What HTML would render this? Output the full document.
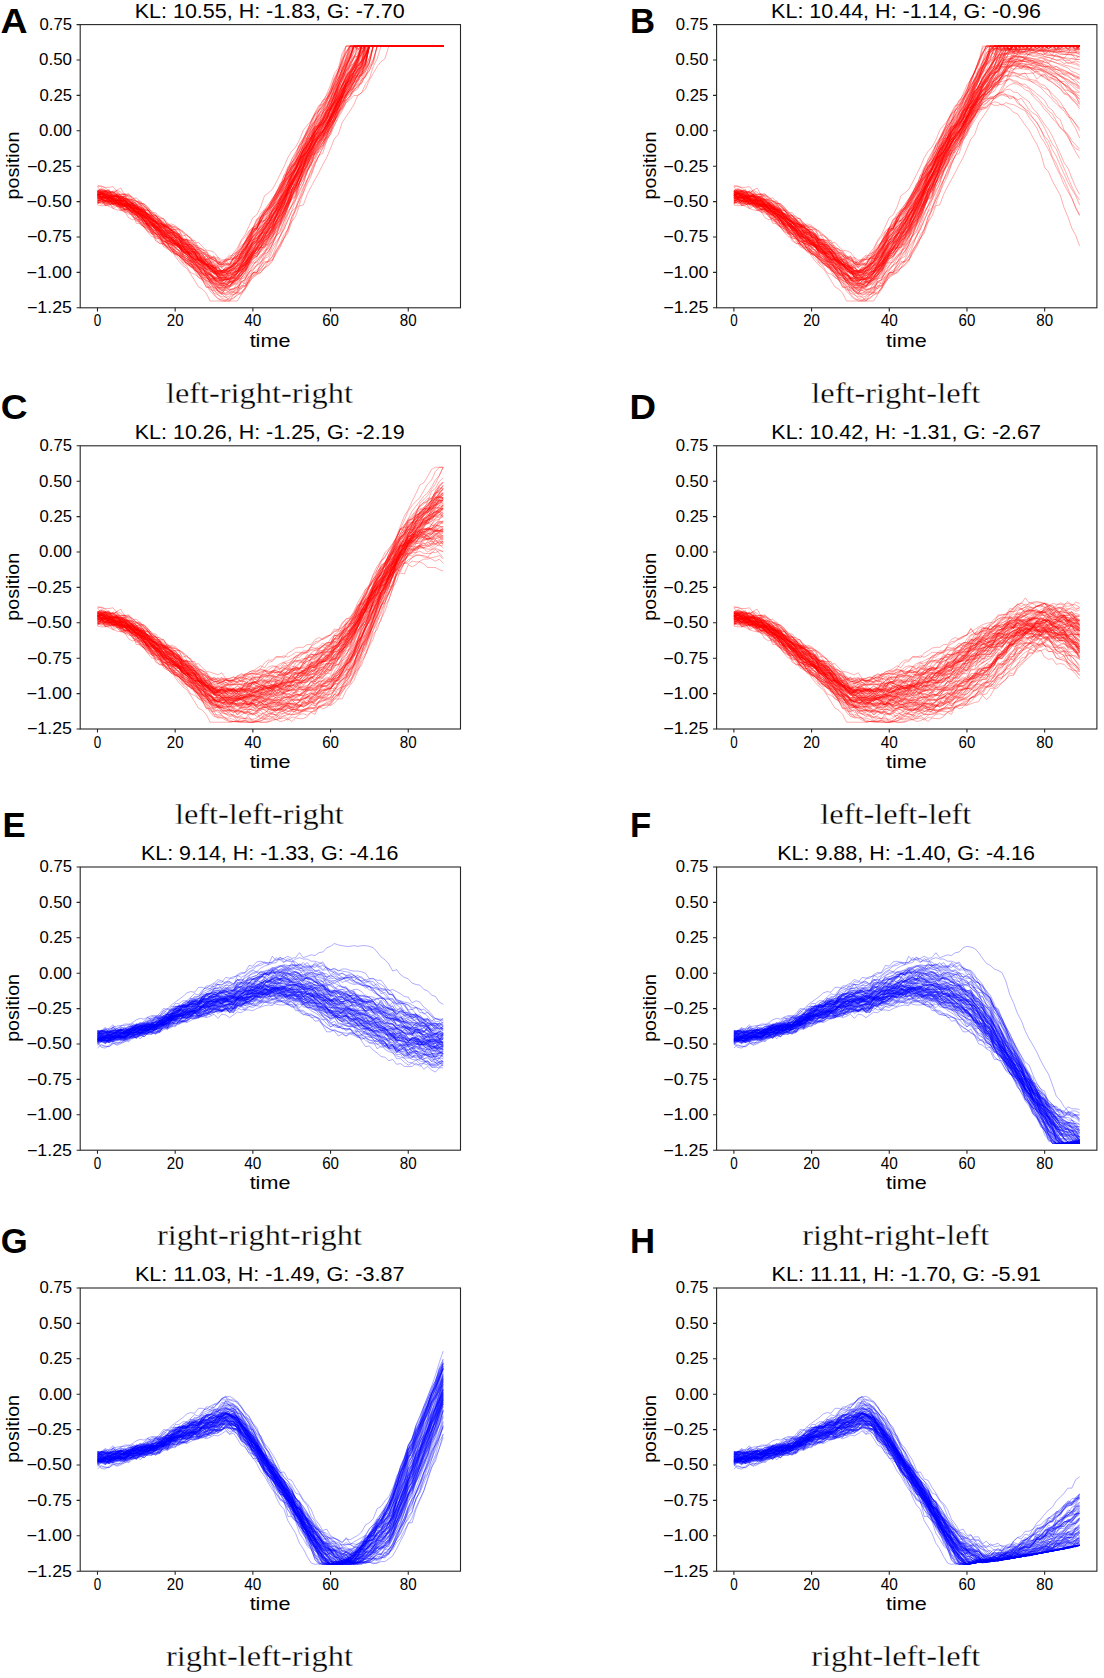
<!DOCTYPE html><html><head><meta charset="utf-8"><style>
html,body{margin:0;padding:0;background:#fff;width:1104px;height:1678px;overflow:hidden}
svg{display:block}
.r{stroke:#f00}.b{stroke:#00f}
use{stroke-width:0.991099132264002;stroke-opacity:0.45}
text{font-family:"Liberation Sans",sans-serif}
.cap{font-family:"Liberation Serif",serif;stroke:#fff;stroke-width:0.3px}
.let{font-weight:bold}
</style></head><body>
<svg width="1104" height="1678" viewBox="0 0 1104 1678">
<defs><g id="rL"><path d="M0 91l5.5-1 5.5 3 5.5 1 5.5-1 5.5 1 5.5 5 5.5 0 5.5-2 5.5 6 5.5-2 5.5-2 5.5 8 5.5 4 5.5 6 5.5 3 5.5 5 5.5-1 5.5 10 5.5 2 5.5 4 5.5 6 5.5 8 5.5 0 5.5 8 5.5 5 5.5 6 5.5 13 5.5 4 5.5 3 5.5 7"/><path d="M0 99l5.5-2 5.5 1 5.5 1 5.5-2 5.5 1 5.5 1 5.5 8 5.5 8 5.5 0 5.5-1 5.5 6 5.5 2 5.5 2 5.5 6 5.5 5 5.5 6 5.5 1 5.5 9 5.5 3 5.5 6 5.5 5 5.5 6 5.5 4 5.5 7 5.5 2 5.5 9 5.5 2 5.5 8 5.5 1 5.5 6"/><path d="M0 85l5.5-2 5.5 1 5.5 2 5.5 1 5.5 3 5.5 1 5.5 5 5.5 8 5.5-1 5.5 2 5.5 8 5.5-3 5.5 13 5.5 7 5.5 6 5.5 9 5.5 3 5.5 2 5.5 4 5.5 5 5.5 5 5.5 7 5.5 2 5.5 5 5.5 5 5.5 6 5.5-1 5.5 9 5.5-2 5.5 5"/><path d="M0 95l5.5 1 5.5-3 5.5 5 5.5 1 5.5 8 5.5-2 5.5 0 5.5 6 5.5 0 5.5 8 5.5-2 5.5 8 5.5 2 5.5 5 5.5 4 5.5 4 5.5 3 5.5 10 5.5 1 5.5 6 5.5 4 5.5-1 5.5 6 5.5 10 5.5 3 5.5 0 5.5 9 5.5-2 5.5 4 5.5 6"/><path d="M0 85l5.5-4 5.5 3 5.5 6 5.5-5 5.5 1 5.5 6 5.5 4 5.5 0 5.5 7 5.5 5 5.5 3 5.5 6 5.5 7 5.5 9 5.5 8 5.5 5 5.5 2 5.5 9 5.5 3 5.5 10 5.5 8 5.5 3 5.5 7 5.5 5 5.5 5 5.5 10 5.5 2 5.5 12 5.5 0 5.5 9"/><path d="M0 104l5.5-4 5.5 5 5.5 0 5.5-3 5.5 3 5.5 3 5.5 3 5.5 5 5.5 2 5.5 13 5.5 0 5.5 5 5.5 3 5.5 2 5.5 9 5.5 0 5.5 10 5.5 5 5.5 0 5.5 10 5.5 2 5.5 5 5.5 8 5.5 1 5.5 5 5.5 6 5.5 6 5.5 4 5.5 5 5.5 6"/><path d="M0 91l5.5-2 5.5 0 5.5 2 5.5 2 5.5 0 5.5 2 5.5 3 5.5 8 5.5 2 5.5 0 5.5 9 5.5 6 5.5 9 5.5 2 5.5 2 5.5 7 5.5 8 5.5 9 5.5-1 5.5 6 5.5 4 5.5 7 5.5 6 5.5 3 5.5 11 5.5 4 5.5 9 5.5 3 5.5 2 5.5 7"/><path d="M0 97l5.5-3 5.5 1 5.5 3 5.5 5 5.5-1 5.5-2 5.5 5 5.5 0 5.5 4 5.5 6 5.5 2 5.5 2 5.5 8 5.5 5 5.5 2 5.5 3 5.5 3 5.5 7 5.5 3 5.5 4 5.5 1 5.5 8 5.5 2 5.5 3 5.5-1 5.5 7 5.5 9 5.5-1 5.5 2 5.5 7"/><path d="M0 87l5.5 2 5.5 3 5.5 5 5.5-1 5.5 1 5.5 8 5.5 0 5.5 7 5.5 3 5.5 4 5.5 10 5.5 3 5.5 6 5.5 4 5.5 3 5.5 6 5.5 6 5.5 1 5.5 11 5.5-2 5.5 3 5.5 10 5.5 8 5.5 2 5.5 5 5.5 3 5.5 8 5.5 5 5.5 4 5.5 0"/><path d="M0 86l5.5 1 5.5 0 5.5 5 5.5 4 5.5-4 5.5 8 5.5-1 5.5 4 5.5 4 5.5 5 5.5 4 5.5 5 5.5 6 5.5 6 5.5 2 5.5 5 5.5 1 5.5 10 5.5 1 5.5 4 5.5 8 5.5 11 5.5-3 5.5 7 5.5 10 5.5 7 5.5-4 5.5 13 5.5-2 5.5 7"/><path d="M0 94l5.5-1 5.5 2 5.5 4 5.5 6 5.5-4 5.5 3 5.5 2 5.5 6 5.5 3 5.5 5 5.5 4 5.5 2 5.5 11 5.5 9 5.5 0 5.5 5 5.5 7 5.5 6 5.5 2 5.5 3 5.5 5 5.5 4 5.5 3 5.5 9 5.5-1 5.5 5 5.5 6 5.5 3 5.5 6 5.5 1"/><path d="M0 91l5.5 2 5.5 1 5.5 0 5.5 4 5.5 2 5.5 1 5.5 2 5.5 2 5.5 0 5.5 5 5.5-1 5.5 9 5.5-1 5.5 4 5.5 4 5.5 2 5.5 5 5.5 3 5.5 4 5.5 8 5.5 6 5.5 7 5.5 3 5.5 1 5.5 11 5.5 8 5.5 6 5.5 5 5.5-1 5.5 5"/><path d="M0 99l5.5-2 5.5 7 5.5-4 5.5 1 5.5 1 5.5 1 5.5 2 5.5 0 5.5 5 5.5 0 5.5 3 5.5 7 5.5 8 5.5 3 5.5 2 5.5 10 5.5 1 5.5 0 5.5 6 5.5 3 5.5 9 5.5 3 5.5 5 5.5 6 5.5 6 5.5 4 5.5 2 5.5 11 5.5 3 5.5 6"/><path d="M0 94l5.5-5 5.5-1 5.5 4 5.5-4 5.5 5 5.5 1 5.5 2 5.5 8 5.5 4 5.5 3 5.5 6 5.5 3 5.5 5 5.5 1 5.5 8 5.5 8 5.5 4 5.5 1 5.5 3 5.5 9 5.5 2 5.5 8 5.5-3 5.5 4 5.5 5 5.5 5 5.5 4 5.5 3 5.5 4 5.5 1"/><path d="M0 94l5.5-1 5.5-3 5.5 9 5.5 6 5.5-3 5.5 9 5.5 2 5.5 2 5.5 6 5.5 7 5.5 1 5.5 7 5.5 6 5.5 3 5.5 11 5.5 3 5.5 1 5.5 7 5.5 3 5.5 3 5.5 4 5.5 1 5.5 3 5.5 3 5.5 2 5.5 1 5.5 8 5.5-1 5.5 6 5.5-3"/><path d="M0 95l5.5-2 5.5 3 5.5-2 5.5 2 5.5 0 5.5 7 5.5 0 5.5 3 5.5 5 5.5 5 5.5 2 5.5 3 5.5 5 5.5 7 5.5 5 5.5 0 5.5 9 5.5 2 5.5 7 5.5 5 5.5 5 5.5 6 5.5 3 5.5 7 5.5 8 5.5 0 5.5 3 5.5 11 5.5 6 5.5 3"/><path d="M0 92l5.5-8 5.5 6 5.5 2 5.5 2 5.5 4 5.5 1 5.5 0 5.5 5 5.5 5 5.5 5 5.5 3 5.5 2 5.5 8 5.5 6 5.5 6 5.5 2 5.5 5 5.5 2 5.5 4 5.5 8 5.5-2 5.5 7 5.5-2 5.5 7 5.5 4 5.5 8 5.5-6 5.5 9 5.5 3 5.5 6"/><path d="M0 87l5.5 3 5.5 1 5.5-4 5.5 4 5.5 3 5.5 2 5.5 1 5.5 0 5.5 1 5.5 2 5.5 5 5.5 7 5.5 1 5.5 4 5.5 3 5.5 7 5.5 3 5.5 6 5.5-2 5.5 2 5.5 4 5.5 4 5.5 9 5.5 3 5.5 6 5.5 5 5.5 6 5.5-1 5.5 8 5.5 7"/><path d="M0 97l5.5-7 5.5 2 5.5 3 5.5 0 5.5 0 5.5 3 5.5-2 5.5 3 5.5 6 5.5 4 5.5 2 5.5-1 5.5 4 5.5 8 5.5-2 5.5 6 5.5 2 5.5 5 5.5-1 5.5 2 5.5 5 5.5 3 5.5 5 5.5 6 5.5 6 5.5 7 5.5 5 5.5 5 5.5 2 5.5 5"/><path d="M0 92l5.5 1 5.5 1 5.5 1 5.5 3 5.5 3 5.5 1 5.5 2 5.5 4 5.5 1 5.5 8 5.5 0 5.5 7 5.5 5 5.5 2 5.5 8 5.5 0 5.5 7 5.5 3 5.5 4 5.5 7 5.5 1 5.5 5 5.5 1 5.5 11 5.5 1 5.5 9 5.5 4 5.5 4 5.5 7 5.5 6"/><path d="M0 95l5.5 0 5.5 4 5.5 2 5.5-1 5.5 2 5.5 1 5.5-5 5.5 9 5.5-1 5.5 4 5.5 3 5.5 3 5.5 5 5.5 6 5.5 2 5.5 3 5.5 10 5.5 4 5.5 7 5.5 3 5.5 5 5.5 6 5.5 2 5.5 9 5.5 2 5.5 8 5.5 2 5.5 6 5.5 6 5.5 4"/><path d="M0 105l5.5 1 5.5 0 5.5-1 5.5-3 5.5 1 5.5 8 5.5 0 5.5 1 5.5 8 5.5 5 5.5 1 5.5 2 5.5 5 5.5 6 5.5 2 5.5 8 5.5 11 5.5 3 5.5 2 5.5 5 5.5 3 5.5 8 5.5 3 5.5 5 5.5 3 5.5 5 5.5 5 5.5 5 5.5 5 5.5 3"/><path d="M0 93l5.5 2 5.5-1 5.5-1 5.5-1 5.5 1 5.5 6 5.5 3 5.5-5 5.5 6 5.5 9 5.5-3 5.5 4 5.5 4 5.5 9 5.5 1 5.5 7 5.5 3 5.5 3 5.5 4 5.5 3 5.5 6 5.5 6 5.5 3 5.5-1 5.5 6 5.5 10 5.5 4 5.5 1 5.5 1 5.5 13"/><path d="M0 95l5.5 2 5.5 2 5.5 0 5.5-3 5.5 10 5.5 1 5.5-3 5.5 7 5.5 3 5.5 0 5.5 7 5.5 3 5.5 0 5.5 7 5.5 1 5.5-1 5.5 2 5.5 2 5.5 5 5.5 5 5.5 4 5.5 4 5.5 5 5.5 7 5.5 3 5.5 0 5.5 4 5.5 5 5.5 7 5.5 1"/><path d="M0 95l5.5-9 5.5 5 5.5 1 5.5 1 5.5 1 5.5 3 5.5 7 5.5 0 5.5 2 5.5 9 5.5-2 5.5 2 5.5 8 5.5 1 5.5 8 5.5 3 5.5 3 5.5 5 5.5 3 5.5 4 5.5 5 5.5 5 5.5 4 5.5 3 5.5 4 5.5 6 5.5 6 5.5 5 5.5 5 5.5-3"/><path d="M0 99l5.5-5 5.5 6 5.5 0 5.5 0 5.5-2 5.5 4 5.5 10 5.5-5 5.5 5 5.5 7 5.5 7 5.5 8 5.5 3 5.5 3 5.5 6 5.5 3 5.5 8 5.5-2 5.5 4 5.5 2 5.5 1 5.5 9 5.5 4 5.5-3 5.5 4 5.5 6 5.5 4 5.5 5 5.5-3 5.5 6"/><path d="M0 90l5.5 5 5.5 1 5.5 2 5.5 0 5.5 2 5.5-2 5.5 3 5.5 0 5.5 10 5.5 2 5.5 7 5.5 7 5.5 7 5.5 2 5.5 0 5.5 5 5.5 9 5.5 6 5.5 0 5.5 5 5.5 3 5.5 7 5.5 1 5.5 7 5.5 6 5.5 9 5.5 4 5.5 2 5.5 10 5.5 5"/><path d="M0 91l5.5-1 5.5 6 5.5 1 5.5 5 5.5-2 5.5 9 5.5-2 5.5 2 5.5 7 5.5 6 5.5 9 5.5 6 5.5 7 5.5 6 5.5 1 5.5 2 5.5 7 5.5 5 5.5 7 5.5-2 5.5 2 5.5 5 5.5 4 5.5 4 5.5 7 5.5 7 5.5 3 5.5 1 5.5 6 5.5 6"/><path d="M0 91l5.5-1 5.5-5 5.5 9 5.5-1 5.5 0 5.5 3 5.5 1 5.5 8 5.5-1 5.5 8 5.5 5 5.5 5 5.5 8 5.5 4 5.5 4 5.5 4 5.5 8 5.5 0 5.5 9 5.5 1 5.5 6 5.5 4 5.5 5 5.5 8 5.5 8 5.5 1 5.5 3 5.5 6 5.5 3 5.5 7"/><path d="M0 90l5.5 0 5.5-3 5.5 5 5.5 1 5.5 3 5.5 4 5.5 2 5.5 2 5.5 4 5.5 2 5.5 10 5.5 3 5.5 2 5.5 8 5.5 4 5.5 7 5.5 5 5.5 3 5.5 2 5.5 2 5.5 3 5.5 6 5.5 1 5.5 2 5.5 6 5.5 0 5.5 6 5.5-2 5.5 1 5.5 5"/><path d="M0 101l5.5 1 5.5-1 5.5-1 5.5 0 5.5 2 5.5 4 5.5 6 5.5-1 5.5 2 5.5 6 5.5 4 5.5 9 5.5 0 5.5 8 5.5 2 5.5 6 5.5 8 5.5 3 5.5 8 5.5 11 5.5 7 5.5 6 5.5 4 5.5 8 5.5 9 5.5 9 5.5 3 5.5 6 5.5 11 5.5 0"/><path d="M0 100l5.5-3 5.5 3 5.5-1 5.5 5 5.5-3 5.5 8 5.5-5 5.5 5 5.5 9 5.5 4 5.5 1 5.5 8 5.5 1 5.5 11 5.5 2 5.5 4 5.5 4 5.5 7 5.5 8 5.5 3 5.5 4 5.5 3 5.5 7 5.5 3 5.5 6 5.5 7 5.5 2 5.5 2 5.5 8 5.5-1"/><path d="M0 89l5.5 3 5.5 3 5.5-3 5.5 4 5.5 2 5.5 3 5.5 5 5.5 6 5.5 4 5.5 0 5.5 13 5.5 7 5.5-3 5.5 13 5.5 0 5.5 6 5.5 7 5.5 3 5.5-1 5.5 13 5.5-1 5.5 10 5.5 0 5.5 9 5.5 1 5.5 11 5.5 4 5.5-1 5.5 6 5.5-5"/><path d="M0 102l5.5-5 5.5 2 5.5 3 5.5-1 5.5 2 5.5 3 5.5 0 5.5 4 5.5 4 5.5-5 5.5 7 5.5 8 5.5-3 5.5 9 5.5 4 5.5 7 5.5 5 5.5 1 5.5 2 5.5 4 5.5 8 5.5 1 5.5 2 5.5 10 5.5 4 5.5 6 5.5 1 5.5 4 5.5-1 5.5 6"/><path d="M0 103l5.5-3 5.5 0 5.5 2 5.5 2 5.5 2 5.5 3 5.5 7 5.5-2 5.5 8 5.5 2 5.5 6 5.5 6 5.5 3 5.5 4 5.5 10 5.5 7 5.5 0 5.5 5 5.5 3 5.5 6 5.5 1 5.5 12 5.5 0 5.5 5 5.5 5 5.5 3 5.5 5 5.5 5 5.5-2 5.5 3"/><path d="M0 89l5.5-1 5.5 4 5.5 1 5.5 8 5.5-7 5.5 5 5.5 1 5.5 4 5.5 4 5.5 2 5.5 2 5.5 5 5.5 10 5.5 2 5.5-1 5.5 13 5.5 5 5.5-1 5.5 10 5.5 0 5.5-1 5.5 10 5.5 1 5.5 9 5.5 2 5.5 7 5.5 3 5.5 5 5.5 5 5.5 4"/><path d="M0 94l5.5 0 5.5 0 5.5 6 5.5-3 5.5 4 5.5 6 5.5-2 5.5 6 5.5 2 5.5 5 5.5 4 5.5 3 5.5 12 5.5-1 5.5 1 5.5 8 5.5 3 5.5 3 5.5 7 5.5 2 5.5 4 5.5 2 5.5 6 5.5 5 5.5 5 5.5 6 5.5 5 5.5 4 5.5 6 5.5 6"/><path d="M0 90l5.5 1 5.5 3 5.5-2 5.5 6 5.5 1 5.5 1 5.5 7 5.5 0 5.5 3 5.5 7 5.5 3 5.5 7 5.5 8 5.5-3 5.5 8 5.5 4 5.5 5 5.5 1 5.5 8 5.5 4 5.5 0 5.5 5 5.5 4 5.5 3 5.5 4 5.5 6 5.5 4 5.5 2 5.5 4 5.5 2"/><path d="M0 89l5.5 7 5.5-1 5.5-2 5.5 6 5.5-1 5.5 8 5.5 1 5.5 3 5.5-1 5.5 6 5.5 3 5.5 9 5.5 2 5.5 5 5.5 2 5.5 3 5.5 8 5.5 4 5.5 2 5.5 2 5.5 6 5.5 7 5.5 10 5.5 7 5.5 4 5.5 4 5.5 12 5.5 0 5.5 11 5.5 1"/><path d="M0 89l5.5 5 5.5-4 5.5 1 5.5 2 5.5 0 5.5 1 5.5 4 5.5 11 5.5 0 5.5 4 5.5 2 5.5-2 5.5 5 5.5 8 5.5 1 5.5 6 5.5 4 5.5 5 5.5-2 5.5 6 5.5 0 5.5 5 5.5 4 5.5 9 5.5-4 5.5 11 5.5 4 5.5 5 5.5 7 5.5 5"/><path d="M0 85l5.5-2 5.5 3 5.5 2 5.5 5 5.5-3 5.5 4 5.5 0 5.5 4 5.5 7 5.5 4 5.5 3 5.5 4 5.5 5 5.5 6 5.5 1 5.5 8 5.5 7 5.5 3 5.5 7 5.5 3 5.5 0 5.5 6 5.5 9 5.5-1 5.5 2 5.5 9 5.5 4 5.5 0 5.5 5 5.5 3"/><path d="M0 102l5.5-7 5.5 11 5.5-4 5.5 1 5.5 0 5.5 4 5.5 0 5.5 1 5.5 1 5.5 9 5.5-4 5.5 8 5.5-4 5.5 8 5.5 1 5.5 5 5.5 1 5.5 3 5.5 3 5.5 1 5.5-1 5.5 4 5.5 6 5.5 2 5.5 8 5.5-1 5.5 6 5.5 5 5.5 1 5.5 2"/><path d="M0 101l5.5-5 5.5 3 5.5-2 5.5 6 5.5 2 5.5-2 5.5 6 5.5-5 5.5 5 5.5 5 5.5-3 5.5 7 5.5 2 5.5 2 5.5 6 5.5 3 5.5 4 5.5 9 5.5 0 5.5 1 5.5 4 5.5 7 5.5 5 5.5 0 5.5 7 5.5 6 5.5 0 5.5 10 5.5 2 5.5 1"/><path d="M0 79l5.5-1 5.5 3 5.5 4 5.5 3 5.5-4 5.5-3 5.5 10 5.5-1 5.5 4 5.5 5 5.5 3 5.5 4 5.5 4 5.5 4 5.5 5 5.5 8 5.5 3 5.5 7 5.5 4 5.5 2 5.5 7 5.5 3 5.5 8 5.5 5 5.5 6 5.5 9 5.5 3 5.5 5 5.5 1 5.5 8"/><path d="M0 97l5.5 3 5.5-2 5.5 2 5.5-1 5.5 7 5.5 1 5.5 6 5.5-3 5.5 9 5.5 0 5.5 5 5.5 3 5.5 9 5.5 1 5.5 6 5.5 2 5.5 8 5.5-2 5.5 6 5.5 5 5.5 2 5.5 4 5.5 5 5.5 0 5.5 4 5.5 5 5.5 4 5.5 1 5.5 8 5.5 8"/><path d="M0 87l5.5-4 5.5 2 5.5 1 5.5 1 5.5 6 5.5-1 5.5 4 5.5 7 5.5-3 5.5 9 5.5 9 5.5 3 5.5 4 5.5 4 5.5 7 5.5 6 5.5 8 5.5 4 5.5 7 5.5 3 5.5 7 5.5 8 5.5 4 5.5 4 5.5 11 5.5 3 5.5 10 5.5 4 5.5 10 5.5 1"/><path d="M0 87l5.5 2 5.5 0 5.5 2 5.5 1 5.5 0 5.5 1 5.5 2 5.5 4 5.5 5 5.5 7 5.5 0 5.5 2 5.5 9 5.5 0 5.5 8 5.5-4 5.5 10 5.5 4 5.5 4 5.5 0 5.5 7 5.5 10 5.5-2 5.5 8 5.5 10 5.5 1 5.5 8 5.5 3 5.5 9 5.5 3"/><path d="M0 86l5.5-1 5.5 2 5.5 4 5.5 0 5.5-1 5.5 8 5.5-1 5.5 3 5.5 3 5.5 4 5.5 5 5.5 7 5.5 6 5.5-1 5.5 6 5.5 1 5.5 1 5.5 9 5.5 5 5.5 4 5.5 8 5.5 6 5.5 1 5.5 7 5.5 1 5.5 9 5.5 5 5.5 6 5.5 2 5.5 4"/><path d="M0 95l5.5 6 5.5-1 5.5 3 5.5 1 5.5-3 5.5 5 5.5 1 5.5-1 5.5 2 5.5 3 5.5 4 5.5 7 5.5 5 5.5 0 5.5 3 5.5 5 5.5 7 5.5 0 5.5 4 5.5 2 5.5 3 5.5 6 5.5 5 5.5 5 5.5 5 5.5 9 5.5 5 5.5 4 5.5 3 5.5 4"/><path d="M0 90l5.5 0 5.5-1 5.5-1 5.5 9 5.5-5 5.5 2 5.5 4 5.5 8 5.5 0 5.5 3 5.5 0 5.5 6 5.5 2 5.5 2 5.5 5 5.5 5 5.5 5 5.5 7 5.5 1 5.5 7 5.5 3 5.5 8 5.5-1 5.5 6 5.5 4 5.5 7 5.5 8 5.5 5 5.5 6 5.5 5"/><path d="M0 89l5.5 1 5.5 2 5.5 2 5.5 1 5.5 2 5.5 2 5.5 3 5.5 5 5.5-1 5.5 2 5.5 6 5.5 1 5.5 3 5.5 4 5.5 9 5.5 3 5.5-2 5.5 9 5.5 3 5.5 6 5.5 3 5.5 7 5.5 3 5.5 4 5.5 5 5.5 7 5.5 1 5.5 5 5.5 3 5.5 7"/><path d="M0 90l5.5 5 5.5-1 5.5 2 5.5 2 5.5 7 5.5-1 5.5 7 5.5 2 5.5 3 5.5 1 5.5 9 5.5 5 5.5 9 5.5 4 5.5 1 5.5 11 5.5 6 5.5 3 5.5 7 5.5 3 5.5 6 5.5 7 5.5 4 5.5 9 5.5 2 5.5 4 5.5 5 5.5 6 5.5 9 5.5 6"/><path d="M0 91l5.5-4 5.5 2 5.5 4 5.5 3 5.5 0 5.5 7 5.5 0 5.5 3 5.5 7 5.5 2 5.5 7 5.5 1 5.5 9 5.5 7 5.5-1 5.5 10 5.5 1 5.5 10 5.5 2 5.5 5 5.5 3 5.5 7 5.5 2 5.5 9 5.5-1 5.5 8 5.5 8 5.5 3 5.5 6 5.5-2"/><path d="M0 90l5.5 2 5.5-1 5.5 3 5.5 3 5.5 2 5.5-4 5.5 1 5.5 4 5.5 2 5.5 5 5.5 0 5.5 9 5.5 4 5.5 6 5.5 5 5.5 5 5.5 5 5.5 0 5.5 4 5.5 4 5.5 10 5.5 4 5.5 2 5.5 7 5.5 0 5.5 10 5.5 2 5.5 1 5.5 6 5.5 3"/><path d="M0 87l5.5 1 5.5 4 5.5 3 5.5 1 5.5 3 5.5-2 5.5 4 5.5 4 5.5 6 5.5 0 5.5 4 5.5 1 5.5 8 5.5 1 5.5 4 5.5 5 5.5 4 5.5 6 5.5 3 5.5 4 5.5 10 5.5 10 5.5 0 5.5 9 5.5 6 5.5 10 5.5 1 5.5 6 5.5 6 5.5 10"/><path d="M0 102l5.5-4 5.5 2 5.5-4 5.5 7 5.5 0 5.5 2 5.5-2 5.5 5 5.5 4 5.5 0 5.5 7 5.5 1 5.5 5 5.5 8 5.5 1 5.5 5 5.5 5 5.5 6 5.5 2 5.5 5 5.5 7 5.5 3 5.5 4 5.5 4 5.5 5 5.5 3 5.5 4 5.5 2 5.5 9 5.5 4"/><path d="M0 93l5.5-1 5.5 6 5.5 3 5.5-5 5.5 5 5.5 5 5.5-1 5.5 3 5.5 2 5.5 6 5.5 7 5.5 8 5.5 3 5.5 5 5.5 5 5.5 2 5.5 9 5.5 5 5.5-2 5.5 9 5.5 2 5.5 8 5.5 8 5.5-1 5.5 4 5.5 7 5.5 6 5.5 7 5.5 4 5.5 4"/><path d="M0 92l5.5 0 5.5 4 5.5 1 5.5 7 5.5-3 5.5 7 5.5-1 5.5 6 5.5 0 5.5 11 5.5-4 5.5 6 5.5 8 5.5 10 5.5-4 5.5 8 5.5 8 5.5 1 5.5 1 5.5 4 5.5 3 5.5 7 5.5 0 5.5 12 5.5-2 5.5 1 5.5 3 5.5 6 5.5 0 5.5 2"/><path d="M0 84l5.5 2 5.5-1 5.5 0 5.5 8 5.5-3 5.5 8 5.5 1 5.5 5 5.5 2 5.5 1 5.5 3 5.5 5 5.5-3 5.5 8 5.5 1 5.5 4 5.5 10 5.5-4 5.5 4 5.5 2 5.5 5 5.5 7 5.5-2 5.5 6 5.5 10 5.5 3 5.5 6 5.5 2 5.5 6 5.5-3"/><path d="M0 90l5.5 5 5.5 4 5.5-2 5.5 3 5.5-1 5.5-1 5.5 6 5.5 2 5.5-1 5.5 2 5.5 5 5.5-1 5.5 11 5.5 3 5.5-2 5.5 6 5.5 5 5.5 3 5.5 2 5.5 5 5.5 4 5.5 9 5.5 0 5.5 2 5.5 9 5.5 6 5.5 4 5.5 4 5.5 5 5.5 4"/><path d="M0 93l5.5 2 5.5-3 5.5 10 5.5-4 5.5 2 5.5 3 5.5 2 5.5 2 5.5 5 5.5 2 5.5 1 5.5 4 5.5 2 5.5 4 5.5 11 5.5 0 5.5 0 5.5 0 5.5 5 5.5-1 5.5 7 5.5 8 5.5 0 5.5 0 5.5 0 5.5 11 5.5 2 5.5 3 5.5 10 5.5-3"/><path d="M0 99l5.5-1 5.5 5 5.5 1 5.5 1 5.5 2 5.5 5 5.5 2 5.5 4 5.5 0 5.5 9 5.5-1 5.5 3 5.5 4 5.5 6 5.5 8 5.5-1 5.5 5 5.5 6 5.5-2 5.5 4 5.5 5 5.5 5 5.5 1 5.5 3 5.5 6 5.5 4 5.5-2 5.5 11 5.5-7 5.5 9"/><path d="M0 92l5.5 3 5.5 2 5.5-1 5.5-2 5.5 9 5.5-1 5.5 5 5.5 0 5.5 3 5.5 5 5.5 0 5.5 4 5.5 5 5.5 6 5.5 3 5.5 6 5.5 9 5.5 4 5.5 7 5.5 0 5.5 6 5.5 7 5.5 4 5.5 4 5.5-2 5.5 7 5.5 7 5.5 10 5.5-1 5.5 8"/><path d="M0 86l5.5-1 5.5 1 5.5 2 5.5-2 5.5 5 5.5-1 5.5 0 5.5-1 5.5 7 5.5-1 5.5 6 5.5 3 5.5 8 5.5 8 5.5-1 5.5 13 5.5 0 5.5 1 5.5 11 5.5 6 5.5 8 5.5-5 5.5 8 5.5 1 5.5 9 5.5 12 5.5 3 5.5 2 5.5 5 5.5 1"/><path d="M0 97l5.5-3 5.5 2 5.5 3 5.5 0 5.5 5 5.5 0 5.5 0 5.5 2 5.5 4 5.5 5 5.5-3 5.5 13 5.5 7 5.5-4 5.5 9 5.5-1 5.5 8 5.5 4 5.5 4 5.5 3 5.5 2 5.5 4 5.5 6 5.5 7 5.5 0 5.5 5 5.5 3 5.5 2 5.5 7 5.5 1"/><path d="M0 102l5.5-2 5.5 2 5.5 0 5.5 8 5.5 2 5.5 1 5.5-2 5.5-1 5.5 7 5.5 3 5.5 1 5.5 8 5.5 4 5.5 2 5.5 5 5.5 8 5.5-3 5.5 11 5.5 8 5.5-4 5.5 5 5.5 10 5.5 4 5.5 3 5.5 9 5.5 4 5.5 8 5.5 6 5.5 3 5.5 13"/><path d="M0 86l5.5 2 5.5 2 5.5-4 5.5 6 5.5 0 5.5 1 5.5 1 5.5-3 5.5 6 5.5 2 5.5 4 5.5 0 5.5 6 5.5 7 5.5 5 5.5 0 5.5 5 5.5 4 5.5 7 5.5-1 5.5 3 5.5 14 5.5 1 5.5 5 5.5 7 5.5 7 5.5 6 5.5 5 5.5 12 5.5 1"/><path d="M0 88l5.5 0 5.5-2 5.5 2 5.5 2 5.5 3 5.5 5 5.5 2 5.5 6 5.5 4 5.5 6 5.5 0 5.5 10 5.5 5 5.5 7 5.5 6 5.5 4 5.5 4 5.5 8 5.5 3 5.5 8 5.5 7 5.5 3 5.5 5 5.5 6 5.5 4 5.5 7 5.5 8 5.5 10 5.5 0 5.5 9"/><path d="M0 79l5.5 8 5.5-2 5.5 2 5.5 0 5.5 1 5.5 3 5.5-1 5.5 9 5.5-2 5.5 7 5.5 4 5.5 6 5.5 4 5.5 8 5.5 2 5.5 9 5.5 1 5.5 7 5.5 2 5.5 11 5.5 2 5.5 9 5.5 2 5.5 7 5.5 8 5.5 5 5.5 5 5.5 2 5.5 7 5.5 4"/><path d="M0 96l5.5 0 5.5-5 5.5 9 5.5 3 5.5 1 5.5-1 5.5 4 5.5 3 5.5 4 5.5-1 5.5 6 5.5 8 5.5 1 5.5 2 5.5 5 5.5 4 5.5 11 5.5 6 5.5 1 5.5 0 5.5 6 5.5 7 5.5 3 5.5 1 5.5 1 5.5 7 5.5 1 5.5 7 5.5 7 5.5 3"/><path d="M0 104l5.5-7 5.5 4 5.5 3 5.5-2 5.5 5 5.5 2 5.5 1 5.5 2 5.5 3 5.5 5 5.5 1 5.5 6 5.5 4 5.5 5 5.5-5 5.5 5 5.5 6 5.5 5 5.5 4 5.5 2 5.5 8 5.5 3 5.5 4 5.5 8 5.5 12 5.5 4 5.5 9 5.5 4 5.5 10 5.5 5"/><path d="M0 101l5.5 1 5.5 3 5.5 2 5.5 3 5.5-3 5.5 6 5.5 1 5.5 9 5.5 3 5.5-2 5.5 9 5.5 3 5.5 7 5.5 3 5.5 3 5.5 3 5.5 7 5.5-1 5.5 4 5.5-4 5.5 3 5.5 3 5.5 5 5.5-3 5.5 5 5.5 0 5.5 6 5.5 6 5.5-2 5.5 2"/><path d="M0 90l5.5 0 5.5-2 5.5 1 5.5 3 5.5 2 5.5 1 5.5 0 5.5 6 5.5 2 5.5 1 5.5 8 5.5 1 5.5 9 5.5 8 5.5 7 5.5 3 5.5 4 5.5 7 5.5 0 5.5 14 5.5-1 5.5 5 5.5 6 5.5 10 5.5 0 5.5 3 5.5 8 5.5 3 5.5 8 5.5 5"/><path d="M0 89l5.5 1 5.5 1 5.5 2 5.5 5 5.5 1 5.5 3 5.5 2 5.5 4 5.5 2 5.5 0 5.5 9 5.5 2 5.5 6 5.5 5 5.5 5 5.5 7 5.5 8 5.5 1 5.5 8 5.5 1 5.5 1 5.5 9 5.5 1 5.5 3 5.5 6 5.5 10 5.5 4 5.5 5 5.5 2 5.5 6"/><path d="M0 91l5.5 2 5.5-1 5.5 4 5.5 2 5.5 0 5.5 4 5.5 0 5.5 5 5.5 4 5.5 4 5.5 4 5.5 8 5.5 6 5.5 1 5.5 7 5.5 1 5.5 9 5.5-3 5.5 4 5.5 4 5.5 7 5.5 3 5.5 2 5.5 10 5.5 3 5.5 3 5.5 3 5.5 8 5.5 0 5.5 6"/><path d="M0 99l5.5-1 5.5 2 5.5 1 5.5-1 5.5-2 5.5 3 5.5 2 5.5 3 5.5-2 5.5 5 5.5 5 5.5 4 5.5 4 5.5 5 5.5 3 5.5 2 5.5 3 5.5 9 5.5 0 5.5 4 5.5 5 5.5 8 5.5 0 5.5 4 5.5 8 5.5 0 5.5 9 5.5 7 5.5 0 5.5 9"/><path d="M0 92l5.5 2 5.5 1 5.5 5 5.5-1 5.5 0 5.5 5 5.5 2 5.5 4 5.5 6 5.5 3 5.5-2 5.5 3 5.5 12 5.5-3 5.5 13 5.5-2 5.5 3 5.5-1 5.5 1 5.5 8 5.5-1 5.5 5 5.5-1 5.5 3 5.5 5 5.5 1 5.5 6 5.5 1 5.5 7 5.5 4"/><path d="M0 100l5.5 4 5.5-3 5.5-2 5.5 3 5.5 0 5.5 3 5.5 7 5.5 0 5.5 4 5.5 3 5.5 6 5.5 2 5.5 3 5.5 4 5.5 5 5.5 2 5.5 9 5.5 6 5.5-1 5.5 5 5.5 2 5.5 7 5.5 1 5.5 4 5.5 8 5.5 0 5.5 6 5.5 2 5.5 9 5.5 3"/><path d="M0 97l5.5-2 5.5 4 5.5-3 5.5 0 5.5 2 5.5 0 5.5 1 5.5 2 5.5 4 5.5 5 5.5 3 5.5 5 5.5 4 5.5 1 5.5 3 5.5 3 5.5 7 5.5-2 5.5 11 5.5-2 5.5 5 5.5 7 5.5 2 5.5 1 5.5 6 5.5 2 5.5 1 5.5 8 5.5 2 5.5 4"/><path d="M0 87l5.5-1 5.5 4 5.5 2 5.5 2 5.5-4 5.5 9 5.5 0 5.5 3 5.5 6 5.5 1 5.5 2 5.5 10 5.5 1 5.5 5 5.5 7 5.5 3 5.5 1 5.5 5 5.5 5 5.5 5 5.5 5 5.5 0 5.5 10 5.5 2 5.5 13 5.5 0 5.5 5 5.5 6 5.5 4 5.5 11"/><path d="M0 98l5.5-2 5.5-1 5.5 0 5.5 1 5.5 0 5.5 6 5.5 2 5.5-1 5.5 3 5.5-1 5.5 10 5.5 1 5.5 2 5.5 3 5.5 8 5.5 1 5.5 4 5.5 4 5.5 3 5.5-2 5.5 10 5.5 6 5.5-1 5.5 8 5.5 3 5.5 3 5.5 5 5.5 4 5.5 5 5.5-3"/><path d="M0 92l5.5-1 5.5 3 5.5 2 5.5 5 5.5-2 5.5 0 5.5 1 5.5 7 5.5-6 5.5 10 5.5 1 5.5 4 5.5 2 5.5 8 5.5 5 5.5 2 5.5 3 5.5 1 5.5 3 5.5 7 5.5 4 5.5 7 5.5 1 5.5 11 5.5 3 5.5-1 5.5 6 5.5 11 5.5 2 5.5 4"/><path d="M0 93l5.5-3 5.5 1 5.5 1 5.5 5 5.5 2 5.5-4 5.5 4 5.5 1 5.5 5 5.5 1 5.5 4 5.5 1 5.5 7 5.5 3 5.5 7 5.5 1 5.5 5 5.5 2 5.5 6 5.5 1 5.5 3 5.5 13 5.5 3 5.5 3 5.5 3 5.5 8 5.5 4 5.5 4 5.5 12 5.5-1"/><path d="M0 85l5.5 2 5.5 0 5.5 1 5.5 8 5.5 3 5.5-3 5.5 2 5.5 6 5.5 4 5.5 8 5.5 2 5.5 3 5.5 9 5.5 5 5.5 4 5.5 3 5.5 5 5.5 4 5.5 4 5.5 1 5.5 7 5.5 11 5.5 1 5.5 1 5.5 6 5.5 7 5.5 1 5.5 10 5.5 4 5.5 3"/><path d="M0 77l5.5 2 5.5 1 5.5 0 5.5-1 5.5 7 5.5 4 5.5-1 5.5 4 5.5 7 5.5 4 5.5-1 5.5 9 5.5 7 5.5 8 5.5 2 5.5 6 5.5 5 5.5 5 5.5 2 5.5 11 5.5 1 5.5 5 5.5 8 5.5 8 5.5 5 5.5 4 5.5 12 5.5 2 5.5 3 5.5 4"/><path d="M0 86l5.5 2 5.5 3 5.5-1 5.5 4 5.5 8 5.5 0 5.5 4 5.5 4 5.5 1 5.5 6 5.5 3 5.5 6 5.5 8 5.5 6 5.5 6 5.5 6 5.5 4 5.5 4 5.5 8 5.5 6 5.5 2 5.5 6 5.5 6 5.5 0 5.5 8 5.5 6 5.5 8 5.5 5 5.5 5 5.5 6"/><path d="M0 99l5.5 0 5.5 4 5.5 0 5.5 5 5.5-5 5.5 1 5.5 6 5.5 1 5.5-1 5.5 6 5.5 3 5.5 0 5.5 5 5.5 9 5.5-3 5.5 5 5.5 1 5.5 7 5.5 5 5.5 3 5.5 3 5.5 10 5.5 9 5.5-2 5.5 0 5.5 12 5.5 7 5.5 6 5.5 2 5.5 3"/><path d="M0 90l5.5-1 5.5 4 5.5 2 5.5-1 5.5-1 5.5 8 5.5-2 5.5 6 5.5-2 5.5 9 5.5-1 5.5 9 5.5 5 5.5 1 5.5 4 5.5 8 5.5 3 5.5 7 5.5 4 5.5 6 5.5 2 5.5 5 5.5 6 5.5 8 5.5 4 5.5 3 5.5 6 5.5 3 5.5 6 5.5 7"/><path d="M0 95l5.5-1 5.5-2 5.5 4 5.5 3 5.5-3 5.5 8 5.5 0 5.5-1 5.5 5 5.5 6 5.5 6 5.5 2 5.5 1 5.5 1 5.5 4 5.5 6 5.5-1 5.5 6 5.5 2 5.5 7 5.5 0 5.5 10 5.5 0 5.5 5 5.5 2 5.5 5 5.5 5 5.5 6 5.5-1 5.5 3"/><path d="M0 87l5.5 1 5.5 6 5.5-2 5.5 3 5.5-4 5.5 5 5.5 5 5.5 2 5.5-1 5.5 5 5.5 6 5.5 2 5.5 4 5.5 1 5.5 5 5.5 6 5.5-1 5.5 8 5.5 2 5.5 5 5.5 5 5.5 6 5.5 3 5.5 2 5.5 8 5.5 0 5.5 5 5.5 2 5.5 9 5.5 4"/><path d="M0 88l5.5 1 5.5 1 5.5 5 5.5-5 5.5 5 5.5 3 5.5-6 5.5 7 5.5 3 5.5 4 5.5-3 5.5 8 5.5 1 5.5 7 5.5 5 5.5 2 5.5 7 5.5 1 5.5 3 5.5 12 5.5-4 5.5 9 5.5 2 5.5 8 5.5 5 5.5 3 5.5 12 5.5 0 5.5 4 5.5 9"/><path d="M0 91l5.5-4 5.5 3 5.5 1 5.5 3 5.5-1 5.5 4 5.5 5 5.5 3 5.5 7 5.5 4 5.5 4 5.5 7 5.5 10 5.5 4 5.5 12 5.5-1 5.5 12 5.5 3 5.5 3 5.5 4 5.5 3 5.5 7 5.5 3 5.5 6 5.5 0 5.5 2 5.5 7 5.5 4 5.5 8 5.5 3"/><path d="M0 95l5.5 2 5.5 0 5.5-2 5.5 3 5.5 3 5.5 1 5.5-2 5.5 1 5.5 7 5.5-3 5.5 7 5.5 2 5.5 3 5.5 7 5.5 6 5.5 3 5.5 3 5.5 1 5.5 14 5.5 0 5.5 0 5.5 12 5.5 1 5.5 7 5.5 0 5.5 9 5.5 3 5.5 6 5.5 2 5.5 3"/><path d="M0 88l5.5-1 5.5-1 5.5-3 5.5 12 5.5-4 5.5 2 5.5 0 5.5 7 5.5 3 5.5 6 5.5-2 5.5 6 5.5 6 5.5 4 5.5 7 5.5 4 5.5 4 5.5 7 5.5 1 5.5 4 5.5 4 5.5 10 5.5 7 5.5 7 5.5 5 5.5 2 5.5 11 5.5 4 5.5 4 5.5 2"/><path d="M0 90l5.5-1 5.5 7 5.5 0 5.5-5 5.5 1 5.5 4 5.5 2 5.5 4 5.5 9 5.5-2 5.5-4 5.5 13 5.5 1 5.5 8 5.5 10 5.5-1 5.5 7 5.5 13 5.5 1 5.5 8 5.5-1 5.5 11 5.5 3 5.5 9 5.5 6 5.5 5 5.5 9 5.5 6 5.5 7 5.5 2"/><path d="M0 86l5.5 1 5.5 1 5.5 2 5.5-1 5.5-5 5.5 3 5.5 5 5.5 0 5.5 2 5.5 6 5.5 2 5.5 2 5.5 4 5.5 8 5.5 0 5.5 7 5.5 1 5.5 9 5.5 2 5.5 8 5.5 6 5.5 8 5.5 4 5.5 7 5.5 5 5.5 6 5.5 3 5.5 6 5.5 6 5.5 3"/><path d="M0 89l5.5-4 5.5 0 5.5 3 5.5-2 5.5 5 5.5 5 5.5-7 5.5 6 5.5 3 5.5 2 5.5 4 5.5 3 5.5 5 5.5 7 5.5 7 5.5 2 5.5 7 5.5 1 5.5 4 5.5 10 5.5 2 5.5 10 5.5-1 5.5 8 5.5 6 5.5 7 5.5 7 5.5 3 5.5 1 5.5 8"/><path d="M0 91l5.5-3 5.5 5 5.5 1 5.5-5 5.5 1 5.5 4 5.5 2 5.5 1 5.5 2 5.5 4 5.5 9 5.5 0 5.5 10 5.5 3 5.5 9 5.5 4 5.5 4 5.5 10 5.5 4 5.5 2 5.5 4 5.5 7 5.5 6 5.5 6 5.5 6 5.5 5 5.5 7 5.5 4 5.5 7 5.5 8"/><path d="M0 95l5.5 2 5.5 2 5.5-3 5.5 0 5.5 5 5.5-1 5.5 7 5.5-3 5.5 10 5.5 0 5.5 6 5.5 14 5.5-4 5.5 3 5.5 7 5.5 3 5.5 9 5.5-8 5.5 8 5.5 8 5.5 1 5.5 7 5.5 0 5.5 6 5.5 5 5.5 3 5.5 3 5.5 3 5.5 8 5.5 4"/><path d="M0 84l5.5 1 5.5 0 5.5 0 5.5 7 5.5-4 5.5 5 5.5 0 5.5 5 5.5 2 5.5 3 5.5 6 5.5-1 5.5 4 5.5 6 5.5 6 5.5 0 5.5 9 5.5 4 5.5 5 5.5 5 5.5 7 5.5 3 5.5 5 5.5 5 5.5 1 5.5 9 5.5 10 5.5 4 5.5 3 5.5 9"/></g><g id="rLR"><path d="M165 200l5.5 7 5.5 10 5.5-3 5.5 0 5.5-6 5.5-1 5.5-7 5.5-2 5.5-8 5.5-9 5.5-3 5.5-6 5.5-6 5.5-9 5.5-9 5.5-11 5.5-6 5.5-17 5.5-11 5.5-15 5.5-9 5.5-12 5.5-13 5.5-15 5.5-6 5.5-16 5.5-11 5.5-5 5.5-13 5.5-8"/><path d="M165 210l5.5 4 5.5 5 5.5-4 5.5-1 5.5 0 5.5-6 5.5-8 5.5-8 5.5-8 5.5-4 5.5-6 5.5-10 5.5-8 5.5-4 5.5-15 5.5-8 5.5-8 5.5-8 5.5-16 5.5-13 5.5-11 5.5-16 5.5-8 5.5-11 5.5-17 5.5-10 5.5-3 5.5-5 5.5-9 5.5-14"/><path d="M165 200l5.5-2 5.5 3 5.5-3 5.5-4 5.5-3 5.5-7 5.5-10 5.5-10 5.5-5 5.5-16 5.5-3 5.5-13 5.5-6 5.5-10 5.5-5 5.5-16 5.5-6 5.5-13 5.5-14 5.5-12 5.5-7 5.5-16 5.5-9 5.5-11 5.5-17 5.5-9 5.5-4 5.5-11 5.5-13 5.5-13"/><path d="M165 199l5.5 0 5.5 4 5.5-6 5.5 2 5.5-5 5.5-10 5.5-1 5.5-13 5.5-12 5.5-4 5.5-7 5.5-6 5.5-11 5.5-3 5.5-14 5.5-5 5.5-12 5.5-8 5.5-15 5.5-10 5.5-8 5.5-16 5.5-12 5.5-5 5.5-9 5.5-11 5.5-12 5.5-8 5.5-11 5.5-1"/><path d="M165 231l5.5 6 5.5 4 5.5 0 5.5 0 5.5-5 5.5-3 5.5-5 5.5-4 5.5-8 5.5-10 5.5-3 5.5-5 5.5-4 5.5-10 5.5-6 5.5-14 5.5-15 5.5-9 5.5-14 5.5-12 5.5-16 5.5-14 5.5-10 5.5-16 5.5-16 5.5-11 5.5-12 5.5-10 5.5-10 5.5-14"/><path d="M165 223l5.5-1 5.5 2 5.5 0 5.5-2 5.5-5 5.5 0 5.5-9 5.5-8 5.5-13 5.5-8 5.5-5 5.5-11 5.5-5 5.5-13 5.5-6 5.5-12 5.5-9 5.5-14 5.5-10 5.5-17 5.5-10 5.5-10 5.5-18 5.5-10 5.5-11 5.5-11 5.5-9 5.5-9 5.5-6 5.5-16"/><path d="M165 221l5.5 4 5.5 6 5.5-1 5.5-2 5.5-1 5.5-2 5.5-11 5.5-3 5.5-11 5.5-3 5.5-6 5.5-4 5.5-12 5.5-4 5.5-11 5.5-12 5.5-4 5.5-15 5.5-15 5.5-7 5.5-12 5.5-16 5.5-10 5.5-13 5.5-9 5.5-9 5.5-14 5.5-3 5.5-14 5.5-15"/><path d="M165 191l5.5-3 5.5 2 5.5-2 5.5 1 5.5-9 5.5-3 5.5-8 5.5-12 5.5-9 5.5-10 5.5-6 5.5-10 5.5-8 5.5-3 5.5-11 5.5-8 5.5-7 5.5-11 5.5-7 5.5-7 5.5-5 5.5-10 5.5-10 5.5-5 5.5-10 5.5-8 5.5-1 5.5-4 5.5-9 5.5-8"/><path d="M165 215l5.5 6 5.5 1 5.5-1 5.5-1 5.5-1 5.5-8 5.5-3 5.5-5 5.5-15 5.5-2 5.5-6 5.5-12 5.5-4 5.5-12 5.5-6 5.5-9 5.5-9 5.5-13 5.5-10 5.5-11 5.5-7 5.5-13 5.5-12 5.5-11 5.5-10 5.5-12 5.5-9 5.5-9 5.5-9 5.5-11"/><path d="M165 210l5.5 5 5.5 5 5.5-2 5.5-2 5.5-2 5.5-7 5.5-9 5.5-5 5.5-12 5.5-5 5.5-10 5.5-10 5.5-5 5.5-11 5.5-5 5.5-12 5.5-14 5.5-14 5.5-7 5.5-10 5.5-11 5.5-9 5.5-13 5.5-9 5.5-19 5.5-4 5.5-7 5.5-8 5.5-14 5.5-9"/><path d="M165 210l5.5 7 5.5 4 5.5-4 5.5 4 5.5-10 5.5-3 5.5-4 5.5-6 5.5-11 5.5-12 5.5-7 5.5-7 5.5-8 5.5-9 5.5-4 5.5-11 5.5-10 5.5-8 5.5-14 5.5-13 5.5-10 5.5-14 5.5-10 5.5-13 5.5-12 5.5-8 5.5-9 5.5-12 5.5-7 5.5-8"/><path d="M165 198l5.5 7 5.5 8 5.5-2 5.5-1 5.5-5 5.5-3 5.5-11 5.5 0 5.5-11 5.5-3 5.5-9 5.5-2 5.5-11 5.5-8 5.5-12 5.5-8 5.5-12 5.5-9 5.5-13 5.5-14 5.5-9 5.5-14 5.5-14 5.5-8 5.5-14 5.5-11 5.5-8 5.5-8 5.5-12 5.5-10"/><path d="M165 208l5.5 1 5.5 1 5.5 0 5.5 0 5.5-2 5.5-5 5.5-10 5.5-7 5.5-7 5.5-8 5.5-6 5.5-7 5.5-6 5.5-6 5.5-5 5.5-9 5.5-7 5.5-13 5.5-13 5.5-12 5.5-8 5.5-12 5.5-11 5.5-9 5.5-12 5.5-7 5.5-7 5.5-8 5.5-3 5.5-16"/><path d="M165 192l5.5-1 5.5 9 5.5-7 5.5 0 5.5-5 5.5 0 5.5-10 5.5-7 5.5-12 5.5-10 5.5-6 5.5-9 5.5-9 5.5-7 5.5-8 5.5-15 5.5-13 5.5-6 5.5-12 5.5-14 5.5-11 5.5-11 5.5-9 5.5-16 5.5-6 5.5-11 5.5-15 5.5-6 5.5-10 5.5-8"/><path d="M165 197l5.5 8 5.5-2 5.5-6 5.5-2 5.5-3 5.5-5 5.5-9 5.5-11 5.5-10 5.5-19 5.5 0 5.5-9 5.5-10 5.5-5 5.5-11 5.5-8 5.5-14 5.5-10 5.5-6 5.5-10 5.5-8 5.5-12 5.5-7 5.5-10 5.5-9 5.5-9 5.5-5 5.5-6 5.5-7 5.5-16"/><path d="M165 213l5.5 5 5.5 1 5.5 2 5.5-3 5.5-3 5.5-5 5.5-11 5.5-6 5.5-7 5.5-15 5.5-11 5.5-4 5.5-7 5.5-12 5.5-7 5.5-11 5.5-16 5.5-10 5.5-14 5.5-15 5.5-17 5.5-9 5.5-11 5.5-18 5.5-13 5.5-9 5.5-12 5.5-6 5.5-13 5.5-12"/><path d="M165 194l5.5 0 5.5 4 5.5 0 5.5-4 5.5-7 5.5-6 5.5-8 5.5-5 5.5-9 5.5-9 5.5-5 5.5-14 5.5-4 5.5-2 5.5-13 5.5-3 5.5-9 5.5-18 5.5-8 5.5-14 5.5-3 5.5-13 5.5-10 5.5-5 5.5-9 5.5-8 5.5-8 5.5-2 5.5-10 5.5-11"/><path d="M165 187l5.5 2 5.5 0 5.5 1 5.5-1 5.5-9 5.5 1 5.5-1 5.5-5 5.5-16 5.5-9 5.5-2 5.5-9 5.5-4 5.5-5 5.5-10 5.5-7 5.5-8 5.5-9 5.5-11 5.5-13 5.5-9 5.5-5 5.5-10 5.5-11 5.5-7 5.5-11 5.5-9 5.5-8 5.5-9 5.5-11"/><path d="M165 183l5.5 5 5.5 2 5.5-7 5.5 7 5.5-8 5.5-3 5.5-6 5.5-12 5.5-10 5.5-7 5.5-9 5.5-11 5.5-7 5.5-7 5.5-5 5.5-11 5.5-10 5.5-11 5.5-12 5.5-10 5.5-3 5.5-10 5.5-10 5.5-9 5.5-8 5.5-9 5.5-9 5.5-9 5.5-7 5.5-5"/><path d="M165 209l5.5 3 5.5 1 5.5 4 5.5-5 5.5-3 5.5 1 5.5-7 5.5-11 5.5-10 5.5-5 5.5-6 5.5-5 5.5-11 5.5-3 5.5-10 5.5-10 5.5-14 5.5-9 5.5-7 5.5-19 5.5-13 5.5-11 5.5-9 5.5-12 5.5-10 5.5-9 5.5-7 5.5-5 5.5-9 5.5-11"/><path d="M165 206l5.5 3 5.5 7 5.5-9 5.5 5 5.5-4 5.5-8 5.5-5 5.5-7 5.5-14 5.5-8 5.5-7 5.5-9 5.5-13 5.5-5 5.5-17 5.5-7 5.5-15 5.5-15 5.5-7 5.5-17 5.5-11 5.5-10 5.5-11 5.5-13 5.5-9 5.5-7 5.5-11 5.5-7 5.5-11 5.5-9"/><path d="M165 215l5.5 2 5.5 2 5.5-1 5.5-3 5.5-5 5.5-5 5.5-5 5.5-9 5.5-13 5.5-8 5.5-10 5.5-4 5.5-8 5.5-7 5.5-8 5.5-13 5.5-8 5.5-12 5.5-16 5.5-8 5.5-11 5.5-15 5.5-10 5.5-20 5.5-6 5.5-12 5.5-8 5.5-11 5.5-13 5.5-8"/><path d="M165 196l5.5 4 5.5 3 5.5 5 5.5-11 5.5-2 5.5 3 5.5-7 5.5-5 5.5-9 5.5-5 5.5-6 5.5-6 5.5-8 5.5-4 5.5-8 5.5-11 5.5-13 5.5-11 5.5-6 5.5-12 5.5-8 5.5-14 5.5-16 5.5-10 5.5-12 5.5-7 5.5-11 5.5-9 5.5-8 5.5-10"/><path d="M165 185l5.5 1 5.5 2 5.5-1 5.5 2 5.5-8 5.5-9 5.5-10 5.5-3 5.5-11 5.5-9 5.5-1 5.5-15 5.5-6 5.5-6 5.5-3 5.5-11 5.5-10 5.5-9 5.5-12 5.5-6 5.5-8 5.5-14 5.5-2 5.5-13 5.5-6 5.5-4 5.5-13 5.5-6 5.5-4 5.5-11"/><path d="M165 190l5.5 10 5.5 3 5.5-2 5.5-3 5.5-1 5.5-7 5.5-3 5.5-12 5.5-4 5.5-11 5.5-4 5.5-9 5.5-4 5.5-12 5.5-5 5.5-6 5.5-11 5.5-12 5.5-15 5.5-7 5.5-10 5.5-11 5.5-12 5.5-7 5.5-10 5.5-6 5.5-11 5.5-7 5.5-7 5.5-10"/><path d="M165 194l5.5-3 5.5 1 5.5-1 5.5-5 5.5-6 5.5-6 5.5-6 5.5-11 5.5-10 5.5-8 5.5-13 5.5-3 5.5-9 5.5-10 5.5-7 5.5-9 5.5-12 5.5-7 5.5-14 5.5-13 5.5-10 5.5-11 5.5-6 5.5-13 5.5-10 5.5-13 5.5-8 5.5-7 5.5-11 5.5-7"/><path d="M165 215l5.5 7 5.5 2 5.5 2 5.5-1 5.5-1 5.5 0 5.5-11 5.5-2 5.5-11 5.5-5 5.5-5 5.5-9 5.5-8 5.5-10 5.5-6 5.5-8 5.5-15 5.5-12 5.5-12 5.5-19 5.5-6 5.5-21 5.5-15 5.5-14 5.5-12 5.5-17 5.5-6 5.5-16 5.5-11 5.5-12"/><path d="M165 215l5.5 7 5.5 0 5.5 1 5.5-3 5.5-7 5.5-4 5.5-6 5.5-9 5.5-10 5.5-10 5.5-6 5.5-11 5.5-6 5.5-11 5.5-7 5.5-13 5.5-10 5.5-13 5.5-14 5.5-11 5.5-9 5.5-13 5.5-12 5.5-9 5.5-13 5.5-13 5.5-11 5.5-4 5.5-15 5.5-9"/><path d="M165 211l5.5 2 5.5 5 5.5 2 5.5-5 5.5-3 5.5-1 5.5-7 5.5-12 5.5-8 5.5-5 5.5-8 5.5-5 5.5-16 5.5-3 5.5-7 5.5-13 5.5-9 5.5-11 5.5-16 5.5-6 5.5-20 5.5-6 5.5-10 5.5-15 5.5-11 5.5-7 5.5-9 5.5-1 5.5-19 5.5-7"/><path d="M165 184l5.5-3 5.5 10 5.5-7 5.5-2 5.5-9 5.5-7 5.5-11 5.5-8 5.5-12 5.5-12 5.5-4 5.5-11 5.5-16 5.5-4 5.5-5 5.5-10 5.5-11 5.5-11 5.5-13 5.5-9 5.5-6 5.5-10 5.5-14 5.5-7 5.5-6 5.5-12 5.5-10 5.5-1 5.5-8 5.5-9"/><path d="M165 241l5.5 0 5.5 0 5.5 0 5.5 0 5.5 0 5.5 0 5.5-9 5.5-7 5.5-15 5.5-7 5.5-2 5.5-14 5.5-7 5.5-6 5.5-13 5.5-14 5.5-15 5.5-13 5.5-13 5.5-14 5.5-12 5.5-14 5.5-13 5.5-13 5.5-14 5.5-9 5.5-11 5.5-13 5.5-8 5.5-15"/><path d="M165 212l5.5 8 5.5 3 5.5-2 5.5-7 5.5 1 5.5-9 5.5-6 5.5-5 5.5-7 5.5-9 5.5-4 5.5-5 5.5-8 5.5-11 5.5-8 5.5-7 5.5-12 5.5-11 5.5-11 5.5-12 5.5-6 5.5-12 5.5-13 5.5-11 5.5-10 5.5-14 5.5-10 5.5-6 5.5-13 5.5-13"/><path d="M165 208l5.5 3 5.5 2 5.5-3 5.5-1 5.5-5 5.5-2 5.5-12 5.5-10 5.5-8 5.5-9 5.5-7 5.5-14 5.5-4 5.5-14 5.5-4 5.5-9 5.5-13 5.5-8 5.5-11 5.5-16 5.5-9 5.5-10 5.5-9 5.5-6 5.5-11 5.5-11 5.5-5 5.5-7 5.5-11 5.5-15"/><path d="M165 194l5.5 4 5.5 1 5.5 2 5.5-3 5.5-9 5.5-9 5.5-2 5.5-12 5.5-10 5.5-11 5.5-6 5.5-10 5.5-2 5.5-6 5.5-8 5.5-14 5.5-12 5.5-5 5.5-15 5.5-8 5.5-15 5.5-8 5.5-9 5.5-14 5.5-8 5.5-11 5.5-1 5.5-3 5.5-12 5.5-10"/><path d="M165 211l5.5 3 5.5 3 5.5-4 5.5-6 5.5 0 5.5-9 5.5-10 5.5-9 5.5-13 5.5-9 5.5-11 5.5-7 5.5-6 5.5-9 5.5-9 5.5-8 5.5-13 5.5-7 5.5-12 5.5-15 5.5-8 5.5-11 5.5-13 5.5-8 5.5-6 5.5-17 5.5-2 5.5-6 5.5-10 5.5-11"/><path d="M165 200l5.5 7 5.5 1 5.5-8 5.5 8 5.5-3 5.5-7 5.5 0 5.5-9 5.5-6 5.5-10 5.5-7 5.5-1 5.5-5 5.5-6 5.5-9 5.5-11 5.5-8 5.5-8 5.5-12 5.5-15 5.5-7 5.5-10 5.5-11 5.5-8 5.5-9 5.5-9 5.5-11 5.5-9 5.5-14 5.5-9"/><path d="M165 209l5.5-3 5.5 7 5.5-4 5.5 2 5.5-11 5.5-5 5.5-6 5.5-7 5.5-13 5.5-8 5.5-5 5.5-10 5.5-3 5.5-7 5.5-15 5.5-13 5.5-6 5.5-12 5.5-10 5.5-14 5.5-9 5.5-10 5.5-12 5.5-11 5.5-14 5.5-8 5.5-9 5.5-11 5.5-8 5.5-9"/><path d="M165 196l5.5 4 5.5 1 5.5-2 5.5-4 5.5-5 5.5-4 5.5-12 5.5-6 5.5-14 5.5-14 5.5-1 5.5-16 5.5-9 5.5-6 5.5-9 5.5-12 5.5-9 5.5-14 5.5-13 5.5-6 5.5-9 5.5-17 5.5-8 5.5-13 5.5-10 5.5-12 5.5-10 5.5-9 5.5-3 5.5-14"/><path d="M165 217l5.5 10 5.5 5 5.5-12 5.5 6 5.5-1 5.5-10 5.5-5 5.5-4 5.5-12 5.5-7 5.5-1 5.5-10 5.5-3 5.5-14 5.5-9 5.5-11 5.5-7 5.5-14 5.5-13 5.5-12 5.5-8 5.5-12 5.5-21 5.5-7 5.5-17 5.5-11 5.5-12 5.5-12 5.5-14 5.5-10"/><path d="M165 192l5.5 6 5.5 0 5.5 4 5.5 1 5.5 0 5.5-6 5.5-4 5.5-7 5.5-4 5.5-10 5.5-7 5.5-6 5.5-7 5.5-6 5.5-3 5.5-13 5.5-9 5.5-8 5.5-12 5.5-15 5.5-8 5.5-12 5.5-10 5.5-8 5.5-15 5.5-9 5.5-8 5.5-12 5.5-2 5.5-7"/><path d="M165 193l5.5 10 5.5-2 5.5-1 5.5-1 5.5-4 5.5-5 5.5-5 5.5-7 5.5-10 5.5-14 5.5-3 5.5-5 5.5-7 5.5-13 5.5-8 5.5-7 5.5-13 5.5-10 5.5-7 5.5-12 5.5-7 5.5-13 5.5-12 5.5-12 5.5-8 5.5-9 5.5-9 5.5-9 5.5-8 5.5-12"/><path d="M165 172l5.5 7 5.5 4 5.5-1 5.5-2 5.5-6 5.5-2 5.5-6 5.5-8 5.5-9 5.5-6 5.5-3 5.5-4 5.5-10 5.5-5 5.5-16 5.5-4 5.5-5 5.5-11 5.5-10 5.5-9 5.5-12 5.5-14 5.5-4 5.5-9 5.5-9 5.5-10 5.5-11 5.5-5 5.5-3 5.5-8"/><path d="M165 187l5.5 13 5.5-2 5.5-1 5.5-3 5.5-6 5.5 1 5.5-10 5.5-5 5.5-11 5.5-8 5.5-8 5.5-6 5.5-3 5.5-7 5.5-12 5.5-14 5.5-7 5.5-6 5.5-10 5.5-10 5.5-10 5.5-11 5.5-10 5.5-7 5.5-9 5.5-8 5.5-7 5.5-7 5.5-7 5.5-11"/><path d="M165 198l5.5 8 5.5 5 5.5 0 5.5 0 5.5-2 5.5-4 5.5-5 5.5-12 5.5-1 5.5-12 5.5-2 5.5-8 5.5-5 5.5-10 5.5-13 5.5-5 5.5-9 5.5-12 5.5-10 5.5-13 5.5-11 5.5-12 5.5-14 5.5-8 5.5-10 5.5-7 5.5-9 5.5-9 5.5-11 5.5-13"/><path d="M165 203l5.5-1 5.5-1 5.5-3 5.5-1 5.5-6 5.5-6 5.5-11 5.5-1 5.5-18 5.5-7 5.5-9 5.5-14 5.5-7 5.5-7 5.5-10 5.5-6 5.5-12 5.5-10 5.5-12 5.5-10 5.5-8 5.5-10 5.5-14 5.5-10 5.5-8 5.5-7 5.5-10 5.5-8 5.5-10 5.5-8"/><path d="M165 226l5.5 6 5.5 5 5.5 2 5.5-1 5.5 0 5.5-7 5.5 0 5.5-9 5.5-8 5.5-6 5.5-4 5.5-3 5.5-7 5.5-3 5.5-6 5.5-13 5.5-9 5.5-11 5.5-14 5.5-10 5.5-17 5.5-14 5.5-9 5.5-13 5.5-11 5.5-16 5.5-13 5.5-3 5.5-18 5.5-13"/><path d="M165 201l5.5 5 5.5 5 5.5-1 5.5 5 5.5 1 5.5-6 5.5-5 5.5-7 5.5-5 5.5-11 5.5-4 5.5-8 5.5-10 5.5 2 5.5-11 5.5-8 5.5-10 5.5-10 5.5-15 5.5-11 5.5-3 5.5-15 5.5-10 5.5-10 5.5-12 5.5-17 5.5-4 5.5-9 5.5-10 5.5-13"/><path d="M165 199l5.5 2 5.5 9 5.5-3 5.5-2 5.5-5 5.5-1 5.5-11 5.5-8 5.5-12 5.5-9 5.5-2 5.5-9 5.5-17 5.5 0 5.5-10 5.5-9 5.5-15 5.5-9 5.5-13 5.5-11 5.5-12 5.5-13 5.5-15 5.5-12 5.5-9 5.5-16 5.5-8 5.5-14 5.5-7 5.5-16"/><path d="M165 197l5.5 10 5.5-3 5.5 4 5.5-3 5.5-1 5.5-6 5.5-4 5.5-10 5.5-9 5.5-8 5.5-2 5.5-12 5.5-5 5.5-5 5.5-17 5.5-4 5.5-13 5.5-12 5.5-11 5.5-15 5.5-14 5.5-16 5.5-7 5.5-19 5.5-6 5.5-19 5.5-8 5.5-10 5.5-13 5.5-10"/><path d="M165 200l5.5 4 5.5 4 5.5-1 5.5-5 5.5-5 5.5-4 5.5-9 5.5-6 5.5-14 5.5-5 5.5-7 5.5-5 5.5-11 5.5-9 5.5-9 5.5-7 5.5-7 5.5-9 5.5-15 5.5-10 5.5-17 5.5-10 5.5-14 5.5-3 5.5-15 5.5-10 5.5-7 5.5-8 5.5-13 5.5-5"/><path d="M165 195l5.5 3 5.5 2 5.5-7 5.5 1 5.5-5 5.5-7 5.5-7 5.5-7 5.5-11 5.5-12 5.5-7 5.5-9 5.5-12 5.5-7 5.5-9 5.5-9 5.5-11 5.5-11 5.5-13 5.5-10 5.5-13 5.5-5 5.5-18 5.5-6 5.5-13 5.5-5 5.5-10 5.5-6 5.5-5 5.5-14"/><path d="M165 233l5.5 5 5.5 1 5.5 2 5.5-5 5.5-4 5.5-3 5.5 1 5.5-8 5.5-9 5.5-8 5.5-3 5.5-1 5.5-7 5.5-5 5.5-6 5.5-9 5.5-9 5.5-12 5.5-12 5.5-19 5.5-12 5.5-12 5.5-16 5.5-13 5.5-14 5.5-13 5.5-14 5.5-7 5.5-14 5.5-11"/><path d="M165 209l5.5 7 5.5 0 5.5 4 5.5-7 5.5 0 5.5-13 5.5-5 5.5-7 5.5-8 5.5-10 5.5-8 5.5-8 5.5-8 5.5-6 5.5-16 5.5-11 5.5-7 5.5-17 5.5-7 5.5-17 5.5-12 5.5-10 5.5-12 5.5-9 5.5-14 5.5-10 5.5-8 5.5-11 5.5-11 5.5-16"/><path d="M165 194l5.5-1 5.5 7 5.5 1 5.5-4 5.5-4 5.5-8 5.5-4 5.5-5 5.5-13 5.5-4 5.5-11 5.5-5 5.5-11 5.5-7 5.5-5 5.5-6 5.5-11 5.5-9 5.5-11 5.5-9 5.5-14 5.5-13 5.5-12 5.5-7 5.5-12 5.5-11 5.5-6 5.5-8 5.5-6 5.5-9"/><path d="M165 219l5.5 9 5.5 0 5.5 4 5.5-2 5.5-1 5.5-2 5.5-14 5.5 4 5.5-12 5.5-7 5.5-8 5.5-4 5.5-7 5.5-9 5.5-8 5.5-12 5.5-9 5.5-13 5.5-11 5.5-12 5.5-14 5.5-16 5.5-12 5.5-10 5.5-10 5.5-13 5.5-6 5.5-7 5.5-11 5.5-8"/><path d="M165 202l5.5-1 5.5 7 5.5-5 5.5-4 5.5-2 5.5-7 5.5-7 5.5-5 5.5-10 5.5-6 5.5-6 5.5-9 5.5-6 5.5-10 5.5-8 5.5-9 5.5-12 5.5-9 5.5-8 5.5-18 5.5-13 5.5-13 5.5-8 5.5-13 5.5-8 5.5-15 5.5-7 5.5-8 5.5-10 5.5-10"/><path d="M165 216l5.5 3 5.5 1 5.5 2 5.5-3 5.5-2 5.5-3 5.5-9 5.5-8 5.5-12 5.5-9 5.5-9 5.5-6 5.5-11 5.5-8 5.5-8 5.5-12 5.5-10 5.5-12 5.5-14 5.5-13 5.5-10 5.5-11 5.5-23 5.5-7 5.5-8 5.5-13 5.5-10 5.5-7 5.5-12 5.5-6"/><path d="M165 194l5.5 8 5.5-3 5.5-4 5.5-1 5.5-5 5.5-12 5.5-4 5.5-8 5.5-13 5.5-13 5.5-1 5.5-14 5.5-10 5.5-6 5.5-9 5.5-10 5.5-8 5.5-18 5.5-2 5.5-12 5.5-6 5.5-10 5.5-12 5.5-4 5.5-9 5.5-11 5.5-5 5.5-7 5.5-6 5.5-8"/><path d="M165 177l5.5 11 5.5-4 5.5 1 5.5-7 5.5 3 5.5-8 5.5-2 5.5-8 5.5-11 5.5-11 5.5-3 5.5-11 5.5 1 5.5-8 5.5-6 5.5-10 5.5-2 5.5-17 5.5-7 5.5-6 5.5-11 5.5-8 5.5-10 5.5-5 5.5-8 5.5-8 5.5-8 5.5-4 5.5-7 5.5-13"/><path d="M165 191l5.5 2 5.5 8 5.5-1 5.5-8 5.5-3 5.5-5 5.5-5 5.5-11 5.5-8 5.5-6 5.5-5 5.5-7 5.5-8 5.5-3 5.5-10 5.5-9 5.5 0 5.5-13 5.5-12 5.5-4 5.5-8 5.5-11 5.5-7 5.5-7 5.5-16 5.5-1 5.5-11 5.5-6 5.5-6 5.5-9"/><path d="M165 178l5.5 7 5.5 2 5.5-6 5.5-5 5.5 1 5.5-8 5.5-12 5.5-7 5.5-8 5.5-5 5.5-12 5.5-4 5.5-10 5.5-6 5.5-9 5.5-7 5.5-14 5.5-6 5.5-15 5.5-14 5.5-10 5.5-10 5.5-10 5.5-10 5.5-12 5.5-12 5.5-7 5.5-12 5.5-7 5.5-8"/><path d="M165 194l5.5-1 5.5 5 5.5-2 5.5-6 5.5-4 5.5-9 5.5-10 5.5-10 5.5-14 5.5-6 5.5-8 5.5-12 5.5-5 5.5-3 5.5-12 5.5-10 5.5-8 5.5-9 5.5-11 5.5-8 5.5-8 5.5-15 5.5-13 5.5-6 5.5-13 5.5-10 5.5-9 5.5-7 5.5-10 5.5-12"/><path d="M165 209l5.5 5 5.5 4 5.5-5 5.5 0 5.5-1 5.5-11 5.5-6 5.5-6 5.5-9 5.5-9 5.5-11 5.5-7 5.5-4 5.5-10 5.5-3 5.5-19 5.5-10 5.5-8 5.5-13 5.5-16 5.5-9 5.5-11 5.5-13 5.5-8 5.5-8 5.5-10 5.5-8 5.5-2 5.5-9 5.5-6"/><path d="M165 194l5.5 9 5.5 0 5.5 2 5.5-4 5.5-3 5.5-7 5.5-1 5.5-8 5.5-9 5.5-11 5.5-6 5.5-8 5.5-8 5.5-7 5.5-5 5.5-10 5.5-10 5.5-6 5.5-16 5.5-9 5.5-12 5.5-11 5.5-7 5.5-13 5.5-8 5.5-11 5.5-5 5.5-5 5.5-9 5.5-7"/><path d="M165 192l5.5 7 5.5-1 5.5-2 5.5-1 5.5-4 5.5-5 5.5-11 5.5-9 5.5-8 5.5-6 5.5-9 5.5-7 5.5-6 5.5-16 5.5-7 5.5-8 5.5-11 5.5-11 5.5-16 5.5-12 5.5-2 5.5-15 5.5-10 5.5-6 5.5-13 5.5-10 5.5-9 5.5-6 5.5-7 5.5-9"/><path d="M165 225l5.5 1 5.5 3 5.5 4 5.5-2 5.5 1 5.5-4 5.5-8 5.5 0 5.5-9 5.5-10 5.5-1 5.5-5 5.5-6 5.5-6 5.5-13 5.5-10 5.5-10 5.5-11 5.5-12 5.5-13 5.5-5 5.5-16 5.5-13 5.5-11 5.5-12 5.5-12 5.5-10 5.5-10 5.5-11 5.5-10"/><path d="M165 197l5.5 11 5.5-1 5.5 4 5.5-2 5.5-6 5.5-6 5.5-7 5.5 0 5.5-4 5.5-14 5.5-3 5.5-4 5.5 0 5.5-10 5.5-5 5.5-13 5.5-10 5.5-5 5.5-13 5.5-14 5.5-16 5.5-7 5.5-12 5.5-10 5.5-13 5.5-11 5.5-8 5.5-9 5.5-13 5.5-11"/><path d="M165 230l5.5 2 5.5 3 5.5 0 5.5 6 5.5-9 5.5-3 5.5-10 5.5 0 5.5-11 5.5-7 5.5-4 5.5-5 5.5-11 5.5-3 5.5-13 5.5-8 5.5-8 5.5-14 5.5-16 5.5-13 5.5-8 5.5-11 5.5-12 5.5-18 5.5-11 5.5-14 5.5-9 5.5-12 5.5-7 5.5-16"/><path d="M165 209l5.5 3 5.5 4 5.5 1 5.5 2 5.5-4 5.5-4 5.5-2 5.5-8 5.5-11 5.5-14 5.5 2 5.5-11 5.5-4 5.5-9 5.5-8 5.5-14 5.5-5 5.5-9 5.5-13 5.5-9 5.5-19 5.5-10 5.5-9 5.5-13 5.5-12 5.5-15 5.5-4 5.5-12 5.5-11 5.5-14"/><path d="M165 200l5.5 2 5.5 3 5.5 0 5.5-8 5.5-3 5.5 1 5.5-9 5.5-10 5.5-11 5.5-7 5.5-5 5.5-7 5.5-2 5.5-10 5.5-5 5.5-14 5.5-7 5.5-12 5.5-6 5.5-12 5.5-10 5.5-13 5.5-9 5.5-12 5.5-10 5.5-6 5.5-14 5.5-3 5.5-14 5.5 0"/><path d="M165 220l5.5 5 5.5 1 5.5 0 5.5 3 5.5-1 5.5-7 5.5 3 5.5-12 5.5-5 5.5-6 5.5-1 5.5-3 5.5-10 5.5-2 5.5-2 5.5-14 5.5-8 5.5-9 5.5-7 5.5-16 5.5-8 5.5-15 5.5-1 5.5-15 5.5-11 5.5-10 5.5-10 5.5-11 5.5-10 5.5-13"/><path d="M165 183l5.5 2 5.5 3 5.5-6 5.5 0 5.5-1 5.5-5 5.5-11 5.5-8 5.5-7 5.5-12 5.5-5 5.5-10 5.5-5 5.5-9 5.5-7 5.5-11 5.5-6 5.5-10 5.5-7 5.5-12 5.5-11 5.5-11 5.5-9 5.5-3 5.5-11 5.5-10 5.5-6 5.5-4 5.5-10 5.5-1"/><path d="M165 212l5.5 1 5.5 2 5.5 2 5.5-4 5.5 0 5.5-6 5.5-3 5.5-6 5.5-10 5.5-7 5.5-4 5.5-7 5.5-5 5.5-5 5.5-11 5.5-6 5.5-13 5.5-11 5.5-13 5.5-11 5.5-6 5.5-15 5.5-15 5.5-11 5.5-10 5.5-15 5.5-8 5.5-3 5.5-15 5.5-6"/><path d="M165 209l5.5 0 5.5-1 5.5 0 5.5 1 5.5-1 5.5-8 5.5-3 5.5-4 5.5-14 5.5-5 5.5-1 5.5-8 5.5-7 5.5-7 5.5-7 5.5-10 5.5-10 5.5-13 5.5-12 5.5-10 5.5-8 5.5-14 5.5-14 5.5-15 5.5-11 5.5-12 5.5-14 5.5-10 5.5-10 5.5-12"/><path d="M165 201l5.5 2 5.5 3 5.5-3 5.5-2 5.5 3 5.5-12 5.5-5 5.5-10 5.5-8 5.5-15 5.5-1 5.5-8 5.5-9 5.5-10 5.5-13 5.5-10 5.5-8 5.5-14 5.5-8 5.5-14 5.5-10 5.5-8 5.5-14 5.5-8 5.5-10 5.5-9 5.5-6 5.5-5 5.5-3 5.5-16"/><path d="M165 198l5.5 3 5.5 3 5.5-5 5.5 1 5.5-6 5.5-3 5.5-3 5.5-6 5.5-13 5.5-4 5.5-7 5.5-8 5.5-6 5.5-8 5.5-7 5.5-9 5.5-16 5.5-6 5.5-13 5.5-11 5.5-6 5.5-16 5.5-6 5.5-14 5.5-4 5.5-15 5.5-6 5.5-7 5.5-8 5.5-10"/><path d="M165 181l5.5-2 5.5 8 5.5-4 5.5-1 5.5-5 5.5-6 5.5-4 5.5-7 5.5-12 5.5-11 5.5-2 5.5-7 5.5-9 5.5-2 5.5-11 5.5-9 5.5-9 5.5-5 5.5-10 5.5-11 5.5-6 5.5-12 5.5-11 5.5-9 5.5-7 5.5-12 5.5-3 5.5-3 5.5-6 5.5-12"/><path d="M165 202l5.5 2 5.5 1 5.5-2 5.5-2 5.5 0 5.5-6 5.5-3 5.5-13 5.5-8 5.5-13 5.5-5 5.5-10 5.5-4 5.5-5 5.5-13 5.5-10 5.5-4 5.5-13 5.5-14 5.5-5 5.5-13 5.5-10 5.5-13 5.5-8 5.5-10 5.5-4 5.5-7 5.5-10 5.5-6 5.5-11"/><path d="M165 181l5.5 5 5.5 4 5.5-4 5.5-4 5.5 0 5.5-5 5.5-5 5.5-14 5.5-3 5.5-13 5.5-5 5.5-8 5.5-6 5.5-9 5.5-12 5.5-7 5.5-9 5.5-13 5.5-8 5.5-12 5.5-8 5.5-7 5.5-10 5.5-8 5.5-6 5.5-11 5.5-10 5.5-6 5.5-13 5.5-7"/><path d="M165 209l5.5 2 5.5 0 5.5 0 5.5 0 5.5-5 5.5-4 5.5-5 5.5-9 5.5-11 5.5-10 5.5-7 5.5-3 5.5-10 5.5-10 5.5-6 5.5-9 5.5-11 5.5-7 5.5-14 5.5-16 5.5-7 5.5-8 5.5-10 5.5-16 5.5-7 5.5-15 5.5-6 5.5-9 5.5-6 5.5-13"/><path d="M165 179l5.5 9 5.5 5 5.5-5 5.5 3 5.5-10 5.5-4 5.5-3 5.5-9 5.5-14 5.5-6 5.5-13 5.5-3 5.5-13 5.5-8 5.5-9 5.5-9 5.5-11 5.5-9 5.5-16 5.5-8 5.5-7 5.5-13 5.5-13 5.5-13 5.5-7 5.5-9 5.5-13 5.5-3 5.5-10 5.5-11"/><path d="M165 195l5.5 2 5.5 2 5.5-1 5.5 5 5.5-10 5.5-3 5.5-5 5.5-9 5.5-8 5.5-7 5.5-3 5.5-3 5.5-10 5.5-6 5.5-8 5.5-7 5.5-10 5.5-12 5.5-6 5.5-13 5.5-7 5.5-11 5.5-12 5.5-10 5.5-11 5.5-6 5.5-6 5.5-7 5.5-10 5.5-9"/><path d="M165 195l5.5 0 5.5 8 5.5 0 5.5-5 5.5-1 5.5-7 5.5-9 5.5-3 5.5-11 5.5-9 5.5-3 5.5-9 5.5-6 5.5-9 5.5-8 5.5-7 5.5-14 5.5-7 5.5-11 5.5-12 5.5-18 5.5-7 5.5-9 5.5-8 5.5-13 5.5-9 5.5-11 5.5-6 5.5-8 5.5-11"/><path d="M165 207l5.5 6 5.5-2 5.5 2 5.5-8 5.5-4 5.5-2 5.5-11 5.5-7 5.5-10 5.5-13 5.5-3 5.5-7 5.5-8 5.5-9 5.5-10 5.5-9 5.5-14 5.5-8 5.5-12 5.5-14 5.5-9 5.5-11 5.5-19 5.5-9 5.5-13 5.5-8 5.5-8 5.5-13 5.5-6 5.5-13"/><path d="M165 210l5.5 9 5.5-3 5.5 0 5.5 4 5.5-7 5.5-6 5.5-11 5.5 1 5.5-16 5.5-8 5.5-4 5.5-5 5.5-8 5.5-7 5.5-6 5.5-15 5.5-9 5.5-11 5.5-8 5.5-14 5.5-9 5.5-16 5.5-8 5.5-9 5.5-9 5.5-13 5.5-5 5.5-9 5.5-9 5.5-12"/><path d="M165 226l5.5 4 5.5 0 5.5-6 5.5 0 5.5 0 5.5-3 5.5-11 5.5-2 5.5-6 5.5-12 5.5-5 5.5-5 5.5-11 5.5-2 5.5-10 5.5-10 5.5-12 5.5-10 5.5-16 5.5-13 5.5-4 5.5-19 5.5-6 5.5-12 5.5-5 5.5-18 5.5-2 5.5-9 5.5-10 5.5-5"/><path d="M165 201l5.5-1 5.5 10 5.5-1 5.5-1 5.5 0 5.5-6 5.5-8 5.5-10 5.5-6 5.5-5 5.5-5 5.5-8 5.5-6 5.5-6 5.5-12 5.5-7 5.5-8 5.5-6 5.5-13 5.5-8 5.5-12 5.5-9 5.5-13 5.5-12 5.5-10 5.5-10 5.5-13 5.5-6 5.5-8 5.5-14"/><path d="M165 208l5.5 1 5.5 4 5.5-3 5.5 0 5.5-4 5.5-6 5.5-6 5.5-9 5.5-4 5.5-7 5.5-10 5.5-4 5.5-10 5.5-9 5.5-11 5.5-8 5.5-8 5.5-12 5.5-12 5.5-13 5.5-15 5.5-8 5.5-14 5.5-11 5.5-10 5.5-14 5.5-9 5.5-10 5.5-10 5.5-18"/><path d="M165 183l5.5 4 5.5 7 5.5-5 5.5 3 5.5-6 5.5-8 5.5-1 5.5-8 5.5-11 5.5-9 5.5-4 5.5-8 5.5-6 5.5-7 5.5-13 5.5-7 5.5-10 5.5-16 5.5-7 5.5-13 5.5-6 5.5-12 5.5-13 5.5-16 5.5-1 5.5-10 5.5-13 5.5-7 5.5-10 5.5-13"/><path d="M165 189l5.5 2 5.5 3 5.5 5 5.5-4 5.5-6 5.5-4 5.5-5 5.5-9 5.5-8 5.5-14 5.5-4 5.5-5 5.5-7 5.5-9 5.5-9 5.5-10 5.5-8 5.5-10 5.5-14 5.5-10 5.5-13 5.5-8 5.5-10 5.5-14 5.5-6 5.5-6 5.5-11 5.5-9 5.5-5 5.5-10"/><path d="M165 197l5.5 5 5.5 2 5.5 4 5.5-5 5.5-3 5.5-6 5.5-1 5.5-2 5.5-16 5.5-5 5.5-3 5.5-11 5.5-11 5.5-1 5.5-7 5.5-17 5.5-10 5.5-4 5.5-17 5.5-5 5.5-12 5.5-10 5.5-9 5.5-16 5.5-8 5.5-12 5.5-6 5.5-9 5.5-11 5.5-15"/><path d="M165 217l5.5 6 5.5 3 5.5-4 5.5 0 5.5-8 5.5-3 5.5-6 5.5-9 5.5-12 5.5-7 5.5-9 5.5-6 5.5-7 5.5-4 5.5-12 5.5-12 5.5-11 5.5-13 5.5-17 5.5-9 5.5-15 5.5-11 5.5-13 5.5-14 5.5-16 5.5-13 5.5-3 5.5-19 5.5-5 5.5-12"/><path d="M165 194l5.5 4 5.5 1 5.5-2 5.5-3 5.5-3 5.5-10 5.5-1 5.5-5 5.5-9 5.5-11 5.5-4 5.5-4 5.5-9 5.5-9 5.5-7 5.5-10 5.5-9 5.5-11 5.5-9 5.5-11 5.5-8 5.5-11 5.5-10 5.5-13 5.5-8 5.5-9 5.5-6 5.5-7 5.5-8 5.5-14"/><path d="M165 206l5.5 3 5.5 4 5.5-4 5.5 3 5.5-6 5.5-5 5.5-3 5.5-11 5.5-9 5.5-10 5.5-5 5.5-12 5.5-6 5.5-7 5.5-10 5.5-8 5.5-12 5.5-10 5.5-12 5.5-10 5.5-11 5.5-13 5.5-6 5.5-18 5.5-8 5.5-11 5.5-6 5.5-10 5.5-10 5.5-8"/><path d="M165 222l5.5 5 5.5 4 5.5 5 5.5-2 5.5-6 5.5 2 5.5-7 5.5-3 5.5-7 5.5-12 5.5 0 5.5-10 5.5-6 5.5 1 5.5-8 5.5-8 5.5-10 5.5-13 5.5-7 5.5-18 5.5-9 5.5-9 5.5-17 5.5-17 5.5-9 5.5-14 5.5-12 5.5-11 5.5-14 5.5-9"/><path d="M165 197l5.5 10 5.5 3 5.5-3 5.5 2 5.5-8 5.5-3 5.5-6 5.5-12 5.5-5 5.5-11 5.5-5 5.5-9 5.5-12 5.5-8 5.5-6 5.5-14 5.5-10 5.5-13 5.5-6 5.5-21 5.5-8 5.5-13 5.5-4 5.5-17 5.5-10 5.5-12 5.5-7 5.5-5 5.5-8 5.5-10"/><path d="M165 201l5.5 3 5.5 5 5.5-5 5.5 1 5.5-3 5.5-4 5.5-3 5.5-9 5.5-7 5.5-11 5.5-9 5.5-6 5.5-8 5.5-3 5.5-8 5.5-12 5.5-7 5.5-9 5.5-17 5.5-3 5.5-13 5.5-11 5.5-13 5.5-8 5.5-12 5.5-8 5.5-7 5.5-8 5.5-13 5.5-13"/><path d="M165 218l5.5 4 5.5 4 5.5 4 5.5-4 5.5-3 5.5-2 5.5-5 5.5-6 5.5-14 5.5-4 5.5-10 5.5-4 5.5-4 5.5-9 5.5-11 5.5-16 5.5-8 5.5-17 5.5-10 5.5-14 5.5-8 5.5-14 5.5-14 5.5-11 5.5-11 5.5-16 5.5-4 5.5-12 5.5-7 5.5-9"/><path d="M165 200l5.5-2 5.5 3 5.5-5 5.5-2 5.5-2 5.5-7 5.5-14 5.5-5 5.5-5 5.5-15 5.5-3 5.5-7 5.5-5 5.5-9 5.5-10 5.5-10 5.5-12 5.5-15 5.5-8 5.5-13 5.5-11 5.5-7 5.5-16 5.5-6 5.5-16 5.5-8 5.5-11 5.5-4 5.5-14 5.5-5"/><path d="M165 203l5.5 4 5.5 2 5.5-3 5.5-4 5.5-4 5.5 2 5.5-10 5.5-8 5.5-8 5.5-3 5.5-5 5.5-9 5.5-14 5.5-7 5.5-11 5.5-7 5.5-9 5.5-13 5.5-7 5.5-11 5.5-14 5.5-12 5.5-10 5.5-11 5.5-13 5.5-15 5.5-7 5.5-12 5.5-7 5.5-13"/></g><g id="rLRR"><path d="M330 -20l5.5-12 5.5-13 5.5-13 5.5-10 5.5-13 5.5-11 5.5-11 5.5-5 5.5-12 5.5 0 5.5 0 5.5 0 5.5 0 5.5 0 5.5 0 5.5 0 5.5 0 5.5 0 5.5 0 5.5 0 5.5 0 5.5 0 5.5 0 5.5 0 5.5 0 5.5 0 5.5 0 5.5 0 5.5 0"/><path d="M330 -20l5.5-12 5.5-14 5.5-3 5.5-15 5.5-9 5.5-4 5.5-8 5.5-7 5.5-13 5.5-15 5.5 0 5.5 0 5.5 0 5.5 0 5.5 0 5.5 0 5.5 0 5.5 0 5.5 0 5.5 0 5.5 0 5.5 0 5.5 0 5.5 0 5.5 0 5.5 0 5.5 0 5.5 0 5.5 0"/><path d="M330 -65l5.5-16 5.5-8 5.5-21 5.5-10 5.5 0 5.5 0 5.5 0 5.5 0 5.5 0 5.5 0 5.5 0 5.5 0 5.5 0 5.5 0 5.5 0 5.5 0 5.5 0 5.5 0 5.5 0 5.5 0 5.5 0 5.5 0 5.5 0 5.5 0 5.5 0 5.5 0 5.5 0 5.5 0 5.5 0"/><path d="M330 -30l5.5-18 5.5-12 5.5-12 5.5-14 5.5-3 5.5-14 5.5-3 5.5-14 5.5 0 5.5 0 5.5 0 5.5 0 5.5 0 5.5 0 5.5 0 5.5 0 5.5 0 5.5 0 5.5 0 5.5 0 5.5 0 5.5 0 5.5 0 5.5 0 5.5 0 5.5 0 5.5 0 5.5 0 5.5 0"/><path d="M330 -15l5.5-16 5.5-13 5.5-11 5.5-15 5.5-11 5.5-13 5.5-8 5.5-18 5.5 0 5.5 0 5.5 0 5.5 0 5.5 0 5.5 0 5.5 0 5.5 0 5.5 0 5.5 0 5.5 0 5.5 0 5.5 0 5.5 0 5.5 0 5.5 0 5.5 0 5.5 0 5.5 0 5.5 0 5.5 0"/><path d="M330 -33l5.5-8 5.5-18 5.5-5 5.5-16 5.5-4 5.5-12 5.5-7 5.5-17 5.5 0 5.5 0 5.5 0 5.5 0 5.5 0 5.5 0 5.5 0 5.5 0 5.5 0 5.5 0 5.5 0 5.5 0 5.5 0 5.5 0 5.5 0 5.5 0 5.5 0 5.5 0 5.5 0 5.5 0 5.5 0"/><path d="M330 -8l5.5-11 5.5-15 5.5-14 5.5-14 5.5-4 5.5-18 5.5-3 5.5-11 5.5-22 5.5 0 5.5 0 5.5 0 5.5 0 5.5 0 5.5 0 5.5 0 5.5 0 5.5 0 5.5 0 5.5 0 5.5 0 5.5 0 5.5 0 5.5 0 5.5 0 5.5 0 5.5 0 5.5 0 5.5 0"/><path d="M330 -10l5.5-7 5.5-15 5.5-9 5.5-10 5.5-6 5.5-8 5.5-9 5.5-8 5.5-9 5.5-13 5.5-16 5.5 0 5.5 0 5.5 0 5.5 0 5.5 0 5.5 0 5.5 0 5.5 0 5.5 0 5.5 0 5.5 0 5.5 0 5.5 0 5.5 0 5.5 0 5.5 0 5.5 0 5.5 0"/><path d="M330 -9l5.5-10 5.5-13 5.5-15 5.5-7 5.5-6 5.5-14 5.5-4 5.5-13 5.5-4 5.5-25 5.5 0 5.5 0 5.5 0 5.5 0 5.5 0 5.5 0 5.5 0 5.5 0 5.5 0 5.5 0 5.5 0 5.5 0 5.5 0 5.5 0 5.5 0 5.5 0 5.5 0 5.5 0 5.5 0"/><path d="M330 -25l5.5-10 5.5-14 5.5-8 5.5-7 5.5-11 5.5-13 5.5-5 5.5-6 5.5-13 5.5-8 5.5 0 5.5 0 5.5 0 5.5 0 5.5 0 5.5 0 5.5 0 5.5 0 5.5 0 5.5 0 5.5 0 5.5 0 5.5 0 5.5 0 5.5 0 5.5 0 5.5 0 5.5 0 5.5 0"/><path d="M330 -19l5.5-13 5.5-10 5.5-3 5.5-19 5.5-6 5.5-5 5.5-11 5.5-12 5.5-9 5.5-13 5.5 0 5.5 0 5.5 0 5.5 0 5.5 0 5.5 0 5.5 0 5.5 0 5.5 0 5.5 0 5.5 0 5.5 0 5.5 0 5.5 0 5.5 0 5.5 0 5.5 0 5.5 0 5.5 0"/><path d="M330 -29l5.5-11 5.5-12 5.5-14 5.5-10 5.5-10 5.5-11 5.5-9 5.5-14 5.5 0 5.5 0 5.5 0 5.5 0 5.5 0 5.5 0 5.5 0 5.5 0 5.5 0 5.5 0 5.5 0 5.5 0 5.5 0 5.5 0 5.5 0 5.5 0 5.5 0 5.5 0 5.5 0 5.5 0 5.5 0"/><path d="M330 -6l5.5-7 5.5-15 5.5-3 5.5-11 5.5-8 5.5-8 5.5-4 5.5-10 5.5-4 5.5-15 5.5-4 5.5-25 5.5 0 5.5 0 5.5 0 5.5 0 5.5 0 5.5 0 5.5 0 5.5 0 5.5 0 5.5 0 5.5 0 5.5 0 5.5 0 5.5 0 5.5 0 5.5 0 5.5 0"/><path d="M330 -53l5.5-15 5.5-16 5.5-14 5.5-12 5.5-10 5.5 0 5.5 0 5.5 0 5.5 0 5.5 0 5.5 0 5.5 0 5.5 0 5.5 0 5.5 0 5.5 0 5.5 0 5.5 0 5.5 0 5.5 0 5.5 0 5.5 0 5.5 0 5.5 0 5.5 0 5.5 0 5.5 0 5.5 0 5.5 0"/><path d="M330 -34l5.5-5 5.5-12 5.5-15 5.5-5 5.5-11 5.5-5 5.5-10 5.5-11 5.5-12 5.5 0 5.5 0 5.5 0 5.5 0 5.5 0 5.5 0 5.5 0 5.5 0 5.5 0 5.5 0 5.5 0 5.5 0 5.5 0 5.5 0 5.5 0 5.5 0 5.5 0 5.5 0 5.5 0 5.5 0"/><path d="M330 -56l5.5-15 5.5-14 5.5-10 5.5-25 5.5 0 5.5 0 5.5 0 5.5 0 5.5 0 5.5 0 5.5 0 5.5 0 5.5 0 5.5 0 5.5 0 5.5 0 5.5 0 5.5 0 5.5 0 5.5 0 5.5 0 5.5 0 5.5 0 5.5 0 5.5 0 5.5 0 5.5 0 5.5 0 5.5 0"/><path d="M330 -19l5.5-10 5.5-13 5.5-11 5.5-15 5.5-2 5.5-12 5.5-10 5.5-4 5.5-15 5.5-9 5.5 0 5.5 0 5.5 0 5.5 0 5.5 0 5.5 0 5.5 0 5.5 0 5.5 0 5.5 0 5.5 0 5.5 0 5.5 0 5.5 0 5.5 0 5.5 0 5.5 0 5.5 0 5.5 0"/><path d="M330 -18l5.5-10 5.5-15 5.5-6 5.5-8 5.5-10 5.5-6 5.5-11 5.5-3 5.5-11 5.5-22 5.5 0 5.5 0 5.5 0 5.5 0 5.5 0 5.5 0 5.5 0 5.5 0 5.5 0 5.5 0 5.5 0 5.5 0 5.5 0 5.5 0 5.5 0 5.5 0 5.5 0 5.5 0 5.5 0"/><path d="M330 -28l5.5-13 5.5-15 5.5-7 5.5-8 5.5-12 5.5-10 5.5-11 5.5-9 5.5-7 5.5 0 5.5 0 5.5 0 5.5 0 5.5 0 5.5 0 5.5 0 5.5 0 5.5 0 5.5 0 5.5 0 5.5 0 5.5 0 5.5 0 5.5 0 5.5 0 5.5 0 5.5 0 5.5 0 5.5 0"/><path d="M330 -13l5.5-13 5.5-11 5.5-13 5.5-17 5.5-4 5.5-6 5.5-11 5.5-3 5.5-16 5.5-13 5.5 0 5.5 0 5.5 0 5.5 0 5.5 0 5.5 0 5.5 0 5.5 0 5.5 0 5.5 0 5.5 0 5.5 0 5.5 0 5.5 0 5.5 0 5.5 0 5.5 0 5.5 0 5.5 0"/><path d="M330 -45l5.5-14 5.5-11 5.5-19 5.5-7 5.5-17 5.5-7 5.5 0 5.5 0 5.5 0 5.5 0 5.5 0 5.5 0 5.5 0 5.5 0 5.5 0 5.5 0 5.5 0 5.5 0 5.5 0 5.5 0 5.5 0 5.5 0 5.5 0 5.5 0 5.5 0 5.5 0 5.5 0 5.5 0 5.5 0"/><path d="M330 -38l5.5-9 5.5-18 5.5-12 5.5-14 5.5-11 5.5-15 5.5-3 5.5 0 5.5 0 5.5 0 5.5 0 5.5 0 5.5 0 5.5 0 5.5 0 5.5 0 5.5 0 5.5 0 5.5 0 5.5 0 5.5 0 5.5 0 5.5 0 5.5 0 5.5 0 5.5 0 5.5 0 5.5 0 5.5 0"/><path d="M330 -18l5.5-11 5.5-11 5.5-16 5.5-7 5.5-15 5.5-5 5.5-11 5.5-6 5.5-20 5.5 0 5.5 0 5.5 0 5.5 0 5.5 0 5.5 0 5.5 0 5.5 0 5.5 0 5.5 0 5.5 0 5.5 0 5.5 0 5.5 0 5.5 0 5.5 0 5.5 0 5.5 0 5.5 0 5.5 0"/><path d="M330 -21l5.5-9 5.5-15 5.5-5 5.5-7 5.5-11 5.5-13 5.5-4 5.5-6 5.5-17 5.5-12 5.5 0 5.5 0 5.5 0 5.5 0 5.5 0 5.5 0 5.5 0 5.5 0 5.5 0 5.5 0 5.5 0 5.5 0 5.5 0 5.5 0 5.5 0 5.5 0 5.5 0 5.5 0 5.5 0"/><path d="M330 -16l5.5-9 5.5-8 5.5-14 5.5-4 5.5-6 5.5-12 5.5-8 5.5-3 5.5-17 5.5-23 5.5 0 5.5 0 5.5 0 5.5 0 5.5 0 5.5 0 5.5 0 5.5 0 5.5 0 5.5 0 5.5 0 5.5 0 5.5 0 5.5 0 5.5 0 5.5 0 5.5 0 5.5 0 5.5 0"/><path d="M330 -54l5.5-13 5.5-12 5.5-14 5.5-12 5.5-15 5.5 0 5.5 0 5.5 0 5.5 0 5.5 0 5.5 0 5.5 0 5.5 0 5.5 0 5.5 0 5.5 0 5.5 0 5.5 0 5.5 0 5.5 0 5.5 0 5.5 0 5.5 0 5.5 0 5.5 0 5.5 0 5.5 0 5.5 0 5.5 0"/><path d="M330 -39l5.5-15 5.5-16 5.5-18 5.5-15 5.5-17 5.5 0 5.5 0 5.5 0 5.5 4 5.5-4 5.5 0 5.5 0 5.5 0 5.5 0 5.5 0 5.5 0 5.5 0 5.5 0 5.5 0 5.5 0 5.5 0 5.5 0 5.5 0 5.5 0 5.5 0 5.5 0 5.5 0 5.5 0 5.5 0"/><path d="M330 -36l5.5-14 5.5-14 5.5-12 5.5-12 5.5-13 5.5-16 5.5-3 5.5 0 5.5 0 5.5 0 5.5 0 5.5 0 5.5 0 5.5 0 5.5 0 5.5 0 5.5 0 5.5 0 5.5 0 5.5 0 5.5 0 5.5 0 5.5 0 5.5 0 5.5 0 5.5 0 5.5 0 5.5 0 5.5 0"/><path d="M330 -20l5.5-11 5.5-14 5.5-8 5.5-9 5.5-13 5.5-8 5.5-11 5.5-5 5.5-5 5.5-16 5.5 0 5.5 0 5.5 0 5.5 0 5.5 0 5.5 0 5.5 0 5.5 0 5.5 0 5.5 0 5.5 0 5.5 0 5.5 0 5.5 0 5.5 0 5.5 0 5.5 0 5.5 0 5.5 0"/><path d="M330 -54l5.5-12 5.5-8 5.5-13 5.5-7 5.5-8 5.5-8 5.5-10 5.5 0 5.5 0 5.5 0 5.5 0 5.5 0 5.5 0 5.5 0 5.5 0 5.5 0 5.5 0 5.5 0 5.5 0 5.5 0 5.5 0 5.5 0 5.5 0 5.5 0 5.5 0 5.5 0 5.5 0 5.5 0 5.5 0"/><path d="M330 -30l5.5-12 5.5-14 5.5-17 5.5-11 5.5-11 5.5-18 5.5-7 5.5 0 5.5 0 5.5 0 5.5 0 5.5 0 5.5 0 5.5 0 5.5 0 5.5 0 5.5 0 5.5 0 5.5 0 5.5 0 5.5 0 5.5 0 5.5 0 5.5 0 5.5 0 5.5 0 5.5 0 5.5 0 5.5 0"/><path d="M330 -18l5.5-15 5.5-3 5.5-14 5.5-12 5.5-8 5.5-10 5.5-3 5.5-13 5.5-12 5.5-12 5.5 0 5.5 0 5.5 0 5.5 0 5.5 0 5.5 0 5.5 0 5.5 0 5.5 0 5.5 0 5.5 0 5.5 0 5.5 0 5.5 0 5.5 0 5.5 0 5.5 0 5.5 0 5.5 0"/><path d="M330 -31l5.5-7 5.5-9 5.5-7 5.5-13 5.5-1 5.5-11 5.5-8 5.5-4 5.5-15 5.5-14 5.5 0 5.5 0 5.5 0 5.5 0 5.5 0 5.5 0 5.5 0 5.5 0 5.5 0 5.5 0 5.5 0 5.5 0 5.5 0 5.5 0 5.5 0 5.5 0 5.5 0 5.5 0 5.5 0"/><path d="M330 -32l5.5-6 5.5-11 5.5-11 5.5-5 5.5-14 5.5-5 5.5-5 5.5-11 5.5-14 5.5-6 5.5 0 5.5 0 5.5 0 5.5 0 5.5 0 5.5 0 5.5 0 5.5 0 5.5 0 5.5 0 5.5 0 5.5 0 5.5 0 5.5 0 5.5 0 5.5 0 5.5 0 5.5 0 5.5 0"/><path d="M330 -32l5.5-13 5.5-6 5.5-12 5.5-14 5.5-6 5.5-6 5.5-14 5.5-9 5.5-8 5.5 0 5.5 0 5.5 0 5.5 0 5.5 0 5.5 0 5.5 0 5.5 0 5.5 0 5.5 0 5.5 0 5.5 0 5.5 0 5.5 0 5.5 0 5.5 0 5.5 0 5.5 0 5.5 0 5.5 0"/><path d="M330 -6l5.5-8 5.5-11 5.5-8 5.5-14 5.5-7 5.5-8 5.5-11 5.5-7 5.5-17 5.5-23 5.5 0 5.5 0 5.5 0 5.5 0 5.5 0 5.5 0 5.5 0 5.5 0 5.5 0 5.5 0 5.5 0 5.5 0 5.5 0 5.5 0 5.5 0 5.5 0 5.5 0 5.5 0 5.5 0"/><path d="M330 -35l5.5-17 5.5-12 5.5-9 5.5-19 5.5-12 5.5-16 5.5 4 5.5-4 5.5 0 5.5 0 5.5 0 5.5 0 5.5 0 5.5 0 5.5 0 5.5 0 5.5 0 5.5 0 5.5 0 5.5 0 5.5 0 5.5 0 5.5 0 5.5 0 5.5 0 5.5 0 5.5 0 5.5 0 5.5 0"/><path d="M330 -60l5.5-16 5.5-10 5.5-18 5.5-16 5.5 0 5.5 0 5.5 0 5.5 0 5.5 0 5.5 0 5.5 0 5.5 0 5.5 0 5.5 0 5.5 0 5.5 0 5.5 0 5.5 0 5.5 0 5.5 0 5.5 0 5.5 0 5.5 0 5.5 0 5.5 0 5.5 0 5.5 0 5.5 0 5.5 0"/><path d="M330 -31l5.5-13 5.5-19 5.5-13 5.5-17 5.5-12 5.5-15 5.5 0 5.5 4 5.5-4 5.5 0 5.5 0 5.5 0 5.5 0 5.5 0 5.5 0 5.5 0 5.5 0 5.5 0 5.5 0 5.5 0 5.5 0 5.5 0 5.5 0 5.5 0 5.5 0 5.5 0 5.5 0 5.5 0 5.5 0"/><path d="M330 -5l5.5-16 5.5-10 5.5-9 5.5-11 5.5-4 5.5-8 5.5-8 5.5-16 5.5-6 5.5-27 5.5 0 5.5 0 5.5 0 5.5 0 5.5 0 5.5 0 5.5 0 5.5 0 5.5 0 5.5 0 5.5 0 5.5 0 5.5 0 5.5 0 5.5 0 5.5 0 5.5 0 5.5 0 5.5 0"/><path d="M330 -30l5.5-5 5.5-4 5.5-16 5.5-14 5.5-3 5.5-12 5.5-9 5.5-5 5.5-10 5.5-12 5.5 0 5.5 0 5.5 0 5.5 0 5.5 0 5.5 0 5.5 0 5.5 0 5.5 0 5.5 0 5.5 0 5.5 0 5.5 0 5.5 0 5.5 0 5.5 0 5.5 0 5.5 0 5.5 0"/><path d="M330 -19l5.5-13 5.5-11 5.5-7 5.5-9 5.5-6 5.5-7 5.5-5 5.5-1 5.5-12 5.5-13 5.5-17 5.5 0 5.5 0 5.5 0 5.5 0 5.5 0 5.5 0 5.5 0 5.5 0 5.5 0 5.5 0 5.5 0 5.5 0 5.5 0 5.5 0 5.5 0 5.5 0 5.5 0 5.5 0"/><path d="M330 -15l5.5-6 5.5-14 5.5-9 5.5-6 5.5-9 5.5-4 5.5-11 5.5-4 5.5-9 5.5-10 5.5-23 5.5 0 5.5 0 5.5 0 5.5 0 5.5 0 5.5 0 5.5 0 5.5 0 5.5 0 5.5 0 5.5 0 5.5 0 5.5 0 5.5 0 5.5 0 5.5 0 5.5 0 5.5 0"/><path d="M330 -16l5.5-8 5.5-16 5.5-7 5.5-11 5.5-13 5.5-8 5.5-12 5.5-8 5.5-18 5.5-3 5.5 0 5.5 0 5.5 0 5.5 0 5.5 0 5.5 0 5.5 0 5.5 0 5.5 0 5.5 0 5.5 0 5.5 0 5.5 0 5.5 0 5.5 0 5.5 0 5.5 0 5.5 0 5.5 0"/><path d="M330 -42l5.5-5 5.5-15 5.5-9 5.5-15 5.5-10 5.5-6 5.5-18 5.5 0 5.5 0 5.5 0 5.5 0 5.5 0 5.5 0 5.5 0 5.5 0 5.5 0 5.5 0 5.5 0 5.5 0 5.5 0 5.5 0 5.5 0 5.5 0 5.5 0 5.5 0 5.5 0 5.5 0 5.5 0 5.5 0"/><path d="M330 1l5.5-15 5.5-11 5.5-12 5.5-10 5.5-12 5.5-11 5.5-11 5.5-13 5.5-13 5.5-13 5.5 0 5.5 0 5.5 0 5.5 0 5.5 0 5.5 0 5.5 0 5.5 0 5.5 0 5.5 0 5.5 0 5.5 0 5.5 0 5.5 0 5.5 0 5.5 0 5.5 0 5.5 0 5.5 0"/><path d="M330 -6l5.5-9 5.5-13 5.5-13 5.5-11 5.5-6 5.5-10 5.5-7 5.5-6 5.5-13 5.5-26 5.5 0 5.5 0 5.5 0 5.5 0 5.5 0 5.5 0 5.5 0 5.5 0 5.5 0 5.5 0 5.5 0 5.5 0 5.5 0 5.5 0 5.5 0 5.5 0 5.5 0 5.5 0 5.5 0"/><path d="M330 -58l5.5-15 5.5-11 5.5-16 5.5-10 5.5-10 5.5 0 5.5 4 5.5 0 5.5-4 5.5 0 5.5 0 5.5 0 5.5 0 5.5 0 5.5 0 5.5 0 5.5 0 5.5 0 5.5 0 5.5 0 5.5 0 5.5 0 5.5 0 5.5 0 5.5 0 5.5 0 5.5 0 5.5 0 5.5 0"/><path d="M330 -51l5.5-16 5.5-17 5.5-17 5.5-12 5.5-7 5.5 0 5.5 0 5.5 0 5.5 0 5.5 0 5.5 0 5.5 0 5.5 0 5.5 0 5.5 0 5.5 0 5.5 0 5.5 0 5.5 0 5.5 0 5.5 0 5.5 0 5.5 0 5.5 0 5.5 0 5.5 0 5.5 0 5.5 0 5.5 0"/><path d="M330 -32l5.5-9 5.5-18 5.5-5 5.5-14 5.5-15 5.5-11 5.5-10 5.5-6 5.5 0 5.5 0 5.5 0 5.5 0 5.5 0 5.5 0 5.5 0 5.5 0 5.5 0 5.5 0 5.5 0 5.5 0 5.5 0 5.5 0 5.5 0 5.5 0 5.5 0 5.5 0 5.5 0 5.5 0 5.5 0"/><path d="M330 -48l5.5-13 5.5-15 5.5-4 5.5-21 5.5-5 5.5-14 5.5 0 5.5 0 5.5 0 5.5 0 5.5 0 5.5 0 5.5 0 5.5 0 5.5 0 5.5 0 5.5 0 5.5 0 5.5 0 5.5 0 5.5 0 5.5 0 5.5 0 5.5 0 5.5 0 5.5 0 5.5 0 5.5 0 5.5 0"/><path d="M330 -4l5.5-15 5.5-16 5.5-11 5.5-19 5.5-11 5.5-7 5.5-16 5.5-11 5.5-10 5.5 0 5.5 0 5.5 0 5.5 0 5.5 0 5.5 0 5.5 0 5.5 0 5.5 0 5.5 0 5.5 0 5.5 0 5.5 0 5.5 0 5.5 0 5.5 0 5.5 0 5.5 0 5.5 0 5.5 0"/><path d="M330 -48l5.5-7 5.5-15 5.5-9 5.5-12 5.5-12 5.5-17 5.5 6 5.5-6 5.5 0 5.5 0 5.5 0 5.5 0 5.5 0 5.5 0 5.5 0 5.5 0 5.5 0 5.5 0 5.5 0 5.5 0 5.5 0 5.5 0 5.5 0 5.5 0 5.5 0 5.5 0 5.5 0 5.5 0 5.5 0"/><path d="M330 -24l5.5-12 5.5-9 5.5-13 5.5-12 5.5-10 5.5-11 5.5-12 5.5-17 5.5 0 5.5 0 5.5 0 5.5 0 5.5 0 5.5 0 5.5 0 5.5 0 5.5 0 5.5 0 5.5 0 5.5 0 5.5 0 5.5 0 5.5 0 5.5 0 5.5 0 5.5 0 5.5 0 5.5 0 5.5 0"/><path d="M330 -2l5.5-12 5.5-13 5.5-11 5.5-12 5.5-9 5.5-11 5.5-9 5.5-14 5.5-6 5.5-21 5.5 0 5.5 0 5.5 0 5.5 0 5.5 0 5.5 0 5.5 0 5.5 0 5.5 0 5.5 0 5.5 0 5.5 0 5.5 0 5.5 0 5.5 0 5.5 0 5.5 0 5.5 0 5.5 0"/><path d="M330 -38l5.5-11 5.5-17 5.5-11 5.5-12 5.5-15 5.5-16 5.5 0 5.5 0 5.5 8 5.5-8 5.5 0 5.5 0 5.5 0 5.5 0 5.5 0 5.5 0 5.5 0 5.5 0 5.5 0 5.5 0 5.5 0 5.5 0 5.5 0 5.5 0 5.5 0 5.5 0 5.5 0 5.5 0 5.5 0"/><path d="M330 -34l5.5-17 5.5-16 5.5-10 5.5-13 5.5-12 5.5-18 5.5 0 5.5 0 5.5 0 5.5 0 5.5 0 5.5 0 5.5 0 5.5 0 5.5 0 5.5 0 5.5 0 5.5 0 5.5 0 5.5 0 5.5 0 5.5 0 5.5 0 5.5 0 5.5 0 5.5 0 5.5 0 5.5 0 5.5 0"/><path d="M330 -29l5.5-11 5.5-8 5.5-11 5.5-9 5.5-6 5.5-10 5.5-10 5.5-10 5.5-16 5.5 0 5.5 0 5.5 0 5.5 0 5.5 0 5.5 0 5.5 0 5.5 0 5.5 0 5.5 0 5.5 0 5.5 0 5.5 0 5.5 0 5.5 0 5.5 0 5.5 0 5.5 0 5.5 0 5.5 0"/><path d="M330 -10l5.5-5 5.5-13 5.5-6 5.5-10 5.5-5 5.5-10 5.5-3 5.5-6 5.5-10 5.5-14 5.5-9 5.5-19 5.5 0 5.5 0 5.5 0 5.5 0 5.5 0 5.5 0 5.5 0 5.5 0 5.5 0 5.5 0 5.5 0 5.5 0 5.5 0 5.5 0 5.5 0 5.5 0 5.5 0"/><path d="M330 1l5.5-9 5.5-13 5.5-10 5.5-9 5.5-7 5.5-9 5.5-3 5.5-12 5.5-13 5.5-12 5.5-24 5.5 0 5.5 0 5.5 0 5.5 0 5.5 0 5.5 0 5.5 0 5.5 0 5.5 0 5.5 0 5.5 0 5.5 0 5.5 0 5.5 0 5.5 0 5.5 0 5.5 0 5.5 0"/><path d="M330 -58l5.5-15 5.5-10 5.5-14 5.5-14 5.5-9 5.5 0 5.5 0 5.5 0 5.5 0 5.5 0 5.5 0 5.5 0 5.5 0 5.5 0 5.5 0 5.5 0 5.5 0 5.5 0 5.5 0 5.5 0 5.5 0 5.5 0 5.5 0 5.5 0 5.5 0 5.5 0 5.5 0 5.5 0 5.5 0"/><path d="M330 -52l5.5-11 5.5-12 5.5-13 5.5-10 5.5-19 5.5-3 5.5 0 5.5 0 5.5 0 5.5 0 5.5 0 5.5 0 5.5 0 5.5 0 5.5 0 5.5 0 5.5 0 5.5 0 5.5 0 5.5 0 5.5 0 5.5 0 5.5 0 5.5 0 5.5 0 5.5 0 5.5 0 5.5 0 5.5 0"/><path d="M330 -14l5.5-13 5.5-11 5.5-11 5.5-9 5.5-5 5.5-11 5.5-4 5.5-5 5.5-17 5.5-20 5.5 0 5.5 0 5.5 0 5.5 0 5.5 0 5.5 0 5.5 0 5.5 0 5.5 0 5.5 0 5.5 0 5.5 0 5.5 0 5.5 0 5.5 0 5.5 0 5.5 0 5.5 0 5.5 0"/><path d="M330 -11l5.5-6 5.5-15 5.5-8 5.5-10 5.5-4 5.5-8 5.5-6 5.5-14 5.5-6 5.5-11 5.5-21 5.5 0 5.5 0 5.5 0 5.5 0 5.5 0 5.5 0 5.5 0 5.5 0 5.5 0 5.5 0 5.5 0 5.5 0 5.5 0 5.5 0 5.5 0 5.5 0 5.5 0 5.5 0"/><path d="M330 -38l5.5-12 5.5-14 5.5-11 5.5-9 5.5-9 5.5-12 5.5-5 5.5-10 5.5 0 5.5 0 5.5 0 5.5 0 5.5 0 5.5 0 5.5 0 5.5 0 5.5 0 5.5 0 5.5 0 5.5 0 5.5 0 5.5 0 5.5 0 5.5 0 5.5 0 5.5 0 5.5 0 5.5 0 5.5 0"/><path d="M330 4l5.5-17 5.5-11 5.5-15 5.5-13 5.5-15 5.5-6 5.5-13 5.5-9 5.5-16 5.5-9 5.5 0 5.5 0 5.5 0 5.5 0 5.5 0 5.5 0 5.5 0 5.5 0 5.5 0 5.5 0 5.5 0 5.5 0 5.5 0 5.5 0 5.5 0 5.5 0 5.5 0 5.5 0 5.5 0"/><path d="M330 -15l5.5-14 5.5-11 5.5-14 5.5-15 5.5-10 5.5-10 5.5-7 5.5-24 5.5 0 5.5 0 5.5 0 5.5 0 5.5 0 5.5 0 5.5 0 5.5 0 5.5 0 5.5 0 5.5 0 5.5 0 5.5 0 5.5 0 5.5 0 5.5 0 5.5 0 5.5 0 5.5 0 5.5 0 5.5 0"/><path d="M330 -12l5.5-13 5.5-15 5.5-14 5.5-9 5.5-16 5.5-10 5.5-12 5.5-19 5.5 0 5.5 0 5.5 0 5.5 0 5.5 0 5.5 0 5.5 0 5.5 0 5.5 0 5.5 0 5.5 0 5.5 0 5.5 0 5.5 0 5.5 0 5.5 0 5.5 0 5.5 0 5.5 0 5.5 0 5.5 0"/><path d="M330 -23l5.5-11 5.5-12 5.5-13 5.5-10 5.5-9 5.5-12 5.5-11 5.5-15 5.5-4 5.5 0 5.5 0 5.5 0 5.5 0 5.5 0 5.5 0 5.5 0 5.5 0 5.5 0 5.5 0 5.5 0 5.5 0 5.5 0 5.5 0 5.5 0 5.5 0 5.5 0 5.5 0 5.5 0 5.5 0"/><path d="M330 -13l5.5-14 5.5-13 5.5-11 5.5-10 5.5-8 5.5-13 5.5-10 5.5-2 5.5-15 5.5-11 5.5 0 5.5 0 5.5 0 5.5 0 5.5 0 5.5 0 5.5 0 5.5 0 5.5 0 5.5 0 5.5 0 5.5 0 5.5 0 5.5 0 5.5 0 5.5 0 5.5 0 5.5 0 5.5 0"/><path d="M330 25l5.5-14 5.5-6 5.5-17 5.5-8 5.5-8 5.5-9 5.5-13 5.5-4 5.5-12 5.5-8 5.5-17 5.5-11 5.5-18 5.5 0 5.5 0 5.5 0 5.5 0 5.5 0 5.5 0 5.5 0 5.5 0 5.5 0 5.5 0 5.5 0 5.5 0 5.5 0 5.5 0 5.5 0 5.5 0"/><path d="M330 -20l5.5-13 5.5-4 5.5-16 5.5-9 5.5-5 5.5-9 5.5-11 5.5-2 5.5-13 5.5-18 5.5 0 5.5 0 5.5 0 5.5 0 5.5 0 5.5 0 5.5 0 5.5 0 5.5 0 5.5 0 5.5 0 5.5 0 5.5 0 5.5 0 5.5 0 5.5 0 5.5 0 5.5 0 5.5 0"/><path d="M330 -9l5.5-16 5.5-10 5.5-8 5.5-12 5.5-7 5.5-7 5.5-12 5.5-11 5.5-15 5.5-13 5.5 0 5.5 0 5.5 0 5.5 0 5.5 0 5.5 0 5.5 0 5.5 0 5.5 0 5.5 0 5.5 0 5.5 0 5.5 0 5.5 0 5.5 0 5.5 0 5.5 0 5.5 0 5.5 0"/><path d="M330 -31l5.5-12 5.5-16 5.5-12 5.5-10 5.5-12 5.5-10 5.5-17 5.5 0 5.5 0 5.5 0 5.5 0 5.5 0 5.5 0 5.5 0 5.5 0 5.5 0 5.5 0 5.5 0 5.5 0 5.5 0 5.5 0 5.5 0 5.5 0 5.5 0 5.5 0 5.5 0 5.5 0 5.5 0 5.5 0"/><path d="M330 -30l5.5-11 5.5-7 5.5-15 5.5-11 5.5-10 5.5-5 5.5-13 5.5-13 5.5-5 5.5 0 5.5 0 5.5 0 5.5 0 5.5 0 5.5 0 5.5 0 5.5 0 5.5 0 5.5 0 5.5 0 5.5 0 5.5 0 5.5 0 5.5 0 5.5 0 5.5 0 5.5 0 5.5 0 5.5 0"/><path d="M330 -18l5.5-13 5.5-12 5.5-10 5.5-11 5.5-2 5.5-12 5.5 0 5.5-10 5.5-5 5.5-27 5.5 0 5.5 0 5.5 0 5.5 0 5.5 0 5.5 0 5.5 0 5.5 0 5.5 0 5.5 0 5.5 0 5.5 0 5.5 0 5.5 0 5.5 0 5.5 0 5.5 0 5.5 0 5.5 0"/><path d="M330 -19l5.5-6 5.5-9 5.5-14 5.5-6 5.5-3 5.5-3 5.5-11 5.5-4 5.5-13 5.5-7 5.5-25 5.5 0 5.5 0 5.5 0 5.5 0 5.5 0 5.5 0 5.5 0 5.5 0 5.5 0 5.5 0 5.5 0 5.5 0 5.5 0 5.5 0 5.5 0 5.5 0 5.5 0 5.5 0"/><path d="M330 -17l5.5-10 5.5-4 5.5-16 5.5-5 5.5-11 5.5-5 5.5-3 5.5-9 5.5-4 5.5-13 5.5-23 5.5 0 5.5 0 5.5 0 5.5 0 5.5 0 5.5 0 5.5 0 5.5 0 5.5 0 5.5 0 5.5 0 5.5 0 5.5 0 5.5 0 5.5 0 5.5 0 5.5 0 5.5 0"/><path d="M330 -33l5.5-10 5.5-11 5.5-10 5.5-11 5.5-8 5.5-5 5.5-11 5.5-12 5.5-9 5.5 0 5.5 0 5.5 0 5.5 0 5.5 0 5.5 0 5.5 0 5.5 0 5.5 0 5.5 0 5.5 0 5.5 0 5.5 0 5.5 0 5.5 0 5.5 0 5.5 0 5.5 0 5.5 0 5.5 0"/><path d="M330 -23l5.5-8 5.5-14 5.5-10 5.5-10 5.5-10 5.5-8 5.5-14 5.5-9 5.5-14 5.5 0 5.5 0 5.5 0 5.5 0 5.5 0 5.5 0 5.5 0 5.5 0 5.5 0 5.5 0 5.5 0 5.5 0 5.5 0 5.5 0 5.5 0 5.5 0 5.5 0 5.5 0 5.5 0 5.5 0"/><path d="M330 -53l5.5-12 5.5-16 5.5-10 5.5-11 5.5-15 5.5-3 5.5 0 5.5 0 5.5 0 5.5 0 5.5 0 5.5 0 5.5 0 5.5 0 5.5 0 5.5 0 5.5 0 5.5 0 5.5 0 5.5 0 5.5 0 5.5 0 5.5 0 5.5 0 5.5 0 5.5 0 5.5 0 5.5 0 5.5 0"/><path d="M330 -6l5.5-8 5.5-9 5.5-11 5.5-13 5.5-5 5.5-4 5.5-9 5.5-2 5.5-13 5.5-5 5.5-16 5.5-19 5.5 0 5.5 0 5.5 0 5.5 0 5.5 0 5.5 0 5.5 0 5.5 0 5.5 0 5.5 0 5.5 0 5.5 0 5.5 0 5.5 0 5.5 0 5.5 0 5.5 0"/><path d="M330 -28l5.5-9 5.5-13 5.5-14 5.5-11 5.5-11 5.5-7 5.5-14 5.5-13 5.5 0 5.5 0 5.5 0 5.5 0 5.5 0 5.5 0 5.5 0 5.5 0 5.5 0 5.5 0 5.5 0 5.5 0 5.5 0 5.5 0 5.5 0 5.5 0 5.5 0 5.5 0 5.5 0 5.5 0 5.5 0"/><path d="M330 -45l5.5-17 5.5-7 5.5-11 5.5-13 5.5-12 5.5-15 5.5 0 5.5 0 5.5 0 5.5 0 5.5 0 5.5 0 5.5 0 5.5 0 5.5 0 5.5 0 5.5 0 5.5 0 5.5 0 5.5 0 5.5 0 5.5 0 5.5 0 5.5 0 5.5 0 5.5 0 5.5 0 5.5 0 5.5 0"/><path d="M330 -13l5.5-9 5.5-10 5.5-10 5.5-1 5.5-6 5.5-13 5.5-4 5.5-7 5.5-4 5.5-8 5.5-13 5.5-22 5.5 0 5.5 0 5.5 0 5.5 0 5.5 0 5.5 0 5.5 0 5.5 0 5.5 0 5.5 0 5.5 0 5.5 0 5.5 0 5.5 0 5.5 0 5.5 0 5.5 0"/><path d="M330 6l5.5-14 5.5-11 5.5-9 5.5-12 5.5-4 5.5-6 5.5 0 5.5-4 5.5-5 5.5-13 5.5-9 5.5-10 5.5-7 5.5-4 5.5-18 5.5 0 5.5 0 5.5 0 5.5 0 5.5 0 5.5 0 5.5 0 5.5 0 5.5 0 5.5 0 5.5 0 5.5 0 5.5 0 5.5 0"/><path d="M330 -13l5.5-11 5.5-11 5.5-12 5.5-1 5.5-15 5.5-7 5.5-10 5.5-4 5.5-12 5.5-24 5.5 0 5.5 0 5.5 0 5.5 0 5.5 0 5.5 0 5.5 0 5.5 0 5.5 0 5.5 0 5.5 0 5.5 0 5.5 0 5.5 0 5.5 0 5.5 0 5.5 0 5.5 0 5.5 0"/><path d="M330 -42l5.5-11 5.5-9 5.5-21 5.5-13 5.5-8 5.5-16 5.5 0 5.5 0 5.5 0 5.5 0 5.5 0 5.5 0 5.5 0 5.5 0 5.5 0 5.5 0 5.5 0 5.5 0 5.5 0 5.5 0 5.5 0 5.5 0 5.5 0 5.5 0 5.5 0 5.5 0 5.5 0 5.5 0 5.5 0"/><path d="M330 -43l5.5-9 5.5-16 5.5-17 5.5-7 5.5-17 5.5-11 5.5 0 5.5 0 5.5 0 5.5 0 5.5 0 5.5 0 5.5 0 5.5 0 5.5 0 5.5 0 5.5 0 5.5 0 5.5 0 5.5 0 5.5 0 5.5 0 5.5 0 5.5 0 5.5 0 5.5 0 5.5 0 5.5 0 5.5 0"/><path d="M330 -29l5.5-12 5.5-6 5.5-11 5.5-8 5.5-10 5.5-7 5.5-7 5.5-10 5.5-16 5.5-4 5.5 0 5.5 0 5.5 0 5.5 0 5.5 0 5.5 0 5.5 0 5.5 0 5.5 0 5.5 0 5.5 0 5.5 0 5.5 0 5.5 0 5.5 0 5.5 0 5.5 0 5.5 0 5.5 0"/><path d="M330 -24l5.5-10 5.5-19 5.5-12 5.5-7 5.5-11 5.5-8 5.5-8 5.5-21 5.5 0 5.5 0 5.5 0 5.5 0 5.5 0 5.5 0 5.5 0 5.5 0 5.5 0 5.5 0 5.5 0 5.5 0 5.5 0 5.5 0 5.5 0 5.5 0 5.5 0 5.5 0 5.5 0 5.5 0 5.5 0"/><path d="M330 -44l5.5-15 5.5-16 5.5-11 5.5-16 5.5-11 5.5-7 5.5 0 5.5 0 5.5 0 5.5 0 5.5 0 5.5 0 5.5 0 5.5 0 5.5 0 5.5 0 5.5 0 5.5 0 5.5 0 5.5 0 5.5 0 5.5 0 5.5 0 5.5 0 5.5 0 5.5 0 5.5 0 5.5 0 5.5 0"/><path d="M330 -22l5.5-4 5.5-15 5.5-8 5.5-7 5.5-4 5.5-8 5.5-11 5.5-7 5.5-6 5.5-28 5.5 0 5.5 0 5.5 0 5.5 0 5.5 0 5.5 0 5.5 0 5.5 0 5.5 0 5.5 0 5.5 0 5.5 0 5.5 0 5.5 0 5.5 0 5.5 0 5.5 0 5.5 0 5.5 0"/><path d="M330 -25l5.5-13 5.5-13 5.5-9 5.5-14 5.5-18 5.5-3 5.5-10 5.5-15 5.5 0 5.5 0 5.5 0 5.5 0 5.5 0 5.5 0 5.5 0 5.5 0 5.5 0 5.5 0 5.5 0 5.5 0 5.5 0 5.5 0 5.5 0 5.5 0 5.5 0 5.5 0 5.5 0 5.5 0 5.5 0"/><path d="M330 1l5.5-22 5.5-9 5.5-18 5.5-11 5.5-14 5.5-11 5.5-11 5.5-15 5.5-10 5.5 0 5.5 0 5.5 0 5.5 0 5.5 0 5.5 0 5.5 0 5.5 0 5.5 0 5.5 0 5.5 0 5.5 0 5.5 0 5.5 0 5.5 0 5.5 0 5.5 0 5.5 0 5.5 0 5.5 0"/><path d="M330 -34l5.5-10 5.5-12 5.5-6 5.5-15 5.5-8 5.5-8 5.5-9 5.5-6 5.5-12 5.5 0 5.5 0 5.5 0 5.5 0 5.5 0 5.5 0 5.5 0 5.5 0 5.5 0 5.5 0 5.5 0 5.5 0 5.5 0 5.5 0 5.5 0 5.5 0 5.5 0 5.5 0 5.5 0 5.5 0"/><path d="M330 -20l5.5-6 5.5-14 5.5-10 5.5-7 5.5-8 5.5-12 5.5-3 5.5-8 5.5-12 5.5-20 5.5 0 5.5 0 5.5 0 5.5 0 5.5 0 5.5 0 5.5 0 5.5 0 5.5 0 5.5 0 5.5 0 5.5 0 5.5 0 5.5 0 5.5 0 5.5 0 5.5 0 5.5 0 5.5 0"/><path d="M330 -17l5.5-14 5.5-12 5.5-11 5.5-15 5.5-8 5.5-12 5.5-9 5.5-22 5.5 0 5.5 0 5.5 0 5.5 0 5.5 0 5.5 0 5.5 0 5.5 0 5.5 0 5.5 0 5.5 0 5.5 0 5.5 0 5.5 0 5.5 0 5.5 0 5.5 0 5.5 0 5.5 0 5.5 0 5.5 0"/><path d="M330 -44l5.5-14 5.5-13 5.5-14 5.5-13 5.5-10 5.5-12 5.5 0 5.5 0 5.5 0 5.5 0 5.5 0 5.5 0 5.5 0 5.5 0 5.5 0 5.5 0 5.5 0 5.5 0 5.5 0 5.5 0 5.5 0 5.5 0 5.5 0 5.5 0 5.5 0 5.5 0 5.5 0 5.5 0 5.5 0"/><path d="M330 -36l5.5-16 5.5-9 5.5-6 5.5-19 5.5-11 5.5-9 5.5 1 5.5-15 5.5 0 5.5 0 5.5 0 5.5 0 5.5 0 5.5 0 5.5 0 5.5 0 5.5 0 5.5 0 5.5 0 5.5 0 5.5 0 5.5 0 5.5 0 5.5 0 5.5 0 5.5 0 5.5 0 5.5 0 5.5 0"/></g><g id="rLRL"><path d="M330 -20l5.5-12 5.5-12 5.5-12 5.5-11 5.5-11 5.5-11 5.5-11 5.5-5 5.5-11 5.5 0 5.5 0 5.5-4 5.5 0 5.5 0 5.5 0 5.5 0 5.5 0 5.5 0 5.5 0 5.5 0 5.5 0 5.5 0 5.5 0 5.5 0 5.5 0 5.5 0 5.5 0 5.5 0 5.5 4"/><path d="M330 -20l5.5-12 5.5-12 5.5-3 5.5-14 5.5-7 5.5-5 5.5-7 5.5-6 5.5-9 5.5-13 5.5 0 5.5 2 5.5-1 5.5 2 5.5 0 5.5 3 5.5 3 5.5 2 5.5-2 5.5 2 5.5 1 5.5 7 5.5-2 5.5 3 5.5 2 5.5 3 5.5 2 5.5 3 5.5 2"/><path d="M330 -65l5.5-7 5.5-12 5.5-14 5.5-22 5.5 0 5.5 0 5.5 0 5.5 0 5.5 0 5.5 0 5.5 9 5.5-9 5.5 4 5.5-4 5.5 0 5.5 0 5.5 0 5.5 0 5.5 0 5.5 0 5.5 0 5.5 0 5.5 0 5.5 0 5.5 0 5.5 0 5.5 0 5.5 0 5.5 0"/><path d="M330 -30l5.5-18 5.5-10 5.5-12 5.5-13 5.5-3 5.5-13 5.5-3 5.5-13 5.5-1 5.5-4 5.5 0 5.5 0 5.5 0 5.5 0 5.5 0 5.5 0 5.5 0 5.5 0 5.5 0 5.5 0 5.5 0 5.5 0 5.5 0 5.5 0 5.5 0 5.5 0 5.5 0 5.5 0 5.5 0"/><path d="M330 -15l5.5-14 5.5-13 5.5-9 5.5-11 5.5-9 5.5-12 5.5-6 5.5-13 5.5-5 5.5 0 5.5-10 5.5-3 5.5 0 5.5 0 5.5 0 5.5 0 5.5 0 5.5 0 5.5 0 5.5 0 5.5 0 5.5 0 5.5 6 5.5-2 5.5-4 5.5 0 5.5 0 5.5 6 5.5-6"/><path d="M330 -33l5.5-9 5.5-11 5.5-3 5.5-13 5.5-4 5.5-6 5.5-3 5.5-10 5.5 1 5.5 0 5.5 0 5.5-2 5.5 2 5.5 3 5.5 1 5.5 0 5.5 6 5.5-4 5.5 5 5.5 0 5.5 8 5.5-2 5.5 6 5.5 4 5.5 6 5.5 6 5.5 8 5.5 5 5.5 8"/><path d="M330 -8l5.5-11 5.5-15 5.5-13 5.5-12 5.5-5 5.5-18 5.5-2 5.5-10 5.5-20 5.5-1 5.5 0 5.5-1 5.5 3 5.5-3 5.5 0 5.5-1 5.5 0 5.5 0 5.5 0 5.5 0 5.5-3 5.5 0 5.5 0 5.5 0 5.5 0 5.5 0 5.5 0 5.5 0 5.5 0"/><path d="M330 -10l5.5-6 5.5-5 5.5-10 5.5 1 5.5-3 5.5-6 5.5 3 5.5 0 5.5-2 5.5 3 5.5 3 5.5 6 5.5 2 5.5 8 5.5 8 5.5 7 5.5 11 5.5 9 5.5 13 5.5 20 5.5 6 5.5 13 5.5 10 5.5 10 5.5 18 5.5 13 5.5 16 5.5 10 5.5 15"/><path d="M330 -9l5.5-8 5.5-12 5.5-9 5.5-7 5.5-8 5.5-5 5.5-6 5.5-7 5.5-2 5.5-11 5.5 1 5.5 0 5.5 2 5.5 1 5.5-2 5.5 9 5.5 1 5.5 1 5.5 5 5.5 2 5.5 6 5.5 6 5.5 5 5.5 6 5.5 9 5.5 8 5.5 7 5.5 7 5.5 10"/><path d="M330 -25l5.5-10 5.5-14 5.5-8 5.5-7 5.5-11 5.5-12 5.5-5 5.5-6 5.5-13 5.5-9 5.5 0 5.5 0 5.5 0 5.5 0 5.5 0 5.5 0 5.5 0 5.5 0 5.5 3 5.5 5 5.5-8 5.5 0 5.5 0 5.5 0 5.5 0 5.5 3 5.5-3 5.5 0 5.5 0"/><path d="M330 -19l5.5-11 5.5-8 5.5-3 5.5-16 5.5-6 5.5-3 5.5-7 5.5-10 5.5-7 5.5-7 5.5 0 5.5 0 5.5 2 5.5 2 5.5 4 5.5-1 5.5 4 5.5 5 5.5 3 5.5 3 5.5 3 5.5 3 5.5 5 5.5 4 5.5 8 5.5 0 5.5 5 5.5 4 5.5 6"/><path d="M330 -29l5.5-11 5.5-12 5.5-12 5.5-9 5.5-9 5.5-10 5.5-8 5.5-13 5.5-1 5.5 0 5.5-1 5.5-1 5.5 0 5.5-4 5.5 0 5.5 0 5.5 0 5.5 0 5.5 0 5.5 0 5.5 0 5.5 0 5.5 0 5.5 0 5.5 0 5.5 0 5.5 0 5.5 0 5.5 0"/><path d="M330 -6l5.5-7 5.5-15 5.5-3 5.5-11 5.5-8 5.5-7 5.5-5 5.5-9 5.5-4 5.5-14 5.5-5 5.5-11 5.5-3 5.5-12 5.5 3 5.5 0 5.5 2 5.5-1 5.5 3 5.5-2 5.5-1 5.5 1 5.5 0 5.5 0 5.5 1 5.5 0 5.5 0 5.5 1 5.5 2"/><path d="M330 -53l5.5-15 5.5-16 5.5-14 5.5-12 5.5-10 5.5 0 5.5 0 5.5 0 5.5 0 5.5 4 5.5-4 5.5 0 5.5 0 5.5 3 5.5-3 5.5 0 5.5 0 5.5 0 5.5 0 5.5 0 5.5 0 5.5 0 5.5 0 5.5 0 5.5 0 5.5 5 5.5-5 5.5 0 5.5 0"/><path d="M330 -34l5.5-4 5.5-10 5.5-12 5.5-5 5.5-8 5.5-6 5.5-7 5.5-7 5.5-9 5.5 1 5.5-1 5.5 0 5.5 2 5.5 1 5.5 1 5.5 0 5.5 2 5.5 3 5.5 1 5.5 4 5.5 2 5.5 4 5.5 1 5.5 4 5.5 4 5.5 5 5.5 4 5.5 5 5.5 4"/><path d="M330 -56l5.5-14 5.5-15 5.5-9 5.5-23 5.5-3 5.5 0 5.5 0 5.5 0 5.5 0 5.5 0 5.5 0 5.5 0 5.5 0 5.5 0 5.5 0 5.5 0 5.5 0 5.5 0 5.5 0 5.5 0 5.5 0 5.5 0 5.5 0 5.5 0 5.5 0 5.5 0 5.5 0 5.5 0 5.5 0"/><path d="M330 -19l5.5-7 5.5-12 5.5-7 5.5-6 5.5 0 5.5-11 5.5-1 5.5-5 5.5-2 5.5-1 5.5-2 5.5 4 5.5 1 5.5 2 5.5 0 5.5 5 5.5 4 5.5 5 5.5 4 5.5 5 5.5 10 5.5 4 5.5 9 5.5 4 5.5 15 5.5 8 5.5 13 5.5 10 5.5 9"/><path d="M330 -18l5.5-10 5.5-14 5.5-6 5.5-8 5.5-9 5.5-6 5.5-11 5.5-3 5.5-10 5.5-19 5.5-2 5.5 1 5.5 0 5.5 0 5.5 0 5.5 0 5.5 0 5.5 0 5.5 0 5.5 1 5.5 0 5.5 0 5.5 1 5.5 0 5.5 1 5.5 1 5.5 1 5.5 0 5.5 2"/><path d="M330 -28l5.5-13 5.5-14 5.5-8 5.5-7 5.5-12 5.5-10 5.5-11 5.5-8 5.5-9 5.5 0 5.5 6 5.5-6 5.5 0 5.5 0 5.5 0 5.5 0 5.5 0 5.5 0 5.5 0 5.5 0 5.5 0 5.5 0 5.5 0 5.5 0 5.5 0 5.5 0 5.5 0 5.5 0 5.5 0"/><path d="M330 -13l5.5-12 5.5-12 5.5-12 5.5-17 5.5-4 5.5-6 5.5-11 5.5-3 5.5-16 5.5-14 5.5 0 5.5 0 5.5 0 5.5 0 5.5 0 5.5 5 5.5-5 5.5 0 5.5 0 5.5 0 5.5 0 5.5 3 5.5 0 5.5 1 5.5 0 5.5 0 5.5 1 5.5 0 5.5 0"/><path d="M330 -45l5.5-14 5.5-7 5.5-9 5.5-9 5.5-10 5.5-3 5.5-10 5.5-13 5.5 0 5.5 0 5.5 0 5.5 0 5.5 0 5.5 0 5.5 0 5.5 0 5.5 0 5.5 3 5.5-3 5.5 0 5.5 0 5.5 0 5.5 0 5.5 0 5.5 0 5.5 0 5.5 0 5.5 0 5.5 0"/><path d="M330 -38l5.5-7 5.5-16 5.5-11 5.5-10 5.5-12 5.5-10 5.5-13 5.5-3 5.5 0 5.5 0 5.5 0 5.5 0 5.5 0 5.5 0 5.5 0 5.5 0 5.5 0 5.5 0 5.5 0 5.5 0 5.5 0 5.5 0 5.5 0 5.5 0 5.5 0 5.5 0 5.5 0 5.5 9 5.5-9"/><path d="M330 -18l5.5-13 5.5-3 5.5-13 5.5-3 5.5-8 5.5-3 5.5-6 5.5-3 5.5-7 5.5-1 5.5 0 5.5-4 5.5 6 5.5-5 5.5 0 5.5 0 5.5-1 5.5 9 5.5-5 5.5-1 5.5 4 5.5 0 5.5 3 5.5 2 5.5 0 5.5 5 5.5 8 5.5 2 5.5 1"/><path d="M330 -21l5.5-2 5.5-14 5.5 1 5.5-8 5.5-2 5.5 0 5.5-2 5.5-4 5.5-3 5.5 3 5.5 7 5.5-2 5.5 4 5.5 8 5.5 4 5.5 4 5.5 9 5.5 6 5.5 10 5.5 13 5.5 10 5.5 16 5.5 9 5.5 14 5.5 9 5.5 13 5.5 13 5.5 15 5.5 10"/><path d="M330 -16l5.5-7 5.5-6 5.5-11 5.5-4 5.5-4 5.5-6 5.5-7 5.5-3 5.5-9 5.5-5 5.5-3 5.5-2 5.5 3 5.5 2 5.5 2 5.5 4 5.5 4 5.5 3 5.5 4 5.5 6 5.5 5 5.5 6 5.5 6 5.5 5 5.5 5 5.5 8 5.5 3 5.5 8 5.5 5"/><path d="M330 -54l5.5-8 5.5-11 5.5-14 5.5-4 5.5-9 5.5-14 5.5-6 5.5 0 5.5 0 5.5 0 5.5 0 5.5 9 5.5-9 5.5 0 5.5 0 5.5 0 5.5 0 5.5 0 5.5 0 5.5 11 5.5-3 5.5 5 5.5-13 5.5 8 5.5-4 5.5 0 5.5 4 5.5-2 5.5-6"/><path d="M330 -39l5.5-15 5.5-16 5.5-14 5.5-13 5.5-14 5.5-3 5.5-6 5.5 4 5.5 1 5.5-5 5.5 5 5.5-5 5.5 0 5.5 0 5.5 0 5.5 6 5.5-6 5.5 0 5.5 0 5.5 5 5.5-5 5.5 0 5.5 0 5.5 0 5.5 0 5.5 0 5.5 0 5.5 0 5.5 0"/><path d="M330 -36l5.5-14 5.5-12 5.5-12 5.5-10 5.5-13 5.5-15 5.5-3 5.5-2 5.5-3 5.5 0 5.5 0 5.5 0 5.5 0 5.5 0 5.5 0 5.5 0 5.5 0 5.5 0 5.5 0 5.5 0 5.5 0 5.5 0 5.5 0 5.5 0 5.5 0 5.5 0 5.5 0 5.5 0 5.5 0"/><path d="M330 -20l5.5-11 5.5-13 5.5-7 5.5-9 5.5-12 5.5-8 5.5-10 5.5-4 5.5-5 5.5-15 5.5 1 5.5 0 5.5 0 5.5 1 5.5-1 5.5-1 5.5 1 5.5 0 5.5-1 5.5 0 5.5 1 5.5 0 5.5 0 5.5 1 5.5 0 5.5 1 5.5 0 5.5 0 5.5 2"/><path d="M330 -54l5.5-11 5.5-8 5.5-11 5.5-7 5.5-7 5.5-7 5.5-8 5.5-2 5.5-2 5.5-3 5.5 0 5.5 0 5.5 0 5.5 0 5.5 0 5.5 0 5.5 0 5.5 4 5.5-4 5.5 0 5.5 4 5.5-4 5.5 0 5.5 3 5.5-3 5.5 0 5.5 0 5.5 0 5.5 0"/><path d="M330 -30l5.5-12 5.5-14 5.5-17 5.5-11 5.5-11 5.5-18 5.5-7 5.5 0 5.5 0 5.5 0 5.5 0 5.5 0 5.5 0 5.5 0 5.5 0 5.5 0 5.5 0 5.5 0 5.5 0 5.5 0 5.5 0 5.5 0 5.5 0 5.5 0 5.5 0 5.5 0 5.5 0 5.5 0 5.5 3"/><path d="M330 -18l5.5-15 5.5-3 5.5-13 5.5-13 5.5-7 5.5-11 5.5-2 5.5-13 5.5-13 5.5-12 5.5 4 5.5-4 5.5 0 5.5 5 5.5-5 5.5 0 5.5 0 5.5 0 5.5 0 5.5 0 5.5 0 5.5 0 5.5 0 5.5 0 5.5 0 5.5 0 5.5 0 5.5 0 5.5 0"/><path d="M330 -31l5.5-3 5.5-8 5.5-9 5.5-6 5.5-4 5.5-7 5.5-5 5.5-4 5.5-5 5.5-8 5.5 0 5.5-2 5.5 1 5.5 0 5.5 2 5.5 1 5.5 1 5.5 0 5.5 1 5.5 3 5.5 3 5.5 3 5.5 1 5.5 7 5.5 3 5.5 8 5.5 4 5.5 6 5.5 8"/><path d="M330 -32l5.5-6 5.5-11 5.5-10 5.5-6 5.5-12 5.5-5 5.5-4 5.5-11 5.5-13 5.5-6 5.5 0 5.5 0 5.5 1 5.5-1 5.5 1 5.5 0 5.5 0 5.5 1 5.5 1 5.5 0 5.5 0 5.5 1 5.5 1 5.5 3 5.5 0 5.5 0 5.5 1 5.5 1 5.5 1"/><path d="M330 -32l5.5-12 5.5-7 5.5-11 5.5-13 5.5-5 5.5-6 5.5-13 5.5-8 5.5-8 5.5-1 5.5-1 5.5-3 5.5 4 5.5-4 5.5 0 5.5 0 5.5 0 5.5 0 5.5 0 5.5 0 5.5 0 5.5 0 5.5 0 5.5 0 5.5 0 5.5 0 5.5 0 5.5 0 5.5 0"/><path d="M330 -6l5.5-8 5.5-9 5.5-7 5.5-11 5.5-6 5.5-6 5.5-9 5.5-6 5.5-12 5.5-6 5.5-6 5.5-3 5.5 0 5.5 2 5.5 1 5.5 2 5.5 1 5.5 5 5.5-1 5.5 3 5.5 5 5.5 3 5.5 3 5.5 4 5.5 9 5.5 1 5.5 3 5.5 3 5.5 7"/><path d="M330 -35l5.5-17 5.5-11 5.5-9 5.5-18 5.5-12 5.5-14 5.5 2 5.5-6 5.5 0 5.5 0 5.5 0 5.5 0 5.5 0 5.5 0 5.5 3 5.5-3 5.5 0 5.5 0 5.5 0 5.5 0 5.5 0 5.5 0 5.5 0 5.5 0 5.5 0 5.5 0 5.5 0 5.5 0 5.5 0"/><path d="M330 -60l5.5-14 5.5-10 5.5-16 5.5-11 5.5-6 5.5-3 5.5 0 5.5 0 5.5 0 5.5 0 5.5 6 5.5-6 5.5 0 5.5 0 5.5 0 5.5 0 5.5 0 5.5 0 5.5 0 5.5 0 5.5 4 5.5-4 5.5 0 5.5 0 5.5 0 5.5 0 5.5 0 5.5 0 5.5 0"/><path d="M330 -31l5.5-13 5.5-18 5.5-11 5.5-18 5.5-10 5.5-15 5.5-1 5.5 1 5.5-4 5.5 7 5.5-7 5.5 0 5.5 0 5.5 0 5.5 0 5.5 0 5.5 0 5.5 0 5.5 0 5.5 0 5.5 0 5.5 0 5.5 0 5.5 0 5.5 0 5.5 0 5.5 0 5.5 0 5.5 0"/><path d="M330 -5l5.5-15 5.5-9 5.5-9 5.5-9 5.5-4 5.5-7 5.5-7 5.5-14 5.5-4 5.5-11 5.5-8 5.5-4 5.5 1 5.5 1 5.5 1 5.5 3 5.5 1 5.5 1 5.5 1 5.5 3 5.5 2 5.5 1 5.5 4 5.5 1 5.5 3 5.5 1 5.5 3 5.5 3 5.5 1"/><path d="M330 -30l5.5-4 5.5-5 5.5-15 5.5-13 5.5-3 5.5-10 5.5-9 5.5-5 5.5-9 5.5-10 5.5 0 5.5 1 5.5-1 5.5 0 5.5 0 5.5 0 5.5-1 5.5 2 5.5-1 5.5 1 5.5 0 5.5 1 5.5 0 5.5 1 5.5 2 5.5 0 5.5 0 5.5 1 5.5 3"/><path d="M330 -19l5.5-11 5.5-9 5.5-6 5.5-8 5.5-7 5.5-4 5.5-4 5.5-1 5.5-8 5.5-8 5.5-6 5.5-3 5.5 1 5.5 3 5.5-1 5.5 1 5.5 5 5.5 2 5.5 4 5.5 3 5.5 5 5.5 3 5.5 4 5.5 4 5.5 6 5.5 4 5.5 5 5.5 5 5.5 6"/><path d="M330 -15l5.5-6 5.5-13 5.5-9 5.5-5 5.5-8 5.5-4 5.5-11 5.5-3 5.5-8 5.5-9 5.5-8 5.5-10 5.5-2 5.5 0 5.5 1 5.5 2 5.5 1 5.5 0 5.5 1 5.5 1 5.5 1 5.5 2 5.5 2 5.5 1 5.5 4 5.5-2 5.5 2 5.5 1 5.5 3"/><path d="M330 -16l5.5-8 5.5-14 5.5-6 5.5-8 5.5-9 5.5-8 5.5-9 5.5-7 5.5-10 5.5-4 5.5 1 5.5-1 5.5 2 5.5 2 5.5 1 5.5 0 5.5 2 5.5 2 5.5 2 5.5 3 5.5 3 5.5 3 5.5 4 5.5 4 5.5 5 5.5 3 5.5 6 5.5 4 5.5 4"/><path d="M330 -42l5.5-6 5.5-12 5.5-10 5.5-14 5.5-9 5.5-7 5.5-16 5.5 0 5.5-4 5.5 0 5.5 0 5.5 0 5.5 0 5.5 0 5.5 0 5.5 4 5.5-4 5.5 0 5.5 0 5.5 0 5.5 0 5.5 0 5.5 0 5.5 0 5.5 0 5.5 0 5.5 0 5.5 0 5.5 0"/><path d="M330 1l5.5-15 5.5-10 5.5-12 5.5-10 5.5-11 5.5-11 5.5-10 5.5-13 5.5-11 5.5-13 5.5 0 5.5 0 5.5 0 5.5 0 5.5 0 5.5 0 5.5 1 5.5 0 5.5 0 5.5 5 5.5-4 5.5 0 5.5 2 5.5 0 5.5 1 5.5 1 5.5 1 5.5 6 5.5-4"/><path d="M330 -6l5.5-8 5.5-7 5.5-11 5.5-8 5.5-3 5.5-4 5.5 2 5.5-3 5.5-4 5.5 1 5.5 1 5.5 2 5.5 9 5.5 3 5.5 6 5.5 7 5.5 5 5.5 7 5.5 9 5.5 10 5.5 6 5.5 13 5.5 9 5.5 13 5.5 12 5.5 12 5.5 10 5.5 9 5.5 13"/><path d="M330 -58l5.5-15 5.5-10 5.5-16 5.5-10 5.5-11 5.5 0 5.5 4 5.5-1 5.5-3 5.5 0 5.5 0 5.5 0 5.5 0 5.5 0 5.5 0 5.5 0 5.5 0 5.5 0 5.5 0 5.5 0 5.5 0 5.5 0 5.5 0 5.5 0 5.5 0 5.5 0 5.5 0 5.5 0 5.5 0"/><path d="M330 -51l5.5-17 5.5-14 5.5-12 5.5-14 5.5-12 5.5 0 5.5 0 5.5 0 5.5 0 5.5 0 5.5 5 5.5 5 5.5-10 5.5 0 5.5 0 5.5 0 5.5 0 5.5 0 5.5 0 5.5 0 5.5 0 5.5 0 5.5 0 5.5 0 5.5 0 5.5 0 5.5 0 5.5 0 5.5 0"/><path d="M330 -32l5.5-7 5.5-17 5.5-4 5.5-13 5.5-9 5.5-9 5.5-8 5.5-5 5.5-4 5.5-2 5.5-2 5.5-3 5.5-5 5.5 0 5.5 5 5.5-5 5.5 0 5.5 0 5.5 0 5.5 0 5.5 0 5.5 0 5.5 0 5.5 0 5.5 0 5.5 0 5.5 0 5.5 0 5.5 0"/><path d="M330 -48l5.5-13 5.5-13 5.5-5 5.5-19 5.5-6 5.5-12 5.5-4 5.5 0 5.5 0 5.5 0 5.5 0 5.5 0 5.5 0 5.5 0 5.5 0 5.5 0 5.5 0 5.5 0 5.5 0 5.5 0 5.5 4 5.5-4 5.5 0 5.5 0 5.5 0 5.5 0 5.5 0 5.5 0 5.5 0"/><path d="M330 -4l5.5-15 5.5-12 5.5-8 5.5-13 5.5-10 5.5-11 5.5-6 5.5-7 5.5-7 5.5-5 5.5-2 5.5-6 5.5-14 5.5 0 5.5 0 5.5 0 5.5 0 5.5 0 5.5 0 5.5 0 5.5 3 5.5-3 5.5 4 5.5-4 5.5 0 5.5 0 5.5 0 5.5 0 5.5 0"/><path d="M330 -48l5.5-7 5.5-15 5.5-9 5.5-12 5.5-11 5.5-18 5.5 6 5.5-6 5.5 0 5.5 4 5.5-4 5.5 0 5.5 0 5.5 0 5.5 0 5.5 0 5.5 0 5.5 0 5.5 0 5.5 0 5.5 0 5.5 0 5.5 5 5.5-5 5.5 0 5.5 0 5.5 0 5.5 0 5.5 0"/><path d="M330 -24l5.5-10 5.5-9 5.5-9 5.5-10 5.5-8 5.5-8 5.5-5 5.5-9 5.5-2 5.5 0 5.5 2 5.5 0 5.5-1 5.5 1 5.5 1 5.5 2 5.5 0 5.5 2 5.5 0 5.5 2 5.5 4 5.5 2 5.5 3 5.5 6 5.5 4 5.5 6 5.5 5 5.5 5 5.5 12"/><path d="M330 -2l5.5-10 5.5-9 5.5-10 5.5-8 5.5-6 5.5-8 5.5-3 5.5-9 5.5-1 5.5-5 5.5-3 5.5 3 5.5 1 5.5 5 5.5 3 5.5 2 5.5 8 5.5 4 5.5 7 5.5 6 5.5 7 5.5 4 5.5 10 5.5 9 5.5 5 5.5 5 5.5 9 5.5 6 5.5 6"/><path d="M330 -38l5.5-11 5.5-16 5.5-12 5.5-11 5.5-15 5.5-17 5.5 0 5.5 0 5.5 7 5.5-7 5.5 0 5.5 0 5.5 5 5.5 2 5.5-7 5.5 0 5.5 0 5.5 0 5.5 0 5.5 0 5.5 0 5.5 0 5.5 0 5.5 0 5.5 0 5.5 0 5.5 0 5.5 0 5.5 0"/><path d="M330 -34l5.5-17 5.5-15 5.5-9 5.5-13 5.5-12 5.5-17 5.5-3 5.5 0 5.5 0 5.5 0 5.5 0 5.5 0 5.5 0 5.5 0 5.5 0 5.5 0 5.5 0 5.5 0 5.5 0 5.5 4 5.5-4 5.5 0 5.5 0 5.5 0 5.5 0 5.5 0 5.5 0 5.5 0 5.5 0"/><path d="M330 -29l5.5-11 5.5-8 5.5-11 5.5-8 5.5-7 5.5-10 5.5-9 5.5-10 5.5-17 5.5 0 5.5 0 5.5 0 5.5 0 5.5 0 5.5 0 5.5 0 5.5 0 5.5 4 5.5-4 5.5 0 5.5 0 5.5 0 5.5 0 5.5 0 5.5 0 5.5 0 5.5 0 5.5 4 5.5 0"/><path d="M330 -10l5.5-4 5.5-10 5.5-4 5.5-5 5.5 1 5.5-6 5.5-3 5.5 1 5.5 4 5.5-4 5.5 2 5.5 1 5.5 3 5.5 3 5.5 3 5.5 9 5.5 7 5.5 8 5.5 13 5.5 8 5.5 10 5.5 12 5.5 13 5.5 11 5.5 13 5.5 10 5.5 10 5.5 12 5.5 11"/><path d="M330 1l5.5-7 5.5-9 5.5-9 5.5-8 5.5-3 5.5-5 5.5-5 5.5-6 5.5-4 5.5-6 5.5-4 5.5-2 5.5 1 5.5 3 5.5 5 5.5 2 5.5 7 5.5 6 5.5 5 5.5 8 5.5 5 5.5 8 5.5 5 5.5 8 5.5 5 5.5 8 5.5 10 5.5 6 5.5 3"/><path d="M330 -58l5.5-15 5.5-10 5.5-12 5.5-13 5.5-12 5.5 0 5.5 0 5.5 0 5.5 0 5.5 0 5.5 0 5.5 9 5.5-9 5.5 0 5.5 0 5.5 0 5.5 0 5.5 0 5.5 0 5.5 0 5.5 0 5.5 0 5.5 0 5.5 0 5.5 0 5.5 5 5.5-5 5.5 4 5.5-4"/><path d="M330 -52l5.5-11 5.5-12 5.5-13 5.5-10 5.5-19 5.5-3 5.5 0 5.5 0 5.5 0 5.5 0 5.5 0 5.5 0 5.5 0 5.5 0 5.5 0 5.5 0 5.5 0 5.5 0 5.5 0 5.5 0 5.5 0 5.5 0 5.5 0 5.5 0 5.5 0 5.5 0 5.5 0 5.5 0 5.5 0"/><path d="M330 -14l5.5-13 5.5-11 5.5-10 5.5-8 5.5-5 5.5-10 5.5-4 5.5-5 5.5-15 5.5-8 5.5-8 5.5-2 5.5 0 5.5 1 5.5 1 5.5 4 5.5-4 5.5 1 5.5 1 5.5 1 5.5 1 5.5 1 5.5 1 5.5 1 5.5 1 5.5 2 5.5 4 5.5-2 5.5 2"/><path d="M330 -11l5.5-9 5.5-7 5.5-8 5.5-2 5.5-2 5.5-5 5.5-4 5.5-5 5.5-1 5.5-4 5.5-1 5.5 4 5.5 1 5.5 5 5.5 4 5.5 4 5.5 10 5.5 5 5.5 9 5.5 8 5.5 7 5.5 10 5.5 12 5.5 12 5.5 13 5.5 8 5.5 14 5.5 13 5.5 10"/><path d="M330 -38l5.5-11 5.5-7 5.5-6 5.5-7 5.5-7 5.5-5 5.5-8 5.5 1 5.5-10 5.5-3 5.5-13 5.5-6 5.5 9 5.5-9 5.5 0 5.5 4 5.5-4 5.5 0 5.5 4 5.5-4 5.5 0 5.5 0 5.5 0 5.5 0 5.5 0 5.5 0 5.5 0 5.5 0 5.5 9"/><path d="M330 4l5.5-15 5.5-10 5.5-14 5.5-11 5.5-9 5.5-7 5.5-11 5.5-7 5.5-13 5.5-4 5.5-2 5.5 1 5.5 0 5.5 0 5.5 0 5.5 2 5.5 1 5.5 1 5.5 2 5.5 2 5.5 2 5.5 3 5.5 3 5.5 4 5.5 3 5.5 5 5.5 3 5.5 5 5.5 3"/><path d="M330 -15l5.5-13 5.5-10 5.5-13 5.5-13 5.5-10 5.5-9 5.5-6 5.5-18 5.5-2 5.5 0 5.5 0 5.5-2 5.5 0 5.5 1 5.5-3 5.5 0 5.5-1 5.5 3 5.5-4 5.5 0 5.5 1 5.5-1 5.5 0 5.5-2 5.5-3 5.5 0 5.5 0 5.5 0 5.5 0"/><path d="M330 -12l5.5-9 5.5-11 5.5-11 5.5-6 5.5-7 5.5-8 5.5-6 5.5-6 5.5-4 5.5-4 5.5-6 5.5-5 5.5 2 5.5-6 5.5-5 5.5-5 5.5-11 5.5 0 5.5 0 5.5 0 5.5 0 5.5 0 5.5 0 5.5 0 5.5 0 5.5 0 5.5 0 5.5 0 5.5 0"/><path d="M330 -23l5.5-11 5.5-12 5.5-13 5.5-9 5.5-9 5.5-12 5.5-12 5.5-14 5.5-5 5.5 0 5.5 0 5.5 0 5.5 0 5.5 0 5.5 0 5.5 0 5.5 0 5.5 0 5.5 0 5.5 3 5.5-3 5.5 0 5.5 0 5.5 0 5.5 0 5.5 0 5.5 0 5.5 3 5.5-3"/><path d="M330 -13l5.5-15 5.5-11 5.5-9 5.5-8 5.5-7 5.5-10 5.5-9 5.5-2 5.5-12 5.5-8 5.5 2 5.5-2 5.5 1 5.5 3 5.5-1 5.5 2 5.5 2 5.5 1 5.5 3 5.5 2 5.5 2 5.5 3 5.5 5 5.5 2 5.5 4 5.5 2 5.5 5 5.5 3 5.5 5"/><path d="M330 25l5.5-13 5.5-7 5.5-16 5.5-8 5.5-8 5.5-9 5.5-12 5.5-4 5.5-10 5.5-8 5.5-15 5.5-11 5.5-6 5.5-10 5.5 0 5.5 2 5.5-1 5.5 3 5.5-2 5.5 5 5.5-2 5.5 0 5.5 1 5.5 1 5.5 2 5.5 0 5.5 1 5.5 1 5.5 0"/><path d="M330 -20l5.5-13 5.5-4 5.5-15 5.5-7 5.5-5 5.5-8 5.5-10 5.5-1 5.5-11 5.5-16 5.5 0 5.5 0 5.5 1 5.5 0 5.5 1 5.5 0 5.5 3 5.5 0 5.5 2 5.5 1 5.5 2 5.5 2 5.5 2 5.5 1 5.5 2 5.5 1 5.5 2 5.5 2 5.5 1"/><path d="M330 -9l5.5-13 5.5-6 5.5-6 5.5-11 5.5-6 5.5-5 5.5-7 5.5-2 5.5-8 5.5-5 5.5 1 5.5-1 5.5 1 5.5 3 5.5 1 5.5 2 5.5 2 5.5 0 5.5 6 5.5 3 5.5 2 5.5 11 5.5 4 5.5 9 5.5 2 5.5 9 5.5 11 5.5 9 5.5 13"/><path d="M330 -31l5.5-11 5.5-17 5.5-11 5.5-10 5.5-12 5.5-10 5.5-18 5.5 0 5.5 0 5.5 0 5.5 0 5.5 0 5.5 0 5.5 0 5.5 0 5.5 0 5.5 0 5.5 0 5.5 0 5.5 0 5.5 0 5.5 0 5.5 0 5.5 0 5.5 0 5.5 0 5.5 0 5.5 0 5.5 0"/><path d="M330 -30l5.5-9 5.5-7 5.5-11 5.5-7 5.5-9 5.5-6 5.5-7 5.5-7 5.5-7 5.5 0 5.5-1 5.5 1 5.5 2 5.5-1 5.5-3 5.5 3 5.5-1 5.5 0 5.5-4 5.5 1 5.5-1 5.5 2 5.5 2 5.5-1 5.5 1 5.5 5 5.5-2 5.5 1 5.5 3"/><path d="M330 -18l5.5-11 5.5-11 5.5-9 5.5-9 5.5-1 5.5-10 5.5-1 5.5-6 5.5-4 5.5-8 5.5-10 5.5 1 5.5 1 5.5 1 5.5 0 5.5 1 5.5 3 5.5 2 5.5 3 5.5 2 5.5 2 5.5 4 5.5 4 5.5 4 5.5 5 5.5 3 5.5 5 5.5 6 5.5 6"/><path d="M330 -19l5.5-5 5.5-9 5.5-12 5.5-5 5.5-3 5.5-3 5.5-9 5.5-1 5.5-12 5.5-4 5.5-10 5.5-4 5.5-5 5.5 2 5.5 1 5.5 2 5.5 3 5.5 1 5.5 4 5.5 1 5.5 3 5.5 3 5.5 2 5.5 2 5.5 3 5.5 2 5.5 3 5.5 3 5.5 3"/><path d="M330 -17l5.5-9 5.5-4 5.5-15 5.5-5 5.5-9 5.5-4 5.5-3 5.5-7 5.5-3 5.5-11 5.5-7 5.5-6 5.5-4 5.5 0 5.5 1 5.5 2 5.5 2 5.5 5 5.5-2 5.5 5 5.5 0 5.5 2 5.5 2 5.5 2 5.5 4 5.5 0 5.5 2 5.5 2 5.5 3"/><path d="M330 -33l5.5-10 5.5-11 5.5-10 5.5-10 5.5-9 5.5-4 5.5-11 5.5-12 5.5-10 5.5 0 5.5 0 5.5 0 5.5 0 5.5 0 5.5 0 5.5 0 5.5 0 5.5 0 5.5 0 5.5 0 5.5 0 5.5 0 5.5 0 5.5 0 5.5 0 5.5 0 5.5 0 5.5 0 5.5 0"/><path d="M330 -23l5.5-10 5.5-7 5.5-6 5.5-11 5.5-5 5.5-3 5.5-6 5.5-3 5.5-7 5.5-5 5.5 2 5.5-3 5.5-1 5.5 0 5.5-6 5.5 3 5.5-5 5.5 0 5.5 2 5.5-6 5.5 4 5.5-6 5.5-7 5.5 6 5.5 0 5.5-6 5.5-11 5.5 0 5.5 6"/><path d="M330 -53l5.5-8 5.5-12 5.5-9 5.5-8 5.5-5 5.5-19 5.5 6 5.5-12 5.5 0 5.5 0 5.5 0 5.5 0 5.5 7 5.5 6 5.5-6 5.5-7 5.5 4 5.5-4 5.5 0 5.5 0 5.5 0 5.5 0 5.5 0 5.5 5 5.5-2 5.5-3 5.5 0 5.5 0 5.5 0"/><path d="M330 -6l5.5-8 5.5-9 5.5-10 5.5-13 5.5-6 5.5-4 5.5-9 5.5-2 5.5-12 5.5-6 5.5-16 5.5-13 5.5-6 5.5 0 5.5 0 5.5 0 5.5 0 5.5 0 5.5 0 5.5 0 5.5 0 5.5 0 5.5 0 5.5 0 5.5 0 5.5 0 5.5 0 5.5 0 5.5 0"/><path d="M330 -28l5.5-9 5.5-12 5.5-15 5.5-11 5.5-10 5.5-7 5.5-13 5.5-15 5.5 0 5.5 0 5.5 0 5.5 0 5.5 0 5.5 0 5.5 0 5.5 0 5.5 0 5.5 0 5.5 3 5.5-3 5.5 3 5.5-3 5.5 0 5.5 0 5.5 0 5.5 0 5.5 0 5.5 5 5.5-5"/><path d="M330 -45l5.5-9 5.5-12 5.5-10 5.5-11 5.5-8 5.5-6 5.5-5 5.5-14 5.5 0 5.5 0 5.5 0 5.5 0 5.5 0 5.5 0 5.5 0 5.5 0 5.5 6 5.5-6 5.5 0 5.5 0 5.5 0 5.5 0 5.5 0 5.5 0 5.5 0 5.5 0 5.5 0 5.5 0 5.5 0"/><path d="M330 -13l5.5-7 5.5-6 5.5-5 5.5-3 5.5-5 5.5-7 5.5 0 5.5-4 5.5-1 5.5 2 5.5 1 5.5 0 5.5 4 5.5-2 5.5 8 5.5 8 5.5 5 5.5 3 5.5 9 5.5 9 5.5 12 5.5 11 5.5 7 5.5 14 5.5 13 5.5 13 5.5 13 5.5 11 5.5 8"/><path d="M330 6l5.5-14 5.5-11 5.5-8 5.5-12 5.5-4 5.5-5 5.5-1 5.5-3 5.5-5 5.5-12 5.5-8 5.5-10 5.5-6 5.5-3 5.5-7 5.5-6 5.5-3 5.5 1 5.5 4 5.5-2 5.5 0 5.5 2 5.5 1 5.5 1 5.5 5 5.5 1 5.5-4 5.5 2 5.5 0"/><path d="M330 -13l5.5-10 5.5-10 5.5-11 5.5-1 5.5-14 5.5-6 5.5-8 5.5-4 5.5-10 5.5-8 5.5-5 5.5-5 5.5 0 5.5 0 5.5 4 5.5-2 5.5 1 5.5 2 5.5 1 5.5 2 5.5 2 5.5 3 5.5 1 5.5 4 5.5 2 5.5 2 5.5 3 5.5 6 5.5 1"/><path d="M330 -42l5.5-11 5.5-10 5.5-15 5.5-10 5.5-11 5.5-12 5.5-5 5.5-4 5.5 0 5.5 0 5.5 7 5.5-7 5.5 0 5.5 0 5.5 0 5.5 0 5.5 0 5.5 0 5.5 0 5.5 0 5.5 0 5.5 0 5.5 0 5.5 0 5.5 0 5.5 0 5.5 0 5.5 0 5.5 0"/><path d="M330 -43l5.5-9 5.5-16 5.5-17 5.5-7 5.5-17 5.5-11 5.5 0 5.5 0 5.5 0 5.5 0 5.5 0 5.5 0 5.5 0 5.5 0 5.5 0 5.5 0 5.5 0 5.5 0 5.5 0 5.5 0 5.5 0 5.5 0 5.5 0 5.5 0 5.5 0 5.5 0 5.5 0 5.5 0 5.5 0"/><path d="M330 -29l5.5-10 5.5-6 5.5-10 5.5-7 5.5-8 5.5-5 5.5-6 5.5-9 5.5-12 5.5-3 5.5 0 5.5-1 5.5 1 5.5 0 5.5 2 5.5-1 5.5 2 5.5 0 5.5 3 5.5-2 5.5 2 5.5 1 5.5 2 5.5 3 5.5 2 5.5 2 5.5 5 5.5 2 5.5 3"/><path d="M330 -24l5.5-9 5.5-19 5.5-12 5.5-7 5.5-12 5.5-8 5.5-8 5.5-21 5.5 0 5.5 0 5.5 0 5.5 3 5.5-3 5.5 0 5.5 0 5.5 0 5.5 0 5.5 0 5.5 0 5.5 0 5.5 0 5.5 0 5.5 0 5.5 0 5.5 0 5.5 0 5.5 0 5.5 0 5.5 0"/><path d="M330 -44l5.5-13 5.5-14 5.5-12 5.5-13 5.5-10 5.5-7 5.5-7 5.5 0 5.5 0 5.5 0 5.5 4 5.5-4 5.5 4 5.5-4 5.5 0 5.5 0 5.5 0 5.5 0 5.5 0 5.5 0 5.5 0 5.5 4 5.5-4 5.5 0 5.5 0 5.5 0 5.5 0 5.5 0 5.5 0"/><path d="M330 -22l5.5-4 5.5-13 5.5-6 5.5-6 5.5-4 5.5-6 5.5-10 5.5-6 5.5-4 5.5-10 5.5-7 5.5-2 5.5-1 5.5 2 5.5 0 5.5 0 5.5 2 5.5 0 5.5 2 5.5 2 5.5 3 5.5 4 5.5-1 5.5 3 5.5 5 5.5 2 5.5 4 5.5 4 5.5 8"/><path d="M330 -25l5.5-12 5.5-6 5.5-11 5.5-8 5.5-6 5.5-5 5.5-7 5.5-5 5.5-5 5.5 0 5.5-4 5.5-3 5.5-1 5.5-5 5.5-5 5.5-7 5.5-5 5.5 0 5.5 0 5.5 0 5.5 0 5.5 0 5.5 0 5.5 0 5.5 0 5.5 0 5.5 4 5.5-1 5.5-3"/><path d="M330 1l5.5-17 5.5-10 5.5-13 5.5-9 5.5-10 5.5-11 5.5-9 5.5-9 5.5-9 5.5-2 5.5-5 5.5 1 5.5-8 5.5-10 5.5 0 5.5 0 5.5 0 5.5 0 5.5 0 5.5 0 5.5 0 5.5 0 5.5 0 5.5 3 5.5-3 5.5 0 5.5 0 5.5 0 5.5 6"/><path d="M330 -34l5.5-10 5.5-12 5.5-5 5.5-15 5.5-7 5.5-8 5.5-9 5.5-5 5.5-11 5.5-1 5.5 1 5.5-4 5.5 0 5.5 0 5.5 0 5.5 0 5.5 0 5.5 0 5.5 0 5.5 0 5.5 0 5.5 0 5.5 0 5.5 0 5.5 0 5.5 4 5.5-4 5.5 0 5.5 0"/><path d="M330 -20l5.5-6 5.5-10 5.5-8 5.5-7 5.5-5 5.5-5 5.5-5 5.5-3 5.5-9 5.5-9 5.5-3 5.5 3 5.5-4 5.5 2 5.5-4 5.5 3 5.5 2 5.5-4 5.5 0 5.5 1 5.5 0 5.5 3 5.5 4 5.5 3 5.5 1 5.5 1 5.5 6 5.5 1 5.5 5"/><path d="M330 -17l5.5-13 5.5-11 5.5-9 5.5-15 5.5-7 5.5-10 5.5-9 5.5-16 5.5-2 5.5 0 5.5-2 5.5 1 5.5 2 5.5-3 5.5-1 5.5-1 5.5 4 5.5-4 5.5 0 5.5 0 5.5 0 5.5 1 5.5-1 5.5 1 5.5-1 5.5 0 5.5 3 5.5-1 5.5 1"/><path d="M330 -44l5.5-13 5.5-10 5.5-11 5.5-14 5.5-4 5.5-14 5.5-10 5.5 0 5.5 0 5.5 0 5.5 0 5.5 0 5.5 0 5.5 0 5.5 5 5.5-5 5.5 0 5.5 0 5.5 0 5.5 0 5.5 0 5.5 0 5.5 0 5.5 0 5.5 0 5.5 0 5.5 0 5.5 0 5.5 3"/><path d="M330 -36l5.5-10 5.5-10 5.5-6 5.5-13 5.5-8 5.5-6 5.5-2 5.5-12 5.5-1 5.5-5 5.5-5 5.5-6 5.5 0 5.5 6 5.5-2 5.5-4 5.5 0 5.5 3 5.5 3 5.5-6 5.5 0 5.5 0 5.5 4 5.5-4 5.5 0 5.5 0 5.5 0 5.5 0 5.5 4"/></g><g id="rLL"><path d="M165 200l5.5 5 5.5 2 5.5 3 5.5 3 5.5 2 5.5 3 5.5 0 5.5-3 5.5 2 5.5 3 5.5-1 5.5-2 5.5 4 5.5-3 5.5 3 5.5 3 5.5 0 5.5-2 5.5 3 5.5-2 5.5 0 5.5 2 5.5-2 5.5-1 5.5-6 5.5-3 5.5-7 5.5 0 5.5 0 5.5-9"/><path d="M165 210l5.5 9 5.5-1 5.5 1 5.5-1 5.5-5 5.5 3 5.5-1 5.5-1 5.5 3 5.5-5 5.5-1 5.5-3 5.5-3 5.5 1 5.5-9 5.5 6 5.5-6 5.5-2 5.5-2 5.5-10 5.5-1 5.5-6 5.5-2 5.5-5 5.5-13 5.5 6 5.5-11 5.5-5 5.5-4 5.5 0"/><path d="M165 200l5.5-2 5.5-3 5.5 2 5.5-1 5.5-3 5.5 5 5.5-5 5.5-4 5.5-1 5.5-6 5.5 4 5.5-5 5.5 4 5.5-1 5.5 0 5.5 0 5.5-4 5.5-5 5.5 3 5.5-1 5.5-4 5.5-1 5.5-2 5.5-4 5.5-3 5.5 1 5.5-3 5.5-9 5.5-6 5.5 3"/><path d="M165 199l5.5-3 5.5-1 5.5 2 5.5-1 5.5 4 5.5-6 5.5-2 5.5-2 5.5-3 5.5-3 5.5-1 5.5 1 5.5 2 5.5-2 5.5-5 5.5 2 5.5 2 5.5-7 5.5-3 5.5-1 5.5-2 5.5 0 5.5 0 5.5-6 5.5-2 5.5 1 5.5-5 5.5-2 5.5-3 5.5-7"/><path d="M165 231l5.5 4 5.5 0 5.5 3 5.5 2 5.5 0 5.5 0 5.5 1 5.5-2 5.5 2 5.5 0 5.5-1 5.5-1 5.5-2 5.5 1 5.5-3 5.5 0 5.5-6 5.5 0 5.5-3 5.5-1 5.5 1 5.5-7 5.5-5 5.5-1 5.5-8 5.5 1 5.5-9 5.5-11 5.5-4 5.5-3"/><path d="M165 223l5.5-4 5.5 1 5.5 1 5.5 4 5.5-4 5.5 7 5.5-2 5.5 1 5.5-2 5.5-5 5.5 5 5.5-4 5.5-2 5.5 2 5.5-1 5.5-3 5.5 0 5.5-3 5.5 1 5.5-6 5.5 6 5.5-3 5.5-5 5.5-1 5.5-6 5.5 0 5.5-4 5.5-5 5.5-6 5.5-2"/><path d="M165 221l5.5-2 5.5 8 5.5-3 5.5 0 5.5 4 5.5-4 5.5 0 5.5-2 5.5 5 5.5-3 5.5 1 5.5-1 5.5-4 5.5 2 5.5 2 5.5 1 5.5-4 5.5-1 5.5-2 5.5 2 5.5 0 5.5-4 5.5 4 5.5-4 5.5-2 5.5-3 5.5-4 5.5-3 5.5-2 5.5-1"/><path d="M165 191l5.5-2 5.5 1 5.5 0 5.5-3 5.5 1 5.5-1 5.5 1 5.5 1 5.5 5 5.5-10 5.5 2 5.5 3 5.5-1 5.5-2 5.5 2 5.5 3 5.5-5 5.5-1 5.5 0 5.5-1 5.5-4 5.5 2 5.5 0 5.5-2 5.5-2 5.5-3 5.5-8 5.5-1 5.5-7 5.5 2"/><path d="M165 215l5.5 2 5.5 0 5.5-1 5.5 0 5.5-4 5.5 6 5.5 4 5.5-4 5.5-3 5.5 2 5.5 0 5.5 0 5.5-2 5.5 1 5.5-3 5.5 1 5.5-2 5.5-5 5.5-2 5.5-2 5.5 3 5.5-4 5.5-3 5.5-5 5.5-5 5.5-3 5.5-2 5.5-7 5.5-5 5.5-6"/><path d="M165 210l5.5 1 5.5 2 5.5 2 5.5 8 5.5-4 5.5 6 5.5 1 5.5-3 5.5 0 5.5-5 5.5 6 5.5-5 5.5 1 5.5-4 5.5 3 5.5-1 5.5 2 5.5-3 5.5 1 5.5-2 5.5 2 5.5-6 5.5 1 5.5-9 5.5 3 5.5-5 5.5 4 5.5-7 5.5 1 5.5-6"/><path d="M165 210l5.5 0 5.5 4 5.5 2 5.5 4 5.5-8 5.5 5 5.5 0 5.5-5 5.5 4 5.5-2 5.5 2 5.5-4 5.5 5 5.5-2 5.5-1 5.5 2 5.5 1 5.5-7 5.5 6 5.5-1 5.5 0 5.5-3 5.5-5 5.5 1 5.5 0 5.5-5 5.5-3 5.5-1 5.5-5 5.5-2"/><path d="M165 198l5.5 11 5.5-6 5.5 3 5.5-1 5.5 1 5.5 5 5.5-4 5.5 1 5.5 2 5.5-5 5.5 1 5.5-3 5.5-2 5.5 2 5.5-3 5.5-4 5.5 0 5.5-3 5.5 5 5.5-12 5.5-6 5.5 4 5.5 0 5.5-7 5.5-6 5.5-5 5.5-1 5.5-11 5.5-4 5.5-5"/><path d="M165 208l5.5-6 5.5 3 5.5 6 5.5-4 5.5 2 5.5-3 5.5 3 5.5-3 5.5-5 5.5-2 5.5-2 5.5 4 5.5-10 5.5 4 5.5-4 5.5 1 5.5-6 5.5 3 5.5-6 5.5 1 5.5-4 5.5 2 5.5-8 5.5 1 5.5-1 5.5-5 5.5 1 5.5-5 5.5-7 5.5 0"/><path d="M165 192l5.5 0 5.5 0 5.5-4 5.5 0 5.5 0 5.5-1 5.5 1 5.5 0 5.5-6 5.5-4 5.5-1 5.5 1 5.5-3 5.5 0 5.5-7 5.5 0 5.5 2 5.5-5 5.5 1 5.5-8 5.5-3 5.5 1 5.5 1 5.5-7 5.5-1 5.5 1 5.5-3 5.5-7 5.5-2 5.5-1"/><path d="M165 197l5.5 3 5.5-3 5.5 1 5.5-2 5.5-1 5.5 0 5.5-5 5.5-2 5.5-6 5.5-2 5.5-2 5.5-1 5.5-9 5.5 1 5.5 0 5.5-6 5.5-2 5.5-5 5.5 5 5.5-7 5.5-7 5.5-2 5.5-5 5.5 0 5.5-6 5.5-4 5.5-3 5.5-5 5.5-3 5.5-1"/><path d="M165 213l5.5 2 5.5 1 5.5-5 5.5 8 5.5 0 5.5 0 5.5 1 5.5-8 5.5 8 5.5-6 5.5 6 5.5 3 5.5-7 5.5 2 5.5 5 5.5-1 5.5 0 5.5 2 5.5 2 5.5-2 5.5-7 5.5 10 5.5-4 5.5-2 5.5 0 5.5-1 5.5 0 5.5-3 5.5-4 5.5-1"/><path d="M165 194l5.5-4 5.5 2 5.5-4 5.5 2 5.5-2 5.5 0 5.5 0 5.5-10 5.5 9 5.5-12 5.5 7 5.5-4 5.5 3 5.5-6 5.5-1 5.5 3 5.5-6 5.5-7 5.5 1 5.5 1 5.5-3 5.5 1 5.5-3 5.5-9 5.5 3 5.5-1 5.5-6 5.5-5 5.5 6 5.5-5"/><path d="M165 187l5.5-1 5.5-2 5.5-3 5.5 3 5.5 0 5.5-1 5.5-1 5.5 2 5.5 2 5.5-1 5.5-2 5.5-3 5.5 2 5.5-2 5.5-4 5.5 6 5.5-6 5.5-4 5.5 0 5.5-6 5.5 0 5.5 0 5.5-4 5.5-1 5.5-2 5.5-2 5.5-3 5.5-3 5.5-4 5.5-4"/><path d="M165 183l5.5 1 5.5 3 5.5 1 5.5 0 5.5 6 5.5 0 5.5 0 5.5 1 5.5-2 5.5 3 5.5 1 5.5-3 5.5-1 5.5 2 5.5-4 5.5-2 5.5 1 5.5 0 5.5-4 5.5-3 5.5 2 5.5 0 5.5-3 5.5-4 5.5-1 5.5-1 5.5-5 5.5-7 5.5 2 5.5-7"/><path d="M165 209l5.5 2 5.5 4 5.5-3 5.5 1 5.5 0 5.5 2 5.5-1 5.5 1 5.5 1 5.5-6 5.5-1 5.5 4 5.5 4 5.5-3 5.5-2 5.5 2 5.5 0 5.5-1 5.5-1 5.5-2 5.5 0 5.5-1 5.5-6 5.5-6 5.5-1 5.5-1 5.5-1 5.5-6 5.5-4 5.5-1"/><path d="M165 206l5.5 3 5.5 3 5.5 2 5.5 1 5.5-2 5.5-4 5.5 4 5.5-4 5.5 0 5.5-6 5.5 4 5.5-2 5.5 3 5.5-1 5.5-6 5.5-6 5.5-2 5.5-1 5.5-2 5.5-5 5.5-2 5.5-3 5.5-3 5.5-4 5.5-3 5.5-2 5.5-11 5.5-1 5.5-4 5.5-3"/><path d="M165 215l5.5 3 5.5-5 5.5 1 5.5 2 5.5 1 5.5 0 5.5-1 5.5-2 5.5 0 5.5-4 5.5 0 5.5-6 5.5-1 5.5 0 5.5-6 5.5-9 5.5 4 5.5-3 5.5-5 5.5-2 5.5-5 5.5 0 5.5-5 5.5-4 5.5-7 5.5-3 5.5-8 5.5-7 5.5-6 5.5-4"/><path d="M165 196l5.5-1 5.5 0 5.5-2 5.5 3 5.5 1 5.5 6 5.5-4 5.5-2 5.5 3 5.5 9 5.5-5 5.5 1 5.5 4 5.5-1 5.5-4 5.5 3 5.5-3 5.5-4 5.5 2 5.5-4 5.5 2 5.5-6 5.5 2 5.5-3 5.5-4 5.5 0 5.5-6 5.5-1 5.5-3 5.5 1"/><path d="M165 185l5.5-4 5.5 4 5.5-3 5.5 0 5.5 0 5.5-6 5.5 3 5.5-3 5.5 1 5.5-3 5.5-2 5.5-2 5.5 0 5.5-3 5.5-4 5.5-1 5.5 3 5.5-2 5.5-2 5.5-4 5.5-3 5.5 0 5.5-1 5.5-4 5.5-4 5.5 0 5.5-1 5.5-3 5.5-2 5.5-3"/><path d="M165 190l5.5 5 5.5-4 5.5 2 5.5 1 5.5 1 5.5 3 5.5-4 5.5 3 5.5-4 5.5-2 5.5 2 5.5 3 5.5-5 5.5-1 5.5-2 5.5 2 5.5 0 5.5-11 5.5-2 5.5 4 5.5-11 5.5 6 5.5-1 5.5-7 5.5-3 5.5-4 5.5-6 5.5 0 5.5-2 5.5-4"/><path d="M165 194l5.5-7 5.5-3 5.5-3 5.5 1 5.5 0 5.5-3 5.5 4 5.5-11 5.5 1 5.5-1 5.5-2 5.5-3 5.5 1 5.5-5 5.5-2 5.5 1 5.5-4 5.5-2 5.5-2 5.5-3 5.5-2 5.5 0 5.5-5 5.5-2 5.5-7 5.5 1 5.5 1 5.5-3 5.5-6 5.5 1"/><path d="M165 215l5.5 5 5.5 0 5.5 4 5.5 0 5.5 3 5.5-3 5.5 1 5.5 4 5.5-2 5.5 4 5.5-3 5.5-4 5.5 7 5.5-2 5.5-1 5.5 4 5.5-5 5.5-4 5.5-2 5.5 2 5.5-1 5.5-2 5.5-6 5.5-4 5.5 3 5.5-1 5.5-8 5.5-3 5.5 1 5.5-6"/><path d="M165 215l5.5 3 5.5-1 5.5 3 5.5-2 5.5 5 5.5 3 5.5-6 5.5-1 5.5 0 5.5-3 5.5 1 5.5-5 5.5-1 5.5 0 5.5 0 5.5 3 5.5-3 5.5-7 5.5 7 5.5-7 5.5-2 5.5 0 5.5 2 5.5-8 5.5-1 5.5 1 5.5-11 5.5 6 5.5-1 5.5-4"/><path d="M165 211l5.5 3 5.5-4 5.5 0 5.5 1 5.5 6 5.5-4 5.5 2 5.5 1 5.5 0 5.5-2 5.5 3 5.5-8 5.5 3 5.5 8 5.5-6 5.5-2 5.5 4 5.5 0 5.5-2 5.5 3 5.5-4 5.5 6 5.5-5 5.5 2 5.5-7 5.5 1 5.5-3 5.5 1 5.5 1 5.5-2"/><path d="M165 184l5.5 0 5.5 1 5.5-5 5.5 4 5.5-3 5.5-2 5.5-3 5.5-2 5.5 0 5.5-2 5.5 1 5.5-3 5.5-2 5.5 4 5.5-2 5.5 0 5.5 5 5.5-5 5.5 1 5.5-2 5.5-2 5.5 1 5.5 0 5.5-2 5.5-7 5.5 3 5.5-6 5.5-4 5.5-2 5.5-9"/><path d="M165 241l5.5 0 5.5 0 5.5 0 5.5 0 5.5-1 5.5 1 5.5-1 5.5-2 5.5 0 5.5 0 5.5 2 5.5-5 5.5 1 5.5-3 5.5 0 5.5-1 5.5 4 5.5-4 5.5-2 5.5 0 5.5 0 5.5-1 5.5-4 5.5-1 5.5-2 5.5-2 5.5-8 5.5-2 5.5 1 5.5 0"/><path d="M165 212l5.5 0 5.5 2 5.5 3 5.5 4 5.5-7 5.5 4 5.5-1 5.5-5 5.5 0 5.5 2 5.5-1 5.5-3 5.5 0 5.5-1 5.5 0 5.5-3 5.5 5 5.5-13 5.5 7 5.5-4 5.5-2 5.5-7 5.5-2 5.5-1 5.5-4 5.5-5 5.5-6 5.5-2 5.5-7 5.5 3"/><path d="M165 208l5.5 4 5.5-6 5.5 0 5.5 7 5.5-1 5.5-3 5.5-3 5.5-3 5.5 3 5.5-3 5.5 3 5.5-4 5.5-3 5.5 1 5.5-1 5.5 4 5.5 0 5.5-4 5.5-2 5.5-1 5.5-4 5.5 0 5.5-1 5.5-1 5.5-7 5.5 4 5.5-6 5.5-9 5.5-6 5.5 2"/><path d="M165 194l5.5 4 5.5-5 5.5-1 5.5 5 5.5-3 5.5-4 5.5 4 5.5-9 5.5 4 5.5-7 5.5 4 5.5-11 5.5-2 5.5-2 5.5 0 5.5-5 5.5 0 5.5-8 5.5-1 5.5-2 5.5-7 5.5-2 5.5-2 5.5-4 5.5-2 5.5-1 5.5-3 5.5-5 5.5 3 5.5-9"/><path d="M165 211l5.5 8 5.5 1 5.5-10 5.5-1 5.5-1 5.5 0 5.5-8 5.5-4 5.5 6 5.5-10 5.5 5 5.5-5 5.5-3 5.5 5 5.5-11 5.5 0 5.5-1 5.5-8 5.5-1 5.5-7 5.5-3 5.5 2 5.5-1 5.5-2 5.5-11 5.5 1 5.5-7 5.5-3 5.5 0 5.5-6"/><path d="M165 200l5.5-1 5.5 6 5.5-3 5.5 3 5.5 2 5.5-4 5.5 3 5.5 0 5.5-11 5.5 5 5.5-2 5.5 0 5.5 0 5.5-2 5.5 0 5.5-3 5.5-2 5.5-3 5.5 4 5.5-6 5.5-4 5.5 3 5.5-1 5.5-3 5.5-3 5.5 0 5.5 0 5.5-9 5.5 4 5.5-5"/><path d="M165 209l5.5-3 5.5 1 5.5 0 5.5-1 5.5-2 5.5-5 5.5 5 5.5-3 5.5-3 5.5-2 5.5-4 5.5-2 5.5-3 5.5-5 5.5 0 5.5-4 5.5-5 5.5-8 5.5-2 5.5-4 5.5-7 5.5-8 5.5-2 5.5 0 5.5-9 5.5-6 5.5-1 5.5-3 5.5-3 5.5-3"/><path d="M165 196l5.5 0 5.5 1 5.5-1 5.5-1 5.5 0 5.5 2 5.5-1 5.5-11 5.5 6 5.5-6 5.5 1 5.5 2 5.5-6 5.5 2 5.5-4 5.5 4 5.5-5 5.5-1 5.5-2 5.5-2 5.5-1 5.5 2 5.5-4 5.5 2 5.5-9 5.5-1 5.5-6 5.5-2 5.5-1 5.5-5"/><path d="M165 217l5.5 4 5.5 1 5.5 3 5.5-2 5.5 3 5.5 0 5.5 0 5.5 0 5.5 2 5.5 1 5.5-4 5.5-4 5.5 3 5.5-1 5.5 1 5.5 0 5.5 0 5.5-4 5.5-5 5.5-1 5.5 2 5.5 2 5.5-6 5.5 2 5.5-8 5.5-3 5.5-5 5.5-1 5.5-3 5.5 0"/><path d="M165 192l5.5 3 5.5-4 5.5 5 5.5-5 5.5 7 5.5-1 5.5-1 5.5 3 5.5 4 5.5-4 5.5-3 5.5-1 5.5 0 5.5 5 5.5-7 5.5 6 5.5-1 5.5 3 5.5-1 5.5 3 5.5-6 5.5-3 5.5 0 5.5 1 5.5-5 5.5-9 5.5-3 5.5 1 5.5-8 5.5 2"/><path d="M165 193l5.5 3 5.5-1 5.5 3 5.5 2 5.5 1 5.5-1 5.5 1 5.5 1 5.5 1 5.5-2 5.5 4 5.5-2 5.5 5 5.5-7 5.5 4 5.5-5 5.5 1 5.5-3 5.5-2 5.5-1 5.5 0 5.5-3 5.5 3 5.5-3 5.5-1 5.5-1 5.5-2 5.5-7 5.5-4 5.5 2"/><path d="M165 172l5.5 2 5.5-3 5.5 8 5.5 0 5.5-2 5.5 2 5.5-1 5.5 1 5.5 1 5.5-2 5.5-1 5.5-2 5.5 1 5.5-2 5.5 1 5.5 3 5.5 0 5.5-5 5.5-5 5.5-2 5.5-2 5.5 1 5.5-1 5.5 1 5.5-8 5.5-2 5.5-4 5.5 3 5.5-8 5.5-6"/><path d="M165 187l5.5 7 5.5 0 5.5-4 5.5 7 5.5-4 5.5 6 5.5-4 5.5-2 5.5 6 5.5-6 5.5 1 5.5-6 5.5 2 5.5-1 5.5 0 5.5-2 5.5-3 5.5 2 5.5 0 5.5-3 5.5-1 5.5 0 5.5-8 5.5 2 5.5-4 5.5 0 5.5-5 5.5-4 5.5 0 5.5-10"/><path d="M165 198l5.5 3 5.5 5 5.5-2 5.5 5 5.5 2 5.5-2 5.5 0 5.5 2 5.5 4 5.5-1 5.5-1 5.5-1 5.5 4 5.5 1 5.5-1 5.5 0 5.5 2 5.5 1 5.5-3 5.5 7 5.5 1 5.5-1 5.5 1 5.5-1 5.5-4 5.5 6 5.5-7 5.5-2 5.5-2 5.5 3"/><path d="M165 203l5.5-6 5.5 2 5.5 1 5.5 4 5.5-7 5.5-1 5.5 4 5.5-5 5.5 1 5.5 1 5.5-9 5.5 4 5.5-5 5.5-3 5.5-1 5.5-3 5.5-6 5.5 2 5.5-4 5.5-5 5.5-3 5.5 2 5.5-7 5.5-4 5.5-3 5.5-5 5.5-4 5.5-1 5.5-9 5.5 1"/><path d="M165 226l5.5 7 5.5-2 5.5 4 5.5 0 5.5 2 5.5 3 5.5-1 5.5-1 5.5 3 5.5 0 5.5 0 5.5-2 5.5-3 5.5 0 5.5-2 5.5 4 5.5-4 5.5-2 5.5 4 5.5-5 5.5-2 5.5-1 5.5-5 5.5-2 5.5-5 5.5 2 5.5-6 5.5-6 5.5-2 5.5-3"/><path d="M165 201l5.5 5 5.5 3 5.5 5 5.5 1 5.5 5 5.5-5 5.5 5 5.5 0 5.5 0 5.5-6 5.5 7 5.5-5 5.5 3 5.5 3 5.5-5 5.5 2 5.5 5 5.5-5 5.5-5 5.5 1 5.5-7 5.5 2 5.5-1 5.5-4 5.5 4 5.5-3 5.5-5 5.5-1 5.5-8 5.5 1"/><path d="M165 199l5.5-1 5.5-4 5.5 5 5.5 0 5.5 1 5.5 4 5.5-7 5.5 0 5.5 5 5.5-7 5.5-1 5.5 1 5.5 0 5.5-4 5.5 3 5.5-1 5.5-6 5.5-1 5.5-5 5.5 4 5.5-8 5.5-5 5.5-3 5.5-2 5.5-9 5.5-2 5.5-4 5.5-7 5.5-1 5.5-5"/><path d="M165 197l5.5 6 5.5-3 5.5-1 5.5 7 5.5-3 5.5 4 5.5 2 5.5-3 5.5 1 5.5-1 5.5-5 5.5-1 5.5-2 5.5 0 5.5-4 5.5-3 5.5 1 5.5-3 5.5-1 5.5-4 5.5-3 5.5 0 5.5-7 5.5-1 5.5-4 5.5-6 5.5-3 5.5-7 5.5 0 5.5-11"/><path d="M165 200l5.5 3 5.5-3 5.5 3 5.5 3 5.5-2 5.5 0 5.5 2 5.5-1 5.5 1 5.5-4 5.5-1 5.5-2 5.5 0 5.5 3 5.5-2 5.5 0 5.5-2 5.5 2 5.5-4 5.5-1 5.5 1 5.5-5 5.5-2 5.5-6 5.5-8 5.5 9 5.5-13 5.5 3 5.5-8 5.5-8"/><path d="M165 195l5.5 3 5.5 0 5.5-3 5.5-2 5.5 3 5.5 2 5.5-1 5.5-1 5.5 0 5.5 3 5.5-3 5.5 1 5.5-7 5.5 5 5.5 1 5.5 4 5.5-8 5.5 4 5.5-2 5.5-2 5.5 4 5.5 2 5.5-4 5.5 0 5.5-2 5.5 1 5.5-5 5.5 0 5.5-6 5.5-1"/><path d="M165 233l5.5 1 5.5 0 5.5 1 5.5 6 5.5-1 5.5-1 5.5 1 5.5 1 5.5 0 5.5 0 5.5-3 5.5-2 5.5-3 5.5-4 5.5-1 5.5-3 5.5-4 5.5-5 5.5-1 5.5-4 5.5-5 5.5-2 5.5-4 5.5-7 5.5-10 5.5 1 5.5-7 5.5 0 5.5-9 5.5-8"/><path d="M165 209l5.5 3 5.5-2 5.5-1 5.5 2 5.5-1 5.5-2 5.5 1 5.5-4 5.5-1 5.5-1 5.5-4 5.5-3 5.5-3 5.5-1 5.5 2 5.5-4 5.5 0 5.5-4 5.5-1 5.5-2 5.5-6 5.5 1 5.5-7 5.5-2 5.5-6 5.5-1 5.5-4 5.5-1 5.5-6 5.5-5"/><path d="M165 194l5.5 1 5.5 1 5.5-3 5.5 2 5.5-2 5.5 5 5.5-1 5.5-4 5.5-4 5.5 3 5.5-2 5.5 1 5.5 5 5.5-4 5.5-1 5.5-1 5.5 1 5.5-7 5.5 0 5.5 3 5.5 1 5.5-4 5.5 4 5.5-7 5.5 0 5.5 3 5.5-6 5.5-4 5.5-5 5.5-2"/><path d="M165 219l5.5 1 5.5 0 5.5 2 5.5 2 5.5 0 5.5 7 5.5-6 5.5 4 5.5-7 5.5 2 5.5 3 5.5-6 5.5-1 5.5-1 5.5 5 5.5-4 5.5-7 5.5 6 5.5-6 5.5 2 5.5 1 5.5-5 5.5-4 5.5-1 5.5-6 5.5 2 5.5-4 5.5-9 5.5-5 5.5-1"/><path d="M165 202l5.5 2 5.5-4 5.5-3 5.5 1 5.5-1 5.5-2 5.5-1 5.5-2 5.5-1 5.5-6 5.5-2 5.5-1 5.5-6 5.5 2 5.5-2 5.5 1 5.5-5 5.5-5 5.5-1 5.5 1 5.5-10 5.5-5 5.5-1 5.5 0 5.5-6 5.5 0 5.5-9 5.5-3 5.5-4 5.5-1"/><path d="M165 216l5.5 3 5.5 0 5.5-1 5.5 5 5.5 2 5.5-1 5.5-5 5.5 1 5.5 3 5.5 0 5.5-2 5.5 1 5.5 1 5.5 5 5.5-5 5.5 1 5.5-2 5.5 3 5.5-5 5.5 4 5.5-2 5.5-4 5.5 0 5.5-5 5.5-6 5.5 2 5.5-8 5.5-5 5.5-1 5.5-6"/><path d="M165 194l5.5 7 5.5-6 5.5 2 5.5-3 5.5 3 5.5-2 5.5-2 5.5 4 5.5-11 5.5-1 5.5-2 5.5-6 5.5 0 5.5-1 5.5-1 5.5-5 5.5 0 5.5 4 5.5-7 5.5 2 5.5-3 5.5 0 5.5-9 5.5 3 5.5-10 5.5-5 5.5 0 5.5-6 5.5-2 5.5-8"/><path d="M165 177l5.5 5 5.5-2 5.5-1 5.5 4 5.5 0 5.5 2 5.5-2 5.5 0 5.5 4 5.5-2 5.5 0 5.5-3 5.5 1 5.5 0 5.5 7 5.5-3 5.5 1 5.5-4 5.5 6 5.5 1 5.5-7 5.5 8 5.5 0 5.5 0 5.5 1 5.5-1 5.5-2 5.5-1 5.5 0 5.5-1"/><path d="M165 191l5.5 6 5.5-1 5.5-2 5.5 1 5.5 5 5.5-5 5.5-1 5.5 0 5.5-2 5.5-5 5.5 3 5.5 0 5.5-7 5.5-2 5.5-2 5.5-6 5.5 1 5.5-2 5.5-4 5.5-6 5.5 0 5.5-5 5.5-5 5.5-4 5.5-5 5.5-4 5.5-2 5.5-5 5.5-3 5.5-1"/><path d="M165 178l5.5 4 5.5-4 5.5 7 5.5-2 5.5-3 5.5-3 5.5-5 5.5 3 5.5-3 5.5 0 5.5 1 5.5 0 5.5 0 5.5 3 5.5-6 5.5 1 5.5-1 5.5 5 5.5-5 5.5 1 5.5-7 5.5 2 5.5 3 5.5-3 5.5-5 5.5 0 5.5-5 5.5-1 5.5-1 5.5-2"/><path d="M165 194l5.5-2 5.5-5 5.5-2 5.5 3 5.5-1 5.5-3 5.5-6 5.5-1 5.5-4 5.5-3 5.5-2 5.5-3 5.5-8 5.5-4 5.5 0 5.5-5 5.5 1 5.5-2 5.5 2 5.5-3 5.5-4 5.5 0 5.5 1 5.5 0 5.5-4 5.5 0 5.5 0 5.5-5 5.5 3 5.5-6"/><path d="M165 209l5.5 4 5.5-7 5.5 5 5.5 4 5.5 0 5.5 0 5.5-2 5.5-2 5.5 3 5.5-1 5.5-8 5.5 1 5.5-2 5.5-5 5.5 4 5.5-2 5.5 1 5.5-5 5.5-4 5.5-5 5.5 3 5.5-3 5.5-9 5.5-4 5.5-7 5.5 0 5.5-7 5.5-2 5.5-9 5.5 4"/><path d="M165 194l5.5 0 5.5 6 5.5 0 5.5 3 5.5 2 5.5 1 5.5-3 5.5-1 5.5 0 5.5 2 5.5 1 5.5-1 5.5 2 5.5 2 5.5-1 5.5 5 5.5 2 5.5 1 5.5-3 5.5-3 5.5-1 5.5 2 5.5-2 5.5-2 5.5-3 5.5-5 5.5-5 5.5-3 5.5 0 5.5-5"/><path d="M165 192l5.5 7 5.5-8 5.5 4 5.5-1 5.5 1 5.5 2 5.5 0 5.5-3 5.5-1 5.5 2 5.5-5 5.5 4 5.5-4 5.5 3 5.5-1 5.5-2 5.5-4 5.5-1 5.5-4 5.5-6 5.5 4 5.5-1 5.5-10 5.5-1 5.5-5 5.5-3 5.5-7 5.5-6 5.5 0 5.5-3"/><path d="M165 225l5.5-2 5.5 9 5.5 4 5.5 2 5.5 2 5.5 0 5.5 1 5.5 0 5.5 0 5.5 0 5.5-2 5.5 2 5.5 0 5.5-1 5.5-1 5.5-2 5.5-1 5.5-1 5.5 3 5.5-4 5.5 0 5.5-4 5.5-1 5.5 2 5.5-4 5.5-4 5.5-2 5.5-3 5.5-2 5.5-2"/><path d="M165 197l5.5 6 5.5 2 5.5 0 5.5 3 5.5 1 5.5-1 5.5 1 5.5 2 5.5 1 5.5 3 5.5 3 5.5-4 5.5 6 5.5-1 5.5-1 5.5 6 5.5-3 5.5 0 5.5-1 5.5 1 5.5-2 5.5-1 5.5-2 5.5-2 5.5-4 5.5 8 5.5-7 5.5-4 5.5 0 5.5-2"/><path d="M165 230l5.5 1 5.5-3 5.5 1 5.5 4 5.5-1 5.5 7 5.5-3 5.5 0 5.5 0 5.5 1 5.5-2 5.5-4 5.5 4 5.5-4 5.5-1 5.5 0 5.5 3 5.5-6 5.5 2 5.5 1 5.5-6 5.5-6 5.5 1 5.5-3 5.5-3 5.5-3 5.5-6 5.5 2 5.5-6 5.5-7"/><path d="M165 209l5.5 4 5.5 1 5.5-3 5.5 5 5.5-6 5.5 2 5.5 2 5.5 0 5.5 2 5.5-6 5.5 0 5.5 3 5.5-3 5.5 4 5.5-3 5.5-1 5.5-2 5.5-2 5.5 0 5.5-2 5.5-2 5.5 0 5.5-3 5.5 3 5.5-3 5.5 3 5.5-6 5.5-2 5.5 2 5.5-3"/><path d="M165 200l5.5-2 5.5 5 5.5-3 5.5 3 5.5-1 5.5-1 5.5 2 5.5 1 5.5-1 5.5-1 5.5 3 5.5-5 5.5 0 5.5 5 5.5 0 5.5-2 5.5 4 5.5-3 5.5-3 5.5 1 5.5-5 5.5 6 5.5-6 5.5 0 5.5-5 5.5 4 5.5-5 5.5-4 5.5-3 5.5-3"/><path d="M165 220l5.5-1 5.5 5 5.5 2 5.5 0 5.5-2 5.5 6 5.5-3 5.5 1 5.5 3 5.5-3 5.5 5 5.5-2 5.5-4 5.5-2 5.5 4 5.5 2 5.5-6 5.5 1 5.5 5 5.5-6 5.5 2 5.5 0 5.5-2 5.5 1 5.5 0 5.5 0 5.5-7 5.5-2 5.5 0 5.5 0"/><path d="M165 183l5.5 0 5.5-1 5.5-1 5.5 0 5.5 0 5.5-6 5.5-1 5.5 0 5.5-4 5.5-2 5.5-3 5.5-4 5.5 3 5.5-8 5.5-1 5.5-6 5.5-1 5.5 2 5.5-7 5.5-3 5.5-4 5.5-1 5.5 0 5.5-4 5.5 0 5.5-7 5.5-3 5.5 3 5.5-3 5.5-4"/><path d="M165 212l5.5 0 5.5-1 5.5-3 5.5 4 5.5-5 5.5 4 5.5-6 5.5 1 5.5-3 5.5-3 5.5-2 5.5 0 5.5-9 5.5 4 5.5-6 5.5 3 5.5-3 5.5-9 5.5-7 5.5-3 5.5 0 5.5-3 5.5-7 5.5-8 5.5-2 5.5-2 5.5-8 5.5-5 5.5-1 5.5-1"/><path d="M165 209l5.5 0 5.5-2 5.5 0 5.5 3 5.5-4 5.5 2 5.5-1 5.5-3 5.5-3 5.5-4 5.5 1 5.5-6 5.5 3 5.5-4 5.5 4 5.5-9 5.5 1 5.5-5 5.5 2 5.5-2 5.5-3 5.5-8 5.5 1 5.5-1 5.5-5 5.5 2 5.5-11 5.5-2 5.5 0 5.5-2"/><path d="M165 201l5.5 1 5.5 4 5.5 0 5.5 0 5.5 2 5.5-1 5.5-2 5.5 3 5.5-4 5.5-1 5.5 0 5.5-2 5.5 1 5.5-5 5.5 0 5.5-6 5.5 2 5.5 0 5.5-4 5.5 3 5.5-2 5.5 0 5.5-8 5.5-3 5.5 0 5.5-6 5.5-5 5.5-1 5.5-10 5.5-3"/><path d="M165 198l5.5 0 5.5 2 5.5-4 5.5 5 5.5-1 5.5-1 5.5-5 5.5 1 5.5 0 5.5 1 5.5-4 5.5-1 5.5 0 5.5-3 5.5 4 5.5-8 5.5 1 5.5-5 5.5 2 5.5-8 5.5-2 5.5 0 5.5-4 5.5-4 5.5-8 5.5 2 5.5-7 5.5-6 5.5-4 5.5-4"/><path d="M165 181l5.5-3 5.5 5 5.5 2 5.5 2 5.5-4 5.5-3 5.5 4 5.5-6 5.5 3 5.5 0 5.5-1 5.5-4 5.5-2 5.5-2 5.5-4 5.5 0 5.5 3 5.5-4 5.5-5 5.5 4 5.5-1 5.5-7 5.5-4 5.5-9 5.5 4 5.5-2 5.5-6 5.5-1 5.5-5 5.5-5"/><path d="M165 202l5.5-3 5.5 1 5.5 6 5.5 2 5.5-1 5.5-3 5.5 5 5.5 1 5.5 1 5.5-2 5.5-1 5.5-2 5.5 2 5.5 1 5.5 2 5.5-2 5.5 1 5.5 1 5.5-3 5.5 1 5.5-5 5.5 6 5.5-6 5.5-2 5.5 4 5.5-7 5.5 1 5.5-5 5.5-4 5.5 0"/><path d="M165 181l5.5-2 5.5-1 5.5 2 5.5-1 5.5-2 5.5 2 5.5-2 5.5-3 5.5-4 5.5-2 5.5 1 5.5-3 5.5 1 5.5 3 5.5-1 5.5 2 5.5-3 5.5 3 5.5 2 5.5-2 5.5 0 5.5-1 5.5 0 5.5 0 5.5-2 5.5 3 5.5-5 5.5-4 5.5-4 5.5 0"/><path d="M165 209l5.5 1 5.5-3 5.5 4 5.5 3 5.5-3 5.5-4 5.5 0 5.5-4 5.5-2 5.5 3 5.5-1 5.5-1 5.5 0 5.5-5 5.5-3 5.5 3 5.5-3 5.5 1 5.5-7 5.5 2 5.5-3 5.5-4 5.5-3 5.5-7 5.5 1 5.5-2 5.5-8 5.5-1 5.5-3 5.5-5"/><path d="M165 179l5.5 8 5.5-4 5.5 6 5.5-5 5.5 3 5.5-2 5.5 2 5.5-1 5.5 4 5.5-4 5.5-1 5.5 4 5.5 0 5.5 3 5.5-2 5.5-2 5.5 10 5.5-11 5.5 9 5.5 1 5.5-3 5.5 0 5.5 1 5.5-4 5.5-8 5.5 5 5.5-5 5.5 1 5.5-1 5.5-8"/><path d="M165 195l5.5-5 5.5 2 5.5 4 5.5-1 5.5 2 5.5 4 5.5-5 5.5 1 5.5-2 5.5-2 5.5 0 5.5-1 5.5-1 5.5-2 5.5 3 5.5-11 5.5 2 5.5 0 5.5-3 5.5-5 5.5 4 5.5-8 5.5-2 5.5-8 5.5-3 5.5-3 5.5-2 5.5-10 5.5-2 5.5 0"/><path d="M165 195l5.5 2 5.5 3 5.5-2 5.5-3 5.5 3 5.5 3 5.5 2 5.5-5 5.5-1 5.5 1 5.5 2 5.5-8 5.5 3 5.5 2 5.5-8 5.5 10 5.5-5 5.5 1 5.5-5 5.5 0 5.5-5 5.5 1 5.5-1 5.5-1 5.5-3 5.5-8 5.5 2 5.5-8 5.5-4 5.5 0"/><path d="M165 207l5.5-2 5.5 1 5.5 3 5.5 1 5.5 0 5.5 1 5.5-3 5.5 2 5.5-6 5.5-6 5.5 4 5.5-2 5.5-1 5.5-6 5.5 0 5.5-6 5.5 7 5.5-5 5.5-6 5.5-4 5.5-7 5.5 0 5.5-6 5.5-1 5.5-4 5.5-2 5.5-6 5.5-4 5.5-2 5.5-1"/><path d="M165 210l5.5 2 5.5-3 5.5 2 5.5 4 5.5-3 5.5-3 5.5-4 5.5 6 5.5 5 5.5-9 5.5 2 5.5-7 5.5-1 5.5 0 5.5 1 5.5 1 5.5-5 5.5-1 5.5-2 5.5-1 5.5-2 5.5-7 5.5 0 5.5-1 5.5-7 5.5 4 5.5-4 5.5-9 5.5 1 5.5-5"/><path d="M165 226l5.5-2 5.5 0 5.5 1 5.5 5 5.5 0 5.5 4 5.5-3 5.5-4 5.5-1 5.5 4 5.5-4 5.5 3 5.5 0 5.5-6 5.5-1 5.5 6 5.5-1 5.5-2 5.5-3 5.5-2 5.5 4 5.5 0 5.5 2 5.5-5 5.5 0 5.5 1 5.5-9 5.5-3 5.5-2 5.5-2"/><path d="M165 201l5.5 2 5.5 0 5.5 0 5.5 3 5.5-3 5.5 1 5.5-1 5.5 3 5.5 2 5.5-9 5.5 0 5.5-4 5.5-3 5.5 2 5.5-4 5.5-4 5.5 2 5.5-10 5.5 4 5.5-9 5.5-2 5.5-6 5.5-9 5.5-1 5.5-3 5.5-1 5.5-11 5.5-1 5.5-6 5.5-2"/><path d="M165 208l5.5 4 5.5-3 5.5-1 5.5 1 5.5 2 5.5 0 5.5-5 5.5 0 5.5-1 5.5-1 5.5-8 5.5 4 5.5-7 5.5-1 5.5 2 5.5-5 5.5 0 5.5-8 5.5-2 5.5 0 5.5 0 5.5-8 5.5 2 5.5-3 5.5-6 5.5-1 5.5-8 5.5-4 5.5-3 5.5-3"/><path d="M165 183l5.5 1 5.5-4 5.5 1 5.5 1 5.5 0 5.5 2 5.5-3 5.5 0 5.5-4 5.5 3 5.5-7 5.5 0 5.5-6 5.5 6 5.5-2 5.5-8 5.5 3 5.5-5 5.5 0 5.5-5 5.5-3 5.5 1 5.5 2 5.5-6 5.5-6 5.5 4 5.5-5 5.5-1 5.5-1 5.5-7"/><path d="M165 189l5.5-3 5.5 2 5.5 3 5.5 3 5.5 0 5.5-5 5.5 4 5.5-3 5.5 1 5.5-6 5.5 5 5.5-4 5.5 6 5.5 1 5.5-4 5.5-5 5.5 4 5.5-1 5.5-4 5.5-5 5.5-2 5.5-2 5.5-2 5.5 1 5.5-5 5.5-2 5.5-3 5.5-8 5.5-6 5.5 2"/><path d="M165 197l5.5 0 5.5-3 5.5 7 5.5-1 5.5 3 5.5 4 5.5-5 5.5 3 5.5 0 5.5-1 5.5 7 5.5-6 5.5-2 5.5 3 5.5-4 5.5 5 5.5-1 5.5-6 5.5 6 5.5-1 5.5-2 5.5 0 5.5 0 5.5-1 5.5-4 5.5 0 5.5-9 5.5 2 5.5-2 5.5-5"/><path d="M165 217l5.5 0 5.5 4 5.5 0 5.5-3 5.5 3 5.5 2 5.5-2 5.5 2 5.5-5 5.5-2 5.5 3 5.5-2 5.5-5 5.5-5 5.5 3 5.5-5 5.5-3 5.5-3 5.5-2 5.5-2 5.5-6 5.5-5 5.5-2 5.5-4 5.5-5 5.5 0 5.5-7 5.5-7 5.5-1 5.5-4"/><path d="M165 194l5.5 3 5.5 0 5.5 1 5.5 0 5.5-3 5.5 2 5.5 3 5.5-1 5.5-4 5.5 0 5.5 3 5.5-4 5.5 3 5.5 1 5.5-1 5.5-2 5.5-1 5.5-2 5.5-3 5.5 0 5.5 0 5.5-3 5.5-4 5.5 1 5.5-5 5.5-4 5.5-3 5.5-2 5.5-7 5.5-10"/><path d="M165 206l5.5 0 5.5 7 5.5 0 5.5-1 5.5 3 5.5 0 5.5 2 5.5 0 5.5-1 5.5-2 5.5 2 5.5-4 5.5 5 5.5-3 5.5 1 5.5-5 5.5-1 5.5-2 5.5-3 5.5 3 5.5-5 5.5 0 5.5-5 5.5-1 5.5-1 5.5-1 5.5-2 5.5-6 5.5 0 5.5-1"/><path d="M165 222l5.5 5 5.5-1 5.5 4 5.5 1 5.5 0 5.5 3 5.5-1 5.5 3 5.5-7 5.5 1 5.5-2 5.5 8 5.5-6 5.5 3 5.5-6 5.5-5 5.5 1 5.5-4 5.5-1 5.5 1 5.5-3 5.5 3 5.5-9 5.5 5 5.5-3 5.5-4 5.5-4 5.5 0 5.5-9 5.5-2"/><path d="M165 197l5.5 2 5.5 2 5.5 4 5.5 2 5.5 0 5.5-3 5.5 4 5.5-4 5.5 2 5.5 3 5.5-1 5.5-1 5.5 4 5.5 3 5.5-1 5.5 1 5.5 3 5.5-1 5.5 2 5.5 2 5.5-4 5.5 0 5.5 2 5.5-1 5.5-6 5.5 4 5.5-2 5.5-1 5.5-4 5.5 1"/><path d="M165 201l5.5 7 5.5 1 5.5-2 5.5 2 5.5 5 5.5-5 5.5 1 5.5 3 5.5 3 5.5-5 5.5 0 5.5 5 5.5-8 5.5 3 5.5 0 5.5-2 5.5 4 5.5-8 5.5 1 5.5 0 5.5-7 5.5 5 5.5-4 5.5-6 5.5 2 5.5-4 5.5-3 5.5-7 5.5-1 5.5 0"/><path d="M165 218l5.5-3 5.5 9 5.5 5 5.5-2 5.5 6 5.5 2 5.5 0 5.5 1 5.5-3 5.5 8 5.5-1 5.5 1 5.5 0 5.5 0 5.5-4 5.5 0 5.5 3 5.5-1 5.5-3 5.5 4 5.5-5 5.5 1 5.5 0 5.5-3 5.5-6 5.5 3 5.5-12 5.5 4 5.5-2 5.5-6"/><path d="M165 200l5.5-3 5.5-4 5.5 4 5.5 1 5.5-2 5.5-3 5.5 1 5.5 1 5.5-1 5.5-6 5.5-2 5.5-1 5.5-4 5.5 6 5.5-9 5.5-1 5.5-3 5.5 0 5.5-1 5.5-3 5.5-4 5.5 6 5.5-5 5.5-4 5.5-2 5.5 5 5.5-11 5.5-2 5.5-3 5.5-3"/><path d="M165 203l5.5-1 5.5 4 5.5 0 5.5 0 5.5 3 5.5-3 5.5 3 5.5-2 5.5 1 5.5 2 5.5-2 5.5 0 5.5 5 5.5-5 5.5 1 5.5 1 5.5 4 5.5-4 5.5-3 5.5 1 5.5 2 5.5 0 5.5-5 5.5 0 5.5-4 5.5 2 5.5-7 5.5 0 5.5-2 5.5-1"/></g><g id="rLLR"><path d="M330 197l5.5-2 5.5-5 5.5-5 5.5-7 5.5-7 5.5-13 5.5-17 5.5-6 5.5-15 5.5-15 5.5-10 5.5-18 5.5-14 5.5-10 5.5-17 5.5-13 5.5-11 5.5-10 5.5-14 5.5-11 5.5-8 5.5-5 5.5-11 5.5-5 5.5-5 5.5-11 5.5-9 5.5-1 5.5-7"/><path d="M330 142l5.5-14 5.5-5 5.5-10 5.5-6 5.5-7 5.5-13 5.5-7 5.5-10 5.5-17 5.5-7 5.5-15 5.5-11 5.5-7 5.5-12 5.5-6 5.5-7 5.5-9 5.5-11 5.5-4 5.5-9 5.5-2 5.5-6 5.5-7 5.5-1 5.5-1 5.5 0 5.5-12 5.5 1 5.5 1"/><path d="M330 149l5.5-11 5.5-4 5.5-9 5.5-2 5.5-12 5.5-7 5.5-12 5.5-10 5.5-9 5.5-14 5.5-7 5.5-13 5.5-9 5.5-6 5.5-5 5.5-7 5.5-9 5.5-5 5.5-10 5.5-5 5.5 1 5.5-3 5.5-6 5.5 0 5.5-1 5.5-2 5.5-2 5.5-1 5.5 0"/><path d="M330 146l5.5-5 5.5 0 5.5-6 5.5-6 5.5-5 5.5-9 5.5-11 5.5-12 5.5-8 5.5-6 5.5-17 5.5-13 5.5-5 5.5-11 5.5-8 5.5-11 5.5-14 5.5-4 5.5-6 5.5-12 5.5-8 5.5-4 5.5 0 5.5-13 5.5-5 5.5 3 5.5-12 5.5 0 5.5 1"/><path d="M330 179l5.5-10 5.5-8 5.5-7 5.5-7 5.5-14 5.5-14 5.5-13 5.5-11 5.5-13 5.5-20 5.5-7 5.5-13 5.5-16 5.5-9 5.5-14 5.5-14 5.5-10 5.5-12 5.5-12 5.5-13 5.5-8 5.5-6 5.5-5 5.5-10 5.5-9 5.5-6 5.5-12 5.5-6 5.5 0"/><path d="M330 183l5.5-3 5.5-3 5.5-11 5.5-8 5.5-2 5.5-10 5.5-9 5.5-15 5.5-12 5.5-13 5.5-14 5.5-11 5.5-14 5.5-12 5.5-14 5.5-10 5.5-13 5.5-19 5.5-9 5.5-8 5.5-9 5.5-6 5.5-8 5.5-5 5.5-4 5.5-7 5.5-6 5.5-11 5.5-5"/><path d="M330 201l5.5-5 5.5-8 5.5-7 5.5-4 5.5-12 5.5-7 5.5-14 5.5-9 5.5-11 5.5-13 5.5-15 5.5-14 5.5-14 5.5-6 5.5-13 5.5-14 5.5-20 5.5-7 5.5-9 5.5-10 5.5-13 5.5-4 5.5-1 5.5-9 5.5-2 5.5-9 5.5-5 5.5-12 5.5-1"/><path d="M330 161l5.5-10 5.5-1 5.5-11 5.5-7 5.5-4 5.5-6 5.5-15 5.5-8 5.5-10 5.5-6 5.5-11 5.5-12 5.5-8 5.5-7 5.5-8 5.5-8 5.5-17 5.5-9 5.5-2 5.5-12 5.5-5 5.5-5 5.5-6 5.5 1 5.5-3 5.5-10 5.5 3 5.5-8 5.5 2"/><path d="M330 166l5.5-11 5.5-10 5.5-4 5.5-11 5.5-8 5.5-14 5.5-6 5.5-16 5.5-13 5.5-10 5.5-10 5.5-15 5.5-6 5.5-18 5.5-5 5.5-11 5.5-14 5.5-11 5.5-9 5.5-7 5.5-7 5.5-7 5.5-8 5.5-5 5.5-6 5.5 0 5.5-10 5.5-9 5.5-4"/><path d="M330 194l5.5-8 5.5 1 5.5-5 5.5-6 5.5-10 5.5-6 5.5-15 5.5-13 5.5-2 5.5-15 5.5-11 5.5-18 5.5-10 5.5-9 5.5-17 5.5-15 5.5-13 5.5-9 5.5-13 5.5-15 5.5-5 5.5-11 5.5-6 5.5-9 5.5-3 5.5-11 5.5-5 5.5-9 5.5 2"/><path d="M330 192l5.5-7 5.5-6 5.5-5 5.5-7 5.5-10 5.5-11 5.5-18 5.5-8 5.5-11 5.5-13 5.5-13 5.5-11 5.5-12 5.5-13 5.5-9 5.5-14 5.5-12 5.5-11 5.5-14 5.5 0 5.5-15 5.5-12 5.5-2 5.5-10 5.5-3 5.5-9 5.5-3 5.5-1 5.5-7"/><path d="M330 145l5.5-7 5.5-8 5.5-12 5.5-8 5.5-9 5.5-10 5.5-9 5.5-13 5.5-11 5.5-11 5.5-14 5.5-8 5.5-13 5.5-4 5.5-11 5.5-8 5.5-9 5.5-13 5.5-2 5.5 0 5.5-3 5.5-5 5.5-7 5.5 5 5.5 0 5.5-7 5.5-1 5.5-4 5.5 9"/><path d="M330 158l5.5-8 5.5-4 5.5-8 5.5-11 5.5-7 5.5-6 5.5-13 5.5-16 5.5-3 5.5-12 5.5-12 5.5-13 5.5-14 5.5-6 5.5-14 5.5-9 5.5-8 5.5-14 5.5-6 5.5-13 5.5-2 5.5-10 5.5-5 5.5-2 5.5-2 5.5-4 5.5-4 5.5-3 5.5-5"/><path d="M330 137l5.5-4 5.5-2 5.5-10 5.5 7 5.5-10 5.5-8 5.5-4 5.5-11 5.5-9 5.5-8 5.5-6 5.5-13 5.5-2 5.5-5 5.5-7 5.5-13 5.5-6 5.5-10 5.5-5 5.5-5 5.5-7 5.5-5 5.5-5 5.5-7 5.5-2 5.5-5 5.5-4 5.5-1 5.5-1"/><path d="M330 118l5.5-5 5.5-3 5.5-3 5.5-6 5.5-5 5.5-6 5.5-7 5.5-11 5.5-5 5.5-2 5.5-14 5.5-4 5.5-9 5.5-2 5.5-2 5.5-12 5.5-4 5.5-4 5.5-4 5.5-7 5.5 3 5.5-5 5.5-2 5.5 3 5.5 0 5.5 0 5.5-6 5.5 6 5.5 6"/><path d="M330 212l5.5-6 5.5-4 5.5-7 5.5-7 5.5-7 5.5-9 5.5-14 5.5-11 5.5-10 5.5-15 5.5-12 5.5-13 5.5-9 5.5-16 5.5-15 5.5-9 5.5-18 5.5-11 5.5-10 5.5-14 5.5-13 5.5-10 5.5-6 5.5-6 5.5-7 5.5-8 5.5-8 5.5-7 5.5-7"/><path d="M330 144l5.5-8 5.5-6 5.5-5 5.5-10 5.5 1 5.5-10 5.5-9 5.5-2 5.5-14 5.5-9 5.5-13 5.5-8 5.5-6 5.5-8 5.5-9 5.5-7 5.5-12 5.5-5 5.5-4 5.5-8 5.5 0 5.5-7 5.5 0 5.5-4 5.5 2 5.5-4 5.5-6 5.5 6 5.5-3"/><path d="M330 143l5.5-6 5.5 1 5.5-9 5.5-4 5.5-9 5.5-6 5.5-10 5.5-9 5.5-8 5.5-10 5.5-9 5.5-11 5.5-10 5.5-7 5.5-6 5.5-13 5.5-9 5.5-9 5.5-6 5.5-9 5.5 2 5.5-7 5.5-5 5.5-3 5.5-6 5.5 4 5.5-5 5.5-5 5.5 1"/><path d="M330 159l5.5-5 5.5-11 5.5-7 5.5-12 5.5-1 5.5-8 5.5-10 5.5-16 5.5-5 5.5-11 5.5-11 5.5-2 5.5-18 5.5-8 5.5-11 5.5-8 5.5-6 5.5-8 5.5-8 5.5-15 5.5-2 5.5-8 5.5-5 5.5-3 5.5-6 5.5-1 5.5-4 5.5-8 5.5-1"/><path d="M330 183l5.5-7 5.5-11 5.5-8 5.5-4 5.5-12 5.5-12 5.5-14 5.5-12 5.5-14 5.5-14 5.5-10 5.5-16 5.5-12 5.5-11 5.5-18 5.5-9 5.5-17 5.5-8 5.5-12 5.5-8 5.5-6 5.5-7 5.5-5 5.5-4 5.5-5 5.5-3 5.5-8 5.5-4 5.5-5"/><path d="M330 149l5.5-8 5.5-1 5.5-9 5.5-7 5.5-8 5.5-6 5.5-14 5.5-7 5.5-11 5.5-11 5.5-7 5.5-11 5.5-6 5.5-10 5.5-10 5.5-7 5.5-12 5.5-4 5.5-7 5.5-6 5.5 0 5.5-6 5.5-3 5.5 1 5.5-2 5.5 5 5.5-1 5.5-1 5.5 0"/><path d="M330 133l5.5-10 5.5-6 5.5-5 5.5-10 5.5-7 5.5-8 5.5-10 5.5-11 5.5-9 5.5-9 5.5-10 5.5-7 5.5-13 5.5-2 5.5-4 5.5-11 5.5-9 5.5-6 5.5-1 5.5-6 5.5-4 5.5 1 5.5 0 5.5-8 5.5 0 5.5-1 5.5-1 5.5-4 5.5 6"/><path d="M330 180l5.5-7 5.5-3 5.5-11 5.5-3 5.5-9 5.5-9 5.5-11 5.5-7 5.5-15 5.5-10 5.5-13 5.5-12 5.5-14 5.5-14 5.5-6 5.5-15 5.5-10 5.5-14 5.5-2 5.5-13 5.5-7 5.5-9 5.5-2 5.5-7 5.5-1 5.5-6 5.5-3 5.5-9 5.5-4"/><path d="M330 136l5.5-2 5.5-5 5.5-8 5.5-8 5.5-2 5.5-7 5.5-7 5.5-11 5.5 0 5.5-16 5.5-7 5.5-8 5.5-9 5.5-8 5.5-7 5.5-7 5.5-6 5.5-8 5.5-7 5.5-8 5.5 3 5.5 0 5.5-6 5.5 2 5.5-5 5.5-1 5.5 0 5.5-3 5.5 0"/><path d="M330 149l5.5-12 5.5-3 5.5-6 5.5-5 5.5-5 5.5-11 5.5-11 5.5-15 5.5 1 5.5-16 5.5-7 5.5-16 5.5-6 5.5-3 5.5-13 5.5-10 5.5-9 5.5-10 5.5-3 5.5-9 5.5-6 5.5-4 5.5-5 5.5-7 5.5 2 5.5-4 5.5-3 5.5-4 5.5-1"/><path d="M330 129l5.5-10 5.5-3 5.5-4 5.5-4 5.5-3 5.5-11 5.5-4 5.5-9 5.5-4 5.5-13 5.5-7 5.5-7 5.5-4 5.5-11 5.5-13 5.5-8 5.5-8 5.5-7 5.5-3 5.5-5 5.5-1 5.5-3 5.5-4 5.5-6 5.5 5 5.5 0 5.5 0 5.5 7 5.5-5"/><path d="M330 196l5.5-14 5.5 1 5.5-8 5.5-2 5.5-12 5.5-12 5.5-12 5.5-8 5.5-15 5.5-9 5.5-14 5.5-13 5.5-17 5.5-10 5.5-18 5.5-9 5.5-13 5.5-16 5.5-7 5.5-14 5.5-12 5.5-5 5.5-14 5.5-4 5.5-5 5.5-8 5.5-12 5.5-7 5.5-6"/><path d="M330 186l5.5-7 5.5-1 5.5-10 5.5-7 5.5-8 5.5-10 5.5-6 5.5-17 5.5-11 5.5-17 5.5-7 5.5-10 5.5-18 5.5-7 5.5-17 5.5-8 5.5-13 5.5-11 5.5-10 5.5-6 5.5-6 5.5-11 5.5-7 5.5-3 5.5-5 5.5-9 5.5-7 5.5-8 5.5 2"/><path d="M330 207l5.5-15 5.5 4 5.5-8 5.5-5 5.5-8 5.5-15 5.5-6 5.5-11 5.5-9 5.5-19 5.5-9 5.5-11 5.5-20 5.5-3 5.5-13 5.5-13 5.5-19 5.5-11 5.5-19 5.5-6 5.5-14 5.5-5 5.5-8 5.5-10 5.5-7 5.5-3 5.5-10 5.5-6 5.5-2"/><path d="M330 141l5.5 1 5.5-3 5.5-2 5.5-10 5.5-8 5.5-7 5.5-7 5.5-17 5.5-4 5.5-11 5.5-8 5.5-14 5.5-4 5.5-14 5.5-6 5.5-10 5.5-7 5.5-7 5.5-10 5.5-5 5.5-2 5.5-6 5.5-3 5.5-5 5.5-3 5.5-2 5.5-2 5.5-7 5.5 0"/><path d="M330 211l5.5-10 5.5 1 5.5-11 5.5-2 5.5-6 5.5-9 5.5-12 5.5-18 5.5-11 5.5-14 5.5-19 5.5-16 5.5-14 5.5-13 5.5-15 5.5-13 5.5-15 5.5-12 5.5-6 5.5-18 5.5-7 5.5-10 5.5-5 5.5-9 5.5-6 5.5-5 5.5-9 5.5-7 5.5-3"/><path d="M330 168l5.5-14 5.5-2 5.5-7 5.5-10 5.5-2 5.5-17 5.5-15 5.5-9 5.5-11 5.5-11 5.5-11 5.5-12 5.5-7 5.5-14 5.5-7 5.5-10 5.5-11 5.5-7 5.5-11 5.5-7 5.5-1 5.5-8 5.5-5 5.5 1 5.5-4 5.5-5 5.5-2 5.5-5 5.5-6"/><path d="M330 168l5.5-4 5.5-13 5.5-8 5.5-6 5.5-7 5.5-9 5.5-16 5.5-10 5.5-14 5.5-12 5.5-8 5.5-13 5.5-14 5.5-5 5.5-11 5.5-10 5.5-6 5.5-13 5.5-1 5.5-10 5.5 0 5.5-4 5.5-5 5.5 1 5.5-4 5.5 1 5.5-6 5.5 3 5.5 0"/><path d="M330 123l5.5-6 5.5-4 5.5-3 5.5-11 5.5-4 5.5-5 5.5-13 5.5-8 5.5-6 5.5-13 5.5-10 5.5-4 5.5-12 5.5-4 5.5-9 5.5-1 5.5-14 5.5-4 5.5-3 5.5-8 5.5-1 5.5-8 5.5-1 5.5 1 5.5-3 5.5 0 5.5 2 5.5 0 5.5 0"/><path d="M330 136l5.5-1 5.5-6 5.5-5 5.5-9 5.5-6 5.5-7 5.5-12 5.5-8 5.5-2 5.5-10 5.5-13 5.5-4 5.5-6 5.5 0 5.5-12 5.5-6 5.5-4 5.5-4 5.5-5 5.5-5 5.5-3 5.5-4 5.5 0 5.5 3 5.5 1 5.5-8 5.5 1 5.5-3 5.5 1"/><path d="M330 168l5.5-7 5.5-2 5.5-10 5.5-9 5.5-3 5.5-11 5.5-15 5.5-5 5.5-14 5.5-9 5.5-10 5.5-16 5.5-12 5.5-16 5.5-1 5.5-12 5.5-11 5.5-13 5.5-2 5.5-14 5.5-7 5.5-3 5.5-6 5.5-3 5.5-8 5.5-2 5.5-4 5.5-4 5.5-1"/><path d="M330 117l5.5-8 5.5 1 5.5-10 5.5-4 5.5-4 5.5-6 5.5-11 5.5-1 5.5-5 5.5-5 5.5-8 5.5-6 5.5-7 5.5-4 5.5-2 5.5-5 5.5-8 5.5 4 5.5-13 5.5 2 5.5-4 5.5 1 5.5 0 5.5 3 5.5 5 5.5 0 5.5 0 5.5 3 5.5 2"/><path d="M330 149l5.5 2 5.5-7 5.5-6 5.5-4 5.5-9 5.5-13 5.5-5 5.5-8 5.5-7 5.5-7 5.5-14 5.5-4 5.5-10 5.5-8 5.5-11 5.5-10 5.5-7 5.5-10 5.5-3 5.5-14 5.5 2 5.5 0 5.5-6 5.5-2 5.5-1 5.5-3 5.5 5 5.5-6 5.5 7"/><path d="M330 194l5.5-11 5.5-2 5.5-11 5.5-11 5.5-8 5.5-9 5.5-15 5.5-9 5.5-13 5.5-15 5.5-7 5.5-14 5.5-13 5.5-12 5.5-9 5.5-15 5.5-14 5.5-11 5.5-12 5.5-6 5.5-8 5.5-9 5.5-6 5.5-5 5.5-4 5.5-6 5.5-5 5.5-3 5.5-5"/><path d="M330 173l5.5-12 5.5-1 5.5-8 5.5-7 5.5-7 5.5-9 5.5-14 5.5-8 5.5-12 5.5-7 5.5-15 5.5-8 5.5-9 5.5-10 5.5-8 5.5-9 5.5-18 5.5-11 5.5-9 5.5-5 5.5-12 5.5-5 5.5-7 5.5-5 5.5-3 5.5-2 5.5-5 5.5-3 5.5-8"/><path d="M330 179l5.5-8 5.5-4 5.5-13 5.5-4 5.5-6 5.5-10 5.5-12 5.5-18 5.5-8 5.5-11 5.5-15 5.5-8 5.5-11 5.5-8 5.5-9 5.5-12 5.5-13 5.5-10 5.5-8 5.5-4 5.5-5 5.5-6 5.5-8 5.5-1 5.5 0 5.5-6 5.5-6 5.5-1 5.5-5"/><path d="M330 140l5.5-3 5.5-7 5.5-9 5.5-2 5.5-11 5.5-11 5.5-7 5.5-12 5.5-10 5.5-5 5.5-9 5.5-11 5.5-7 5.5-7 5.5-10 5.5-1 5.5-10 5.5-8 5.5-6 5.5-8 5.5-6 5.5-4 5.5-4 5.5 0 5.5 1 5.5 2 5.5-4 5.5 2 5.5 1"/><path d="M330 153l5.5-1 5.5-2 5.5-8 5.5-13 5.5-2 5.5-9 5.5-12 5.5-9 5.5-9 5.5-9 5.5-13 5.5-7 5.5-13 5.5-7 5.5-8 5.5-11 5.5-2 5.5-17 5.5 5 5.5-14 5.5 0 5.5-4 5.5-2 5.5-3 5.5-2 5.5-3 5.5-4 5.5-1 5.5 5"/><path d="M330 217l5.5-3 5.5-6 5.5 0 5.5-12 5.5-7 5.5-7 5.5-13 5.5-14 5.5-9 5.5-15 5.5-15 5.5-6 5.5-16 5.5-10 5.5-16 5.5-17 5.5-9 5.5-18 5.5-9 5.5-16 5.5-14 5.5-3 5.5-11 5.5-6 5.5-10 5.5-2 5.5-6 5.5-6 5.5-7"/><path d="M330 134l5.5-11 5.5 0 5.5-11 5.5-4 5.5-4 5.5-10 5.5-5 5.5-12 5.5-10 5.5-4 5.5-17 5.5-6 5.5-11 5.5-3 5.5-8 5.5-6 5.5-17 5.5-4 5.5-2 5.5-5 5.5 0 5.5 0 5.5-5 5.5 1 5.5 3 5.5 3 5.5-2 5.5 4 5.5 0"/><path d="M330 201l5.5-4 5.5-12 5.5-4 5.5-7 5.5-11 5.5-7 5.5-13 5.5-12 5.5-14 5.5-10 5.5-14 5.5-15 5.5-14 5.5-7 5.5-17 5.5-12 5.5-13 5.5-11 5.5-10 5.5-15 5.5-8 5.5-12 5.5-4 5.5-10 5.5-1 5.5-5 5.5-6 5.5-6 5.5-5"/><path d="M330 193l5.5-6 5.5-10 5.5-7 5.5-10 5.5-5 5.5-12 5.5-13 5.5-13 5.5-11 5.5-15 5.5-10 5.5-16 5.5-12 5.5-7 5.5-19 5.5-14 5.5-14 5.5-13 5.5-10 5.5-7 5.5-8 5.5-8 5.5-10 5.5-6 5.5-3 5.5-7 5.5-10 5.5-3 5.5-9"/><path d="M330 139l5.5-4 5.5-11 5.5-9 5.5-3 5.5-10 5.5-2 5.5-16 5.5-6 5.5-13 5.5-8 5.5-9 5.5-11 5.5-9 5.5-8 5.5-8 5.5-6 5.5-13 5.5-2 5.5-2 5.5-7 5.5-1 5.5-4 5.5 2 5.5-4 5.5 2 5.5 5 5.5-7 5.5-1 5.5 4"/><path d="M330 142l5.5-4 5.5-7 5.5-11 5.5-8 5.5-5 5.5-9 5.5-16 5.5-12 5.5-9 5.5-11 5.5-11 5.5-15 5.5-9 5.5-9 5.5-8 5.5-6 5.5-12 5.5-13 5.5 4 5.5-15 5.5-2 5.5-5 5.5-4 5.5-6 5.5 0 5.5-8 5.5-1 5.5-8 5.5-2"/><path d="M330 158l5.5-1 5.5-12 5.5-7 5.5-6 5.5-15 5.5-3 5.5-11 5.5-12 5.5-13 5.5-11 5.5-10 5.5-7 5.5-11 5.5-11 5.5-9 5.5-9 5.5-7 5.5-6 5.5-9 5.5-4 5.5-1 5.5-6 5.5-1 5.5-5 5.5-2 5.5-1 5.5 1 5.5-4 5.5-1"/><path d="M330 181l5.5-1 5.5-10 5.5-6 5.5-7 5.5-6 5.5-5 5.5-15 5.5-9 5.5-15 5.5-13 5.5-12 5.5-11 5.5-13 5.5-10 5.5-8 5.5-12 5.5-9 5.5-13 5.5-12 5.5-2 5.5-10 5.5-8 5.5-5 5.5-8 5.5-2 5.5 2 5.5-9 5.5-5 5.5-4"/><path d="M330 160l5.5-3 5.5-6 5.5-11 5.5-9 5.5-9 5.5-11 5.5-13 5.5-16 5.5-11 5.5-13 5.5-12 5.5-13 5.5-11 5.5-5 5.5-14 5.5-9 5.5-6 5.5-11 5.5-8 5.5-11 5.5 0 5.5-11 5.5-1 5.5-3 5.5-5 5.5 0 5.5-5 5.5-7 5.5 6"/><path d="M330 146l5.5-8 5.5-5 5.5-5 5.5-8 5.5-7 5.5-7 5.5-7 5.5-12 5.5-9 5.5-16 5.5-3 5.5-12 5.5-10 5.5-2 5.5-14 5.5-4 5.5-14 5.5-9 5.5-2 5.5-7 5.5-5 5.5-9 5.5-2 5.5-1 5.5 0 5.5-2 5.5-3 5.5-1 5.5-7"/><path d="M330 167l5.5-9 5.5 2 5.5-10 5.5-5 5.5-9 5.5-13 5.5-10 5.5-12 5.5-9 5.5-13 5.5-12 5.5-8 5.5-10 5.5-11 5.5-9 5.5-6 5.5-8 5.5-8 5.5-10 5.5-8 5.5-4 5.5 1 5.5-8 5.5-5 5.5 4 5.5-4 5.5-3 5.5 2 5.5 0"/><path d="M330 183l5.5-7 5.5-4 5.5-10 5.5-3 5.5-15 5.5-6 5.5-15 5.5-12 5.5-10 5.5-16 5.5-15 5.5-8 5.5-13 5.5-10 5.5-17 5.5-10 5.5-13 5.5-8 5.5-12 5.5-10 5.5-9 5.5-7 5.5-8 5.5-6 5.5-4 5.5-5 5.5-13 5.5-8 5.5 1"/><path d="M330 128l5.5-5 5.5-7 5.5 0 5.5-6 5.5 2 5.5-5 5.5-9 5.5-8 5.5-6 5.5 0 5.5-8 5.5-2 5.5-16 5.5 0 5.5-9 5.5-1 5.5-16 5.5-2 5.5 1 5.5-13 5.5 3 5.5-3 5.5-5 5.5-3 5.5 0 5.5-2 5.5-1 5.5-2 5.5 5"/><path d="M330 189l5.5-6 5.5-6 5.5-7 5.5-7 5.5-9 5.5-12 5.5-8 5.5-14 5.5-14 5.5-7 5.5-18 5.5-12 5.5-20 5.5-8 5.5-7 5.5-20 5.5-9 5.5-15 5.5-7 5.5-9 5.5-12 5.5-5 5.5-7 5.5-5 5.5-4 5.5-7 5.5-12 5.5 1 5.5-4"/><path d="M330 129l5.5-3 5.5-5 5.5-6 5.5-6 5.5-6 5.5-8 5.5-7 5.5-17 5.5 5 5.5-16 5.5-14 5.5-9 5.5-5 5.5-5 5.5-11 5.5-8 5.5-10 5.5-7 5.5 1 5.5-8 5.5-7 5.5 1 5.5-4 5.5 4 5.5 4 5.5-2 5.5 0 5.5-4 5.5 5"/><path d="M330 188l5.5-7 5.5 0 5.5-8 5.5-6 5.5-1 5.5-6 5.5-16 5.5-5 5.5-13 5.5-6 5.5-18 5.5-12 5.5-13 5.5-10 5.5-8 5.5-11 5.5-16 5.5-7 5.5-9 5.5-14 5.5-3 5.5-11 5.5 0 5.5-8 5.5-5 5.5-4 5.5-2 5.5 1 5.5-2"/><path d="M330 128l5.5-10 5.5 1 5.5-12 5.5-5 5.5-6 5.5-3 5.5-10 5.5-7 5.5-11 5.5-5 5.5-7 5.5-9 5.5-8 5.5-6 5.5-5 5.5-8 5.5-8 5.5-6 5.5-9 5.5-4 5.5-2 5.5-3 5.5-4 5.5-6 5.5 3 5.5-3 5.5-9 5.5 4 5.5-5"/><path d="M330 152l5.5-7 5.5-2 5.5-4 5.5-6 5.5-4 5.5-12 5.5-5 5.5-10 5.5-3 5.5-12 5.5-14 5.5-4 5.5-12 5.5-8 5.5-5 5.5-8 5.5-16 5.5-5 5.5-3 5.5-8 5.5-8 5.5-1 5.5-4 5.5 0 5.5-6 5.5 6 5.5-9 5.5-4 5.5 9"/><path d="M330 131l5.5-4 5.5 2 5.5-6 5.5-4 5.5-4 5.5-8 5.5-7 5.5-11 5.5-8 5.5-10 5.5-7 5.5-8 5.5-10 5.5-11 5.5-7 5.5-15 5.5-4 5.5-9 5.5-5 5.5-8 5.5-3 5.5-7 5.5-4 5.5-2 5.5 0 5.5-1 5.5-1 5.5 1 5.5 1"/><path d="M330 154l5.5-9 5.5-6 5.5-8 5.5 0 5.5-9 5.5-6 5.5-10 5.5-10 5.5-13 5.5-6 5.5-12 5.5-6 5.5-12 5.5-10 5.5-13 5.5-3 5.5-7 5.5-9 5.5-3 5.5-14 5.5-1 5.5 0 5.5-9 5.5-3 5.5 4 5.5 6 5.5-8 5.5 2 5.5 3"/><path d="M330 185l5.5-4 5.5-4 5.5-7 5.5-10 5.5-9 5.5-4 5.5-8 5.5-14 5.5-10 5.5-13 5.5-14 5.5-14 5.5-16 5.5-7 5.5-14 5.5-8 5.5-12 5.5-11 5.5-5 5.5-15 5.5-2 5.5-14 5.5-2 5.5-7 5.5-4 5.5-3 5.5-6 5.5 4 5.5-7"/><path d="M330 143l5.5-13 5.5-3 5.5-7 5.5-9 5.5-6 5.5-6 5.5-15 5.5-14 5.5-9 5.5-6 5.5-8 5.5-18 5.5-8 5.5-6 5.5-11 5.5-10 5.5-10 5.5-6 5.5-4 5.5-7 5.5-2 5.5-8 5.5-2 5.5-1 5.5-2 5.5-6 5.5-4 5.5 1 5.5 2"/><path d="M330 214l5.5-9 5.5-3 5.5-10 5.5-9 5.5-8 5.5-9 5.5-13 5.5-11 5.5-18 5.5-10 5.5-18 5.5-14 5.5-11 5.5-15 5.5-11 5.5-13 5.5-22 5.5-12 5.5-10 5.5-14 5.5-8 5.5-10 5.5-8 5.5-9 5.5-2 5.5-10 5.5-8 5.5-12 5.5-5"/><path d="M330 205l5.5-9 5.5 5 5.5-12 5.5-11 5.5-4 5.5-13 5.5-10 5.5-19 5.5-8 5.5-13 5.5-18 5.5-15 5.5-18 5.5-13 5.5-15 5.5-16 5.5-14 5.5-14 5.5-8 5.5-11 5.5-7 5.5-17 5.5-11 5.5-4 5.5-1 5.5-15 5.5-4 5.5-10 5.5-5"/><path d="M330 193l5.5-6 5.5-7 5.5-10 5.5-4 5.5-14 5.5-10 5.5-16 5.5-15 5.5-11 5.5-12 5.5-18 5.5-20 5.5-8 5.5-17 5.5-15 5.5-16 5.5-17 5.5-14 5.5-14 5.5-9 5.5-12 5.5-11 5.5-12 5.5-3 5.5-9 5.5-10 5.5-3 5.5 0 5.5 0"/><path d="M330 193l5.5-5 5.5-2 5.5-8 5.5-4 5.5-8 5.5-12 5.5-8 5.5-14 5.5-7 5.5-12 5.5-10 5.5-14 5.5-13 5.5-12 5.5-5 5.5-17 5.5-10 5.5-13 5.5-8 5.5-5 5.5-6 5.5-7 5.5-2 5.5-7 5.5-2 5.5-2 5.5-4 5.5-5 5.5-4"/><path d="M330 181l5.5-3 5.5-4 5.5-8 5.5-6 5.5-5 5.5-8 5.5-16 5.5-10 5.5-13 5.5-10 5.5-14 5.5-8 5.5-13 5.5-16 5.5-11 5.5-15 5.5-10 5.5-9 5.5-20 5.5-8 5.5-8 5.5-7 5.5-8 5.5-5 5.5-2 5.5-9 5.5-4 5.5-14 5.5 0"/><path d="M330 217l5.5-9 5.5 0 5.5-10 5.5-8 5.5-3 5.5-15 5.5-7 5.5-14 5.5-8 5.5-14 5.5-18 5.5-11 5.5-17 5.5-12 5.5-16 5.5-10 5.5-19 5.5-15 5.5-7 5.5-18 5.5-9 5.5-16 5.5-3 5.5-10 5.5-7 5.5-12 5.5-4 5.5-9 5.5-6"/><path d="M330 117l5.5-5 5.5 0 5.5-10 5.5-8 5.5 0 5.5-10 5.5-12 5.5-10 5.5-9 5.5-4 5.5-11 5.5-5 5.5-8 5.5-8 5.5-11 5.5-3 5.5-8 5.5-7 5.5-4 5.5-5 5.5-4 5.5 0 5.5-3 5.5-4 5.5 0 5.5 0 5.5 1 5.5 1 5.5 2"/><path d="M330 131l5.5-13 5.5 1 5.5-6 5.5-7 5.5-4 5.5-8 5.5-7 5.5-7 5.5-5 5.5-7 5.5-12 5.5-4 5.5-7 5.5-5 5.5-6 5.5-5 5.5-7 5.5-6 5.5-11 5.5-3 5.5 0 5.5-7 5.5-1 5.5 0 5.5 2 5.5 0 5.5-3 5.5-4 5.5 6"/><path d="M330 153l5.5-6 5.5-5 5.5-1 5.5-11 5.5-6 5.5-7 5.5-7 5.5-6 5.5-2 5.5-15 5.5-12 5.5-7 5.5-12 5.5-3 5.5-10 5.5-8 5.5-11 5.5-4 5.5-8 5.5-9 5.5-3 5.5 1 5.5-9 5.5 2 5.5-2 5.5-4 5.5-3 5.5-3 5.5 0"/><path d="M330 154l5.5-5 5.5-7 5.5-9 5.5-8 5.5-14 5.5-7 5.5-10 5.5-11 5.5-16 5.5-9 5.5-10 5.5-11 5.5-12 5.5-4 5.5-8 5.5-13 5.5-9 5.5-12 5.5-3 5.5-8 5.5 0 5.5-5 5.5-5 5.5-5 5.5-4 5.5-3 5.5-2 5.5-2 5.5-5"/><path d="M330 137l5.5-10 5.5-1 5.5-12 5.5-5 5.5-7 5.5-10 5.5-14 5.5-6 5.5-11 5.5-14 5.5-5 5.5-8 5.5-14 5.5-5 5.5-8 5.5-8 5.5-11 5.5-9 5.5-5 5.5-10 5.5-4 5.5-11 5.5 2 5.5-9 5.5 2 5.5-5 5.5-2 5.5 0 5.5-3"/><path d="M330 130l5.5-7 5.5 0 5.5-7 5.5-13 5.5-2 5.5-10 5.5-12 5.5-11 5.5-8 5.5-11 5.5-5 5.5-16 5.5-6 5.5-7 5.5-9 5.5-7 5.5-7 5.5-10 5.5-4 5.5-8 5.5-4 5.5-3 5.5-2 5.5-6 5.5 0 5.5-8 5.5-4 5.5-2 5.5-2"/><path d="M330 191l5.5-8 5.5-1 5.5-6 5.5-8 5.5-10 5.5-10 5.5-9 5.5-16 5.5-4 5.5-10 5.5-13 5.5-15 5.5-13 5.5-15 5.5-11 5.5-9 5.5-19 5.5-7 5.5-9 5.5-9 5.5-6 5.5-10 5.5-3 5.5-6 5.5-5 5.5-2 5.5-13 5.5 0 5.5-4"/><path d="M330 158l5.5-11 5.5-3 5.5-10 5.5-7 5.5-13 5.5-8 5.5-8 5.5-7 5.5-8 5.5-16 5.5-2 5.5-15 5.5-6 5.5-12 5.5-5 5.5-10 5.5-8 5.5-7 5.5-4 5.5-6 5.5-6 5.5-4 5.5-6 5.5 3 5.5-5 5.5 1 5.5-5 5.5-4 5.5 4"/><path d="M330 155l5.5-4 5.5-7 5.5-11 5.5-6 5.5-9 5.5-9 5.5-16 5.5-10 5.5-11 5.5-8 5.5-14 5.5-15 5.5-9 5.5-8 5.5-8 5.5-8 5.5-15 5.5-4 5.5-7 5.5-13 5.5-5 5.5-1 5.5-9 5.5-2 5.5-6 5.5 0 5.5-5 5.5-12 5.5 1"/><path d="M330 175l5.5-2 5.5-6 5.5-2 5.5-11 5.5-4 5.5-12 5.5-13 5.5-15 5.5-9 5.5-10 5.5-13 5.5-15 5.5-13 5.5-6 5.5-10 5.5-9 5.5-10 5.5-10 5.5-7 5.5-9 5.5-7 5.5-6 5.5-4 5.5 2 5.5-7 5.5 0 5.5-8 5.5-2 5.5 0"/><path d="M330 141l5.5-8 5.5-4 5.5-5 5.5-2 5.5-9 5.5-10 5.5-11 5.5-6 5.5-8 5.5-6 5.5-8 5.5-12 5.5-2 5.5-10 5.5-6 5.5-9 5.5-9 5.5-4 5.5-9 5.5-1 5.5-8 5.5 0 5.5-2 5.5-1 5.5-1 5.5 4 5.5-5 5.5 2 5.5 0"/><path d="M330 163l5.5-4 5.5-8 5.5-7 5.5-10 5.5-4 5.5-14 5.5-10 5.5-13 5.5-10 5.5-15 5.5-15 5.5-10 5.5-5 5.5-14 5.5-10 5.5-13 5.5-11 5.5-10 5.5-6 5.5-8 5.5-8 5.5-6 5.5-8 5.5-5 5.5 2 5.5-9 5.5-9 5.5-1 5.5 1"/><path d="M330 146l5.5-10 5.5-2 5.5-9 5.5-7 5.5-6 5.5-7 5.5-8 5.5-10 5.5-8 5.5-15 5.5-5 5.5-6 5.5-12 5.5-6 5.5-7 5.5-5 5.5-7 5.5-10 5.5-3 5.5-6 5.5-5 5.5 0 5.5-1 5.5-4 5.5 6 5.5-3 5.5-1 5.5-3 5.5 1"/><path d="M330 164l5.5-5 5.5-7 5.5-5 5.5-9 5.5-14 5.5-9 5.5-10 5.5-11 5.5-16 5.5-11 5.5-12 5.5-14 5.5-11 5.5-11 5.5-10 5.5-16 5.5-13 5.5-13 5.5-5 5.5-9 5.5-11 5.5-7 5.5-7 5.5-7 5.5-5 5.5-8 5.5-10 5.5-6 5.5-12"/><path d="M330 206l5.5-4 5.5-9 5.5-2 5.5-11 5.5-9 5.5-11 5.5-18 5.5-10 5.5-11 5.5-12 5.5-15 5.5-14 5.5-17 5.5-13 5.5-12 5.5-12 5.5-12 5.5-13 5.5-13 5.5-15 5.5-4 5.5-13 5.5-2 5.5-11 5.5-7 5.5-10 5.5-3 5.5-6 5.5-7"/><path d="M330 131l5.5-8 5.5-3 5.5-2 5.5-16 5.5-3 5.5-6 5.5-8 5.5-8 5.5-7 5.5-8 5.5-11 5.5-5 5.5-5 5.5-5 5.5-8 5.5-8 5.5-8 5.5-3 5.5-3 5.5-7 5.5-3 5.5 1 5.5-3 5.5 1 5.5 5 5.5-3 5.5-2 5.5 2 5.5 3"/><path d="M330 145l5.5-11 5.5-1 5.5-6 5.5-11 5.5-6 5.5-9 5.5-12 5.5-3 5.5-11 5.5-11 5.5-12 5.5-9 5.5-4 5.5-11 5.5-6 5.5-10 5.5-12 5.5-10 5.5-3 5.5-9 5.5-7 5.5-3 5.5-7 5.5-4 5.5 2 5.5-9 5.5 0 5.5-3 5.5-1"/><path d="M330 134l5.5-1 5.5-1 5.5-11 5.5-3 5.5-8 5.5-8 5.5-9 5.5-9 5.5-5 5.5-8 5.5-8 5.5-5 5.5-10 5.5-2 5.5-10 5.5-6 5.5-7 5.5-5 5.5-2 5.5-2 5.5-6 5.5-3 5.5 0 5.5 0 5.5 2 5.5 3 5.5 3 5.5-3 5.5 6"/><path d="M330 151l5.5-12 5.5-5 5.5-2 5.5-13 5.5-6 5.5-12 5.5-9 5.5-9 5.5-7 5.5-14 5.5-12 5.5-13 5.5-4 5.5-15 5.5-9 5.5-13 5.5-12 5.5-5 5.5-6 5.5-11 5.5-5 5.5-5 5.5-3 5.5-4 5.5-3 5.5-11 5.5-6 5.5-4 5.5 4"/><path d="M330 184l5.5-8 5.5-2 5.5-11 5.5-9 5.5-9 5.5-13 5.5-7 5.5-19 5.5-10 5.5-14 5.5-14 5.5-12 5.5-9 5.5-17 5.5-12 5.5-11 5.5-15 5.5-11 5.5-16 5.5-10 5.5-2 5.5-7 5.5-15 5.5-5 5.5-6 5.5-9 5.5-7 5.5-13 5.5-11"/><path d="M330 154l5.5-9 5.5-5 5.5-5 5.5-12 5.5-8 5.5-9 5.5-9 5.5-14 5.5-8 5.5-11 5.5-15 5.5-11 5.5-8 5.5-11 5.5-14 5.5-8 5.5-8 5.5-15 5.5-3 5.5-12 5.5-5 5.5-10 5.5-5 5.5-2 5.5-6 5.5-3 5.5-3 5.5-4 5.5-4"/><path d="M330 152l5.5 0 5.5-4 5.5-11 5.5-3 5.5-10 5.5-13 5.5-11 5.5-11 5.5-13 5.5-8 5.5-17 5.5-10 5.5-11 5.5-11 5.5-5 5.5-13 5.5-15 5.5-6 5.5-4 5.5-12 5.5-6 5.5-4 5.5-8 5.5-6 5.5-12 5.5-4 5.5-8 5.5-1 5.5-4"/><path d="M330 185l5.5-6 5.5-6 5.5-6 5.5-8 5.5-3 5.5-15 5.5-9 5.5-14 5.5-12 5.5-8 5.5-7 5.5-14 5.5-13 5.5-10 5.5-13 5.5-12 5.5-13 5.5-12 5.5-7 5.5-7 5.5-13 5.5 2 5.5-14 5.5-4 5.5-7 5.5-4 5.5-7 5.5-3 5.5-7"/><path d="M330 193l5.5 0 5.5-7 5.5-6 5.5-3 5.5-10 5.5-4 5.5-14 5.5-10 5.5-9 5.5-13 5.5-16 5.5-11 5.5-11 5.5-16 5.5-13 5.5-18 5.5-12 5.5-12 5.5-8 5.5-16 5.5-9 5.5-5 5.5-11 5.5-5 5.5-4 5.5-8 5.5-13 5.5-6 5.5 0"/><path d="M330 209l5.5-7 5.5 2 5.5-6 5.5-8 5.5-5 5.5-9 5.5-9 5.5-7 5.5-15 5.5-12 5.5-10 5.5-19 5.5-7 5.5-21 5.5-9 5.5-15 5.5-20 5.5-11 5.5-13 5.5-9 5.5-10 5.5-7 5.5-10 5.5-8 5.5-9 5.5-6 5.5-9 5.5-6 5.5-8"/><path d="M330 181l5.5-6 5.5-6 5.5-5 5.5-7 5.5-10 5.5-8 5.5-12 5.5-7 5.5-13 5.5-9 5.5-11 5.5-15 5.5-7 5.5-9 5.5-9 5.5-14 5.5-11 5.5-9 5.5-13 5.5-5 5.5-9 5.5-6 5.5-3 5.5-11 5.5 1 5.5-4 5.5-2 5.5-8 5.5-5"/><path d="M330 214l5.5-6 5.5-4 5.5-11 5.5-6 5.5-11 5.5-6 5.5-14 5.5-13 5.5-15 5.5-13 5.5-11 5.5-12 5.5-17 5.5-18 5.5-11 5.5-14 5.5-16 5.5-10 5.5-11 5.5-8 5.5-6 5.5-12 5.5-6 5.5-11 5.5-2 5.5-10 5.5-9 5.5-5 5.5-8"/><path d="M330 147l5.5-5 5.5-8 5.5-11 5.5-4 5.5-5 5.5-10 5.5-7 5.5-11 5.5-14 5.5-4 5.5-13 5.5-6 5.5-10 5.5-8 5.5-12 5.5-5 5.5-8 5.5-14 5.5-1 5.5-9 5.5-3 5.5 1 5.5 1 5.5-2 5.5 2 5.5 0 5.5-5 5.5 0 5.5 3"/><path d="M330 193l5.5-7 5.5-8 5.5-6 5.5-13 5.5-6 5.5-12 5.5-14 5.5-14 5.5-11 5.5-14 5.5-20 5.5-8 5.5-19 5.5-8 5.5-16 5.5-13 5.5-8 5.5-11 5.5-13 5.5-7 5.5-5 5.5-12 5.5-2 5.5-2 5.5-11 5.5-6 5.5-7 5.5-8 5.5-6"/></g><g id="rLLL"><path d="M330 197l5.5-3 5.5 3 5.5-5 5.5-6 5.5-1 5.5-9 5.5-1 5.5-7 5.5-6 5.5-4 5.5-4 5.5-8 5.5-7 5.5-6 5.5-7 5.5-5 5.5-1 5.5-6 5.5-5 5.5 0 5.5-7 5.5 2 5.5-7 5.5 2 5.5-1 5.5-1 5.5-2 5.5-2 5.5 5"/><path d="M330 142l5.5-11 5.5-8 5.5-5 5.5-6 5.5 0 5.5-9 5.5-3 5.5-11 5.5 0 5.5-1 5.5 0 5.5-9 5.5-5 5.5 3 5.5-3 5.5 1 5.5-3 5.5 0 5.5 0 5.5 1 5.5 7 5.5 6 5.5-1 5.5 5 5.5 5 5.5 7 5.5 3 5.5 3 5.5 13"/><path d="M330 149l5.5-13 5.5-1 5.5-6 5.5-6 5.5 1 5.5-5 5.5-4 5.5-4 5.5-2 5.5-3 5.5-5 5.5 2 5.5-7 5.5 3 5.5-3 5.5 8 5.5-1 5.5 1 5.5 1 5.5 2 5.5 1 5.5 3 5.5 4 5.5 3 5.5 5 5.5 7 5.5 3 5.5 8 5.5 1"/><path d="M330 146l5.5 1 5.5-4 5.5-5 5.5-2 5.5-1 5.5-4 5.5 1 5.5-2 5.5-6 5.5-3 5.5 1 5.5-1 5.5-4 5.5 1 5.5-3 5.5 2 5.5 3 5.5 1 5.5 3 5.5-2 5.5 3 5.5 3 5.5 4 5.5 4 5.5 0 5.5 3 5.5 7 5.5 3 5.5 3"/><path d="M330 179l5.5-13 5.5 0 5.5-16 5.5-2 5.5-6 5.5-3 5.5-12 5.5-9 5.5-4 5.5-8 5.5-6 5.5-3 5.5-7 5.5-4 5.5-5 5.5-5 5.5 4 5.5-4 5.5-1 5.5-2 5.5 4 5.5-1 5.5 7 5.5 3 5.5-4 5.5 1 5.5 6 5.5 4 5.5 11"/><path d="M330 183l5.5-2 5.5-3 5.5-4 5.5-2 5.5-2 5.5-5 5.5-5 5.5-10 5.5-3 5.5-3 5.5-6 5.5-7 5.5-5 5.5-6 5.5-6 5.5-2 5.5-4 5.5-4 5.5-3 5.5-2 5.5-2 5.5-1 5.5-1 5.5-5 5.5 0 5.5-1 5.5 0 5.5 3 5.5-1"/><path d="M330 201l5.5-6 5.5-3 5.5-2 5.5-4 5.5-3 5.5-4 5.5-2 5.5-13 5.5-4 5.5-7 5.5-9 5.5 1 5.5-13 5.5-5 5.5-5 5.5-1 5.5-2 5.5-6 5.5 5 5.5-7 5.5-2 5.5 0 5.5-2 5.5 6 5.5-4 5.5 1 5.5 3 5.5 3 5.5 1"/><path d="M330 161l5.5-5 5.5-7 5.5-4 5.5-2 5.5-6 5.5-7 5.5-2 5.5-4 5.5-3 5.5-2 5.5-7 5.5-4 5.5-4 5.5-2 5.5-6 5.5 1 5.5-1 5.5-5 5.5-1 5.5 0 5.5-2 5.5 9 5.5-2 5.5 2 5.5 6 5.5-1 5.5 1 5.5 14 5.5 0"/><path d="M330 166l5.5-9 5.5-6 5.5-15 5.5 2 5.5-7 5.5-7 5.5-6 5.5-5 5.5-5 5.5-5 5.5-10 5.5-1 5.5-8 5.5-4 5.5 7 5.5-8 5.5 1 5.5-3 5.5 1 5.5-5 5.5 5 5.5 3 5.5-1 5.5-2 5.5 2 5.5 7 5.5 1 5.5 7 5.5 9"/><path d="M330 194l5.5-2 5.5-4 5.5-1 5.5-7 5.5-5 5.5 1 5.5-4 5.5-9 5.5-8 5.5-1 5.5-8 5.5-6 5.5-5 5.5-6 5.5-5 5.5-4 5.5-1 5.5 2 5.5-3 5.5-5 5.5 1 5.5-4 5.5 1 5.5 6 5.5-1 5.5 1 5.5-1 5.5 8 5.5 6"/><path d="M330 192l5.5-8 5.5 0 5.5-4 5.5-6 5.5 0 5.5-8 5.5-6 5.5-8 5.5-1 5.5-6 5.5-7 5.5-8 5.5-9 5.5-4 5.5-7 5.5-1 5.5-3 5.5-9 5.5-6 5.5-7 5.5 0 5.5 6 5.5-8 5.5-2 5.5-4 5.5 6 5.5-4 5.5 4 5.5-3"/><path d="M330 145l5.5-6 5.5-4 5.5-11 5.5-3 5.5-2 5.5-7 5.5-2 5.5-10 5.5-4 5.5-3 5.5-3 5.5-5 5.5-6 5.5 2 5.5-3 5.5-6 5.5 1 5.5 4 5.5-2 5.5-3 5.5 2 5.5 5 5.5 6 5.5 1 5.5 7 5.5 3 5.5 2 5.5 5 5.5 6"/><path d="M330 158l5.5-4 5.5-6 5.5-2 5.5-1 5.5-1 5.5-10 5.5 2 5.5-8 5.5-2 5.5-6 5.5 1 5.5-7 5.5-2 5.5-4 5.5 7 5.5-2 5.5-4 5.5 2 5.5-1 5.5 1 5.5 2 5.5-3 5.5 8 5.5 1 5.5-3 5.5 8 5.5 5 5.5-1 5.5 7"/><path d="M330 137l5.5-3 5.5-2 5.5-2 5.5 1 5.5 1 5.5-1 5.5 0 5.5-2 5.5 6 5.5-7 5.5 2 5.5 4 5.5-2 5.5-2 5.5 4 5.5 3 5.5 2 5.5 3 5.5-3 5.5 10 5.5 3 5.5-1 5.5 8 5.5-1 5.5 1 5.5 6 5.5 2 5.5 1 5.5 7"/><path d="M330 118l5.5-9 5.5 7 5.5-2 5.5-2 5.5-4 5.5 2 5.5 0 5.5-6 5.5 5 5.5 0 5.5-5 5.5 4 5.5-3 5.5 10 5.5-1 5.5 3 5.5-2 5.5 8 5.5 2 5.5 8 5.5 2 5.5 4 5.5 11 5.5 2 5.5-1 5.5 9 5.5 4 5.5 5 5.5 5"/><path d="M330 212l5.5-6 5.5-1 5.5-4 5.5-3 5.5-7 5.5-2 5.5 3 5.5-7 5.5-6 5.5-6 5.5-4 5.5-3 5.5-8 5.5-3 5.5-5 5.5-11 5.5-4 5.5-4 5.5-1 5.5-5 5.5-6 5.5 1 5.5-1 5.5-3 5.5 1 5.5 1 5.5-2 5.5 1 5.5 0"/><path d="M330 144l5.5-11 5.5-1 5.5-5 5.5-2 5.5-1 5.5-2 5.5-1 5.5-6 5.5 1 5.5-4 5.5-3 5.5-2 5.5-3 5.5 0 5.5-2 5.5 3 5.5 1 5.5 0 5.5 0 5.5 1 5.5 2 5.5 6 5.5 3 5.5 7 5.5 1 5.5 7 5.5 2 5.5 8 5.5 8"/><path d="M330 143l5.5-5 5.5 1 5.5-6 5.5-3 5.5 0 5.5-4 5.5-7 5.5-4 5.5-3 5.5-3 5.5-3 5.5 0 5.5 1 5.5 3 5.5-3 5.5 1 5.5-1 5.5 3 5.5 0 5.5-2 5.5-1 5.5 7 5.5 1 5.5 3 5.5 0 5.5 6 5.5 2 5.5 4 5.5 7"/><path d="M330 159l5.5-8 5.5 0 5.5-5 5.5-7 5.5-2 5.5-5 5.5 3 5.5-7 5.5 0 5.5-4 5.5-9 5.5 1 5.5-2 5.5-4 5.5 3 5.5-4 5.5 1 5.5 3 5.5-1 5.5-1 5.5 1 5.5 4 5.5-2 5.5 6 5.5-1 5.5 3 5.5 1 5.5 11 5.5 0"/><path d="M330 183l5.5-4 5.5-3 5.5-10 5.5-4 5.5-4 5.5-4 5.5-8 5.5-6 5.5-4 5.5-9 5.5-4 5.5-5 5.5-10 5.5-5 5.5 2 5.5-9 5.5-2 5.5-5 5.5-3 5.5 3 5.5 0 5.5-7 5.5 10 5.5-1 5.5-2 5.5 4 5.5 1 5.5 4 5.5 4"/><path d="M330 149l5.5-7 5.5-2 5.5-2 5.5-11 5.5 6 5.5-7 5.5-1 5.5-7 5.5 5 5.5-11 5.5-5 5.5 5 5.5-5 5.5 1 5.5-3 5.5-1 5.5 3 5.5-1 5.5 1 5.5 0 5.5 8 5.5-1 5.5 7 5.5 2 5.5-3 5.5 8 5.5 9 5.5-2 5.5 7"/><path d="M330 133l5.5-7 5.5-6 5.5-5 5.5-4 5.5-6 5.5-3 5.5-7 5.5-4 5.5-2 5.5 0 5.5-5 5.5 0 5.5-7 5.5 3 5.5 5 5.5-1 5.5-1 5.5-2 5.5 7 5.5 2 5.5 2 5.5 8 5.5 2 5.5 2 5.5 7 5.5 7 5.5 2 5.5 11 5.5 7"/><path d="M330 180l5.5-6 5.5 2 5.5-10 5.5-1 5.5-1 5.5 0 5.5-12 5.5-5 5.5-3 5.5-4 5.5-6 5.5-9 5.5 0 5.5-10 5.5-7 5.5-1 5.5-4 5.5-2 5.5 1 5.5-4 5.5-1 5.5 5 5.5-7 5.5 1 5.5 0 5.5 3 5.5 0 5.5 3 5.5 9"/><path d="M330 136l5.5-7 5.5 1 5.5 2 5.5-10 5.5 0 5.5 0 5.5-3 5.5-3 5.5 4 5.5-4 5.5-1 5.5-4 5.5-1 5.5 1 5.5 3 5.5-6 5.5 10 5.5-1 5.5 2 5.5 4 5.5-1 5.5 8 5.5 5 5.5 0 5.5 5 5.5 4 5.5 4 5.5 6 5.5 10"/><path d="M330 149l5.5-6 5.5-6 5.5 2 5.5-8 5.5 0 5.5 4 5.5-7 5.5-5 5.5-3 5.5-2 5.5-4 5.5-2 5.5-2 5.5 2 5.5-2 5.5-1 5.5-3 5.5 5 5.5 1 5.5-2 5.5 6 5.5 4 5.5 4 5.5 5 5.5 1 5.5 5 5.5 2 5.5 2 5.5 10"/><path d="M330 129l5.5-2 5.5-5 5.5 0 5.5-2 5.5-4 5.5-1 5.5-6 5.5-6 5.5 3 5.5-5 5.5-3 5.5 6 5.5-4 5.5-3 5.5 5 5.5-7 5.5 7 5.5-1 5.5 1 5.5 3 5.5 5 5.5 1 5.5 4 5.5 3 5.5 5 5.5 5 5.5 3 5.5 0 5.5 11"/><path d="M330 196l5.5-8 5.5 1 5.5-6 5.5-7 5.5-2 5.5-10 5.5-3 5.5-12 5.5 2 5.5-7 5.5-12 5.5-1 5.5-6 5.5-5 5.5-7 5.5-6 5.5-3 5.5-6 5.5-3 5.5 2 5.5-7 5.5 7 5.5-2 5.5-2 5.5-1 5.5 1 5.5 7 5.5 4 5.5 4"/><path d="M330 186l5.5-9 5.5 2 5.5-3 5.5-4 5.5-2 5.5-8 5.5-10 5.5-1 5.5-4 5.5-9 5.5-3 5.5-5 5.5-5 5.5-4 5.5-5 5.5-3 5.5 0 5.5-6 5.5-4 5.5 2 5.5-4 5.5-3 5.5 3 5.5-8 5.5 2 5.5 6 5.5-2 5.5 1 5.5 4"/><path d="M330 207l5.5-5 5.5-8 5.5-2 5.5-4 5.5 4 5.5-5 5.5-7 5.5-4 5.5-4 5.5-6 5.5-6 5.5-6 5.5-6 5.5-8 5.5-2 5.5-8 5.5-1 5.5-5 5.5-8 5.5-6 5.5-7 5.5 0 5.5-3 5.5-6 5.5-4 5.5 0 5.5-1 5.5-2 5.5 2"/><path d="M330 141l5.5-1 5.5-2 5.5-2 5.5 0 5.5-2 5.5-3 5.5-4 5.5-7 5.5 0 5.5 2 5.5-6 5.5-5 5.5-5 5.5 1 5.5 2 5.5 1 5.5-2 5.5-5 5.5 5 5.5 4 5.5 0 5.5 4 5.5 3 5.5-5 5.5 8 5.5 1 5.5 2 5.5 6 5.5 8"/><path d="M330 211l5.5-4 5.5-3 5.5-7 5.5 0 5.5-7 5.5 0 5.5-5 5.5-10 5.5-2 5.5-8 5.5-5 5.5-4 5.5-8 5.5-7 5.5-6 5.5-5 5.5-3 5.5-6 5.5-9 5.5-6 5.5-2 5.5 1 5.5-5 5.5-1 5.5-5 5.5-2 5.5 4 5.5-6 5.5 0"/><path d="M330 168l5.5-10 5.5-5 5.5-6 5.5 4 5.5 0 5.5-7 5.5-6 5.5-8 5.5-2 5.5-5 5.5-8 5.5-3 5.5-2 5.5-9 5.5 1 5.5-6 5.5-1 5.5-8 5.5-2 5.5 1 5.5 0 5.5 2 5.5-2 5.5 2 5.5-2 5.5 0 5.5 7 5.5 2 5.5 6"/><path d="M330 168l5.5-9 5.5-3 5.5-4 5.5-7 5.5-8 5.5-3 5.5-7 5.5-11 5.5 2 5.5-5 5.5-6 5.5 0 5.5-11 5.5 3 5.5-6 5.5-1 5.5-3 5.5-4 5.5 0 5.5 0 5.5 5 5.5-2 5.5 6 5.5-3 5.5 2 5.5 11 5.5-2 5.5 7 5.5 3"/><path d="M330 123l5.5-6 5.5-2 5.5-3 5.5-4 5.5-1 5.5 2 5.5-4 5.5 0 5.5-2 5.5-2 5.5-4 5.5 0 5.5-3 5.5 4 5.5 1 5.5 4 5.5 0 5.5 9 5.5 0 5.5-2 5.5 6 5.5 8 5.5 8 5.5 0 5.5 6 5.5 8 5.5 2 5.5 7 5.5 5"/><path d="M330 136l5.5 0 5.5-6 5.5-1 5.5-6 5.5 5 5.5 0 5.5-6 5.5-4 5.5 2 5.5-5 5.5 4 5.5-5 5.5-1 5.5 4 5.5 0 5.5 2 5.5 5 5.5-1 5.5-1 5.5 11 5.5 1 5.5 4 5.5 5 5.5 7 5.5-3 5.5 11 5.5 1 5.5 4 5.5 7"/><path d="M330 168l5.5-6 5.5-7 5.5-1 5.5 3 5.5-11 5.5-5 5.5-3 5.5-8 5.5 3 5.5-5 5.5-6 5.5-4 5.5-4 5.5-4 5.5 1 5.5 1 5.5-1 5.5 1 5.5-5 5.5 2 5.5 2 5.5 4 5.5 0 5.5 3 5.5-2 5.5 5 5.5 4 5.5 5 5.5 4"/><path d="M330 117l5.5-3 5.5-4 5.5-4 5.5-3 5.5-2 5.5-1 5.5-1 5.5-4 5.5-3 5.5 1 5.5 1 5.5 3 5.5-2 5.5 2 5.5 5 5.5-1 5.5 3 5.5 7 5.5 2 5.5 8 5.5 2 5.5 8 5.5 9 5.5 3 5.5 4 5.5 9 5.5 11 5.5 6 5.5 7"/><path d="M330 149l5.5-1 5.5-2 5.5-4 5.5-3 5.5-6 5.5 0 5.5-2 5.5-6 5.5-4 5.5 2 5.5-3 5.5-2 5.5-3 5.5-3 5.5-4 5.5 1 5.5 4 5.5-4 5.5 2 5.5 2 5.5-1 5.5 6 5.5-1 5.5 5 5.5-2 5.5 7 5.5 3 5.5 1 5.5 9"/><path d="M330 194l5.5-7 5.5-10 5.5-6 5.5 2 5.5-5 5.5-5 5.5-6 5.5-11 5.5 0 5.5-5 5.5-11 5.5-5 5.5-4 5.5-11 5.5 0 5.5-6 5.5 2 5.5-5 5.5-7 5.5 3 5.5 2 5.5 1 5.5 2 5.5 1 5.5 4 5.5-3 5.5 1 5.5 1 5.5 5"/><path d="M330 173l5.5-11 5.5-1 5.5-4 5.5-7 5.5-5 5.5 0 5.5-11 5.5 0 5.5 0 5.5-12 5.5-3 5.5-1 5.5-5 5.5-6 5.5 1 5.5-6 5.5-2 5.5 2 5.5-1 5.5-4 5.5 1 5.5 1 5.5-1 5.5 0 5.5 5 5.5 2 5.5 4 5.5-3 5.5 8"/><path d="M330 179l5.5-12 5.5 0 5.5-7 5.5-3 5.5-3 5.5-5 5.5-5 5.5-10 5.5-4 5.5-5 5.5-2 5.5-3 5.5-10 5.5-4 5.5-5 5.5-5 5.5-2 5.5 0 5.5-5 5.5-5 5.5 9 5.5-2 5.5-3 5.5 2 5.5-1 5.5 9 5.5-6 5.5 0 5.5 7"/><path d="M330 140l5.5 0 5.5-4 5.5-5 5.5-6 5.5 2 5.5-3 5.5-7 5.5-2 5.5-2 5.5-8 5.5-3 5.5 5 5.5-8 5.5 0 5.5 1 5.5-6 5.5-2 5.5 6 5.5-5 5.5 2 5.5 6 5.5 1 5.5 4 5.5 6 5.5-2 5.5 10 5.5 6 5.5 2 5.5 9"/><path d="M330 153l5.5-1 5.5-1 5.5-5 5.5-6 5.5-1 5.5 1 5.5-11 5.5-6 5.5-3 5.5-4 5.5-5 5.5-5 5.5-4 5.5-7 5.5 3 5.5-4 5.5 0 5.5 1 5.5-2 5.5 3 5.5 0 5.5 8 5.5 5 5.5-2 5.5 3 5.5 4 5.5 0 5.5 9 5.5 4"/><path d="M330 217l5.5-2 5.5-2 5.5-1 5.5-9 5.5 6 5.5-5 5.5-10 5.5-2 5.5-7 5.5-5 5.5-5 5.5 0 5.5-10 5.5-5 5.5-6 5.5-5 5.5-5 5.5-8 5.5-4 5.5-4 5.5-9 5.5 3 5.5-4 5.5-5 5.5-4 5.5 3 5.5-11 5.5 0 5.5 1"/><path d="M330 134l5.5-6 5.5-4 5.5-4 5.5-4 5.5-1 5.5-6 5.5-3 5.5-8 5.5-4 5.5-2 5.5-8 5.5-5 5.5-4 5.5-3 5.5 4 5.5 2 5.5 1 5.5-2 5.5-1 5.5 3 5.5 0 5.5 6 5.5 5 5.5-1 5.5 2 5.5 8 5.5 7 5.5 1 5.5 10"/><path d="M330 201l5.5-5 5.5-6 5.5-7 5.5-2 5.5-2 5.5-10 5.5-8 5.5-11 5.5-8 5.5-8 5.5-9 5.5-1 5.5-11 5.5-6 5.5-3 5.5-5 5.5-8 5.5-5 5.5-5 5.5-1 5.5-4 5.5-3 5.5 1 5.5 0 5.5 1 5.5-5 5.5 6 5.5-5 5.5 2"/><path d="M330 193l5.5-8 5.5-11 5.5 2 5.5-5 5.5-3 5.5-3 5.5-11 5.5-5 5.5-3 5.5-9 5.5-8 5.5-4 5.5-9 5.5-3 5.5-7 5.5-6 5.5 2 5.5-4 5.5 3 5.5-1 5.5-7 5.5 2 5.5 1 5.5 2 5.5-2 5.5 2 5.5 1 5.5 2 5.5 7"/><path d="M330 139l5.5-7 5.5-5 5.5-4 5.5 2 5.5-5 5.5-3 5.5-1 5.5-5 5.5-2 5.5-4 5.5-8 5.5 1 5.5-1 5.5 0 5.5-1 5.5-1 5.5 0 5.5 2 5.5 3 5.5 1 5.5 4 5.5 4 5.5 6 5.5 7 5.5-1 5.5 6 5.5 7 5.5 7 5.5 9"/><path d="M330 142l5.5-2 5.5-4 5.5-8 5.5-7 5.5-8 5.5 0 5.5-8 5.5-3 5.5-7 5.5-4 5.5-11 5.5 1 5.5-7 5.5-1 5.5-8 5.5 7 5.5-1 5.5-1 5.5 1 5.5 2 5.5 3 5.5-1 5.5 7 5.5 6 5.5 1 5.5 8 5.5 2 5.5 7 5.5 6"/><path d="M330 158l5.5-3 5.5-5 5.5 0 5.5-4 5.5-3 5.5-8 5.5 1 5.5-7 5.5 0 5.5-6 5.5-2 5.5-5 5.5-1 5.5-4 5.5 4 5.5 0 5.5 1 5.5-5 5.5 3 5.5-1 5.5 3 5.5 4 5.5 1 5.5 1 5.5 0 5.5 8 5.5 3 5.5 1 5.5 4"/><path d="M330 181l5.5-1 5.5-9 5.5 3 5.5-10 5.5 0 5.5-2 5.5-5 5.5-9 5.5-7 5.5-3 5.5-6 5.5-3 5.5-5 5.5-5 5.5-4 5.5-4 5.5-4 5.5-6 5.5 3 5.5-2 5.5 1 5.5-2 5.5-3 5.5-2 5.5-4 5.5 5 5.5-3 5.5 2 5.5 2"/><path d="M330 160l5.5-7 5.5-1 5.5-2 5.5-9 5.5-3 5.5-7 5.5-7 5.5-9 5.5-5 5.5-3 5.5-8 5.5-7 5.5 0 5.5-3 5.5-5 5.5 1 5.5 1 5.5 4 5.5-5 5.5-2 5.5 7 5.5 3 5.5 4 5.5-1 5.5 5 5.5 4 5.5 10 5.5 3 5.5 3"/><path d="M330 146l5.5-8 5.5-2 5.5-5 5.5-4 5.5-3 5.5-5 5.5-1 5.5-8 5.5 2 5.5-8 5.5-1 5.5-3 5.5-7 5.5-2 5.5-1 5.5-3 5.5 0 5.5-2 5.5 0 5.5-3 5.5-1 5.5 6 5.5 5 5.5-1 5.5-1 5.5 4 5.5 8 5.5 2 5.5 8"/><path d="M330 167l5.5-2 5.5-7 5.5-2 5.5-4 5.5-4 5.5 0 5.5-1 5.5-9 5.5-5 5.5-4 5.5-1 5.5-8 5.5-4 5.5-4 5.5-2 5.5-5 5.5-2 5.5 4 5.5-2 5.5-3 5.5 6 5.5-1 5.5 4 5.5 4 5.5-3 5.5 6 5.5 6 5.5-4 5.5 6"/><path d="M330 183l5.5-11 5.5 0 5.5-11 5.5-4 5.5-4 5.5-2 5.5-11 5.5-10 5.5 0 5.5-11 5.5-12 5.5 0 5.5-12 5.5-2 5.5-2 5.5-6 5.5-1 5.5 5 5.5-4 5.5-4 5.5-1 5.5 2 5.5 3 5.5-1 5.5-5 5.5 7 5.5-1 5.5 6 5.5 0"/><path d="M330 128l5.5-5 5.5 4 5.5-7 5.5-1 5.5-1 5.5-2 5.5-1 5.5 0 5.5 1 5.5 2 5.5-2 5.5 4 5.5-3 5.5 5 5.5-2 5.5 5 5.5 3 5.5 1 5.5 6 5.5-3 5.5 9 5.5 0 5.5 9 5.5 2 5.5 2 5.5 2 5.5 6 5.5 6 5.5 1"/><path d="M330 189l5.5-5 5.5-2 5.5-7 5.5-7 5.5 0 5.5-8 5.5-3 5.5-7 5.5-8 5.5-6 5.5-5 5.5-7 5.5-4 5.5-12 5.5-5 5.5-1 5.5-8 5.5-4 5.5-2 5.5-10 5.5 4 5.5-3 5.5-3 5.5-4 5.5 2 5.5-1 5.5 1 5.5 1 5.5 3"/><path d="M330 129l5.5 1 5.5-7 5.5-2 5.5-8 5.5 3 5.5-2 5.5-4 5.5-5 5.5 3 5.5-9 5.5 2 5.5 3 5.5-3 5.5-1 5.5 4 5.5 0 5.5 6 5.5 2 5.5 5 5.5 1 5.5 5 5.5 9 5.5 8 5.5 2 5.5-1 5.5 10 5.5 6 5.5 3 5.5 7"/><path d="M330 188l5.5-9 5.5 0 5.5-3 5.5-2 5.5-1 5.5 0 5.5-6 5.5-7 5.5 0 5.5-6 5.5-2 5.5-6 5.5-3 5.5-4 5.5-2 5.5-2 5.5-3 5.5 3 5.5-6 5.5 3 5.5 0 5.5 3 5.5 0 5.5-4 5.5-1 5.5 4 5.5-6 5.5 0 5.5 2"/><path d="M330 128l5.5-10 5.5-1 5.5-1 5.5-7 5.5-1 5.5 2 5.5-6 5.5-1 5.5-6 5.5-3 5.5-2 5.5-4 5.5 0 5.5 0 5.5-1 5.5 2 5.5 0 5.5 4 5.5 2 5.5 1 5.5 0 5.5 9 5.5 2 5.5 4 5.5 0 5.5 14 5.5 3 5.5 4 5.5 4"/><path d="M330 152l5.5-7 5.5-1 5.5 2 5.5-3 5.5-4 5.5 4 5.5-5 5.5-5 5.5-4 5.5-2 5.5-4 5.5-2 5.5-5 5.5-2 5.5-4 5.5 0 5.5 5 5.5-6 5.5 5 5.5-2 5.5 2 5.5 5 5.5 1 5.5 6 5.5-2 5.5 13 5.5 1 5.5 3 5.5 9"/><path d="M330 131l5.5-2 5.5 0 5.5-4 5.5 4 5.5-5 5.5 4 5.5-1 5.5-4 5.5 7 5.5-4 5.5 2 5.5-2 5.5-2 5.5 1 5.5 4 5.5-1 5.5 4 5.5 7 5.5 1 5.5-3 5.5 4 5.5 0 5.5 2 5.5 1 5.5 2 5.5 1 5.5-1 5.5 1 5.5 5"/><path d="M330 154l5.5-4 5.5-4 5.5-2 5.5-8 5.5-2 5.5 2 5.5-2 5.5-5 5.5-5 5.5 3 5.5-6 5.5-6 5.5-2 5.5 4 5.5-4 5.5 2 5.5 2 5.5 1 5.5-5 5.5 0 5.5 4 5.5 2 5.5 7 5.5-1 5.5-3 5.5 5 5.5 6 5.5 6 5.5 8"/><path d="M330 185l5.5-4 5.5-3 5.5-8 5.5-2 5.5-4 5.5-1 5.5-8 5.5-8 5.5-3 5.5-9 5.5-4 5.5-9 5.5-9 5.5 4 5.5-8 5.5-7 5.5-1 5.5-2 5.5-5 5.5-1 5.5 3 5.5-2 5.5-3 5.5 4 5.5-6 5.5 8 5.5-1 5.5 1 5.5 7"/><path d="M330 143l5.5-7 5.5-7 5.5 0 5.5-7 5.5-2 5.5-5 5.5-3 5.5-7 5.5-2 5.5-1 5.5-4 5.5 2 5.5-7 5.5-4 5.5 3 5.5 3 5.5 2 5.5 2 5.5-1 5.5-1 5.5 3 5.5 5 5.5 1 5.5 8 5.5 0 5.5 5 5.5 8 5.5 0 5.5 5"/><path d="M330 214l5.5-8 5.5-2 5.5-6 5.5-5 5.5-3 5.5-3 5.5-6 5.5-7 5.5-2 5.5-7 5.5-12 5.5-2 5.5-16 5.5 2 5.5-9 5.5 2 5.5-11 5.5-5 5.5-2 5.5-7 5.5 2 5.5-5 5.5 0 5.5-3 5.5-4 5.5 3 5.5-8 5.5 5 5.5 1"/><path d="M330 205l5.5-6 5.5-3 5.5-3 5.5-1 5.5-6 5.5-3 5.5 0 5.5-10 5.5-3 5.5-8 5.5-3 5.5-6 5.5-9 5.5-1 5.5-10 5.5-2 5.5-6 5.5-6 5.5-3 5.5-3 5.5-3 5.5 2 5.5-5 5.5 2 5.5-2 5.5-2 5.5 1 5.5-2 5.5 4"/><path d="M330 193l5.5-5 5.5-4 5.5-3 5.5-6 5.5-6 5.5-5 5.5-7 5.5-8 5.5 0 5.5-8 5.5-10 5.5-10 5.5-8 5.5-9 5.5-5 5.5-2 5.5-3 5.5 0 5.5-8 5.5 0 5.5-3 5.5-2 5.5 1 5.5 5 5.5-2 5.5 5 5.5-5 5.5 12 5.5-1"/><path d="M330 193l5.5 0 5.5-3 5.5-3 5.5 2 5.5-5 5.5 3 5.5 2 5.5-9 5.5-1 5.5-13 5.5-1 5.5-9 5.5-4 5.5-5 5.5-5 5.5-3 5.5-8 5.5 1 5.5-9 5.5-2 5.5-2 5.5-8 5.5 1 5.5-7 5.5 4 5.5-9 5.5 1 5.5-1 5.5-3"/><path d="M330 181l5.5-1 5.5-8 5.5 1 5.5 2 5.5-11 5.5-1 5.5-6 5.5-7 5.5 1 5.5-10 5.5-6 5.5-6 5.5-6 5.5-4 5.5-1 5.5-9 5.5-3 5.5 0 5.5-4 5.5-2 5.5 0 5.5 3 5.5 4 5.5-5 5.5-2 5.5 8 5.5 3 5.5 0 5.5 1"/><path d="M330 217l5.5-5 5.5-6 5.5-4 5.5 0 5.5-1 5.5-8 5.5 0 5.5-5 5.5-3 5.5-4 5.5-10 5.5 2 5.5-11 5.5-4 5.5-6 5.5-10 5.5 2 5.5-7 5.5-3 5.5-5 5.5-6 5.5 5 5.5-7 5.5 0 5.5-5 5.5 3 5.5-4 5.5 2 5.5-1"/><path d="M330 117l5.5-9 5.5 8 5.5-8 5.5-2 5.5 4 5.5 0 5.5-2 5.5-1 5.5-2 5.5-2 5.5 0 5.5 6 5.5-8 5.5 1 5.5 4 5.5 4 5.5-1 5.5 0 5.5 10 5.5 2 5.5 0 5.5 7 5.5 5 5.5 7 5.5 0 5.5 1 5.5 13 5.5 7 5.5 5"/><path d="M330 131l5.5-7 5.5 0 5.5-8 5.5-5 5.5 0 5.5-7 5.5 3 5.5-6 5.5-1 5.5-2 5.5-4 5.5 1 5.5-3 5.5 0 5.5-3 5.5 4 5.5-1 5.5 2 5.5 4 5.5-2 5.5 3 5.5 6 5.5 0 5.5 4 5.5 2 5.5 9 5.5-1 5.5 8 5.5 7"/><path d="M330 153l5.5-5 5.5-1 5.5-1 5.5-1 5.5 0 5.5-1 5.5-5 5.5-2 5.5 4 5.5-6 5.5-3 5.5-1 5.5-2 5.5 0 5.5 1 5.5-1 5.5 0 5.5 1 5.5 2 5.5-4 5.5 5 5.5 6 5.5-1 5.5-2 5.5-2 5.5 8 5.5-1 5.5 1 5.5 1"/><path d="M330 154l5.5-2 5.5-8 5.5-2 5.5-8 5.5 3 5.5-4 5.5-7 5.5 0 5.5-6 5.5-7 5.5-3 5.5-5 5.5-5 5.5 3 5.5 0 5.5-1 5.5 3 5.5 3 5.5 0 5.5 1 5.5 5 5.5 8 5.5-1 5.5 5 5.5-1 5.5 6 5.5 5 5.5 3 5.5 9"/><path d="M330 137l5.5-6 5.5-5 5.5-4 5.5-10 5.5 0 5.5-1 5.5-6 5.5 0 5.5-4 5.5-4 5.5-5 5.5 2 5.5-7 5.5 3 5.5-5 5.5-3 5.5 1 5.5 1 5.5 0 5.5 2 5.5 1 5.5 2 5.5 8 5.5 2 5.5 1 5.5 2 5.5 4 5.5 7 5.5 7"/><path d="M330 130l5.5-5 5.5 0 5.5-2 5.5-2 5.5-7 5.5-1 5.5-1 5.5-3 5.5 1 5.5-4 5.5-1 5.5 3 5.5-8 5.5 7 5.5 1 5.5 1 5.5 7 5.5 1 5.5 2 5.5 4 5.5 3 5.5 4 5.5 9 5.5 3 5.5-2 5.5 11 5.5 5 5.5 5 5.5 7"/><path d="M330 191l5.5-6 5.5-2 5.5-5 5.5-1 5.5 2 5.5-10 5.5-3 5.5-7 5.5-1 5.5 1 5.5-10 5.5 5 5.5-9 5.5-7 5.5-4 5.5-5 5.5-3 5.5-1 5.5-8 5.5-1 5.5-5 5.5-4 5.5-2 5.5-1 5.5-1 5.5-3 5.5-3 5.5-1 5.5 1"/><path d="M330 158l5.5-11 5.5 0 5.5-6 5.5-1 5.5-7 5.5 1 5.5-5 5.5-2 5.5-2 5.5-3 5.5-7 5.5-3 5.5-3 5.5-3 5.5-1 5.5-8 5.5 7 5.5-4 5.5-1 5.5-3 5.5 1 5.5 6 5.5 3 5.5-1 5.5 8 5.5 2 5.5 2 5.5 5 5.5 4"/><path d="M330 155l5.5-7 5.5 1 5.5-10 5.5-3 5.5-7 5.5 0 5.5-8 5.5-6 5.5 1 5.5-3 5.5-4 5.5-2 5.5-9 5.5-3 5.5 3 5.5 1 5.5-7 5.5 2 5.5 2 5.5 1 5.5 0 5.5 2 5.5 8 5.5-7 5.5 7 5.5 6 5.5 4 5.5 3 5.5 7"/><path d="M330 175l5.5 5 5.5-5 5.5-3 5.5-8 5.5 1 5.5-4 5.5-1 5.5-16 5.5 0 5.5-3 5.5-9 5.5-5 5.5-1 5.5-4 5.5-9 5.5-3 5.5-4 5.5-8 5.5 7 5.5-4 5.5-7 5.5 7 5.5-2 5.5-1 5.5 2 5.5-2 5.5-1 5.5 2 5.5 4"/><path d="M330 141l5.5-7 5.5-1 5.5-8 5.5-1 5.5-7 5.5 4 5.5-3 5.5-7 5.5-2 5.5 0 5.5-3 5.5 0 5.5-7 5.5 5 5.5-5 5.5-2 5.5 1 5.5 6 5.5-5 5.5-3 5.5 12 5.5 1 5.5 2 5.5 2 5.5 5 5.5 3 5.5 5 5.5-3 5.5 11"/><path d="M330 163l5.5-5 5.5-6 5.5-8 5.5-3 5.5-1 5.5-4 5.5-9 5.5-12 5.5-1 5.5-5 5.5-12 5.5 1 5.5-3 5.5-8 5.5-3 5.5-2 5.5-1 5.5-4 5.5-3 5.5-1 5.5 2 5.5 3 5.5 2 5.5-1 5.5 3 5.5 6 5.5-4 5.5 7 5.5 5"/><path d="M330 146l5.5-10 5.5 2 5.5-11 5.5 0 5.5-4 5.5-10 5.5 3 5.5-8 5.5-2 5.5-4 5.5-11 5.5 5 5.5-10 5.5 0 5.5-4 5.5 1 5.5 1 5.5-2 5.5 3 5.5-3 5.5 1 5.5 7 5.5 2 5.5 3 5.5-4 5.5 8 5.5 5 5.5 9 5.5 4"/><path d="M330 164l5.5-3 5.5-5 5.5-5 5.5 1 5.5-6 5.5-1 5.5-2 5.5-10 5.5 2 5.5-7 5.5-8 5.5-1 5.5-1 5.5-1 5.5-4 5.5-3 5.5-2 5.5 4 5.5-4 5.5-4 5.5 1 5.5 10 5.5-1 5.5 0 5.5 3 5.5 4 5.5-5 5.5 5 5.5 3"/><path d="M330 206l5.5-4 5.5-6 5.5-1 5.5-7 5.5-4 5.5-2 5.5-5 5.5-7 5.5-5 5.5-9 5.5-8 5.5 0 5.5-11 5.5-3 5.5-4 5.5-9 5.5 4 5.5-6 5.5 0 5.5-3 5.5-4 5.5 2 5.5 2 5.5 1 5.5-3 5.5-3 5.5 3 5.5-4 5.5 0"/><path d="M330 131l5.5-6 5.5-8 5.5-1 5.5-8 5.5 0 5.5-3 5.5-5 5.5-5 5.5-2 5.5-6 5.5-3 5.5 1 5.5-3 5.5-1 5.5-3 5.5 4 5.5 1 5.5 1 5.5 3 5.5 4 5.5 6 5.5 1 5.5 6 5.5 5 5.5 3 5.5 11 5.5 5 5.5 4 5.5 9"/><path d="M330 145l5.5-12 5.5 0 5.5-7 5.5-5 5.5 2 5.5-3 5.5-2 5.5-3 5.5-4 5.5-8 5.5-2 5.5-1 5.5-7 5.5 4 5.5-2 5.5-1 5.5 2 5.5-3 5.5 5 5.5 2 5.5 5 5.5-3 5.5 6 5.5 3 5.5 4 5.5 5 5.5 4 5.5 3 5.5 5"/><path d="M330 134l5.5-5 5.5 3 5.5-6 5.5 3 5.5-2 5.5 0 5.5-2 5.5-3 5.5 0 5.5-2 5.5-3 5.5 3 5.5-8 5.5 3 5.5 1 5.5-3 5.5 8 5.5-4 5.5 0 5.5-4 5.5 4 5.5 5 5.5 6 5.5-3 5.5 0 5.5 8 5.5 2 5.5 3 5.5 2"/><path d="M330 151l5.5-8 5.5-5 5.5-4 5.5-4 5.5-1 5.5-3 5.5-1 5.5-6 5.5-2 5.5-7 5.5-6 5.5 0 5.5 0 5.5-5 5.5 3 5.5-2 5.5 5 5.5-4 5.5 3 5.5 4 5.5 6 5.5-5 5.5 10 5.5-2 5.5-3 5.5 12 5.5 1 5.5 6 5.5 4"/><path d="M330 184l5.5-7 5.5-1 5.5-9 5.5 0 5.5-5 5.5-2 5.5-6 5.5-9 5.5 0 5.5-8 5.5-6 5.5-2 5.5-11 5.5 1 5.5-6 5.5 0 5.5-8 5.5 3 5.5-6 5.5-2 5.5-4 5.5 10 5.5-1 5.5 0 5.5-3 5.5 3 5.5-1 5.5 6 5.5-2"/><path d="M330 154l5.5-7 5.5-4 5.5-7 5.5-5 5.5-2 5.5-3 5.5-6 5.5-4 5.5-4 5.5-8 5.5-5 5.5 4 5.5-11 5.5 1 5.5-4 5.5-6 5.5-2 5.5-4 5.5-2 5.5 3 5.5-1 5.5 6 5.5-5 5.5 1 5.5 6 5.5 2 5.5 6 5.5 5 5.5 8"/><path d="M330 152l5.5 5 5.5-10 5.5-7 5.5-1 5.5-7 5.5-5 5.5-5 5.5-5 5.5-2 5.5-6 5.5-9 5.5 1 5.5-4 5.5-4 5.5-4 5.5-2 5.5-5 5.5 4 5.5-1 5.5 1 5.5-6 5.5 7 5.5 6 5.5 0 5.5-2 5.5 6 5.5 7 5.5-4 5.5 7"/><path d="M330 185l5.5-8 5.5-4 5.5-2 5.5-5 5.5-3 5.5-5 5.5 0 5.5-12 5.5-2 5.5-6 5.5-6 5.5-2 5.5-8 5.5 1 5.5-6 5.5-6 5.5 1 5.5-6 5.5-1 5.5 5 5.5-2 5.5-1 5.5 2 5.5-2 5.5-2 5.5 7 5.5 0 5.5 4 5.5 3"/><path d="M330 193l5.5 1 5.5-4 5.5-8 5.5-2 5.5 1 5.5-8 5.5-6 5.5-10 5.5 3 5.5-11 5.5-6 5.5-4 5.5-11 5.5-3 5.5-9 5.5 0 5.5-1 5.5-4 5.5 3 5.5-4 5.5-1 5.5-3 5.5 1 5.5 0 5.5 0 5.5 1 5.5 2 5.5-2 5.5 3"/><path d="M330 209l5.5-2 5.5-5 5.5-4 5.5 3 5.5-9 5.5-1 5.5-6 5.5-7 5.5-1 5.5-3 5.5-7 5.5-3 5.5-4 5.5-10 5.5-1 5.5-5 5.5-2 5.5-9 5.5-2 5.5-5 5.5-4 5.5-1 5.5-5 5.5-1 5.5-2 5.5-4 5.5-5 5.5 1 5.5 2"/><path d="M330 181l5.5-3 5.5-5 5.5-9 5.5 3 5.5-9 5.5 2 5.5-8 5.5-9 5.5-2 5.5 2 5.5-15 5.5 4 5.5-5 5.5-2 5.5-5 5.5 3 5.5-2 5.5-6 5.5 3 5.5 2 5.5 1 5.5 2 5.5-1 5.5 0 5.5-1 5.5 6 5.5 1 5.5 5 5.5 10"/><path d="M330 214l5.5-7 5.5-2 5.5-9 5.5-5 5.5-6 5.5-1 5.5-10 5.5-9 5.5-2 5.5-8 5.5-8 5.5-8 5.5-9 5.5-7 5.5-6 5.5-4 5.5-6 5.5-6 5.5 0 5.5-10 5.5 2 5.5-5 5.5-6 5.5 3 5.5-9 5.5 1 5.5-2 5.5 5 5.5-1"/><path d="M330 147l5.5-11 5.5-1 5.5-1 5.5-2 5.5-8 5.5-1 5.5-2 5.5-1 5.5-4 5.5 2 5.5-5 5.5 1 5.5-6 5.5 1 5.5-5 5.5 1 5.5 2 5.5 1 5.5 5 5.5 3 5.5 1 5.5 0 5.5 9 5.5-2 5.5 5 5.5 6 5.5 1 5.5 7 5.5 0"/><path d="M330 193l5.5-8 5.5-4 5.5-8 5.5-6 5.5 2 5.5-9 5.5-5 5.5-3 5.5-6 5.5-3 5.5-9 5.5-4 5.5-5 5.5-3 5.5-8 5.5-4 5.5-4 5.5-7 5.5 0 5.5-3 5.5-5 5.5 1 5.5 2 5.5-10 5.5 1 5.5-5 5.5 1 5.5 3 5.5-2"/></g><g id="bR"><path d="M0 85l5.5 0 5.5 1 5.5-5 5.5 4 5.5-3 5.5 1 5.5 2 5.5-3 5.5-3 5.5-1 5.5 3 5.5-4 5.5-1 5.5-1 5.5 0 5.5 4 5.5-6 5.5-2 5.5-7 5.5-2 5.5 0 5.5-3 5.5-3 5.5 1 5.5-4 5.5 0 5.5-9 5.5 1 5.5-1 5.5-3"/><path d="M0 92l5.5-1 5.5 4 5.5 0 5.5-6 5.5-1 5.5-2 5.5-3 5.5-5 5.5-1 5.5-4 5.5-3 5.5 4 5.5-4 5.5-2 5.5-2 5.5-4 5.5-2 5.5-2 5.5 4 5.5-13 5.5 4 5.5 1 5.5-4 5.5 0 5.5-8 5.5-1 5.5 1 5.5 1 5.5-3 5.5 0"/><path d="M0 93l5.5 1 5.5-6 5.5 1 5.5 0 5.5 0 5.5-3 5.5-1 5.5-2 5.5 1 5.5 0 5.5-4 5.5 2 5.5-2 5.5 5 5.5-7 5.5 3 5.5-4 5.5 3 5.5-6 5.5-4 5.5 0 5.5-9 5.5 3 5.5-4 5.5-5 5.5 1 5.5-5 5.5 3 5.5-7 5.5-4"/><path d="M0 96l5.5-3 5.5 5 5.5-5 5.5 3 5.5-6 5.5 1 5.5 1 5.5-6 5.5-5 5.5 0 5.5-2 5.5 5 5.5-7 5.5 0 5.5 3 5.5-4 5.5-2 5.5-2 5.5-2 5.5 0 5.5-7 5.5-5 5.5 0 5.5 2 5.5-6 5.5 4 5.5-11 5.5 1 5.5-4 5.5-5"/><path d="M0 90l5.5 1 5.5-4 5.5 0 5.5 4 5.5-1 5.5-5 5.5-3 5.5 1 5.5-2 5.5 0 5.5-7 5.5-3 5.5 0 5.5-4 5.5-3 5.5-4 5.5 3 5.5-6 5.5-10 5.5 0 5.5 0 5.5-4 5.5-4 5.5 3 5.5-2 5.5-4 5.5 0 5.5-6 5.5 3 5.5-3"/><path d="M0 89l5.5 4 5.5 6 5.5-3 5.5 1 5.5-6 5.5-3 5.5 4 5.5-4 5.5-2 5.5 7 5.5-9 5.5 2 5.5-2 5.5-1 5.5-4 5.5-5 5.5-6 5.5-1 5.5-1 5.5-8 5.5 0 5.5-3 5.5-3 5.5-3 5.5-4 5.5-3 5.5-8 5.5 4 5.5-4 5.5-1"/><path d="M0 94l5.5 1 5.5-6 5.5 5 5.5-7 5.5 3 5.5 3 5.5-7 5.5-3 5.5-1 5.5-3 5.5-4 5.5-3 5.5 0 5.5-2 5.5-9 5.5 2 5.5-2 5.5-3 5.5-5 5.5-1 5.5-6 5.5 3 5.5-4 5.5 0 5.5-5 5.5 1 5.5-5 5.5 4 5.5 0 5.5-5"/><path d="M0 83l5.5-1 5.5-3 5.5 5 5.5-3 5.5-2 5.5-3 5.5 3 5.5 2 5.5-3 5.5-5 5.5 2 5.5 1 5.5-5 5.5 3 5.5 0 5.5-2 5.5-5 5.5-5 5.5 1 5.5-5 5.5 1 5.5-3 5.5 0 5.5-1 5.5-2 5.5 1 5.5-6 5.5 4 5.5-5 5.5-2"/><path d="M0 94l5.5 2 5.5-4 5.5-2 5.5 4 5.5-4 5.5-2 5.5 3 5.5 1 5.5 0 5.5-2 5.5-2 5.5 2 5.5-5 5.5 0 5.5 1 5.5-5 5.5-9 5.5 5 5.5-6 5.5-7 5.5-4 5.5-1 5.5-8 5.5-3 5.5-2 5.5-3 5.5-5 5.5 0 5.5-6 5.5-2"/><path d="M0 83l5.5 3 5.5 0 5.5-2 5.5 2 5.5-6 5.5 0 5.5 3 5.5-5 5.5 2 5.5-4 5.5 1 5.5-2 5.5 1 5.5 1 5.5-3 5.5-8 5.5-1 5.5-1 5.5-3 5.5-9 5.5-3 5.5 5 5.5-8 5.5-2 5.5 3 5.5-3 5.5-3 5.5 0 5.5-2 5.5 2"/><path d="M0 95l5.5 0 5.5-7 5.5-1 5.5 0 5.5 0 5.5 0 5.5-4 5.5-3 5.5 6 5.5-4 5.5-4 5.5-1 5.5 3 5.5-5 5.5-3 5.5-5 5.5-3 5.5 2 5.5-3 5.5-7 5.5-1 5.5-7 5.5 0 5.5-5 5.5-1 5.5 5 5.5-9 5.5-7 5.5 4 5.5-2"/><path d="M0 94l5.5-7 5.5 1 5.5 2 5.5 0 5.5 1 5.5-4 5.5 7 5.5-3 5.5-2 5.5-2 5.5-2 5.5-3 5.5 2 5.5-3 5.5 0 5.5-5 5.5-4 5.5-2 5.5-2 5.5-4 5.5 4 5.5-8 5.5 2 5.5-3 5.5-3 5.5 1 5.5-6 5.5 6 5.5-5 5.5-1"/><path d="M0 92l5.5 2 5.5 1 5.5 1 5.5-4 5.5-1 5.5 1 5.5-1 5.5-4 5.5-1 5.5 1 5.5-1 5.5-6 5.5-3 5.5-1 5.5-2 5.5 1 5.5-8 5.5-4 5.5 1 5.5-10 5.5-2 5.5-4 5.5 1 5.5-7 5.5 1 5.5-2 5.5-6 5.5 1 5.5 2 5.5-1"/><path d="M0 90l5.5-4 5.5 5 5.5-2 5.5 3 5.5-2 5.5-1 5.5 2 5.5-5 5.5 1 5.5-2 5.5 0 5.5-6 5.5 1 5.5 0 5.5-2 5.5 1 5.5-6 5.5-1 5.5-7 5.5-1 5.5 0 5.5 1 5.5-6 5.5-1 5.5-2 5.5 2 5.5-6 5.5 2 5.5-4 5.5 1"/><path d="M0 86l5.5 1 5.5 3 5.5-3 5.5 1 5.5 0 5.5-3 5.5-2 5.5 3 5.5-6 5.5-2 5.5 2 5.5-1 5.5-7 5.5 6 5.5-1 5.5-5 5.5 1 5.5-8 5.5 3 5.5-6 5.5-1 5.5-4 5.5-1 5.5 3 5.5-3 5.5 4 5.5-5 5.5 3 5.5-3 5.5-6"/><path d="M0 92l5.5-3 5.5 3 5.5-2 5.5 0 5.5 1 5.5-8 5.5 5 5.5-1 5.5-4 5.5 0 5.5-4 5.5-4 5.5-5 5.5 10 5.5-6 5.5-3 5.5-1 5.5-6 5.5-6 5.5-1 5.5 3 5.5-4 5.5-2 5.5 0 5.5-6 5.5-1 5.5 0 5.5-2 5.5 0 5.5-5"/><path d="M0 96l5.5-1 5.5-2 5.5-3 5.5 1 5.5 2 5.5-7 5.5 0 5.5 0 5.5-5 5.5-2 5.5-1 5.5-1 5.5-1 5.5-4 5.5 1 5.5-5 5.5-1 5.5-4 5.5 0 5.5-3 5.5-7 5.5 1 5.5-2 5.5-8 5.5 7 5.5-8 5.5-3 5.5 1 5.5-10 5.5-1"/><path d="M0 94l5.5-3 5.5-2 5.5-4 5.5 3 5.5-2 5.5 1 5.5 2 5.5 0 5.5 1 5.5-4 5.5-1 5.5-3 5.5-3 5.5-1 5.5 2 5.5-7 5.5-1 5.5-1 5.5-8 5.5 3 5.5-3 5.5 0 5.5-3 5.5-2 5.5-8 5.5 1 5.5-4 5.5 0 5.5-4 5.5-3"/><path d="M0 93l5.5-4 5.5 5 5.5-6 5.5-6 5.5 6 5.5 0 5.5-5 5.5 1 5.5-3 5.5-2 5.5 2 5.5-1 5.5-2 5.5 0 5.5-2 5.5-4 5.5 0 5.5-5 5.5-5 5.5-1 5.5-4 5.5-1 5.5-4 5.5 0 5.5-1 5.5-2 5.5-1 5.5-9 5.5 6 5.5-5"/><path d="M0 82l5.5-1 5.5-4 5.5 3 5.5-4 5.5-1 5.5-1 5.5 0 5.5-1 5.5-3 5.5-4 5.5-2 5.5 1 5.5-3 5.5-2 5.5 0 5.5 0 5.5-7 5.5 3 5.5-6 5.5-1 5.5-4 5.5 0 5.5 0 5.5 0 5.5-7 5.5 3 5.5-1 5.5-1 5.5-3 5.5-3"/><path d="M0 96l5.5 0 5.5 3 5.5-1 5.5-1 5.5-3 5.5 0 5.5 1 5.5-1 5.5-3 5.5-1 5.5-1 5.5-3 5.5-3 5.5 1 5.5 2 5.5-2 5.5-9 5.5-3 5.5-4 5.5-4 5.5-4 5.5 2 5.5-3 5.5-3 5.5-5 5.5 0 5.5-1 5.5-4 5.5-10 5.5 10"/><path d="M0 92l5.5 2 5.5 2 5.5-3 5.5 2 5.5-5 5.5-1 5.5-5 5.5 6 5.5-5 5.5-1 5.5-4 5.5 0 5.5-5 5.5 2 5.5-4 5.5-7 5.5-5 5.5-3 5.5-5 5.5-6 5.5 0 5.5-2 5.5-2 5.5-4 5.5-2 5.5 1 5.5-5 5.5-2 5.5-7 5.5-2"/><path d="M0 87l5.5-1 5.5-3 5.5 7 5.5-5 5.5-1 5.5-3 5.5 7 5.5-8 5.5-3 5.5 7 5.5-6 5.5 1 5.5-1 5.5-4 5.5 1 5.5-6 5.5 1 5.5-5 5.5 0 5.5-3 5.5-3 5.5 1 5.5-4 5.5-2 5.5 2 5.5 0 5.5-8 5.5 4 5.5-1 5.5-5"/><path d="M0 95l5.5-4 5.5 1 5.5-7 5.5 6 5.5-4 5.5 2 5.5-3 5.5 2 5.5-4 5.5-1 5.5-2 5.5-7 5.5 6 5.5-3 5.5-3 5.5-6 5.5-1 5.5-1 5.5-4 5.5-1 5.5 0 5.5-1 5.5-4 5.5 2 5.5-3 5.5-9 5.5 3 5.5-2 5.5 0 5.5-5"/><path d="M0 97l5.5-4 5.5 1 5.5-4 5.5-3 5.5 3 5.5-9 5.5 2 5.5-3 5.5-2 5.5-5 5.5-1 5.5-2 5.5-6 5.5 0 5.5-2 5.5-1 5.5-8 5.5-3 5.5 2 5.5-9 5.5 0 5.5-4 5.5 0 5.5-5 5.5-5 5.5 2 5.5-7 5.5-4 5.5 2 5.5-7"/><path d="M0 88l5.5-4 5.5 2 5.5 1 5.5 3 5.5-3 5.5 2 5.5 1 5.5-5 5.5-1 5.5-7 5.5 2 5.5 6 5.5-8 5.5 8 5.5-10 5.5 4 5.5-5 5.5-2 5.5-1 5.5-5 5.5-5 5.5 2 5.5-1 5.5-7 5.5-1 5.5-1 5.5-5 5.5-5 5.5-1 5.5-5"/><path d="M0 84l5.5 7 5.5-4 5.5 2 5.5-5 5.5 0 5.5 1 5.5-3 5.5-1 5.5-2 5.5-1 5.5-4 5.5 2 5.5-1 5.5 1 5.5-1 5.5-5 5.5-1 5.5-2 5.5-3 5.5 2 5.5-6 5.5 2 5.5-4 5.5 1 5.5-2 5.5 3 5.5-2 5.5-5 5.5 2 5.5-7"/><path d="M0 102l5.5-5 5.5-4 5.5 6 5.5-6 5.5-3 5.5 5 5.5-2 5.5-5 5.5 2 5.5 1 5.5-5 5.5-2 5.5-7 5.5 3 5.5-3 5.5-4 5.5 1 5.5-4 5.5-6 5.5 3 5.5-7 5.5 1 5.5-2 5.5-5 5.5 3 5.5-6 5.5 1 5.5-3 5.5-4 5.5-5"/><path d="M0 91l5.5 1 5.5 0 5.5 1 5.5-3 5.5 0 5.5 2 5.5-2 5.5-2 5.5-2 5.5-3 5.5 0 5.5-2 5.5-4 5.5-5 5.5 3 5.5-8 5.5 2 5.5-8 5.5-1 5.5-6 5.5-1 5.5-4 5.5 0 5.5-5 5.5 0 5.5-2 5.5-9 5.5-3 5.5-1 5.5-5"/><path d="M0 82l5.5 5 5.5-1 5.5 3 5.5-3 5.5-2 5.5-2 5.5 5 5.5-5 5.5-2 5.5 3 5.5-2 5.5 2 5.5-2 5.5-4 5.5 0 5.5-5 5.5-3 5.5-1 5.5-4 5.5 1 5.5-5 5.5-5 5.5 2 5.5-3 5.5-4 5.5-3 5.5 0 5.5-5 5.5 0 5.5-5"/><path d="M0 87l5.5 4 5.5-2 5.5-1 5.5-3 5.5 2 5.5-2 5.5 2 5.5-3 5.5-3 5.5-1 5.5-5 5.5 2 5.5 4 5.5-3 5.5-4 5.5 0 5.5-4 5.5-5 5.5 1 5.5-6 5.5 2 5.5-2 5.5-3 5.5-3 5.5-1 5.5 1 5.5-8 5.5-1 5.5 3 5.5-10"/><path d="M0 94l5.5-5 5.5 2 5.5 0 5.5 1 5.5-2 5.5-1 5.5 3 5.5-4 5.5-6 5.5-1 5.5 5 5.5-8 5.5 3 5.5-4 5.5 1 5.5-6 5.5-3 5.5-1 5.5-3 5.5-3 5.5-3 5.5-5 5.5 0 5.5 0 5.5-5 5.5 3 5.5-12 5.5-1 5.5 4 5.5-1"/><path d="M0 83l5.5 3 5.5-1 5.5 0 5.5-2 5.5 2 5.5-1 5.5 3 5.5-5 5.5 2 5.5-2 5.5 0 5.5-2 5.5 0 5.5-1 5.5 4 5.5-2 5.5-6 5.5 2 5.5-4 5.5-2 5.5 1 5.5-4 5.5-1 5.5-7 5.5-1 5.5 1 5.5 1 5.5-1 5.5-6 5.5-3"/><path d="M0 92l5.5-4 5.5 3 5.5 1 5.5 2 5.5-3 5.5-1 5.5-4 5.5-2 5.5 0 5.5 0 5.5-1 5.5-8 5.5 1 5.5-5 5.5-2 5.5-5 5.5 4 5.5-10 5.5 0 5.5-3 5.5-3 5.5 1 5.5-4 5.5-3 5.5-8 5.5 1 5.5-1 5.5-7 5.5-2 5.5-4"/><path d="M0 83l5.5-1 5.5 2 5.5 1 5.5-4 5.5 2 5.5-4 5.5 2 5.5-1 5.5-6 5.5 1 5.5 5 5.5 0 5.5-7 5.5-1 5.5 1 5.5-1 5.5 0 5.5-6 5.5-6 5.5 0 5.5 2 5.5-5 5.5 3 5.5-5 5.5-1 5.5-1 5.5-5 5.5 1 5.5-2 5.5-1"/><path d="M0 92l5.5 5 5.5-5 5.5 0 5.5-1 5.5 0 5.5-1 5.5 1 5.5-1 5.5 1 5.5-2 5.5-2 5.5-1 5.5 0 5.5 1 5.5-7 5.5 3 5.5-9 5.5 5 5.5-12 5.5 7 5.5-7 5.5 2 5.5-1 5.5-6 5.5 0 5.5-1 5.5 0 5.5-5 5.5 0 5.5-6"/><path d="M0 89l5.5 4 5.5-1 5.5 3 5.5-1 5.5-3 5.5 1 5.5-2 5.5-3 5.5-4 5.5 1 5.5 1 5.5-4 5.5 1 5.5-8 5.5 3 5.5-6 5.5-7 5.5-5 5.5-2 5.5-3 5.5-3 5.5-6 5.5 1 5.5-6 5.5-2 5.5 4 5.5-9 5.5-4 5.5 1 5.5-4"/><path d="M0 95l5.5-8 5.5 4 5.5 1 5.5 0 5.5-1 5.5-1 5.5-1 5.5-4 5.5 1 5.5 3 5.5-8 5.5 5 5.5-1 5.5-3 5.5-2 5.5-3 5.5-7 5.5 1 5.5-4 5.5-5 5.5 1 5.5-5 5.5-1 5.5-5 5.5-5 5.5 2 5.5-1 5.5-8 5.5-2 5.5 2"/><path d="M0 90l5.5 2 5.5-2 5.5-2 5.5 1 5.5-3 5.5 0 5.5-3 5.5-2 5.5 3 5.5-1 5.5-6 5.5 1 5.5 4 5.5-7 5.5 2 5.5-5 5.5 1 5.5-4 5.5-7 5.5-2 5.5 3 5.5-5 5.5 4 5.5-5 5.5-4 5.5-2 5.5-5 5.5 0 5.5 4 5.5-6"/><path d="M0 94l5.5 2 5.5 0 5.5 2 5.5-2 5.5 3 5.5 0 5.5-5 5.5-2 5.5-2 5.5-3 5.5 0 5.5 3 5.5-6 5.5-2 5.5-3 5.5-5 5.5-4 5.5-5 5.5 0 5.5-7 5.5-6 5.5 1 5.5-4 5.5 4 5.5-5 5.5-1 5.5-5 5.5-1 5.5 0 5.5-4"/><path d="M0 89l5.5 0 5.5-1 5.5-1 5.5-2 5.5 1 5.5-1 5.5 1 5.5-3 5.5-8 5.5 5 5.5-2 5.5-2 5.5 1 5.5-4 5.5-5 5.5-1 5.5-2 5.5-7 5.5-6 5.5 0 5.5-2 5.5-5 5.5 2 5.5-7 5.5 0 5.5-4 5.5-6 5.5 1 5.5-1 5.5-8"/><path d="M0 92l5.5 1 5.5-1 5.5 0 5.5-7 5.5 0 5.5 4 5.5 1 5.5-6 5.5 0 5.5 0 5.5-2 5.5-2 5.5-3 5.5-1 5.5-2 5.5-4 5.5-1 5.5 1 5.5-2 5.5-11 5.5-2 5.5-1 5.5 2 5.5-4 5.5-2 5.5-2 5.5-1 5.5-4 5.5-3 5.5-2"/><path d="M0 95l5.5-2 5.5 1 5.5 0 5.5 1 5.5 1 5.5-3 5.5-1 5.5-2 5.5-1 5.5-2 5.5-3 5.5 6 5.5-6 5.5-1 5.5 3 5.5-8 5.5-6 5.5 0 5.5-6 5.5-3 5.5-5 5.5 0 5.5-6 5.5-5 5.5 0 5.5 0 5.5-10 5.5-1 5.5-2 5.5-3"/><path d="M0 81l5.5 1 5.5 2 5.5-2 5.5 0 5.5-4 5.5 4 5.5 2 5.5-2 5.5-4 5.5-1 5.5-4 5.5 6 5.5-1 5.5 2 5.5 0 5.5-3 5.5-4 5.5 1 5.5-5 5.5 3 5.5-2 5.5-2 5.5 1 5.5-6 5.5 1 5.5-1 5.5-2 5.5 2 5.5-2 5.5-3"/><path d="M0 89l5.5-4 5.5 5 5.5-3 5.5-2 5.5-1 5.5 1 5.5-2 5.5 1 5.5-5 5.5 1 5.5 3 5.5-8 5.5-2 5.5 0 5.5 0 5.5 3 5.5-7 5.5-2 5.5-4 5.5 0 5.5-5 5.5 0 5.5 1 5.5-3 5.5-4 5.5 3 5.5-3 5.5-3 5.5-4 5.5 1"/><path d="M0 90l5.5 4 5.5 1 5.5-1 5.5 1 5.5-2 5.5-3 5.5-2 5.5 0 5.5-4 5.5 0 5.5-4 5.5 0 5.5 2 5.5-7 5.5-1 5.5-1 5.5-4 5.5-5 5.5-1 5.5-2 5.5-4 5.5-2 5.5 0 5.5-4 5.5-3 5.5 2 5.5-3 5.5-1 5.5-2 5.5-2"/><path d="M0 106l5.5-5 5.5 3 5.5 0 5.5-5 5.5 3 5.5-2 5.5-3 5.5-4 5.5-4 5.5 2 5.5-2 5.5-2 5.5-6 5.5-3 5.5-2 5.5-4 5.5 1 5.5-3 5.5-10 5.5-2 5.5-6 5.5 0 5.5 0 5.5-3 5.5-7 5.5 4 5.5-6 5.5-2 5.5-6 5.5 1"/><path d="M0 99l5.5-7 5.5 3 5.5 0 5.5-5 5.5 4 5.5-3 5.5 2 5.5-2 5.5-4 5.5-2 5.5 3 5.5-3 5.5-4 5.5 0 5.5-7 5.5-1 5.5-10 5.5 1 5.5-5 5.5-9 5.5 0 5.5-5 5.5-3 5.5-3 5.5-2 5.5-1 5.5-3 5.5 1 5.5-7 5.5-4"/><path d="M0 87l5.5 1 5.5 1 5.5-7 5.5 4 5.5-2 5.5 0 5.5 0 5.5 0 5.5-4 5.5 1 5.5-4 5.5-2 5.5 0 5.5 0 5.5-2 5.5 0 5.5-1 5.5 1 5.5-6 5.5-6 5.5-2 5.5 2 5.5-2 5.5 1 5.5-4 5.5 4 5.5-9 5.5-2 5.5-3 5.5 2"/><path d="M0 98l5.5-1 5.5 3 5.5-7 5.5-4 5.5-1 5.5-5 5.5 2 5.5-4 5.5-6 5.5-1 5.5 5 5.5 0 5.5-3 5.5-6 5.5-2 5.5-4 5.5 0 5.5-7 5.5-3 5.5-3 5.5-3 5.5-1 5.5-4 5.5-4 5.5 2 5.5 0 5.5-7 5.5 4 5.5-4 5.5 1"/><path d="M0 99l5.5-4 5.5-1 5.5 4 5.5-8 5.5 5 5.5-5 5.5 2 5.5-3 5.5 0 5.5 0 5.5-1 5.5-7 5.5 0 5.5-2 5.5-3 5.5-1 5.5-5 5.5 1 5.5-4 5.5-6 5.5-3 5.5 3 5.5-3 5.5-3 5.5 0 5.5 0 5.5-8 5.5 1 5.5-4 5.5 2"/><path d="M0 88l5.5 2 5.5 1 5.5-8 5.5-2 5.5 0 5.5-1 5.5 0 5.5 0 5.5-2 5.5-4 5.5-2 5.5 3 5.5-7 5.5-2 5.5 0 5.5-5 5.5-4 5.5-6 5.5 3 5.5-7 5.5 0 5.5 0 5.5-5 5.5 0 5.5-2 5.5-1 5.5 1 5.5-3 5.5-4 5.5-3"/><path d="M0 94l5.5 1 5.5 0 5.5 2 5.5-8 5.5 0 5.5 2 5.5-1 5.5-5 5.5 3 5.5-10 5.5-3 5.5 6 5.5-3 5.5-4 5.5-6 5.5-3 5.5-1 5.5-2 5.5-2 5.5-2 5.5 1 5.5-3 5.5-2 5.5-2 5.5 2 5.5-3 5.5-4 5.5 3 5.5 1 5.5-2"/><path d="M0 85l5.5 0 5.5-1 5.5 0 5.5-2 5.5-1 5.5 1 5.5-4 5.5 3 5.5-4 5.5-3 5.5 2 5.5-1 5.5 0 5.5-1 5.5-2 5.5-3 5.5-3 5.5 4 5.5-11 5.5 9 5.5-8 5.5 1 5.5-7 5.5 4 5.5-2 5.5-2 5.5-8 5.5 7 5.5-7 5.5-1"/><path d="M0 92l5.5 1 5.5-1 5.5 3 5.5-6 5.5 1 5.5 0 5.5 0 5.5-2 5.5-6 5.5 2 5.5-6 5.5-3 5.5-2 5.5 3 5.5-4 5.5-4 5.5 0 5.5-5 5.5-7 5.5 2 5.5-6 5.5 0 5.5-6 5.5 5 5.5-5 5.5-2 5.5-4 5.5 1 5.5-5 5.5-7"/><path d="M0 86l5.5-4 5.5-1 5.5 4 5.5-9 5.5 6 5.5 0 5.5-3 5.5-4 5.5 0 5.5 0 5.5-4 5.5-1 5.5-2 5.5-2 5.5-4 5.5 2 5.5-2 5.5-2 5.5-3 5.5-8 5.5-2 5.5-1 5.5 2 5.5-7 5.5-1 5.5-2 5.5-6 5.5-3 5.5 0 5.5 0"/><path d="M0 81l5.5 3 5.5-2 5.5 6 5.5-1 5.5-5 5.5 3 5.5-2 5.5 0 5.5-5 5.5 1 5.5-1 5.5-3 5.5 5 5.5 4 5.5-8 5.5-1 5.5-1 5.5 1 5.5-4 5.5 0 5.5-1 5.5-2 5.5 2 5.5-3 5.5-3 5.5-1 5.5-4 5.5-2 5.5 2 5.5-4"/><path d="M0 85l5.5-1 5.5-1 5.5 5 5.5-2 5.5-4 5.5 0 5.5-3 5.5-3 5.5 0 5.5 1 5.5-4 5.5-2 5.5-1 5.5 1 5.5 2 5.5-7 5.5-1 5.5-7 5.5 2 5.5-4 5.5-5 5.5 0 5.5 0 5.5-1 5.5-5 5.5-2 5.5-3 5.5 5 5.5-5 5.5 1"/><path d="M0 84l5.5-3 5.5 0 5.5 2 5.5-1 5.5 2 5.5-2 5.5-5 5.5 4 5.5-2 5.5 1 5.5 0 5.5-2 5.5-4 5.5-1 5.5 0 5.5-7 5.5 9 5.5-6 5.5-3 5.5-1 5.5 3 5.5 0 5.5-4 5.5-2 5.5-2 5.5 3 5.5-4 5.5 2 5.5-5 5.5-4"/><path d="M0 85l5.5 4 5.5-5 5.5 0 5.5 0 5.5 0 5.5-5 5.5-3 5.5 5 5.5-4 5.5-1 5.5-1 5.5-2 5.5-1 5.5-2 5.5-1 5.5-2 5.5 0 5.5-2 5.5-3 5.5-7 5.5 0 5.5-1 5.5-7 5.5 0 5.5 5 5.5-9 5.5 0 5.5 4 5.5-6 5.5-1"/><path d="M0 87l5.5 4 5.5-1 5.5-1 5.5 0 5.5-2 5.5 3 5.5-2 5.5-1 5.5-2 5.5 2 5.5 6 5.5-6 5.5-4 5.5 0 5.5 1 5.5 0 5.5-4 5.5-2 5.5-3 5.5-1 5.5-2 5.5-5 5.5 0 5.5-3 5.5 1 5.5-2 5.5-4 5.5-5 5.5-3 5.5-1"/><path d="M0 91l5.5 5 5.5 2 5.5-3 5.5-4 5.5 1 5.5 0 5.5 3 5.5-8 5.5-3 5.5 1 5.5-2 5.5-2 5.5-6 5.5-1 5.5-3 5.5-1 5.5-8 5.5-1 5.5-6 5.5-4 5.5-3 5.5-1 5.5-3 5.5-8 5.5 0 5.5 4 5.5-1 5.5-10 5.5 0 5.5-1"/><path d="M0 94l5.5-1 5.5-3 5.5 3 5.5-1 5.5-8 5.5 8 5.5-3 5.5-2 5.5-1 5.5-4 5.5 2 5.5 0 5.5 1 5.5-9 5.5 1 5.5-4 5.5 1 5.5-11 5.5-2 5.5-1 5.5-5 5.5-8 5.5-1 5.5-4 5.5 1 5.5 2 5.5-6 5.5-3 5.5 0 5.5-4"/><path d="M0 94l5.5-2 5.5 0 5.5-1 5.5-2 5.5-4 5.5-1 5.5 2 5.5-3 5.5 5 5.5-1 5.5-9 5.5-3 5.5 2 5.5-4 5.5-3 5.5-2 5.5-3 5.5-4 5.5-5 5.5-2 5.5-2 5.5-5 5.5 0 5.5-6 5.5-2 5.5 1 5.5-7 5.5 0 5.5-4 5.5-3"/><path d="M0 88l5.5-1 5.5-2 5.5-5 5.5 5 5.5 0 5.5-6 5.5 4 5.5-4 5.5-6 5.5 1 5.5 1 5.5-1 5.5 1 5.5-5 5.5-1 5.5-1 5.5 1 5.5-5 5.5-5 5.5 1 5.5-1 5.5-1 5.5-5 5.5 0 5.5 0 5.5-6 5.5-3 5.5-1 5.5 0 5.5 0"/><path d="M0 82l5.5 0 5.5 2 5.5-5 5.5-1 5.5 0 5.5-3 5.5-3 5.5 0 5.5 2 5.5-1 5.5-1 5.5-4 5.5-6 5.5 6 5.5-5 5.5 1 5.5-4 5.5-3 5.5-6 5.5 0 5.5-2 5.5-3 5.5 1 5.5-12 5.5 7 5.5-1 5.5-3 5.5-7 5.5 3 5.5-5"/><path d="M0 85l5.5-2 5.5 0 5.5 0 5.5 5 5.5-7 5.5-1 5.5 2 5.5-4 5.5 7 5.5-9 5.5-1 5.5-1 5.5 2 5.5 0 5.5-2 5.5 4 5.5-9 5.5-2 5.5 2 5.5-5 5.5 1 5.5-1 5.5-4 5.5-6 5.5-1 5.5 3 5.5-2 5.5-2 5.5-2 5.5-3"/><path d="M0 90l5.5-2 5.5 4 5.5-5 5.5-1 5.5-3 5.5 3 5.5-4 5.5-1 5.5-3 5.5 0 5.5-6 5.5 3 5.5-1 5.5-2 5.5 0 5.5-3 5.5-2 5.5-4 5.5-2 5.5 0 5.5-7 5.5-3 5.5 1 5.5 0 5.5 0 5.5 0 5.5-5 5.5-3 5.5 4 5.5-4"/><path d="M0 81l5.5 2 5.5-3 5.5 2 5.5-2 5.5 2 5.5-1 5.5 0 5.5-4 5.5-6 5.5 3 5.5-4 5.5 2 5.5-4 5.5-4 5.5-1 5.5 2 5.5-4 5.5 1 5.5-4 5.5-7 5.5 3 5.5-7 5.5-1 5.5 2 5.5-8 5.5 3 5.5-6 5.5-1 5.5-3 5.5 1"/><path d="M0 100l5.5-5 5.5 2 5.5-1 5.5-4 5.5 1 5.5 1 5.5 1 5.5-2 5.5-5 5.5-1 5.5-1 5.5-3 5.5-3 5.5 1 5.5-4 5.5-2 5.5-5 5.5-2 5.5-5 5.5-1 5.5-6 5.5 4 5.5-5 5.5-4 5.5-2 5.5 1 5.5-5 5.5-2 5.5-4 5.5 0"/><path d="M0 98l5.5 5 5.5 0 5.5 1 5.5-4 5.5-2 5.5 0 5.5-1 5.5-1 5.5-8 5.5-3 5.5-1 5.5 2 5.5-6 5.5-2 5.5-6 5.5 0 5.5-2 5.5-3 5.5-9 5.5-1 5.5-6 5.5 0 5.5-6 5.5-3 5.5-4 5.5-6 5.5-3 5.5-2 5.5-3 5.5-3"/><path d="M0 92l5.5 2 5.5 3 5.5-3 5.5 0 5.5 0 5.5-5 5.5 0 5.5-2 5.5 2 5.5-6 5.5-2 5.5-1 5.5-3 5.5-1 5.5-2 5.5-3 5.5-5 5.5-6 5.5 3 5.5-9 5.5-3 5.5-2 5.5-2 5.5-5 5.5 2 5.5-1 5.5-5 5.5-2 5.5 1 5.5-4"/><path d="M0 97l5.5-7 5.5 4 5.5 3 5.5-6 5.5-1 5.5-3 5.5-4 5.5 2 5.5-3 5.5-4 5.5-4 5.5-4 5.5-3 5.5-6 5.5 1 5.5-5 5.5-7 5.5 1 5.5-6 5.5-4 5.5-4 5.5-4 5.5-5 5.5-2 5.5 1 5.5-7 5.5 0 5.5 2 5.5-5 5.5-3"/><path d="M0 93l5.5 2 5.5 1 5.5 0 5.5-1 5.5-6 5.5 2 5.5 2 5.5-7 5.5-5 5.5-7 5.5 6 5.5-6 5.5-2 5.5 0 5.5-3 5.5-6 5.5-1 5.5-4 5.5 1 5.5-3 5.5-7 5.5-3 5.5-1 5.5 3 5.5-4 5.5 1 5.5-3 5.5 0 5.5-2 5.5-3"/><path d="M0 85l5.5 0 5.5-2 5.5 5 5.5-3 5.5-4 5.5 4 5.5 1 5.5 0 5.5-6 5.5 2 5.5 2 5.5 0 5.5-1 5.5-5 5.5 2 5.5-3 5.5 1 5.5-5 5.5 1 5.5-8 5.5 5 5.5-1 5.5-3 5.5-3 5.5 0 5.5-3 5.5-4 5.5 4 5.5-10 5.5 3"/><path d="M0 89l5.5 0 5.5-7 5.5 2 5.5-2 5.5 4 5.5-3 5.5 2 5.5-5 5.5-2 5.5-5 5.5 5 5.5 4 5.5-2 5.5-2 5.5-1 5.5-2 5.5-1 5.5 1 5.5-9 5.5 2 5.5 0 5.5-5 5.5 1 5.5-7 5.5 5 5.5 0 5.5 0 5.5-4 5.5-2 5.5 0"/><path d="M0 100l5.5-3 5.5 2 5.5-4 5.5 2 5.5-2 5.5-1 5.5-3 5.5 6 5.5-5 5.5-1 5.5-4 5.5 0 5.5-1 5.5 0 5.5-3 5.5 0 5.5-6 5.5-1 5.5-1 5.5 1 5.5-9 5.5 0 5.5-2 5.5-4 5.5-4 5.5-1 5.5-1 5.5-2 5.5-7 5.5 0"/><path d="M0 100l5.5 5 5.5 1 5.5-4 5.5-4 5.5 3 5.5-5 5.5-1 5.5-4 5.5-3 5.5 4 5.5-6 5.5-1 5.5-1 5.5-1 5.5-4 5.5 4 5.5-8 5.5 2 5.5-11 5.5-4 5.5-5 5.5 4 5.5-5 5.5-1 5.5-5 5.5-3 5.5 1 5.5-1 5.5-9 5.5-1"/><path d="M0 85l5.5-4 5.5 2 5.5 0 5.5 2 5.5-1 5.5-5 5.5 5 5.5-1 5.5 1 5.5-5 5.5-4 5.5 0 5.5-1 5.5 0 5.5 0 5.5-2 5.5-4 5.5 2 5.5-6 5.5-1 5.5-3 5.5 3 5.5 1 5.5-4 5.5-1 5.5 2 5.5-6 5.5-2 5.5 1 5.5 0"/><path d="M0 90l5.5-5 5.5 4 5.5 1 5.5-2 5.5-3 5.5-6 5.5 6 5.5-4 5.5-3 5.5-7 5.5 3 5.5-1 5.5-3 5.5-2 5.5-3 5.5-2 5.5-7 5.5 2 5.5-6 5.5-2 5.5-3 5.5-1 5.5-6 5.5 5 5.5-6 5.5 3 5.5-8 5.5-4 5.5-2 5.5 0"/><path d="M0 95l5.5-2 5.5 0 5.5 2 5.5 2 5.5-7 5.5 2 5.5-3 5.5-4 5.5-8 5.5 0 5.5 2 5.5-3 5.5-4 5.5-3 5.5 6 5.5-6 5.5 2 5.5-4 5.5-8 5.5-5 5.5 4 5.5-3 5.5-2 5.5 2 5.5-8 5.5 1 5.5-3 5.5-3 5.5 1 5.5 2"/><path d="M0 98l5.5-6 5.5 4 5.5-2 5.5-3 5.5 0 5.5 1 5.5-3 5.5 3 5.5-4 5.5-2 5.5-3 5.5-2 5.5 2 5.5-3 5.5-1 5.5-2 5.5-4 5.5-8 5.5-2 5.5-2 5.5-4 5.5-5 5.5 0 5.5-6 5.5 1 5.5-6 5.5-5 5.5-2 5.5-1 5.5-6"/><path d="M0 89l5.5-8 5.5 1 5.5 1 5.5-3 5.5 2 5.5-6 5.5 4 5.5-5 5.5 1 5.5 1 5.5-2 5.5 4 5.5-3 5.5-5 5.5-1 5.5-1 5.5-5 5.5-1 5.5-5 5.5-5 5.5-8 5.5 4 5.5-1 5.5-4 5.5-1 5.5 1 5.5-6 5.5 4 5.5-8 5.5 3"/><path d="M0 83l5.5 0 5.5-5 5.5 5 5.5-7 5.5 6 5.5-1 5.5 1 5.5-4 5.5 4 5.5-9 5.5 1 5.5 4 5.5-5 5.5 4 5.5-6 5.5-5 5.5-4 5.5 1 5.5-2 5.5-3 5.5-5 5.5 6 5.5-2 5.5-5 5.5 2 5.5 1 5.5-4 5.5-6 5.5 5 5.5-2"/><path d="M0 90l5.5 2 5.5 0 5.5 1 5.5-3 5.5-2 5.5 4 5.5-2 5.5-2 5.5-5 5.5 0 5.5-2 5.5-4 5.5 1 5.5-2 5.5 4 5.5-9 5.5-1 5.5 4 5.5-2 5.5-7 5.5-1 5.5 3 5.5-6 5.5 3 5.5-8 5.5 5 5.5-7 5.5 2 5.5-2 5.5 1"/><path d="M0 89l5.5-8 5.5 2 5.5 3 5.5-2 5.5-3 5.5-1 5.5-1 5.5 2 5.5-4 5.5-1 5.5 3 5.5-7 5.5 0 5.5 1 5.5 4 5.5-2 5.5-11 5.5 13 5.5-14 5.5 1 5.5-3 5.5-1 5.5-3 5.5-3 5.5 1 5.5 3 5.5-2 5.5-3 5.5-1 5.5-1"/><path d="M0 97l5.5-6 5.5 0 5.5 1 5.5 1 5.5-2 5.5-4 5.5-2 5.5 2 5.5 0 5.5-3 5.5 2 5.5-6 5.5 2 5.5-3 5.5-3 5.5-2 5.5-3 5.5 0 5.5-4 5.5-1 5.5 0 5.5-3 5.5 0 5.5-2 5.5-5 5.5 4 5.5 0 5.5-12 5.5 2 5.5 0"/><path d="M0 96l5.5-1 5.5-4 5.5 0 5.5-4 5.5 1 5.5 1 5.5-4 5.5-2 5.5-5 5.5 3 5.5-1 5.5-3 5.5 2 5.5-2 5.5-5 5.5-4 5.5 4 5.5-7 5.5-2 5.5-2 5.5-1 5.5-6 5.5 2 5.5 0 5.5-1 5.5-4 5.5-6 5.5-1 5.5-4 5.5 1"/><path d="M0 96l5.5-1 5.5-5 5.5 1 5.5 2 5.5-4 5.5 2 5.5-2 5.5-3 5.5-1 5.5-1 5.5 1 5.5-3 5.5 0 5.5-11 5.5 2 5.5-4 5.5-6 5.5-1 5.5-5 5.5-4 5.5 0 5.5-11 5.5-2 5.5-2 5.5-5 5.5 0 5.5-6 5.5-3 5.5-2 5.5-3"/><path d="M0 96l5.5 0 5.5 0 5.5 2 5.5-5 5.5 0 5.5 0 5.5 0 5.5-3 5.5 3 5.5-4 5.5-3 5.5-2 5.5 3 5.5-6 5.5 4 5.5-6 5.5 0 5.5-6 5.5-4 5.5-5 5.5-4 5.5 0 5.5 2 5.5-5 5.5-4 5.5 0 5.5-5 5.5 1 5.5 0 5.5-6"/><path d="M0 87l5.5 3 5.5 0 5.5-2 5.5 2 5.5 1 5.5-2 5.5-8 5.5 4 5.5-5 5.5 1 5.5-1 5.5-5 5.5 1 5.5 0 5.5 0 5.5-5 5.5 0 5.5 0 5.5 1 5.5-4 5.5-9 5.5-2 5.5 2 5.5 3 5.5-7 5.5-2 5.5-4 5.5-2 5.5 1 5.5 0"/><path d="M0 92l5.5-1 5.5 0 5.5 1 5.5-9 5.5 6 5.5 3 5.5-8 5.5 2 5.5 0 5.5-3 5.5 2 5.5-1 5.5-3 5.5-2 5.5 1 5.5-3 5.5-6 5.5-3 5.5-6 5.5-2 5.5-6 5.5-4 5.5-4 5.5-4 5.5-8 5.5 2 5.5-10 5.5-8 5.5 0 5.5 1"/><path d="M0 99l5.5-5 5.5-5 5.5 0 5.5 0 5.5 1 5.5-5 5.5 1 5.5-1 5.5-5 5.5 0 5.5-3 5.5-5 5.5 1 5.5-3 5.5-3 5.5-2 5.5-5 5.5-2 5.5 0 5.5-1 5.5-8 5.5 0 5.5 1 5.5-8 5.5 3 5.5 0 5.5-7 5.5 2 5.5 0 5.5-7"/><path d="M0 85l5.5 1 5.5 0 5.5 0 5.5-5 5.5 3 5.5-6 5.5 8 5.5-8 5.5-3 5.5 3 5.5-3 5.5-2 5.5-1 5.5 2 5.5-5 5.5 0 5.5-7 5.5-1 5.5-4 5.5-1 5.5-3 5.5-9 5.5 3 5.5-3 5.5 1 5.5 1 5.5-5 5.5 1 5.5-4 5.5-4"/><path d="M0 86l5.5-1 5.5 2 5.5-3 5.5-4 5.5 1 5.5 4 5.5-3 5.5-1 5.5-4 5.5-1 5.5 0 5.5-1 5.5-2 5.5 0 5.5 3 5.5-2 5.5-8 5.5 1 5.5-2 5.5 2 5.5-2 5.5-2 5.5 0 5.5-2 5.5-1 5.5 0 5.5-2 5.5 0 5.5-2 5.5 0"/><path d="M0 92l5.5-3 5.5 1 5.5 2 5.5 0 5.5-2 5.5-2 5.5 0 5.5-4 5.5-4 5.5-5 5.5 2 5.5-4 5.5 4 5.5-5 5.5 6 5.5-4 5.5-8 5.5-3 5.5-2 5.5-2 5.5-4 5.5 2 5.5-4 5.5 2 5.5-3 5.5-1 5.5-4 5.5-3 5.5 4 5.5-5"/><path d="M0 96l5.5 1 5.5-2 5.5 1 5.5-2 5.5 0 5.5 1 5.5-2 5.5 0 5.5-5 5.5-1 5.5-3 5.5-3 5.5-5 5.5 1 5.5 1 5.5-6 5.5-3 5.5-5 5.5-4 5.5 1 5.5-8 5.5 0 5.5 1 5.5-4 5.5-4 5.5-4 5.5-5 5.5 1 5.5 2 5.5-3"/><path d="M0 95l5.5 2 5.5-3 5.5-2 5.5-1 5.5-5 5.5 5 5.5-1 5.5-3 5.5 4 5.5-5 5.5-2 5.5 0 5.5-3 5.5-2 5.5 4 5.5 0 5.5-6 5.5 1 5.5-1 5.5-9 5.5 0 5.5 1 5.5-5 5.5-3 5.5 2 5.5-6 5.5 1 5.5-2 5.5 3 5.5-7"/><path d="M0 83l5.5 1 5.5-4 5.5-2 5.5-5 5.5 7 5.5 1 5.5 0 5.5-1 5.5 3 5.5-5 5.5 2 5.5 1 5.5 1 5.5-9 5.5 3 5.5-4 5.5 3 5.5-8 5.5-1 5.5 2 5.5-4 5.5-2 5.5 2 5.5-4 5.5 2 5.5 0 5.5-4 5.5-2 5.5 0 5.5-5"/><path d="M0 96l5.5-3 5.5-1 5.5 1 5.5-3 5.5 2 5.5-3 5.5-5 5.5 0 5.5 0 5.5-6 5.5-2 5.5-5 5.5 5 5.5-6 5.5 0 5.5 0 5.5-6 5.5-2 5.5-7 5.5-5 5.5-4 5.5 2 5.5-2 5.5-2 5.5 0 5.5 0 5.5-8 5.5 1 5.5 0 5.5-4"/></g><g id="bRR"><path d="M165 41l5.5-2 5.5 4 5.5-9 5.5 8 5.5-4 5.5-2 5.5-2 5.5 2 5.5-9 5.5-3 5.5 2 5.5-3 5.5 2 5.5-4 5.5 2 5.5-3 5.5 4 5.5 6 5.5 1 5.5 6 5.5 4 5.5-1 5.5 8 5.5 0 5.5 5 5.5 3 5.5 4 5.5 5 5.5 7 5.5 4"/><path d="M165 40l5.5-3 5.5 1 5.5 4 5.5-6 5.5 8 5.5-6 5.5 0 5.5-1 5.5-5 5.5 1 5.5-1 5.5-3 5.5 1 5.5 3 5.5-6 5.5 1 5.5-1 5.5 6 5.5 0 5.5-3 5.5 2 5.5 1 5.5 0 5.5 7 5.5 3 5.5-1 5.5 5 5.5 0 5.5 3 5.5 8"/><path d="M165 43l5.5 1 5.5-2 5.5-3 5.5 2 5.5 0 5.5-6 5.5-4 5.5-5 5.5-2 5.5 0 5.5-3 5.5-3 5.5-3 5.5-4 5.5-3 5.5-3 5.5 4 5.5-4 5.5 3 5.5-3 5.5 0 5.5-2 5.5-1 5.5 1 5.5 1 5.5 2 5.5 12 5.5 0 5.5-1 5.5 11"/><path d="M165 39l5.5 1 5.5 3 5.5-3 5.5-5 5.5 2 5.5-3 5.5-4 5.5-4 5.5-2 5.5 2 5.5-7 5.5-4 5.5-1 5.5-3 5.5-7 5.5 3 5.5-5 5.5 2 5.5-2 5.5-3 5.5 0 5.5 2 5.5 4 5.5-3 5.5-3 5.5 1 5.5 2 5.5 5 5.5 9 5.5 0"/><path d="M165 30l5.5-1 5.5 0 5.5-2 5.5 2 5.5-4 5.5-3 5.5-3 5.5-1 5.5-3 5.5-3 5.5 0 5.5-8 5.5 2 5.5 4 5.5-6 5.5-1 5.5 1 5.5 1 5.5-5 5.5 1 5.5 1 5.5 1 5.5 2 5.5 1 5.5-1 5.5 0 5.5 1 5.5 6 5.5 5 5.5 1"/><path d="M165 33l5.5-2 5.5 1 5.5-2 5.5 3 5.5 1 5.5-2 5.5 1 5.5-1 5.5-3 5.5 0 5.5 2 5.5-2 5.5 2 5.5-1 5.5 1 5.5-3 5.5 4 5.5 1 5.5 0 5.5 1 5.5 3 5.5-1 5.5 1 5.5-1 5.5 1 5.5 6 5.5 0 5.5 5 5.5 3 5.5 1"/><path d="M165 35l5.5 1 5.5 2 5.5-3 5.5 2 5.5 0 5.5-1 5.5 0 5.5-1 5.5 3 5.5-4 5.5 0 5.5-1 5.5-2 5.5-1 5.5-3 5.5 4 5.5 2 5.5-1 5.5 5 5.5-2 5.5 4 5.5 1 5.5 2 5.5 3 5.5 1 5.5-1 5.5 3 5.5 7 5.5 0 5.5 5"/><path d="M165 45l5.5 2 5.5 0 5.5 0 5.5-4 5.5 2 5.5 0 5.5 0 5.5-2 5.5-2 5.5 5 5.5-3 5.5-4 5.5 2 5.5 0 5.5-3 5.5 4 5.5-3 5.5 3 5.5 3 5.5 2 5.5 2 5.5 6 5.5 4 5.5-2 5.5 6 5.5-1 5.5 3 5.5 8 5.5 4 5.5 3"/><path d="M165 30l5.5-1 5.5-4 5.5 1 5.5 1 5.5-2 5.5-9 5.5-2 5.5-1 5.5-4 5.5-1 5.5 0 5.5-3 5.5-5 5.5 3 5.5-1 5.5 4 5.5 2 5.5 0 5.5 0 5.5 11 5.5-3 5.5 2 5.5 2 5.5 10 5.5-3 5.5 11 5.5 3 5.5 3 5.5 7 5.5 5"/><path d="M165 41l5.5-5 5.5 1 5.5 1 5.5-4 5.5 2 5.5-1 5.5 2 5.5 1 5.5-4 5.5-3 5.5 1 5.5-5 5.5 2 5.5 0 5.5 0 5.5-1 5.5 1 5.5 3 5.5-5 5.5 4 5.5 1 5.5 3 5.5 5 5.5 2 5.5-6 5.5 1 5.5 3 5.5 8 5.5 1 5.5 5"/><path d="M165 33l5.5-2 5.5-4 5.5 1 5.5-2 5.5-2 5.5-7 5.5 5 5.5-3 5.5-6 5.5 2 5.5-4 5.5-5 5.5-5 5.5 1 5.5-6 5.5 6 5.5-4 5.5 1 5.5-1 5.5 0 5.5 0 5.5 3 5.5 9 5.5-9 5.5-2 5.5 2 5.5 4 5.5 3 5.5 0 5.5 7"/><path d="M165 51l5.5-1 5.5 2 5.5-3 5.5 7 5.5-3 5.5-5 5.5-2 5.5-4 5.5-2 5.5-4 5.5 1 5.5-7 5.5 3 5.5 2 5.5-10 5.5 10 5.5-4 5.5-2 5.5 3 5.5-1 5.5 2 5.5 4 5.5-4 5.5 2 5.5 3 5.5 0 5.5 5 5.5-3 5.5 2 5.5 4"/><path d="M165 37l5.5-6 5.5 3 5.5 3 5.5 0 5.5-2 5.5-3 5.5-3 5.5 1 5.5 0 5.5-4 5.5-5 5.5 0 5.5 0 5.5 2 5.5-1 5.5-2 5.5 0 5.5 6 5.5-1 5.5 4 5.5-2 5.5-2 5.5 9 5.5 4 5.5-3 5.5 7 5.5 1 5.5 6 5.5 6 5.5-3"/><path d="M165 51l5.5 4 5.5-3 5.5-1 5.5-4 5.5 4 5.5-8 5.5-1 5.5-2 5.5 0 5.5-4 5.5-5 5.5 4 5.5-1 5.5-1 5.5 0 5.5-2 5.5 1 5.5 0 5.5 3 5.5 4 5.5-1 5.5-1 5.5 6 5.5 3 5.5-2 5.5 7 5.5 7 5.5 3 5.5 6 5.5 5"/><path d="M165 49l5.5 3 5.5 1 5.5 2 5.5-3 5.5 2 5.5-2 5.5-5 5.5 6 5.5-6 5.5-1 5.5 0 5.5 1 5.5-6 5.5-1 5.5-4 5.5-1 5.5-2 5.5 2 5.5-2 5.5-2 5.5 3 5.5-2 5.5 5 5.5-3 5.5 0 5.5-8 5.5 10 5.5 2 5.5-1 5.5 3"/><path d="M165 40l5.5 2 5.5 1 5.5-8 5.5 6 5.5-2 5.5-6 5.5 1 5.5 2 5.5-6 5.5-3 5.5-2 5.5 0 5.5-7 5.5 1 5.5-2 5.5 2 5.5-2 5.5 3 5.5-5 5.5-3 5.5 2 5.5 1 5.5 4 5.5 2 5.5 2 5.5-2 5.5 5 5.5 1 5.5 2 5.5 9"/><path d="M165 30l5.5 3 5.5 3 5.5-5 5.5-3 5.5-1 5.5-7 5.5-1 5.5-2 5.5-3 5.5-5 5.5-1 5.5-5 5.5-4 5.5 4 5.5-4 5.5-2 5.5 2 5.5 2 5.5-2 5.5 6 5.5 4 5.5 1 5.5 2 5.5 0 5.5 2 5.5 3 5.5 8 5.5-4 5.5 2 5.5 4"/><path d="M165 40l5.5 5 5.5-1 5.5-4 5.5 4 5.5-1 5.5-7 5.5 1 5.5-8 5.5 1 5.5-7 5.5 0 5.5-1 5.5-7 5.5-5 5.5 3 5.5-3 5.5-2 5.5-2 5.5 3 5.5 1 5.5 1 5.5 1 5.5 7 5.5 4 5.5-4 5.5 6 5.5 4 5.5 2 5.5 9 5.5-1"/><path d="M165 40l5.5-3 5.5 2 5.5-3 5.5 7 5.5-3 5.5-5 5.5-2 5.5 5 5.5-8 5.5 1 5.5-4 5.5 3 5.5-5 5.5 3 5.5-2 5.5-6 5.5 6 5.5 0 5.5 1 5.5 0 5.5-1 5.5-4 5.5 7 5.5-1 5.5 2 5.5 0 5.5-1 5.5 5 5.5 10 5.5 0"/><path d="M165 33l5.5 1 5.5 1 5.5 2 5.5 0 5.5-3 5.5 3 5.5-4 5.5 4 5.5-11 5.5 4 5.5-1 5.5-3 5.5-3 5.5 0 5.5 5 5.5-7 5.5 4 5.5 1 5.5-5 5.5 2 5.5 0 5.5 8 5.5-4 5.5 1 5.5 1 5.5 1 5.5 6 5.5 6 5.5 4 5.5 4"/><path d="M165 46l5.5-9 5.5 0 5.5-5 5.5 1 5.5-3 5.5-9 5.5-2 5.5-4 5.5-1 5.5-5 5.5 3 5.5-6 5.5-4 5.5-5 5.5-4 5.5 1 5.5-4 5.5-1 5.5 4 5.5-7 5.5 5 5.5 2 5.5 0 5.5-1 5.5-1 5.5 6 5.5-2 5.5 5 5.5 6 5.5 2"/><path d="M165 22l5.5 0 5.5 3 5.5-1 5.5-7 5.5 3 5.5-11 5.5 4 5.5-2 5.5-1 5.5-1 5.5-3 5.5-1 5.5-5 5.5 2 5.5-4 5.5 3 5.5-2 5.5 0 5.5 2 5.5 2 5.5 4 5.5 4 5.5-1 5.5 1 5.5 7 5.5 2 5.5 1 5.5 6 5.5 9 5.5 0"/><path d="M165 46l5.5 0 5.5 1 5.5-1 5.5 3 5.5-4 5.5-9 5.5 8 5.5-2 5.5 1 5.5 0 5.5-8 5.5-2 5.5-7 5.5 1 5.5-5 5.5 1 5.5-1 5.5 0 5.5-6 5.5 1 5.5 0 5.5-5 5.5 6 5.5-6 5.5 1 5.5 5 5.5-1 5.5 1 5.5 3 5.5 6"/><path d="M165 42l5.5-2 5.5 3 5.5-4 5.5-1 5.5 0 5.5-5 5.5 1 5.5 0 5.5-6 5.5 1 5.5-1 5.5 0 5.5-1 5.5 6 5.5-9 5.5 0 5.5 4 5.5-2 5.5 9 5.5-4 5.5 7 5.5-9 5.5 12 5.5 1 5.5-4 5.5 7 5.5 5 5.5 9 5.5 2 5.5 3"/><path d="M165 15l5.5 1 5.5 1 5.5-5 5.5 0 5.5 3 5.5-6 5.5 2 5.5-4 5.5-4 5.5-2 5.5-2 5.5 3 5.5 0 5.5-4 5.5 2 5.5-1 5.5-5 5.5 1 5.5-4 5.5 4 5.5-4 5.5 3 5.5-3 5.5 3 5.5-1 5.5 3 5.5 3 5.5 1 5.5 1 5.5 5"/><path d="M165 37l5.5-4 5.5 3 5.5-3 5.5-1 5.5 2 5.5-4 5.5-4 5.5 4 5.5-6 5.5 3 5.5-2 5.5 1 5.5-5 5.5 4 5.5-2 5.5-1 5.5-3 5.5 1 5.5 1 5.5 2 5.5 3 5.5 2 5.5 5 5.5 5 5.5-4 5.5 1 5.5 5 5.5 6 5.5 4 5.5 3"/><path d="M165 48l5.5 1 5.5-3 5.5 1 5.5 3 5.5-5 5.5-1 5.5-5 5.5 2 5.5-8 5.5 3 5.5-3 5.5-3 5.5 0 5.5 0 5.5-4 5.5 3 5.5 0 5.5-3 5.5 6 5.5-4 5.5 3 5.5-1 5.5-2 5.5 1 5.5 0 5.5 0 5.5 1 5.5 2 5.5 4 5.5 2"/><path d="M165 40l5.5-1 5.5 4 5.5-3 5.5 0 5.5-2 5.5-7 5.5 0 5.5-7 5.5 1 5.5-10 5.5 4 5.5-1 5.5-2 5.5 3 5.5 1 5.5-8 5.5 2 5.5-2 5.5 5 5.5 0 5.5-1 5.5 3 5.5 4 5.5 6 5.5 2 5.5 0 5.5 0 5.5 5 5.5 6 5.5 1"/><path d="M165 24l5.5 1 5.5 0 5.5-3 5.5-1 5.5 5 5.5-7 5.5-5 5.5 2 5.5-6 5.5-5 5.5-2 5.5-5 5.5-1 5.5-2 5.5-3 5.5 1 5.5-3 5.5-2 5.5 1 5.5 1 5.5-2 5.5 3 5.5 4 5.5 0 5.5 1 5.5 5 5.5 0 5.5 3 5.5 10 5.5-1"/><path d="M165 37l5.5 2 5.5-1 5.5-3 5.5 3 5.5-3 5.5 0 5.5-7 5.5 5 5.5-8 5.5-2 5.5-1 5.5-1 5.5 3 5.5-6 5.5-1 5.5 2 5.5 5 5.5-1 5.5 1 5.5-3 5.5 7 5.5-1 5.5 0 5.5 6 5.5 4 5.5-1 5.5 4 5.5 6 5.5 3 5.5 7"/><path d="M165 38l5.5 2 5.5 1 5.5 1 5.5 3 5.5-4 5.5-6 5.5 1 5.5-1 5.5-1 5.5 3 5.5-9 5.5 0 5.5 0 5.5-2 5.5-3 5.5-6 5.5 7 5.5-3 5.5 3 5.5 2 5.5 0 5.5 1 5.5 2 5.5-4 5.5 8 5.5-2 5.5 1 5.5 3 5.5 4 5.5 0"/><path d="M165 42l5.5-5 5.5-5 5.5 4 5.5 4 5.5-7 5.5-2 5.5-4 5.5 0 5.5 0 5.5-6 5.5 0 5.5 2 5.5-8 5.5-5 5.5 3 5.5 2 5.5-6 5.5 2 5.5 1 5.5 0 5.5 2 5.5 0 5.5 8 5.5-1 5.5-1 5.5 0 5.5 8 5.5 3 5.5 4 5.5 5"/><path d="M165 51l5.5 0 5.5 3 5.5-2 5.5-1 5.5-1 5.5-11 5.5-1 5.5 1 5.5-3 5.5-8 5.5-2 5.5-4 5.5-3 5.5-5 5.5-6 5.5 0 5.5 0 5.5-8 5.5 5 5.5-3 5.5-3 5.5 2 5.5 3 5.5-5 5.5 2 5.5 2 5.5-1 5.5-3 5.5 7 5.5-3"/><path d="M165 25l5.5-1 5.5 4 5.5-3 5.5 2 5.5 2 5.5-4 5.5 1 5.5-6 5.5-1 5.5 1 5.5 0 5.5 0 5.5-2 5.5 9 5.5-7 5.5 4 5.5-3 5.5 1 5.5 4 5.5-6 5.5 6 5.5 7 5.5-3 5.5 3 5.5 4 5.5 3 5.5 8 5.5 2 5.5 2 5.5 1"/><path d="M165 46l5.5 2 5.5-2 5.5-1 5.5 0 5.5 4 5.5-7 5.5-5 5.5 3 5.5 0 5.5-3 5.5 2 5.5 0 5.5-6 5.5 3 5.5 1 5.5 1 5.5 2 5.5 1 5.5 3 5.5 4 5.5-1 5.5 6 5.5 2 5.5 4 5.5 2 5.5 7 5.5-1 5.5 7 5.5 9 5.5 0"/><path d="M165 50l5.5 1 5.5 2 5.5-3 5.5 1 5.5-1 5.5-3 5.5-7 5.5 6 5.5-4 5.5-6 5.5-3 5.5 1 5.5-1 5.5-4 5.5-3 5.5-3 5.5-3 5.5 0 5.5 3 5.5-3 5.5-2 5.5-1 5.5 2 5.5-4 5.5 0 5.5 1 5.5 2 5.5 2 5.5 3 5.5 7"/><path d="M165 26l5.5 3 5.5-5 5.5 1 5.5-5 5.5 3 5.5-10 5.5 1 5.5-10 5.5-4 5.5-4 5.5 2 5.5-5 5.5-3 5.5-2 5.5-2 5.5-1 5.5-7 5.5 2 5.5 3 5.5 1 5.5 0 5.5 5 5.5-4 5.5 6 5.5-1 5.5-3 5.5 4 5.5-2 5.5 4 5.5 9"/><path d="M165 40l5.5 0 5.5-6 5.5 5 5.5-8 5.5 3 5.5-6 5.5-2 5.5-4 5.5-4 5.5 2 5.5-4 5.5-3 5.5 1 5.5-3 5.5-4 5.5 0 5.5 3 5.5-5 5.5 3 5.5 6 5.5 3 5.5 2 5.5 4 5.5 1 5.5-4 5.5 9 5.5 5 5.5 1 5.5 4 5.5 6"/><path d="M165 44l5.5 3 5.5-3 5.5 2 5.5-3 5.5 2 5.5-6 5.5 1 5.5-2 5.5-2 5.5-3 5.5-1 5.5-7 5.5 4 5.5 0 5.5-8 5.5 2 5.5-1 5.5-1 5.5 1 5.5 1 5.5 6 5.5-5 5.5 5 5.5-4 5.5 5 5.5 2 5.5 3 5.5 4 5.5 8 5.5-1"/><path d="M165 37l5.5-2 5.5 1 5.5-1 5.5-1 5.5-1 5.5 0 5.5-3 5.5-4 5.5 2 5.5-4 5.5 3 5.5-1 5.5-4 5.5 1 5.5-5 5.5 3 5.5 3 5.5 0 5.5 1 5.5-1 5.5-1 5.5 0 5.5-1 5.5 9 5.5 2 5.5 0 5.5 1 5.5 5 5.5 0 5.5 4"/><path d="M165 22l5.5-1 5.5 0 5.5 0 5.5 3 5.5 0 5.5 2 5.5-4 5.5 4 5.5-3 5.5 0 5.5-3 5.5 3 5.5-1 5.5 3 5.5-6 5.5 7 5.5 2 5.5-1 5.5 8 5.5-2 5.5 7 5.5-2 5.5 6 5.5-1 5.5 3 5.5 2 5.5 5 5.5 8 5.5 5 5.5 10"/><path d="M165 38l5.5-2 5.5 2 5.5-3 5.5-3 5.5 0 5.5-7 5.5 0 5.5-1 5.5-2 5.5-9 5.5 6 5.5-3 5.5-6 5.5 4 5.5-2 5.5-3 5.5 0 5.5-10 5.5 8 5.5 0 5.5-5 5.5 7 5.5 1 5.5-3 5.5 3 5.5 2 5.5 3 5.5 2 5.5 5 5.5 3"/><path d="M165 31l5.5-2 5.5-2 5.5 0 5.5-4 5.5 4 5.5-8 5.5 0 5.5-6 5.5 0 5.5-5 5.5-2 5.5-5 5.5 0 5.5-4 5.5-3 5.5 10 5.5-5 5.5-3 5.5 4 5.5 1 5.5-2 5.5 3 5.5 6 5.5-1 5.5 9 5.5-4 5.5 3 5.5 3 5.5 6 5.5 7"/><path d="M165 58l5.5 6 5.5-6 5.5 1 5.5 4 5.5-4 5.5-4 5.5 1 5.5-4 5.5 0 5.5 1 5.5-3 5.5-2 5.5-2 5.5-1 5.5 1 5.5-6 5.5 1 5.5-3 5.5 1 5.5 2 5.5 4 5.5-4 5.5 4 5.5 4 5.5 0 5.5 3 5.5 3 5.5 2 5.5 3 5.5 5"/><path d="M165 46l5.5-10 5.5 4 5.5-7 5.5-5 5.5 4 5.5-10 5.5-3 5.5 4 5.5-4 5.5 0 5.5-11 5.5 0 5.5-8 5.5-1 5.5-6 5.5-2 5.5-2 5.5 3 5.5 2 5.5-6 5.5 1 5.5 0 5.5 2 5.5 0 5.5 1 5.5-3 5.5 3 5.5 4 5.5-1 5.5 2"/><path d="M165 42l5.5 0 5.5 1 5.5-3 5.5 4 5.5 1 5.5-7 5.5-2 5.5-1 5.5-1 5.5-10 5.5 1 5.5-7 5.5 3 5.5-5 5.5-2 5.5 0 5.5 1 5.5-1 5.5 0 5.5-2 5.5 4 5.5 3 5.5 4 5.5 0 5.5-3 5.5 2 5.5 3 5.5-1 5.5 9 5.5 1"/><path d="M165 33l5.5-1 5.5 2 5.5-3 5.5 2 5.5-2 5.5-1 5.5 2 5.5-2 5.5 0 5.5-2 5.5 1 5.5-5 5.5 3 5.5 1 5.5-5 5.5 4 5.5 5 5.5-3 5.5 3 5.5-3 5.5 0 5.5 6 5.5-2 5.5 6 5.5 0 5.5 0 5.5 7 5.5 5 5.5-1 5.5 2"/><path d="M165 23l5.5-8 5.5 8 5.5-6 5.5 1 5.5-3 5.5-6 5.5 0 5.5 4 5.5-9 5.5-5 5.5-1 5.5 1 5.5-1 5.5-2 5.5 0 5.5-2 5.5 3 5.5-1 5.5-2 5.5 5 5.5-2 5.5 3 5.5 7 5.5 1 5.5 1 5.5 1 5.5 7 5.5 5 5.5 3 5.5 8"/><path d="M165 48l5.5-7 5.5 0 5.5-3 5.5 3 5.5 0 5.5-4 5.5 3 5.5-2 5.5-1 5.5 0 5.5-2 5.5 0 5.5-3 5.5-2 5.5-2 5.5 8 5.5-2 5.5 1 5.5-2 5.5 2 5.5 1 5.5-1 5.5 7 5.5-1 5.5 0 5.5 0 5.5 2 5.5 0 5.5 7 5.5-2"/><path d="M165 35l5.5-5 5.5-2 5.5 2 5.5-1 5.5 1 5.5-2 5.5 0 5.5 2 5.5-6 5.5 4 5.5-5 5.5-4 5.5 5 5.5-1 5.5-2 5.5 0 5.5-1 5.5 1 5.5 0 5.5 3 5.5-3 5.5 4 5.5 1 5.5-3 5.5 2 5.5 2 5.5 5 5.5 0 5.5 3 5.5 4"/><path d="M165 46l5.5-1 5.5-5 5.5-1 5.5 0 5.5 6 5.5-10 5.5-3 5.5-2 5.5-4 5.5-7 5.5-1 5.5-6 5.5-5 5.5-3 5.5-8 5.5-4 5.5-1 5.5-1 5.5 0 5.5-2 5.5 1 5.5-2 5.5 4 5.5-2 5.5 1 5.5 2 5.5-5 5.5-3 5.5 9 5.5 2"/><path d="M165 30l5.5 2 5.5 5 5.5-3 5.5 1 5.5-1 5.5-6 5.5-8 5.5 5 5.5-12 5.5 2 5.5-8 5.5-1 5.5-5 5.5 1 5.5-7 5.5 2 5.5-2 5.5-4 5.5 2 5.5 1 5.5 0 5.5 1 5.5 8 5.5-4 5.5-1 5.5 7 5.5-3 5.5 0 5.5 9 5.5 0"/><path d="M165 49l5.5-2 5.5 1 5.5 1 5.5-1 5.5 2 5.5-9 5.5-3 5.5 1 5.5-3 5.5-4 5.5-4 5.5 2 5.5-7 5.5 4 5.5-4 5.5 4 5.5 3 5.5-4 5.5-1 5.5 0 5.5 7 5.5 0 5.5 1 5.5-3 5.5 2 5.5 3 5.5-4 5.5 7 5.5 1 5.5 4"/><path d="M165 45l5.5-6 5.5 5 5.5 2 5.5-2 5.5-1 5.5-7 5.5 2 5.5-4 5.5 1 5.5-3 5.5 1 5.5 1 5.5-6 5.5 2 5.5-5 5.5 8 5.5-1 5.5-2 5.5 8 5.5-6 5.5 0 5.5 7 5.5 1 5.5 5 5.5-3 5.5 0 5.5 8 5.5 2 5.5 4 5.5 5"/><path d="M165 29l5.5 4 5.5-3 5.5 0 5.5 4 5.5 0 5.5-10 5.5 4 5.5-2 5.5-1 5.5-2 5.5-3 5.5-1 5.5 3 5.5-2 5.5 0 5.5 0 5.5 1 5.5 0 5.5-1 5.5 4 5.5 4 5.5-1 5.5 6 5.5 0 5.5 3 5.5 6 5.5 6 5.5-2 5.5 2 5.5 11"/><path d="M165 29l5.5 2 5.5-4 5.5-3 5.5 5 5.5 1 5.5-3 5.5-1 5.5-1 5.5-2 5.5-3 5.5-4 5.5 1 5.5-1 5.5 2 5.5-6 5.5 3 5.5 1 5.5 2 5.5 2 5.5 0 5.5 1 5.5 6 5.5-1 5.5 0 5.5 5 5.5 4 5.5-1 5.5 1 5.5-1 5.5 4"/><path d="M165 55l5.5-2 5.5 2 5.5-6 5.5 1 5.5 0 5.5-3 5.5-4 5.5-1 5.5-7 5.5-4 5.5 3 5.5-2 5.5-7 5.5-5 5.5 0 5.5 6 5.5-7 5.5 1 5.5-3 5.5-1 5.5 0 5.5 0 5.5 0 5.5 3 5.5-1 5.5-2 5.5 5 5.5-6 5.5 9 5.5 1"/><path d="M165 41l5.5 1 5.5-3 5.5 0 5.5 1 5.5-2 5.5-1 5.5 2 5.5-7 5.5 2 5.5-1 5.5-6 5.5 7 5.5-6 5.5-1 5.5-1 5.5-2 5.5 2 5.5-3 5.5 1 5.5-1 5.5 1 5.5 1 5.5 5 5.5-5 5.5 2 5.5 6 5.5 4 5.5 2 5.5 3 5.5-1"/><path d="M165 52l5.5 5 5.5-3 5.5-4 5.5 5 5.5 1 5.5-10 5.5 0 5.5 4 5.5-6 5.5-1 5.5-1 5.5-2 5.5-2 5.5 1 5.5-2 5.5 0 5.5 2 5.5 0 5.5 3 5.5-2 5.5 6 5.5-2 5.5 0 5.5 5 5.5 0 5.5 4 5.5-1 5.5 1 5.5 4 5.5 6"/><path d="M165 40l5.5 0 5.5 0 5.5-2 5.5 0 5.5-4 5.5-6 5.5 1 5.5-4 5.5-5 5.5 5 5.5-3 5.5-3 5.5 1 5.5-2 5.5 2 5.5 0 5.5 2 5.5 2 5.5 6 5.5 0 5.5 0 5.5 6 5.5 4 5.5 3 5.5-1 5.5 7 5.5 5 5.5 7 5.5 3 5.5 7"/><path d="M165 50l5.5 4 5.5-7 5.5 1 5.5-2 5.5 4 5.5-5 5.5-4 5.5 2 5.5-1 5.5-5 5.5-7 5.5-4 5.5 5 5.5-6 5.5-1 5.5-1 5.5 5 5.5-4 5.5 1 5.5 3 5.5-3 5.5-4 5.5 10 5.5-2 5.5 3 5.5 0 5.5 9 5.5 4 5.5-3 5.5 7"/><path d="M165 28l5.5-2 5.5 1 5.5-7 5.5 1 5.5-1 5.5-5 5.5 2 5.5-5 5.5-6 5.5 3 5.5-3 5.5-1 5.5 1 5.5-7 5.5-1 5.5 1 5.5-2 5.5-4 5.5 4 5.5-6 5.5 3 5.5 2 5.5 0 5.5 1 5.5-2 5.5 3 5.5-2 5.5 8 5.5 1 5.5-1"/><path d="M165 32l5.5-4 5.5 0 5.5-1 5.5-3 5.5 1 5.5-7 5.5-3 5.5 7 5.5-6 5.5 0 5.5-7 5.5 4 5.5-1 5.5-1 5.5-2 5.5 7 5.5-2 5.5 2 5.5 0 5.5 5 5.5 2 5.5-1 5.5 1 5.5 7 5.5-3 5.5 9 5.5 4 5.5 5 5.5 2 5.5 9"/><path d="M165 26l5.5 3 5.5-7 5.5 4 5.5-1 5.5-1 5.5-10 5.5-1 5.5 1 5.5 0 5.5-6 5.5-3 5.5-1 5.5 1 5.5-4 5.5-1 5.5 1 5.5 1 5.5-4 5.5 3 5.5 0 5.5 3 5.5 2 5.5 4 5.5-5 5.5 2 5.5 6 5.5 2 5.5 3 5.5 3 5.5 3"/><path d="M165 43l5.5-4 5.5-1 5.5-1 5.5-1 5.5-5 5.5-4 5.5-3 5.5 4 5.5-6 5.5-3 5.5 3 5.5-3 5.5-3 5.5 3 5.5-11 5.5 6 5.5 0 5.5-6 5.5 4 5.5-2 5.5-1 5.5 6 5.5 1 5.5 0 5.5 4 5.5 6 5.5 1 5.5 5 5.5 0 5.5 7"/><path d="M165 29l5.5 1 5.5-1 5.5-5 5.5 6 5.5-2 5.5-8 5.5 0 5.5 1 5.5-3 5.5-1 5.5 0 5.5-2 5.5-9 5.5 5 5.5 0 5.5-5 5.5 2 5.5 0 5.5 1 5.5 4 5.5-1 5.5 0 5.5 6 5.5 0 5.5 0 5.5-2 5.5 4 5.5 3 5.5 3 5.5 6"/><path d="M165 47l5.5 2 5.5-1 5.5-4 5.5 1 5.5-2 5.5-6 5.5 0 5.5 2 5.5-5 5.5-4 5.5-1 5.5-3 5.5 0 5.5-3 5.5-1 5.5-1 5.5 5 5.5-5 5.5 4 5.5-3 5.5 1 5.5-4 5.5 1 5.5 1 5.5 3 5.5-4 5.5 0 5.5 3 5.5 0 5.5 4"/><path d="M165 44l5.5 4 5.5-5 5.5 4 5.5-1 5.5 2 5.5-6 5.5 3 5.5 1 5.5-2 5.5 0 5.5 2 5.5-4 5.5-3 5.5 4 5.5-2 5.5 3 5.5 1 5.5 0 5.5-1 5.5 1 5.5 0 5.5 7 5.5 1 5.5 4 5.5 1 5.5 4 5.5 2 5.5 2 5.5-1 5.5 4"/><path d="M165 34l5.5-6 5.5-2 5.5 4 5.5-1 5.5 0 5.5-5 5.5-1 5.5-1 5.5-5 5.5 3 5.5 0 5.5-7 5.5 2 5.5-3 5.5 1 5.5-4 5.5 1 5.5 0 5.5 4 5.5-1 5.5 4 5.5-3 5.5 6 5.5 2 5.5 4 5.5 2 5.5 4 5.5 5 5.5 5 5.5 6"/><path d="M165 39l5.5 0 5.5-1 5.5 2 5.5-6 5.5 2 5.5-8 5.5 4 5.5-8 5.5 2 5.5-8 5.5 1 5.5-1 5.5-8 5.5 4 5.5-6 5.5 4 5.5 2 5.5-7 5.5 2 5.5 3 5.5 1 5.5 2 5.5 1 5.5 5 5.5 1 5.5 3 5.5 8 5.5 1 5.5 2 5.5 3"/><path d="M165 21l5.5 0 5.5-2 5.5-2 5.5-3 5.5 4 5.5-15 5.5 3 5.5-3 5.5-5 5.5-3 5.5-5 5.5-1 5.5-3 5.5-1 5.5 0 5.5-7 5.5 3 5.5 4 5.5-6 5.5 5 5.5-4 5.5-2 5.5 2 5.5 0 5.5 3 5.5 0 5.5 2 5.5 2 5.5 6 5.5 2"/><path d="M165 33l5.5 0 5.5-1 5.5 1 5.5-3 5.5 2 5.5-6 5.5-4 5.5 1 5.5-3 5.5 3 5.5-6 5.5-3 5.5-2 5.5-5 5.5-1 5.5-1 5.5-2 5.5-1 5.5 2 5.5-1 5.5 5 5.5-3 5.5 0 5.5 3 5.5 1 5.5 3 5.5 6 5.5 0 5.5 8 5.5 0"/><path d="M165 14l5.5-5 5.5 2 5.5 3 5.5-2 5.5 4 5.5-5 5.5-3 5.5 3 5.5-3 5.5 0 5.5 2 5.5-8 5.5-1 5.5 0 5.5-2 5.5-1 5.5 3 5.5 0 5.5 0 5.5 2 5.5-1 5.5 2 5.5 7 5.5-6 5.5 3 5.5 5 5.5-1 5.5 6 5.5 0 5.5 12"/><path d="M165 37l5.5 2 5.5 0 5.5 1 5.5-1 5.5 3 5.5-5 5.5-1 5.5 2 5.5-1 5.5-5 5.5 2 5.5-4 5.5 0 5.5 1 5.5 1 5.5-2 5.5-2 5.5 3 5.5 0 5.5 2 5.5 3 5.5-1 5.5 9 5.5 4 5.5 0 5.5-2 5.5 6 5.5 1 5.5 4 5.5 10"/><path d="M165 54l5.5-5 5.5 3 5.5-3 5.5 3 5.5 4 5.5-10 5.5 0 5.5-6 5.5 3 5.5-4 5.5-7 5.5 4 5.5-8 5.5 0 5.5-2 5.5 3 5.5-1 5.5 0 5.5 2 5.5 1 5.5 0 5.5-1 5.5 2 5.5-2 5.5 2 5.5 1 5.5-2 5.5-2 5.5 1 5.5 1"/><path d="M165 56l5.5-3 5.5 1 5.5-3 5.5 4 5.5-4 5.5-5 5.5-3 5.5 2 5.5-6 5.5-4 5.5-3 5.5-2 5.5 0 5.5-6 5.5-2 5.5-1 5.5-4 5.5 2 5.5 0 5.5-2 5.5 3 5.5 0 5.5-2 5.5 2 5.5-2 5.5 3 5.5 3 5.5 3 5.5 9 5.5 2"/><path d="M165 46l5.5-2 5.5 2 5.5-1 5.5-2 5.5-3 5.5-3 5.5-3 5.5-4 5.5-2 5.5 2 5.5-4 5.5-8 5.5 0 5.5-2 5.5-2 5.5 4 5.5-6 5.5 0 5.5 6 5.5-2 5.5 1 5.5 3 5.5 1 5.5 1 5.5 1 5.5 2 5.5 7 5.5 0 5.5 2 5.5 4"/><path d="M165 37l5.5 1 5.5-2 5.5 1 5.5-6 5.5 3 5.5-8 5.5 0 5.5-2 5.5-6 5.5 3 5.5-3 5.5-4 5.5-2 5.5 1 5.5-7 5.5 4 5.5-6 5.5 1 5.5 6 5.5-3 5.5 1 5.5-1 5.5 7 5.5 0 5.5 5 5.5 3 5.5 3 5.5 2 5.5 9 5.5 3"/><path d="M165 54l5.5 0 5.5-2 5.5-7 5.5 7 5.5 0 5.5-7 5.5 0 5.5-3 5.5-2 5.5-3 5.5-2 5.5-4 5.5-2 5.5-1 5.5 0 5.5-3 5.5 0 5.5 2 5.5 2 5.5-5 5.5 4 5.5 4 5.5-2 5.5 4 5.5-1 5.5-1 5.5 4 5.5 3 5.5-1 5.5 7"/><path d="M165 28l5.5-4 5.5 3 5.5-2 5.5 2 5.5-2 5.5-9 5.5-3 5.5 3 5.5-10 5.5-1 5.5-2 5.5-5 5.5 2 5.5 0 5.5-3 5.5-3 5.5 5 5.5-2 5.5-2 5.5 1 5.5 2 5.5 2 5.5-3 5.5 11 5.5-1 5.5 0 5.5 4 5.5 1 5.5 11 5.5 3"/><path d="M165 45l5.5-2 5.5-1 5.5-4 5.5 5 5.5-3 5.5-4 5.5-2 5.5-4 5.5-2 5.5-1 5.5-2 5.5-1 5.5-7 5.5 3 5.5 1 5.5-5 5.5 3 5.5 0 5.5-2 5.5-2 5.5 3 5.5 0 5.5 4 5.5-6 5.5 2 5.5 2 5.5 3 5.5 2 5.5 3 5.5 4"/><path d="M165 27l5.5 0 5.5 1 5.5-6 5.5 2 5.5 0 5.5-6 5.5 5 5.5-4 5.5-5 5.5 3 5.5-4 5.5-2 5.5-2 5.5 3 5.5-3 5.5-4 5.5 5 5.5-5 5.5 1 5.5 6 5.5 1 5.5 4 5.5 3 5.5 5 5.5-1 5.5 1 5.5 9 5.5 1 5.5 7 5.5 3"/><path d="M165 37l5.5-2 5.5-2 5.5 1 5.5-2 5.5 1 5.5 2 5.5-2 5.5-3 5.5 0 5.5-3 5.5 0 5.5 0 5.5-4 5.5 2 5.5 2 5.5-1 5.5-3 5.5 0 5.5 5 5.5-1 5.5 3 5.5 3 5.5 4 5.5-1 5.5 6 5.5 0 5.5 9 5.5-3 5.5 8 5.5-5"/><path d="M165 48l5.5 3 5.5-3 5.5 2 5.5 0 5.5-3 5.5-5 5.5-4 5.5 4 5.5-4 5.5 3 5.5-2 5.5 3 5.5-8 5.5-5 5.5 8 5.5-2 5.5 3 5.5-7 5.5 10 5.5-8 5.5 4 5.5 1 5.5 6 5.5-4 5.5 1 5.5 3 5.5 5 5.5-1 5.5 5 5.5 4"/><path d="M165 55l5.5-3 5.5 1 5.5-1 5.5 2 5.5-4 5.5-9 5.5 3 5.5-2 5.5-6 5.5-4 5.5-1 5.5-3 5.5-6 5.5-3 5.5-2 5.5-6 5.5-1 5.5 1 5.5-2 5.5-1 5.5 0 5.5 0 5.5 0 5.5-2 5.5 2 5.5 2 5.5-1 5.5 3 5.5-4 5.5 3"/><path d="M165 51l5.5-3 5.5 5 5.5-1 5.5-2 5.5-2 5.5-3 5.5 2 5.5-5 5.5-3 5.5 0 5.5-2 5.5 1 5.5-5 5.5 4 5.5-7 5.5 6 5.5 0 5.5 0 5.5 8 5.5 0 5.5 9 5.5 0 5.5 5 5.5 2 5.5-1 5.5 2 5.5 3 5.5 8 5.5 4 5.5 4"/><path d="M165 50l5.5 2 5.5-7 5.5-4 5.5-2 5.5 3 5.5-3 5.5-7 5.5 3 5.5-10 5.5-2 5.5-2 5.5-5 5.5-4 5.5-6 5.5-2 5.5-6 5.5 1 5.5-5 5.5 3 5.5-4 5.5-3 5.5-3 5.5 2 5.5-4 5.5 7 5.5-7 5.5 4 5.5 6 5.5-4 5.5 5"/><path d="M165 41l5.5 0 5.5-4 5.5-1 5.5-4 5.5-1 5.5-4 5.5-3 5.5-1 5.5-2 5.5-6 5.5 0 5.5 2 5.5-7 5.5 2 5.5-5 5.5 6 5.5-6 5.5 4 5.5 2 5.5-3 5.5-5 5.5 2 5.5 6 5.5 2 5.5-2 5.5-1 5.5 1 5.5 3 5.5-1 5.5 2"/><path d="M165 19l5.5-3 5.5 0 5.5-2 5.5-6 5.5-1 5.5-5 5.5-3 5.5 1 5.5-6 5.5-2 5.5-3 5.5-3 5.5-2 5.5 2 5.5-2 5.5-3 5.5 0 5.5-2 5.5-3 5.5 3 5.5-1 5.5-7 5.5 7 5.5-2 5.5-2 5.5 1 5.5-4 5.5-1 5.5-6 5.5-2"/><path d="M165 43l5.5-1 5.5 1 5.5-3 5.5-1 5.5 1 5.5-5 5.5 1 5.5 0 5.5-6 5.5-2 5.5 1 5.5-2 5.5 0 5.5-2 5.5-1 5.5 2 5.5-3 5.5 5 5.5-2 5.5 2 5.5 3 5.5 6 5.5-3 5.5 9 5.5-5 5.5 2 5.5 5 5.5 7 5.5 0 5.5 1"/><path d="M165 48l5.5-2 5.5 1 5.5-3 5.5 2 5.5 0 5.5-5 5.5-5 5.5 1 5.5-4 5.5 0 5.5-4 5.5 0 5.5-5 5.5-1 5.5-3 5.5 2 5.5-1 5.5-3 5.5-4 5.5 5 5.5-2 5.5 3 5.5 3 5.5-5 5.5 6 5.5-2 5.5 0 5.5-3 5.5 9 5.5 4"/><path d="M165 19l5.5-7 5.5 1 5.5-7 5.5 1 5.5-2 5.5-1 5.5-3 5.5-2 5.5-10 5.5 1 5.5-6 5.5-1 5.5 2 5.5 3 5.5-12 5.5 6 5.5-5 5.5 7 5.5-2 5.5-2 5.5 9 5.5 3 5.5 4 5.5 5 5.5 1 5.5 3 5.5 8 5.5 3 5.5 10 5.5 5"/><path d="M165 33l5.5 7 5.5-6 5.5-1 5.5-1 5.5 2 5.5 1 5.5-1 5.5 1 5.5-5 5.5-4 5.5-2 5.5 3 5.5 3 5.5-5 5.5 1 5.5 0 5.5 1 5.5 3 5.5 2 5.5-4 5.5 5 5.5 1 5.5 4 5.5 1 5.5 12 5.5 0 5.5 1 5.5 4 5.5 5 5.5 3"/><path d="M165 34l5.5-3 5.5 6 5.5-2 5.5 1 5.5-3 5.5 1 5.5 0 5.5 4 5.5-5 5.5 3 5.5-5 5.5 4 5.5-6 5.5 4 5.5 0 5.5-3 5.5-1 5.5 1 5.5 6 5.5 0 5.5 3 5.5-1 5.5 2 5.5-3 5.5 3 5.5 2 5.5 3 5.5-3 5.5 8 5.5 6"/><path d="M165 56l5.5-4 5.5 2 5.5-5 5.5 7 5.5-5 5.5-2 5.5 3 5.5-1 5.5-4 5.5 2 5.5-5 5.5-2 5.5-1 5.5 0 5.5 3 5.5-5 5.5-1 5.5 3 5.5 3 5.5-8 5.5 9 5.5 4 5.5-6 5.5 5 5.5 0 5.5 3 5.5-4 5.5 3 5.5 5 5.5 2"/><path d="M165 43l5.5 3 5.5-3 5.5 1 5.5 0 5.5 0 5.5-7 5.5-4 5.5 1 5.5-1 5.5-2 5.5-7 5.5 1 5.5-3 5.5 4 5.5-3 5.5 1 5.5 0 5.5-3 5.5 6 5.5-1 5.5 3 5.5 4 5.5 4 5.5 3 5.5 2 5.5 5 5.5-1 5.5 3 5.5 8 5.5-2"/><path d="M165 37l5.5 0 5.5-4 5.5 6 5.5-5 5.5 2 5.5-2 5.5-5 5.5-1 5.5-3 5.5 0 5.5-1 5.5-2 5.5-6 5.5 4 5.5-4 5.5 6 5.5-2 5.5-1 5.5 5 5.5-3 5.5-2 5.5 8 5.5-1 5.5 4 5.5 1 5.5 5 5.5 6 5.5-4 5.5 11 5.5 6"/><path d="M165 52l5.5-5 5.5 3 5.5-5 5.5-2 5.5 1 5.5-1 5.5-3 5.5-1 5.5-5 5.5-6 5.5 2 5.5-2 5.5-5 5.5 1 5.5 0 5.5-2 5.5 1 5.5-4 5.5 4 5.5 4 5.5 1 5.5-3 5.5 8 5.5-3 5.5-1 5.5 8 5.5 1 5.5 3 5.5 8 5.5 0"/><path d="M165 51l5.5 0 5.5 4 5.5-5 5.5 4 5.5-4 5.5-5 5.5 3 5.5-7 5.5 0 5.5-1 5.5-3 5.5 3 5.5-5 5.5 3 5.5-7 5.5 3 5.5-5 5.5 2 5.5 1 5.5-1 5.5-1 5.5-5 5.5 8 5.5 1 5.5-2 5.5 4 5.5-1 5.5 3 5.5-1 5.5 4"/><path d="M165 33l5.5 4 5.5-1 5.5 1 5.5 0 5.5-2 5.5 0 5.5-6 5.5-3 5.5-1 5.5-2 5.5-2 5.5 1 5.5-4 5.5 2 5.5-6 5.5 1 5.5 0 5.5-1 5.5 4 5.5-1 5.5-2 5.5 8 5.5 1 5.5-2 5.5 0 5.5 7 5.5 0 5.5 1 5.5 0 5.5 7"/></g><g id="bRRR"><path d="M330 76l5.5-3 5.5 4 5.5-2 5.5 7 5.5-4 5.5 7 5.5-3 5.5 5 5.5-2 5.5 3 5.5 6 5.5 3 5.5-3 5.5 4 5.5 8 5.5-6 5.5 10 5.5-3 5.5-5 5.5 7 5.5-4 5.5-2 5.5 2 5.5-5 5.5-4 5.5 2 5.5-3 5.5-1 5.5-9"/><path d="M330 58l5.5 1 5.5 3 5.5 4 5.5-7 5.5 8 5.5-3 5.5 8 5.5-1 5.5 2 5.5 3 5.5 3 5.5-3 5.5 2 5.5 1 5.5 3 5.5 10 5.5-7 5.5-4 5.5 4 5.5 2 5.5 0 5.5 1 5.5 2 5.5-1 5.5-2 5.5 7 5.5-1 5.5 0 5.5-2"/><path d="M330 28l5.5-2 5.5 2 5.5 0 5.5 1 5.5 3 5.5 5 5.5 0 5.5 3 5.5 2 5.5 2 5.5 6 5.5 1 5.5 2 5.5 3 5.5 9 5.5-1 5.5 3 5.5 4 5.5 4 5.5 4 5.5 3 5.5-1 5.5 0 5.5 9 5.5-1 5.5 0 5.5 5 5.5 4 5.5 1"/><path d="M330 16l5.5-2 5.5 3 5.5 2 5.5 2 5.5 7 5.5 1 5.5 3 5.5 8 5.5 9 5.5 1 5.5 5 5.5 10 5.5 2 5.5 6 5.5 2 5.5 4 5.5 14 5.5-4 5.5 7 5.5 7 5.5 3 5.5 8 5.5 1 5.5 6 5.5-1 5.5 5 5.5 1 5.5 6 5.5-2"/><path d="M330 18l5.5 4 5.5-4 5.5 2 5.5 1 5.5 3 5.5 2 5.5 11 5.5 1 5.5 4 5.5-1 5.5-1 5.5 9 5.5 2 5.5 7 5.5 5 5.5 6 5.5 2 5.5 6 5.5-3 5.5 7 5.5 1 5.5 1 5.5 7 5.5 2 5.5 2 5.5 8 5.5 4 5.5 4 5.5 4"/><path d="M330 52l5.5 3 5.5-2 5.5 7 5.5-2 5.5-2 5.5 8 5.5-2 5.5 4 5.5 8 5.5-1 5.5 3 5.5 3 5.5 1 5.5 3 5.5 6 5.5-1 5.5 11 5.5-9 5.5 10 5.5-2 5.5 0 5.5-1 5.5 4 5.5 0 5.5-3 5.5 3 5.5-2 5.5 0 5.5 0"/><path d="M330 60l5.5-1 5.5 3 5.5 2 5.5 3 5.5 1 5.5 1 5.5 5 5.5-1 5.5 2 5.5 6 5.5-1 5.5 3 5.5 1 5.5 0 5.5 6 5.5 0 5.5 2 5.5 3 5.5 7 5.5-2 5.5 1 5.5-5 5.5 1 5.5 4 5.5-2 5.5 4 5.5 1 5.5 1 5.5-2"/><path d="M330 80l5.5 1 5.5 2 5.5 1 5.5 1 5.5 0 5.5 0 5.5 3 5.5-1 5.5 3 5.5 0 5.5 0 5.5 4 5.5 3 5.5-4 5.5 3 5.5-4 5.5-2 5.5 2 5.5 2 5.5 1 5.5-2 5.5-1 5.5 1 5.5 0 5.5-4 5.5 1 5.5 5 5.5-9 5.5-1"/><path d="M330 56l5.5 1 5.5 9 5.5 3 5.5 0 5.5 3 5.5 4 5.5 2 5.5 5 5.5 4 5.5 0 5.5 4 5.5 3 5.5 6 5.5 3 5.5 2 5.5 1 5.5 2 5.5 2 5.5 5 5.5 2 5.5-6 5.5-1 5.5 4 5.5-1 5.5 4 5.5 3 5.5 0 5.5-9 5.5 8"/><path d="M330 54l5.5-1 5.5 3 5.5 0 5.5 1 5.5 7 5.5 2 5.5-3 5.5 2 5.5 7 5.5-1 5.5 9 5.5 2 5.5 2 5.5 2 5.5 4 5.5 5 5.5 6 5.5-1 5.5 3 5.5 0 5.5 3 5.5 0 5.5 2 5.5 3 5.5 2 5.5 4 5.5 1 5.5-2 5.5 3"/><path d="M330 15l5.5-4 5.5-3 5.5 5 5.5-2 5.5 3 5.5 2 5.5-1 5.5 2 5.5 1 5.5 6 5.5 0 5.5 6 5.5 6 5.5-1 5.5 1 5.5 5 5.5 10 5.5 0 5.5 5 5.5 4 5.5 4 5.5 5 5.5 3 5.5 3 5.5 6 5.5 5 5.5 5 5.5 2 5.5 6"/><path d="M330 46l5.5 3 5.5 0 5.5 1 5.5 2 5.5-1 5.5 4 5.5-1 5.5 4 5.5 5 5.5-1 5.5 4 5.5-3 5.5 4 5.5 4 5.5-3 5.5 4 5.5 8 5.5-1 5.5 7 5.5 1 5.5 5 5.5-2 5.5-2 5.5 9 5.5 6 5.5 2 5.5-1 5.5 1 5.5-1"/><path d="M330 52l5.5 7 5.5 4 5.5 1 5.5 8 5.5-2 5.5 1 5.5 8 5.5 2 5.5 3 5.5 2 5.5 1 5.5 6 5.5 2 5.5 3 5.5 9 5.5-2 5.5 3 5.5 5 5.5 4 5.5-3 5.5 4 5.5-2 5.5 1 5.5-2 5.5 2 5.5 2 5.5-2 5.5-3 5.5 0"/><path d="M330 72l5.5 1 5.5 1 5.5 5 5.5 0 5.5 0 5.5 3 5.5 0 5.5 1 5.5 0 5.5 8 5.5 0 5.5 3 5.5 6 5.5-1 5.5 7 5.5 1 5.5 3 5.5-1 5.5-5 5.5 10 5.5-6 5.5-4 5.5 3 5.5 0 5.5 1 5.5-1 5.5 0 5.5-2 5.5 3"/><path d="M330 40l5.5-3 5.5 2 5.5 1 5.5-1 5.5 0 5.5-3 5.5 1 5.5 3 5.5 0 5.5 2 5.5-6 5.5 6 5.5 2 5.5 8 5.5-2 5.5-4 5.5 12 5.5-4 5.5-2 5.5 6 5.5 5 5.5-1 5.5-1 5.5 5 5.5 4 5.5 4 5.5 0 5.5 1 5.5 5"/><path d="M330 38l5.5 3 5.5-4 5.5 6 5.5 0 5.5 7 5.5 4 5.5 2 5.5 1 5.5 2 5.5 2 5.5 4 5.5 9 5.5 3 5.5 2 5.5 7 5.5 6 5.5 2 5.5 1 5.5 1 5.5 8 5.5-2 5.5 8 5.5 3 5.5 3 5.5-1 5.5 3 5.5 9 5.5 0 5.5 4"/><path d="M330 27l5.5 0 5.5-2 5.5 2 5.5 3 5.5 3 5.5-5 5.5 5 5.5-1 5.5 1 5.5 1 5.5 6 5.5-5 5.5 7 5.5 8 5.5 0 5.5 3 5.5 6 5.5-7 5.5 8 5.5-3 5.5 2 5.5-2 5.5 9 5.5 0 5.5-1 5.5 5 5.5 2 5.5 2 5.5 1"/><path d="M330 39l5.5 9 5.5 1 5.5 3 5.5 5 5.5 7 5.5 2 5.5 8 5.5 5 5.5 7 5.5-1 5.5 9 5.5 7 5.5-2 5.5 9 5.5 3 5.5 2 5.5 4 5.5 2 5.5 1 5.5 0 5.5 0 5.5-7 5.5 9 5.5-7 5.5-10 5.5 6 5.5 0 5.5-8 5.5 0"/><path d="M330 44l5.5 2 5.5-2 5.5-4 5.5 7 5.5 0 5.5-7 5.5 7 5.5 2 5.5 4 5.5-4 5.5 2 5.5-1 5.5 7 5.5-2 5.5 2 5.5 2 5.5 6 5.5 0 5.5-2 5.5 8 5.5 5 5.5-5 5.5 3 5.5 10 5.5-7 5.5 6 5.5 3 5.5-2 5.5 1"/><path d="M330 50l5.5-5 5.5 8 5.5 4 5.5-2 5.5 2 5.5 3 5.5 6 5.5-4 5.5 7 5.5 4 5.5-2 5.5 7 5.5 3 5.5-4 5.5 7 5.5 4 5.5 4 5.5-5 5.5 8 5.5 6 5.5 1 5.5-5 5.5 6 5.5 8 5.5 0 5.5 3 5.5 4 5.5-1 5.5-1"/><path d="M330 8l5.5-1 5.5 2 5.5-4 5.5 6 5.5-2 5.5 5 5.5-1 5.5 2 5.5 3 5.5 0 5.5 3 5.5 2 5.5 1 5.5 7 5.5 6 5.5-1 5.5 7 5.5-3 5.5 3 5.5 2 5.5 7 5.5-4 5.5 8 5.5 0 5.5 5 5.5 6 5.5 4 5.5 1 5.5-3"/><path d="M330 36l5.5 6 5.5 2 5.5-1 5.5 4 5.5 7 5.5-2 5.5 3 5.5 1 5.5 2 5.5 2 5.5 6 5.5-4 5.5 10 5.5 2 5.5 3 5.5 3 5.5-1 5.5 4 5.5 1 5.5 8 5.5 2 5.5-4 5.5 7 5.5 0 5.5-1 5.5 8 5.5 1 5.5-5 5.5 2"/><path d="M330 27l5.5-3 5.5 0 5.5 3 5.5-1 5.5-1 5.5 7 5.5-2 5.5 3 5.5-2 5.5 4 5.5 5 5.5 5 5.5-1 5.5 9 5.5 1 5.5 2 5.5 6 5.5 7 5.5 6 5.5 4 5.5 7 5.5 7 5.5 1 5.5 3 5.5 2 5.5 9 5.5 3 5.5 0 5.5 3"/><path d="M330 64l5.5-3 5.5 11 5.5 0 5.5 3 5.5 1 5.5-2 5.5 8 5.5 5 5.5-6 5.5 4 5.5-1 5.5 6 5.5-3 5.5 6 5.5 3 5.5-11 5.5 10 5.5 0 5.5-3 5.5 3 5.5-1 5.5 3 5.5 0 5.5-3 5.5 1 5.5 0 5.5-1 5.5 0 5.5-6"/><path d="M330 6l5.5-2 5.5 3 5.5 2 5.5-5 5.5 3 5.5-4 5.5 6 5.5 2 5.5-2 5.5 5 5.5 4 5.5-3 5.5 7 5.5 0 5.5 8 5.5 0 5.5 9 5.5 3 5.5 1 5.5 9 5.5-1 5.5 7 5.5 5 5.5 9 5.5 3 5.5 5 5.5 3 5.5 10 5.5 8"/><path d="M330 53l5.5 8 5.5 2 5.5-1 5.5 4 5.5 5 5.5 1 5.5-1 5.5 0 5.5 6 5.5 4 5.5 2 5.5 4 5.5 3 5.5 5 5.5-3 5.5 3 5.5 8 5.5-2 5.5-1 5.5 1 5.5-2 5.5-2 5.5-2 5.5 5 5.5-3 5.5 10 5.5-4 5.5-3 5.5 2"/><path d="M330 38l5.5-3 5.5-1 5.5 0 5.5 5 5.5-3 5.5 6 5.5-2 5.5 1 5.5-2 5.5 10 5.5-2 5.5 5 5.5 1 5.5 2 5.5 4 5.5 0 5.5 7 5.5 0 5.5 0 5.5 3 5.5 1 5.5 1 5.5 3 5.5 0 5.5 2 5.5 3 5.5-4 5.5 3 5.5 0"/><path d="M330 43l5.5 4 5.5 2 5.5-2 5.5 4 5.5-1 5.5 4 5.5 10 5.5 1 5.5 4 5.5 1 5.5 3 5.5 3 5.5 2 5.5 7 5.5 3 5.5 0 5.5 3 5.5 0 5.5 0 5.5 9 5.5-4 5.5-1 5.5 4 5.5 4 5.5-2 5.5 3 5.5-1 5.5-1 5.5-5"/><path d="M330 13l5.5 7 5.5 5 5.5 1 5.5 2 5.5 5 5.5 6 5.5 0 5.5 9 5.5 5 5.5 5 5.5 6 5.5 3 5.5 7 5.5 8 5.5 4 5.5 4 5.5 5 5.5 0 5.5 3 5.5-1 5.5 5 5.5 2 5.5 1 5.5 6 5.5-4 5.5 3 5.5-1 5.5 0 5.5-4"/><path d="M330 56l5.5 2 5.5 4 5.5 0 5.5-2 5.5 8 5.5-1 5.5 7 5.5 5 5.5 1 5.5 2 5.5 7 5.5-1 5.5 9 5.5 0 5.5 10 5.5 3 5.5 5 5.5 0 5.5 6 5.5 5 5.5 1 5.5 3 5.5-1 5.5 7 5.5-4 5.5 5 5.5 3 5.5-6 5.5-5"/><path d="M330 39l5.5 1 5.5 4 5.5-1 5.5 0 5.5 3 5.5 1 5.5 5 5.5 0 5.5 2 5.5 9 5.5-4 5.5 6 5.5-1 5.5 5 5.5 2 5.5 1 5.5 6 5.5 3 5.5 3 5.5 2 5.5-1 5.5-2 5.5 2 5.5 5 5.5 0 5.5 1 5.5 6 5.5-2 5.5 6"/><path d="M330 40l5.5-3 5.5 4 5.5-1 5.5-1 5.5 7 5.5-2 5.5 0 5.5 5 5.5 4 5.5 0 5.5-2 5.5-2 5.5 3 5.5 4 5.5 3 5.5-3 5.5 9 5.5-2 5.5 2 5.5-2 5.5 2 5.5 3 5.5 5 5.5-4 5.5 10 5.5 1 5.5 0 5.5-5 5.5 4"/><path d="M330 3l5.5 3 5.5 5 5.5-3 5.5-1 5.5 2 5.5 2 5.5 2 5.5 4 5.5 1 5.5 1 5.5 2 5.5-1 5.5 9 5.5-2 5.5 8 5.5 2 5.5 7 5.5 0 5.5 12 5.5-1 5.5 6 5.5 3 5.5 3 5.5 4 5.5 1 5.5 12 5.5 5 5.5 3 5.5 0"/><path d="M330 53l5.5 9 5.5-3 5.5 4 5.5-4 5.5 8 5.5-1 5.5-1 5.5 9 5.5 1 5.5 3 5.5-3 5.5 2 5.5 0 5.5 5 5.5-3 5.5-2 5.5 1 5.5 3 5.5-6 5.5 4 5.5 1 5.5-5 5.5 1 5.5-2 5.5 1 5.5-3 5.5 2 5.5-3 5.5 4"/><path d="M330 83l5.5-3 5.5 3 5.5 2 5.5 4 5.5-3 5.5 2 5.5 3 5.5-1 5.5 5 5.5 4 5.5 1 5.5 0 5.5 5 5.5-1 5.5 2 5.5 2 5.5 5 5.5-8 5.5 3 5.5 5 5.5-6 5.5-6 5.5 0 5.5 0 5.5-1 5.5-6 5.5 4 5.5-1 5.5-4"/><path d="M330 30l5.5-6 5.5 2 5.5 4 5.5-2 5.5 5 5.5-4 5.5 5 5.5 5 5.5-1 5.5 0 5.5 4 5.5 5 5.5 3 5.5-2 5.5 1 5.5 3 5.5 4 5.5 1 5.5 2 5.5 4 5.5-4 5.5 3 5.5 2 5.5 2 5.5 4 5.5 3 5.5-1 5.5 4 5.5 2"/><path d="M330 2l5.5-4 5.5 4 5.5 4 5.5 0 5.5 0 5.5 5 5.5 4 5.5 1 5.5 5 5.5-2 5.5 4 5.5 5 5.5 6 5.5 3 5.5 10 5.5-6 5.5 4 5.5 4 5.5 7 5.5 0 5.5 8 5.5-3 5.5 8 5.5 2 5.5 4 5.5 5 5.5 6 5.5 1 5.5 1"/><path d="M330 45l5.5 0 5.5 5 5.5 2 5.5 2 5.5 3 5.5-1 5.5 2 5.5 4 5.5 5 5.5 6 5.5 0 5.5 3 5.5 6 5.5 4 5.5 3 5.5-1 5.5 6 5.5-7 5.5 8 5.5-3 5.5 3 5.5 2 5.5-7 5.5 3 5.5 1 5.5 0 5.5 1 5.5 3 5.5-5"/><path d="M330 46l5.5 3 5.5 5 5.5 1 5.5-5 5.5 5 5.5 3 5.5-1 5.5 3 5.5 3 5.5 5 5.5 3 5.5 1 5.5 5 5.5 3 5.5-1 5.5 2 5.5 4 5.5 0 5.5 4 5.5 4 5.5 2 5.5-5 5.5 7 5.5 6 5.5 4 5.5 2 5.5 0 5.5 3 5.5-1"/><path d="M330 43l5.5-4 5.5-1 5.5 3 5.5-2 5.5-1 5.5-3 5.5-3 5.5-1 5.5 3 5.5-1 5.5 1 5.5 3 5.5-2 5.5 2 5.5 0 5.5 3 5.5 3 5.5 0 5.5 0 5.5 2 5.5 4 5.5 0 5.5 1 5.5 8 5.5-3 5.5 6 5.5 8 5.5-1 5.5-4"/><path d="M330 76l5.5-3 5.5 3 5.5 2 5.5 1 5.5 0 5.5 8 5.5 2 5.5-1 5.5 2 5.5 5 5.5 0 5.5 2 5.5 1 5.5 5 5.5-3 5.5 2 5.5 5 5.5-4 5.5-1 5.5 0 5.5 1 5.5-4 5.5 3 5.5-4 5.5 1 5.5-3 5.5 0 5.5 0 5.5-9"/><path d="M330 25l5.5 3 5.5 1 5.5 2 5.5 2 5.5-1 5.5-1 5.5 5 5.5 1 5.5 6 5.5 1 5.5 4 5.5 1 5.5 6 5.5 8 5.5-1 5.5 0 5.5 12 5.5 1 5.5 1 5.5 0 5.5 7 5.5-4 5.5 5 5.5 3 5.5 0 5.5 13 5.5-1 5.5 2 5.5 0"/><path d="M330 31l5.5 1 5.5 2 5.5 0 5.5 0 5.5 1 5.5 1 5.5 8 5.5 1 5.5 10 5.5-3 5.5 6 5.5 0 5.5 6 5.5 5 5.5 6 5.5 2 5.5 8 5.5 0 5.5 3 5.5 9 5.5-4 5.5 0 5.5 11 5.5-8 5.5 4 5.5 3 5.5 3 5.5 2 5.5 0"/><path d="M330 65l5.5-3 5.5 3 5.5 3 5.5-6 5.5 1 5.5 4 5.5-3 5.5 7 5.5 0 5.5-2 5.5-1 5.5 2 5.5 1 5.5 0 5.5-1 5.5 3 5.5 4 5.5-5 5.5 6 5.5-2 5.5 2 5.5 2 5.5 0 5.5 2 5.5-5 5.5 6 5.5 3 5.5 3 5.5 0"/><path d="M330 -3l5.5 0 5.5 4 5.5-1 5.5 3 5.5 0 5.5 8 5.5-5 5.5 7 5.5 4 5.5 2 5.5 4 5.5 7 5.5 3 5.5 4 5.5 9 5.5 1 5.5 6 5.5-4 5.5 9 5.5 1 5.5 6 5.5-4 5.5 10 5.5-1 5.5 5 5.5-1 5.5 6 5.5 4 5.5 4"/><path d="M330 34l5.5 3 5.5 5 5.5-2 5.5 2 5.5-2 5.5 11 5.5 1 5.5 3 5.5 2 5.5 6 5.5 1 5.5 5 5.5 5 5.5 4 5.5 6 5.5 2 5.5 12 5.5 2 5.5 5 5.5 9 5.5-3 5.5-2 5.5 9 5.5 7 5.5-1 5.5 9 5.5 0 5.5 1 5.5 0"/><path d="M330 52l5.5 4 5.5 7 5.5-1 5.5-2 5.5 5 5.5 1 5.5 0 5.5 7 5.5 3 5.5 3 5.5 3 5.5 4 5.5 3 5.5 3 5.5 6 5.5-3 5.5 12 5.5 4 5.5 7 5.5-2 5.5-1 5.5 6 5.5 3 5.5 2 5.5-2 5.5 6 5.5 1 5.5-2 5.5-4"/><path d="M330 33l5.5-2 5.5 7 5.5 7 5.5 0 5.5 6 5.5 2 5.5 5 5.5-2 5.5 5 5.5 10 5.5 1 5.5 2 5.5 5 5.5 4 5.5 10 5.5-1 5.5 9 5.5 1 5.5 8 5.5 3 5.5-1 5.5 1 5.5 2 5.5 7 5.5-4 5.5 7 5.5-4 5.5 6 5.5 0"/><path d="M330 48l5.5 2 5.5 3 5.5-2 5.5 5 5.5-2 5.5 5 5.5-2 5.5 2 5.5 9 5.5-3 5.5 2 5.5 8 5.5 2 5.5 3 5.5 1 5.5 2 5.5 8 5.5-4 5.5 1 5.5 9 5.5-5 5.5 3 5.5 6 5.5-6 5.5 0 5.5 1 5.5 7 5.5-6 5.5 1"/><path d="M330 39l5.5-3 5.5 0 5.5 1 5.5 0 5.5 4 5.5 0 5.5 3 5.5 1 5.5 2 5.5 0 5.5 0 5.5 8 5.5-2 5.5 4 5.5 6 5.5 2 5.5-1 5.5 5 5.5 5 5.5 2 5.5 4 5.5 4 5.5 0 5.5 4 5.5-3 5.5 3 5.5 2 5.5 0 5.5-3"/><path d="M330 -5l5.5-2 5.5 4 5.5-3 5.5 0 5.5 2 5.5 1 5.5 0 5.5 1 5.5 2 5.5 8 5.5-1 5.5 6 5.5 3 5.5 4 5.5 10 5.5 1 5.5 6 5.5 3 5.5 5 5.5 8 5.5 6 5.5 0 5.5 10 5.5 0 5.5 6 5.5 9 5.5 2 5.5 7 5.5 1"/><path d="M330 11l5.5-1 5.5 3 5.5 7 5.5-1 5.5 9 5.5-3 5.5 7 5.5 4 5.5-1 5.5 6 5.5 8 5.5 2 5.5 5 5.5 3 5.5 14 5.5-2 5.5 7 5.5 2 5.5 6 5.5 6 5.5 1 5.5 3 5.5 11 5.5 1 5.5 1 5.5 4 5.5 10 5.5 2 5.5 0"/><path d="M330 43l5.5 0 5.5 7 5.5 3 5.5 0 5.5 0 5.5 0 5.5 4 5.5 4 5.5 5 5.5 2 5.5 2 5.5 0 5.5 6 5.5 0 5.5 5 5.5 2 5.5 6 5.5 0 5.5 0 5.5 5 5.5 3 5.5-4 5.5 8 5.5 0 5.5 2 5.5 0 5.5 2 5.5 1 5.5 2"/><path d="M330 61l5.5-1 5.5 5 5.5 4 5.5-3 5.5 8 5.5-1 5.5 2 5.5 3 5.5 1 5.5-1 5.5 5 5.5 5 5.5 2 5.5 1 5.5 3 5.5 0 5.5 2 5.5 7 5.5-2 5.5 0 5.5-1 5.5 2 5.5-6 5.5 8 5.5-5 5.5 8 5.5-2 5.5 2 5.5 0"/><path d="M330 59l5.5 2 5.5 0 5.5 5 5.5 1 5.5 5 5.5 1 5.5 1 5.5 1 5.5 7 5.5 6 5.5 0 5.5 1 5.5 5 5.5 7 5.5 1 5.5 2 5.5 3 5.5 0 5.5 2 5.5 1 5.5 4 5.5-3 5.5 0 5.5-2 5.5 6 5.5 0 5.5-2 5.5 1 5.5-6"/><path d="M330 38l5.5-2 5.5 1 5.5-5 5.5 5 5.5 3 5.5 2 5.5-1 5.5 3 5.5-4 5.5 0 5.5 6 5.5 4 5.5-4 5.5 3 5.5 7 5.5 2 5.5 4 5.5 1 5.5-3 5.5 6 5.5 2 5.5-3 5.5 3 5.5-1 5.5 3 5.5 3 5.5 3 5.5 3 5.5 0"/><path d="M330 25l5.5 0 5.5 0 5.5-2 5.5-1 5.5 4 5.5-3 5.5 0 5.5 3 5.5 7 5.5 2 5.5 3 5.5-2 5.5-1 5.5 6 5.5 10 5.5 1 5.5 7 5.5 0 5.5 12 5.5-3 5.5 7 5.5 5 5.5 0 5.5-3 5.5 5 5.5 7 5.5 4 5.5 2 5.5-2"/><path d="M330 41l5.5 2 5.5-1 5.5 7 5.5 1 5.5 0 5.5 9 5.5 1 5.5 3 5.5 6 5.5-2 5.5 3 5.5 0 5.5 4 5.5 4 5.5 7 5.5-1 5.5 4 5.5-2 5.5 6 5.5 3 5.5 0 5.5 5 5.5 1 5.5 5 5.5-2 5.5 1 5.5 1 5.5 1 5.5 0"/><path d="M330 63l5.5-6 5.5 3 5.5 0 5.5 0 5.5 3 5.5 1 5.5 5 5.5-3 5.5 3 5.5 4 5.5 2 5.5-2 5.5 8 5.5 2 5.5 3 5.5 0 5.5 9 5.5 0 5.5 2 5.5 2 5.5-8 5.5 3 5.5 2 5.5 2 5.5-2 5.5-2 5.5 6 5.5 4 5.5 0"/><path d="M330 71l5.5-3 5.5 8 5.5 2 5.5 1 5.5 0 5.5 5 5.5 6 5.5 2 5.5 0 5.5 2 5.5 3 5.5 10 5.5-4 5.5 0 5.5-1 5.5 0 5.5 4 5.5-5 5.5 5 5.5-3 5.5-5 5.5 2 5.5-1 5.5-5 5.5-5 5.5 3 5.5-6 5.5-3 5.5-2"/><path d="M330 49l5.5 0 5.5 10 5.5-5 5.5 7 5.5 3 5.5 3 5.5 6 5.5 3 5.5 3 5.5-2 5.5 8 5.5 3 5.5 5 5.5 4 5.5 7 5.5-1 5.5 8 5.5 2 5.5 3 5.5 3 5.5 3 5.5 1 5.5-2 5.5 2 5.5 4 5.5 6 5.5 0 5.5-5 5.5 0"/><path d="M330 4l5.5-3 5.5 5 5.5 2 5.5-1 5.5-3 5.5 2 5.5-3 5.5 4 5.5 3 5.5-2 5.5 0 5.5 2 5.5 0 5.5 7 5.5 8 5.5-2 5.5 3 5.5 3 5.5 4 5.5 1 5.5 8 5.5-3 5.5 2 5.5 7 5.5 4 5.5 6 5.5 7 5.5 1 5.5 1"/><path d="M330 56l5.5 4 5.5 5 5.5 4 5.5 5 5.5 2 5.5 0 5.5 11 5.5 9 5.5 8 5.5-1 5.5 6 5.5 4 5.5 5 5.5 1 5.5 5 5.5-2 5.5 7 5.5-1 5.5 4 5.5 0 5.5 0 5.5-5 5.5 5 5.5-5 5.5-2 5.5 3 5.5-1 5.5-6 5.5-8"/><path d="M330 24l5.5 0 5.5 3 5.5 2 5.5 5 5.5-1 5.5 4 5.5 6 5.5 1 5.5 6 5.5-1 5.5 7 5.5 2 5.5 12 5.5-4 5.5 6 5.5 0 5.5 6 5.5 3 5.5 3 5.5 8 5.5 7 5.5-6 5.5 5 5.5 0 5.5 4 5.5 11 5.5 2 5.5-3 5.5 2"/><path d="M330 39l5.5 2 5.5 7 5.5 2 5.5 1 5.5 7 5.5 2 5.5 3 5.5 4 5.5 8 5.5 7 5.5-3 5.5 8 5.5 4 5.5 7 5.5 7 5.5-4 5.5 11 5.5-4 5.5 5 5.5 2 5.5-2 5.5 0 5.5 7 5.5-2 5.5-6 5.5 5 5.5-2 5.5-1 5.5-2"/><path d="M330 32l5.5-4 5.5 0 5.5 4 5.5-5 5.5 6 5.5 3 5.5-2 5.5 3 5.5 0 5.5 1 5.5 2 5.5 7 5.5-9 5.5 10 5.5 1 5.5 1 5.5 11 5.5 0 5.5 8 5.5 3 5.5 1 5.5-1 5.5 11 5.5 0 5.5 3 5.5 4 5.5 5 5.5 5 5.5 4"/><path d="M330 27l5.5 3 5.5-1 5.5 2 5.5-1 5.5 1 5.5 8 5.5-1 5.5 2 5.5 7 5.5 2 5.5 2 5.5 4 5.5 0 5.5 1 5.5 3 5.5 2 5.5 6 5.5 2 5.5 1 5.5 7 5.5 2 5.5 3 5.5 1 5.5 5 5.5 3 5.5 1 5.5 4 5.5 3 5.5 3"/><path d="M330 69l5.5 7 5.5 1 5.5-4 5.5 1 5.5 1 5.5 0 5.5 5 5.5-1 5.5-1 5.5 1 5.5 3 5.5-1 5.5 1 5.5-5 5.5 5 5.5-2 5.5-2 5.5 0 5.5-1 5.5 3 5.5-4 5.5-5 5.5 0 5.5-1 5.5-5 5.5 3 5.5-4 5.5 1 5.5 0"/><path d="M330 48l5.5 4 5.5 3 5.5 3 5.5 5 5.5 5 5.5 0 5.5 5 5.5 0 5.5 6 5.5 1 5.5 3 5.5 5 5.5 3 5.5 3 5.5 5 5.5 3 5.5 10 5.5-3 5.5-4 5.5 13 5.5 1 5.5 0 5.5-1 5.5-3 5.5 2 5.5 2 5.5-2 5.5 3 5.5-5"/><path d="M330 39l5.5 4 5.5 2 5.5 1 5.5 3 5.5 0 5.5 3 5.5 2 5.5 9 5.5 1 5.5 0 5.5 2 5.5 7 5.5 1 5.5 3 5.5-2 5.5 4 5.5-1 5.5-3 5.5 5 5.5-3 5.5 1 5.5 1 5.5 1 5.5-2 5.5-7 5.5 7 5.5 0 5.5-8 5.5 4"/><path d="M330 -5l5.5-1 5.5 2 5.5 1 5.5 1 5.5 1 5.5 4 5.5 5 5.5 4 5.5 4 5.5 3 5.5 8 5.5 3 5.5 3 5.5 5 5.5 5 5.5 9 5.5 13 5.5 2 5.5 7 5.5 3 5.5 8 5.5 1 5.5 10 5.5 6 5.5 6 5.5 5 5.5 7 5.5 1 5.5 5"/><path d="M330 26l5.5 2 5.5 5 5.5 1 5.5 2 5.5 2 5.5 8 5.5 0 5.5 4 5.5 10 5.5-1 5.5 11 5.5 3 5.5 1 5.5 4 5.5 6 5.5 6 5.5 4 5.5-2 5.5 4 5.5 8 5.5 7 5.5 0 5.5 1 5.5 2 5.5 1 5.5 8 5.5-1 5.5-2 5.5 1"/><path d="M330 30l5.5-5 5.5 2 5.5 8 5.5 2 5.5 3 5.5 7 5.5-1 5.5 1 5.5 9 5.5 2 5.5 2 5.5 5 5.5 5 5.5 7 5.5 7 5.5 4 5.5 8 5.5 0 5.5 6 5.5 3 5.5 6 5.5-7 5.5 5 5.5 6 5.5 1 5.5-2 5.5-1 5.5 0 5.5-2"/><path d="M330 67l5.5-4 5.5-1 5.5 6 5.5-4 5.5 1 5.5 5 5.5 0 5.5 1 5.5 6 5.5-3 5.5 3 5.5 4 5.5-1 5.5 6 5.5 1 5.5-1 5.5 3 5.5 4 5.5-2 5.5 6 5.5-6 5.5 3 5.5 0 5.5-2 5.5-1 5.5 8 5.5-1 5.5 0 5.5-2"/><path d="M330 31l5.5-4 5.5 6 5.5 0 5.5-2 5.5 0 5.5 3 5.5 3 5.5 0 5.5 4 5.5 0 5.5 3 5.5 1 5.5 4 5.5 7 5.5 3 5.5 1 5.5 7 5.5 3 5.5 1 5.5 4 5.5 5 5.5 0 5.5 6 5.5 1 5.5 6 5.5 9 5.5-3 5.5 6 5.5-2"/><path d="M330 38l5.5 1 5.5 2 5.5-7 5.5 5 5.5 5 5.5-5 5.5 7 5.5-4 5.5 7 5.5-3 5.5 10 5.5-1 5.5 2 5.5 3 5.5 7 5.5-3 5.5 10 5.5-2 5.5 6 5.5 1 5.5-2 5.5 0 5.5 4 5.5 0 5.5 6 5.5 1 5.5-3 5.5 0 5.5 2"/><path d="M330 38l5.5 0 5.5-1 5.5 5 5.5-4 5.5 3 5.5 0 5.5 2 5.5 3 5.5 7 5.5-2 5.5 3 5.5-2 5.5 7 5.5 2 5.5 4 5.5 0 5.5 9 5.5 0 5.5 2 5.5 3 5.5 6 5.5-2 5.5 1 5.5 8 5.5 5 5.5-1 5.5 10 5.5-5 5.5 2"/><path d="M330 40l5.5 4 5.5 5 5.5 4 5.5 6 5.5-1 5.5 1 5.5 9 5.5 5 5.5 6 5.5 2 5.5 6 5.5 4 5.5 5 5.5 8 5.5 4 5.5 4 5.5 9 5.5 0 5.5 5 5.5 4 5.5-3 5.5-4 5.5 5 5.5 0 5.5 2 5.5 0 5.5 0 5.5-5 5.5-2"/><path d="M330 45l5.5-2 5.5 3 5.5-5 5.5 8 5.5 2 5.5 2 5.5 4 5.5 1 5.5 1 5.5 4 5.5 0 5.5 5 5.5 1 5.5 2 5.5 4 5.5 0 5.5 6 5.5 4 5.5-2 5.5 1 5.5 5 5.5-13 5.5 9 5.5 7 5.5-4 5.5 9 5.5 0 5.5 2 5.5-3"/><path d="M330 26l5.5-1 5.5 2 5.5 0 5.5 5 5.5 6 5.5-3 5.5 3 5.5 1 5.5 6 5.5 4 5.5 4 5.5 3 5.5 1 5.5 9 5.5 1 5.5 1 5.5 9 5.5 0 5.5-1 5.5 10 5.5 1 5.5 6 5.5 2 5.5 5 5.5 1 5.5 6 5.5 0 5.5 3 5.5 0"/><path d="M330 32l5.5-2 5.5 7 5.5 0 5.5-2 5.5 0 5.5 3 5.5 4 5.5 1 5.5 7 5.5-2 5.5 5 5.5 1 5.5 0 5.5 6 5.5 0 5.5 7 5.5-2 5.5 2 5.5 2 5.5 1 5.5 0 5.5 1 5.5 3 5.5 2 5.5-1 5.5 7 5.5-4 5.5 0 5.5 3"/><path d="M330 45l5.5 3 5.5 3 5.5-2 5.5 4 5.5 5 5.5 6 5.5 0 5.5 2 5.5 4 5.5 8 5.5 4 5.5-1 5.5 11 5.5-2 5.5 8 5.5 0 5.5 6 5.5-2 5.5 4 5.5 3 5.5-4 5.5 6 5.5-6 5.5 2 5.5-4 5.5 4 5.5 3 5.5-4 5.5-1"/><path d="M330 51l5.5 6 5.5 0 5.5-2 5.5-2 5.5 2 5.5 4 5.5 1 5.5-2 5.5 2 5.5 2 5.5 3 5.5-2 5.5-1 5.5 0 5.5 2 5.5 3 5.5-1 5.5 1 5.5 2 5.5-4 5.5 4 5.5 1 5.5 0 5.5 4 5.5-3 5.5 0 5.5 0 5.5 3 5.5-4"/><path d="M330 57l5.5-3 5.5 5 5.5 2 5.5 0 5.5 0 5.5-1 5.5 3 5.5 5 5.5-4 5.5 6 5.5-4 5.5 8 5.5 2 5.5 2 5.5 9 5.5-3 5.5 3 5.5 2 5.5 3 5.5 4 5.5-5 5.5 0 5.5 4 5.5-1 5.5 3 5.5 2 5.5 6 5.5-8 5.5 1"/><path d="M330 11l5.5 3 5.5-3 5.5-2 5.5-3 5.5 1 5.5-1 5.5 3 5.5 2 5.5 3 5.5-3 5.5 6 5.5 5 5.5 0 5.5 2 5.5-1 5.5 6 5.5 9 5.5 1 5.5 2 5.5 1 5.5 3 5.5 3 5.5 4 5.5-1 5.5 5 5.5 5 5.5 3 5.5 2 5.5 5"/><path d="M330 80l5.5 2 5.5 7 5.5-3 5.5 3 5.5-5 5.5 1 5.5 4 5.5 5 5.5-3 5.5 7 5.5 0 5.5-4 5.5 4 5.5 2 5.5 0 5.5 3 5.5 3 5.5-3 5.5 5 5.5 1 5.5-3 5.5-6 5.5 3 5.5-7 5.5-1 5.5 2 5.5-1 5.5-1 5.5-3"/><path d="M330 -4l5.5 4 5.5 3 5.5-3 5.5 4 5.5-3 5.5 2 5.5 3 5.5-1 5.5 7 5.5-1 5.5 1 5.5 7 5.5 7 5.5-3 5.5 5 5.5 3 5.5 9 5.5 2 5.5 4 5.5 8 5.5 4 5.5 1 5.5 3 5.5 3 5.5 0 5.5 9 5.5 4 5.5 4 5.5 2"/><path d="M330 17l5.5 3 5.5 3 5.5 0 5.5 3 5.5 3 5.5-2 5.5 7 5.5 2 5.5 4 5.5 0 5.5 3 5.5 6 5.5 0 5.5 4 5.5 4 5.5 7 5.5-2 5.5 6 5.5 1 5.5 5 5.5 3 5.5 0 5.5 1 5.5 5 5.5-3 5.5 9 5.5-3 5.5 0 5.5 1"/><path d="M330 -38l5.5-4 5.5 2 5.5 1 5.5 1 5.5 0 5.5-1 5.5 1 5.5-1 5.5 0 5.5 1 5.5 2 5.5 6 5.5 7 5.5 4 5.5 6 5.5 10 5.5-2 5.5 7 5.5 4 5.5 2 5.5 6 5.5 2 5.5 1 5.5 6 5.5 2 5.5 6 5.5 2 5.5 8 5.5 3"/><path d="M330 53l5.5 1 5.5 0 5.5 4 5.5 2 5.5 1 5.5 1 5.5 7 5.5-4 5.5 6 5.5 0 5.5 0 5.5 6 5.5 5 5.5-2 5.5-1 5.5 0 5.5 7 5.5-2 5.5 1 5.5 0 5.5-2 5.5 3 5.5-2 5.5 3 5.5-2 5.5 3 5.5 1 5.5 2 5.5-5"/><path d="M330 32l5.5 1 5.5 1 5.5-6 5.5 4 5.5 0 5.5 0 5.5 1 5.5 5 5.5 3 5.5-2 5.5 1 5.5 6 5.5-6 5.5 7 5.5 3 5.5 1 5.5 2 5.5 2 5.5 0 5.5 7 5.5-1 5.5-1 5.5 2 5.5 4 5.5 1 5.5 4 5.5 4 5.5 4 5.5-4"/><path d="M330 31l5.5 4 5.5 5 5.5 6 5.5 1 5.5 5 5.5 4 5.5 3 5.5 9 5.5 4 5.5 0 5.5 3 5.5 6 5.5 6 5.5 3 5.5 6 5.5 5 5.5 4 5.5 6 5.5 0 5.5 4 5.5 3 5.5-1 5.5 3 5.5 3 5.5 5 5.5 2 5.5-1 5.5-3 5.5-1"/><path d="M330 64l5.5-1 5.5 7 5.5 2 5.5 0 5.5-2 5.5 7 5.5-4 5.5 1 5.5 2 5.5 2 5.5 4 5.5 2 5.5 1 5.5 3 5.5-2 5.5 0 5.5 0 5.5 0 5.5 5 5.5-6 5.5 1 5.5-4 5.5 3 5.5-2 5.5-7 5.5 10 5.5 0 5.5-4 5.5 3"/><path d="M330 56l5.5-5 5.5 4 5.5-4 5.5 0 5.5 1 5.5 1 5.5 0 5.5 4 5.5 1 5.5-3 5.5 0 5.5 6 5.5-3 5.5 7 5.5-1 5.5 0 5.5 4 5.5-6 5.5 6 5.5 3 5.5 4 5.5-1 5.5-1 5.5 2 5.5 2 5.5 5 5.5-1 5.5 8 5.5-5"/><path d="M330 57l5.5-3 5.5 6 5.5-5 5.5-2 5.5-4 5.5 2 5.5 2 5.5 0 5.5 0 5.5-2 5.5 0 5.5 1 5.5-2 5.5 4 5.5-2 5.5 1 5.5 4 5.5-2 5.5 6 5.5-2 5.5-1 5.5 2 5.5-1 5.5 6 5.5-1 5.5 7 5.5 0 5.5 1 5.5 1"/><path d="M330 55l5.5 6 5.5-2 5.5 3 5.5-1 5.5 3 5.5 0 5.5 4 5.5 4 5.5 6 5.5-1 5.5 6 5.5 0 5.5-1 5.5-1 5.5 11 5.5-2 5.5 5 5.5 1 5.5 1 5.5 1 5.5 2 5.5 0 5.5-2 5.5 4 5.5-6 5.5-3 5.5 3 5.5 0 5.5 3"/><path d="M330 55l5.5 1 5.5 1 5.5-1 5.5 1 5.5 0 5.5 4 5.5 5 5.5 4 5.5-1 5.5-1 5.5-2 5.5 4 5.5-2 5.5 6 5.5 4 5.5 0 5.5 4 5.5 2 5.5-4 5.5 3 5.5 3 5.5-7 5.5 2 5.5 3 5.5 1 5.5 5 5.5 1 5.5-4 5.5 4"/><path d="M330 49l5.5 0 5.5 2 5.5 5 5.5-9 5.5 6 5.5-4 5.5 6 5.5 3 5.5 2 5.5 1 5.5 1 5.5 4 5.5-1 5.5 7 5.5-1 5.5 1 5.5 6 5.5 4 5.5-2 5.5 2 5.5 5 5.5-7 5.5 2 5.5 1 5.5-3 5.5 7 5.5-1 5.5-3 5.5-6"/><path d="M330 41l5.5-6 5.5 7 5.5 2 5.5-11 5.5 8 5.5-2 5.5 0 5.5 0 5.5 5 5.5-6 5.5 3 5.5 6 5.5-1 5.5 0 5.5 6 5.5-1 5.5 3 5.5 0 5.5 2 5.5 3 5.5 3 5.5-4 5.5 4 5.5 4 5.5 8 5.5-2 5.5 5 5.5 3 5.5-5"/><path d="M330 37l5.5 4 5.5 4 5.5 5 5.5-1 5.5-2 5.5-3 5.5 7 5.5-5 5.5 10 5.5-5 5.5 4 5.5 2 5.5-1 5.5 6 5.5 1 5.5 1 5.5 2 5.5 3 5.5-1 5.5 4 5.5-1 5.5 3 5.5 1 5.5 2 5.5 4 5.5 4 5.5 3 5.5 5 5.5-2"/></g><g id="bRRL"><path d="M330 76l5.5-6 5.5 6 5.5 11 5.5 4 5.5 7 5.5 3 5.5 6 5.5 8 5.5 4 5.5 9 5.5 7 5.5 0 5.5 12 5.5 3 5.5 8 5.5 5 5.5 3 5.5 6 5.5 5 5.5 0 5.5 8 5.5 1 5.5 5 5.5 5 5.5 0 5.5-7 5.5 3 5.5 0 5.5 1"/><path d="M330 58l5.5 1 5.5 6 5.5 7 5.5 4 5.5 7 5.5-1 5.5 16 5.5 5 5.5 5 5.5 8 5.5 14 5.5 3 5.5 12 5.5 10 5.5 12 5.5 4 5.5 13 5.5 6 5.5 7 5.5 7 5.5 11 5.5 6 5.5 8 5.5 8 5.5 4 5.5 0 5.5 0 5.5-3 5.5 3"/><path d="M330 28l5.5-2 5.5 12 5.5 5 5.5 8 5.5 6 5.5 8 5.5 10 5.5 6 5.5 13 5.5 7 5.5 10 5.5 8 5.5 9 5.5 7 5.5 12 5.5 8 5.5 16 5.5 3 5.5 10 5.5 10 5.5 9 5.5 7 5.5 12 5.5 8 5.5 0 5.5 4 5.5 2 5.5 5 5.5 0"/><path d="M330 16l5.5-4 5.5 13 5.5 5 5.5 3 5.5 12 5.5 8 5.5 16 5.5 5 5.5 14 5.5 12 5.5 12 5.5 16 5.5 7 5.5 13 5.5 13 5.5 9 5.5 15 5.5 7 5.5 13 5.5 9 5.5 15 5.5 10 5.5 2 5.5 0 5.5 0 5.5-1 5.5 0 5.5 1 5.5-3"/><path d="M330 18l5.5-3 5.5 7 5.5 5 5.5 14 5.5 7 5.5 8 5.5 17 5.5 9 5.5 13 5.5 11 5.5 7 5.5 11 5.5 13 5.5 18 5.5 8 5.5 9 5.5 11 5.5 14 5.5 10 5.5 10 5.5 12 5.5 7 5.5 5 5.5 0 5.5 0 5.5 0 5.5-1 5.5-3 5.5-1"/><path d="M330 52l5.5 6 5.5 2 5.5 13 5.5-2 5.5 10 5.5 5 5.5 9 5.5 5 5.5 10 5.5 2 5.5 8 5.5 8 5.5 9 5.5 4 5.5 10 5.5 8 5.5 6 5.5 4 5.5 11 5.5 9 5.5 6 5.5 9 5.5 6 5.5 8 5.5 2 5.5 1 5.5 3 5.5 4 5.5 8"/><path d="M330 60l5.5 0 5.5 8 5.5 4 5.5 6 5.5 7 5.5 6 5.5 7 5.5 3 5.5 12 5.5 8 5.5 4 5.5 14 5.5 1 5.5 11 5.5 7 5.5 7 5.5 13 5.5 6 5.5 3 5.5 2 5.5 9 5.5 7 5.5 9 5.5 4 5.5 5 5.5 3 5.5-2 5.5 0 5.5 9"/><path d="M330 80l5.5 5 5.5 3 5.5 8 5.5-2 5.5 12 5.5-1 5.5 13 5.5 5 5.5 1 5.5 7 5.5 10 5.5 1 5.5 9 5.5 6 5.5 2 5.5 12 5.5 0 5.5 7 5.5 8 5.5 3 5.5 5 5.5 2 5.5 8 5.5-1 5.5 1 5.5-5 5.5 5 5.5 1 5.5 6"/><path d="M330 56l5.5 4 5.5 10 5.5 5 5.5 7 5.5 11 5.5 0 5.5 12 5.5 10 5.5 5 5.5 9 5.5 6 5.5 11 5.5 1 5.5 8 5.5 10 5.5 6 5.5 9 5.5 2 5.5 12 5.5 3 5.5 8 5.5 8 5.5 8 5.5 6 5.5 1 5.5 4 5.5 0 5.5 5 5.5 4"/><path d="M330 54l5.5 3 5.5 5 5.5 9 5.5 8 5.5 4 5.5 7 5.5 10 5.5 1 5.5 14 5.5 7 5.5 6 5.5 2 5.5 8 5.5 2 5.5 8 5.5 3 5.5 5 5.5 12 5.5 10 5.5 2 5.5 8 5.5 9 5.5 2 5.5 3 5.5 9 5.5 2 5.5-5 5.5 6 5.5 5"/><path d="M330 15l5.5-4 5.5 6 5.5 3 5.5 6 5.5 7 5.5 7 5.5 9 5.5 3 5.5 12 5.5 13 5.5 8 5.5 13 5.5 11 5.5 8 5.5 14 5.5 11 5.5 6 5.5 19 5.5 8 5.5 12 5.5 8 5.5 11 5.5 14 5.5 5 5.5 9 5.5 5 5.5 2 5.5 0 5.5 0"/><path d="M330 46l5.5 3 5.5 4 5.5 3 5.5 7 5.5 6 5.5 4 5.5 9 5.5 8 5.5 7 5.5 13 5.5 8 5.5 4 5.5 8 5.5 10 5.5 11 5.5 4 5.5 13 5.5 10 5.5 6 5.5 5 5.5 11 5.5 6 5.5 11 5.5 4 5.5 5 5.5 3 5.5 5 5.5 5 5.5 2"/><path d="M330 52l5.5 9 5.5 12 5.5 4 5.5 7 5.5 14 5.5 4 5.5 7 5.5 3 5.5 8 5.5 12 5.5 9 5.5 5 5.5 4 5.5 6 5.5 10 5.5 8 5.5 6 5.5 5 5.5 5 5.5 7 5.5 6 5.5 1 5.5 6 5.5 7 5.5 2 5.5-3 5.5 2 5.5 2 5.5 3"/><path d="M330 72l5.5 3 5.5 6 5.5 11 5.5 4 5.5 3 5.5 2 5.5 9 5.5 4 5.5 5 5.5 7 5.5 1 5.5 6 5.5 4 5.5 6 5.5 6 5.5 6 5.5 10 5.5 2 5.5 7 5.5 5 5.5 5 5.5 5 5.5-1 5.5 7 5.5 3 5.5-2 5.5 2 5.5 3 5.5 5"/><path d="M330 40l5.5 0 5.5 8 5.5 2 5.5 8 5.5 7 5.5 10 5.5 6 5.5 2 5.5 12 5.5 14 5.5 2 5.5 9 5.5 10 5.5 5 5.5 15 5.5 7 5.5 6 5.5 10 5.5 5 5.5 9 5.5 8 5.5 6 5.5 5 5.5 9 5.5 3 5.5 4 5.5 1 5.5 3 5.5 9"/><path d="M330 38l5.5 3 5.5 7 5.5 8 5.5 11 5.5 11 5.5 6 5.5 9 5.5 6 5.5 6 5.5 9 5.5 7 5.5 12 5.5 10 5.5 12 5.5 12 5.5 3 5.5 10 5.5 15 5.5 4 5.5 6 5.5 17 5.5 4 5.5 6 5.5 5 5.5 4 5.5-2 5.5 2 5.5 0 5.5 0"/><path d="M330 27l5.5 3 5.5 4 5.5 4 5.5 11 5.5 10 5.5 2 5.5 13 5.5 12 5.5 0 5.5 15 5.5 4 5.5 5 5.5 13 5.5 11 5.5 6 5.5 3 5.5 11 5.5 11 5.5 12 5.5 7 5.5 4 5.5 11 5.5 8 5.5 7 5.5 7 5.5-1 5.5 9 5.5 6 5.5 3"/><path d="M330 39l5.5 6 5.5 12 5.5 3 5.5 5 5.5 16 5.5 5 5.5 10 5.5 1 5.5 14 5.5 6 5.5 10 5.5 11 5.5 8 5.5 6 5.5 11 5.5 11 5.5 4 5.5 13 5.5 5 5.5 11 5.5 7 5.5 9 5.5 9 5.5 3 5.5 4 5.5 1 5.5 1 5.5 0 5.5-3"/><path d="M330 44l5.5 1 5.5 5 5.5 7 5.5 9 5.5 3 5.5 10 5.5 7 5.5 6 5.5 10 5.5 10 5.5 9 5.5 8 5.5 10 5.5 9 5.5 8 5.5 10 5.5 9 5.5 6 5.5 11 5.5 8 5.5 4 5.5 11 5.5 9 5.5 1 5.5 9 5.5 5 5.5-1 5.5 3 5.5 0"/><path d="M330 50l5.5 0 5.5 6 5.5 6 5.5 4 5.5 8 5.5 4 5.5 11 5.5 10 5.5 5 5.5 8 5.5 8 5.5 7 5.5 3 5.5 12 5.5 8 5.5 8 5.5 10 5.5 7 5.5 6 5.5 9 5.5 15 5.5 8 5.5 6 5.5 4 5.5 7 5.5-3 5.5 8 5.5 2 5.5 4"/><path d="M330 8l5.5-1 5.5 15 5.5 5 5.5 1 5.5 11 5.5 7 5.5 9 5.5 5 5.5 16 5.5 7 5.5 15 5.5 8 5.5 12 5.5 9 5.5 21 5.5 7 5.5 15 5.5 9 5.5 15 5.5 6 5.5 11 5.5 12 5.5 12 5.5 6 5.5 0 5.5 0 5.5 0 5.5-3 5.5 1"/><path d="M330 36l5.5 5 5.5 11 5.5 2 5.5 6 5.5 10 5.5 12 5.5 8 5.5 5 5.5 9 5.5 11 5.5 7 5.5 9 5.5 8 5.5 6 5.5 16 5.5 8 5.5 10 5.5 5 5.5 8 5.5 9 5.5 13 5.5 0 5.5 5 5.5 10 5.5 5 5.5 2 5.5 3 5.5 2 5.5-1"/><path d="M330 27l5.5-1 5.5 11 5.5-1 5.5 9 5.5 12 5.5 4 5.5 12 5.5 6 5.5 7 5.5 11 5.5 10 5.5 8 5.5 4 5.5 12 5.5 8 5.5 8 5.5 13 5.5 6 5.5 15 5.5 9 5.5 10 5.5 11 5.5 3 5.5 11 5.5 11 5.5 3 5.5 1 5.5 1 5.5 0"/><path d="M330 64l5.5 2 5.5 4 5.5 1 5.5 11 5.5 2 5.5 7 5.5 8 5.5 6 5.5 2 5.5 14 5.5 7 5.5 7 5.5 5 5.5 7 5.5 9 5.5 6 5.5 9 5.5 9 5.5 6 5.5 3 5.5 8 5.5 0 5.5 9 5.5 0 5.5 7 5.5-1 5.5-1 5.5 6 5.5 6"/><path d="M330 6l5.5-1 5.5 8 5.5 6 5.5 10 5.5 6 5.5 9 5.5 15 5.5 8 5.5 10 5.5 11 5.5 14 5.5 16 5.5 6 5.5 15 5.5 9 5.5 17 5.5 14 5.5 7 5.5 16 5.5 14 5.5 11 5.5 9 5.5 5 5.5 0 5.5 0 5.5 0 5.5 0 5.5 0 5.5 0"/><path d="M330 53l5.5 7 5.5 8 5.5 8 5.5-1 5.5 16 5.5 5 5.5 9 5.5 9 5.5 3 5.5 9 5.5 7 5.5 10 5.5 3 5.5 7 5.5 14 5.5 4 5.5 7 5.5 6 5.5 6 5.5 8 5.5 10 5.5 6 5.5 2 5.5 10 5.5 2 5.5 0 5.5 3 5.5-4 5.5 6"/><path d="M330 38l5.5-1 5.5 6 5.5 6 5.5-1 5.5 11 5.5 4 5.5 9 5.5 4 5.5 8 5.5 12 5.5 12 5.5 6 5.5 9 5.5 7 5.5 8 5.5 9 5.5 11 5.5 7 5.5 2 5.5 13 5.5 7 5.5 5 5.5 13 5.5 7 5.5 2 5.5 1 5.5 3 5.5 6 5.5 8"/><path d="M330 43l5.5 6 5.5 1 5.5 8 5.5 7 5.5 11 5.5 4 5.5 8 5.5 7 5.5 14 5.5 5 5.5 10 5.5 3 5.5 15 5.5 9 5.5 0 5.5 11 5.5 8 5.5 3 5.5 11 5.5 7 5.5 6 5.5 2 5.5 8 5.5 4 5.5 3 5.5-1 5.5 5 5.5 1 5.5 7"/><path d="M330 13l5.5 8 5.5 4 5.5 3 5.5 16 5.5 9 5.5 10 5.5 9 5.5 15 5.5 8 5.5 15 5.5 15 5.5 7 5.5 15 5.5 8 5.5 11 5.5 13 5.5 11 5.5 11 5.5 9 5.5 13 5.5 7 5.5 11 5.5 0 5.5 0 5.5 0 5.5 0 5.5 0 5.5 0 5.5-3"/><path d="M330 56l5.5 4 5.5 6 5.5 6 5.5 8 5.5 8 5.5 4 5.5 12 5.5 4 5.5 5 5.5 9 5.5 12 5.5 12 5.5 7 5.5 5 5.5 11 5.5 8 5.5 9 5.5 1 5.5 12 5.5 1 5.5 8 5.5 7 5.5 3 5.5 11 5.5-2 5.5 4 5.5-4 5.5 5 5.5 3"/><path d="M330 39l5.5 6 5.5 2 5.5 8 5.5 4 5.5 6 5.5 8 5.5 11 5.5 9 5.5 5 5.5 9 5.5 10 5.5 9 5.5 11 5.5 3 5.5 10 5.5 2 5.5 8 5.5 12 5.5 3 5.5 7 5.5 8 5.5 13 5.5 0 5.5 0 5.5 6 5.5 2 5.5 2 5.5 4 5.5 4"/><path d="M330 40l5.5-2 5.5 5 5.5 6 5.5 12 5.5 5 5.5 8 5.5 12 5.5 4 5.5 13 5.5 9 5.5 6 5.5 8 5.5 12 5.5 8 5.5 7 5.5 9 5.5 10 5.5 9 5.5 10 5.5 4 5.5 9 5.5 12 5.5 9 5.5 8 5.5 8 5.5-2 5.5 2 5.5-5 5.5 5"/><path d="M330 3l5.5 5 5.5 6 5.5 8 5.5 4 5.5 5 5.5 7 5.5 17 5.5 8 5.5 12 5.5 11 5.5 12 5.5 10 5.5 12 5.5 14 5.5 11 5.5 11 5.5 12 5.5 8 5.5 13 5.5 4 5.5 14 5.5 11 5.5 18 5.5 2 5.5 3 5.5 0 5.5 0 5.5 0 5.5-2"/><path d="M330 53l5.5 9 5.5 6 5.5 5 5.5 11 5.5 1 5.5 3 5.5 11 5.5 5 5.5 7 5.5 7 5.5 7 5.5 9 5.5 7 5.5 6 5.5 3 5.5 13 5.5 6 5.5 1 5.5 9 5.5 8 5.5 11 5.5 5 5.5 1 5.5 11 5.5 2 5.5 3 5.5 2 5.5 7 5.5 3"/><path d="M330 83l5.5-4 5.5 10 5.5 11 5.5 2 5.5 5 5.5 3 5.5 12 5.5 0 5.5 6 5.5 10 5.5 5 5.5 1 5.5 6 5.5 5 5.5 3 5.5 7 5.5 2 5.5 8 5.5 4 5.5 4 5.5 5 5.5 4 5.5 4 5.5-3 5.5 9 5.5-3 5.5 4 5.5-2 5.5 7"/><path d="M330 30l5.5-3 5.5 13 5.5 0 5.5 5 5.5 4 5.5 4 5.5 14 5.5 8 5.5 8 5.5 14 5.5 7 5.5 9 5.5 8 5.5 14 5.5 7 5.5 9 5.5 15 5.5 1 5.5 13 5.5 14 5.5 8 5.5 5 5.5 14 5.5 8 5.5-2 5.5 6 5.5 3 5.5 5 5.5-2"/><path d="M330 2l5.5-1 5.5 9 5.5 4 5.5 10 5.5 7 5.5 3 5.5 14 5.5 2 5.5 14 5.5 11 5.5 11 5.5 11 5.5 10 5.5 11 5.5 8 5.5 4 5.5 14 5.5 12 5.5 8 5.5 3 5.5 18 5.5 7 5.5 7 5.5 7 5.5 6 5.5-1 5.5 8 5.5 5 5.5 1"/><path d="M330 45l5.5-1 5.5 12 5.5 3 5.5 4 5.5 12 5.5 4 5.5 14 5.5 6 5.5 7 5.5 9 5.5 5 5.5 11 5.5 10 5.5 7 5.5 16 5.5 2 5.5 14 5.5 6 5.5 9 5.5 9 5.5 6 5.5 4 5.5 9 5.5 12 5.5 0 5.5-1 5.5 5 5.5 2 5.5-1"/><path d="M330 46l5.5 5 5.5 7 5.5 7 5.5 9 5.5 2 5.5 10 5.5 8 5.5 4 5.5 10 5.5 12 5.5 2 5.5 8 5.5 9 5.5 10 5.5 9 5.5 4 5.5 12 5.5 6 5.5 9 5.5 6 5.5 5 5.5 12 5.5 3 5.5 6 5.5 3 5.5 1 5.5 1 5.5 4 5.5 9"/><path d="M330 43l5.5 3 5.5 1 5.5 11 5.5 3 5.5 5 5.5 4 5.5 12 5.5 8 5.5 5 5.5 15 5.5 8 5.5 10 5.5 8 5.5 12 5.5 11 5.5 4 5.5 14 5.5 6 5.5 11 5.5 7 5.5 8 5.5 9 5.5 12 5.5-1 5.5 5 5.5 5 5.5 0 5.5 2 5.5-1"/><path d="M330 76l5.5-4 5.5 8 5.5 8 5.5 2 5.5 7 5.5 4 5.5 11 5.5-2 5.5 7 5.5 13 5.5 2 5.5 9 5.5 9 5.5 1 5.5 11 5.5 2 5.5 7 5.5 7 5.5 12 5.5 10 5.5 4 5.5 7 5.5 5 5.5 6 5.5-2 5.5 2 5.5 5 5.5 6 5.5 3"/><path d="M330 25l5.5 0 5.5 7 5.5 5 5.5 6 5.5 5 5.5 6 5.5 12 5.5 8 5.5 8 5.5 10 5.5 15 5.5 11 5.5 6 5.5 9 5.5 17 5.5 4 5.5 13 5.5 7 5.5 11 5.5 8 5.5 8 5.5 11 5.5 7 5.5 3 5.5 12 5.5 2 5.5 0 5.5 5 5.5 0"/><path d="M330 31l5.5 4 5.5 7 5.5 3 5.5 6 5.5 8 5.5 13 5.5 11 5.5 11 5.5 9 5.5 17 5.5 5 5.5 16 5.5 9 5.5 9 5.5 17 5.5 9 5.5 9 5.5 10 5.5 9 5.5 7 5.5 13 5.5 8 5.5 0 5.5 0 5.5 0 5.5 0 5.5 0 5.5-2 5.5-2"/><path d="M330 65l5.5 1 5.5 1 5.5 8 5.5 6 5.5 5 5.5-1 5.5 11 5.5 9 5.5 0 5.5 8 5.5 6 5.5 13 5.5 4 5.5 3 5.5 5 5.5 9 5.5 9 5.5 7 5.5 1 5.5 3 5.5 13 5.5 3 5.5 5 5.5 4 5.5 0 5.5 0 5.5-3 5.5 0 5.5 3"/><path d="M330 -3l5.5 7 5.5 5 5.5 5 5.5 5 5.5 10 5.5 7 5.5 13 5.5 9 5.5 9 5.5 12 5.5 14 5.5 14 5.5 9 5.5 19 5.5 19 5.5 12 5.5 10 5.5 11 5.5 11 5.5 15 5.5 13 5.5 10 5.5 5 5.5 0 5.5 0 5.5 0 5.5-3 5.5-3 5.5 2"/><path d="M330 34l5.5 1 5.5 9 5.5 11 5.5 2 5.5 8 5.5 8 5.5 14 5.5 9 5.5 7 5.5 17 5.5 3 5.5 9 5.5 12 5.5 9 5.5 10 5.5 11 5.5 12 5.5 9 5.5 8 5.5 8 5.5 13 5.5 9 5.5 8 5.5 0 5.5 0 5.5 0 5.5 0 5.5 0 5.5-2"/><path d="M330 52l5.5-1 5.5 12 5.5 1 5.5 12 5.5 4 5.5 11 5.5 15 5.5 2 5.5 11 5.5 6 5.5 15 5.5 7 5.5 2 5.5 15 5.5 5 5.5 7 5.5 12 5.5 6 5.5 6 5.5 11 5.5 4 5.5 13 5.5 3 5.5 5 5.5 5 5.5-1 5.5 1 5.5 0 5.5 0"/><path d="M330 33l5.5 0 5.5 12 5.5 6 5.5 5 5.5 12 5.5 10 5.5 7 5.5 12 5.5 12 5.5 5 5.5 16 5.5 9 5.5 8 5.5 12 5.5 9 5.5 16 5.5 7 5.5 2 5.5 11 5.5 14 5.5 10 5.5 4 5.5 7 5.5 2 5.5 0 5.5 0 5.5 0 5.5 0 5.5 0"/><path d="M330 48l5.5 3 5.5 5 5.5 4 5.5 5 5.5 13 5.5-2 5.5 4 5.5 13 5.5 3 5.5 10 5.5 8 5.5 7 5.5 7 5.5 3 5.5 14 5.5 6 5.5 10 5.5 9 5.5 11 5.5 4 5.5 9 5.5 6 5.5 11 5.5 4 5.5 0 5.5 4 5.5 4 5.5 0 5.5 9"/><path d="M330 39l5.5 1 5.5 3 5.5 6 5.5 6 5.5 10 5.5 2 5.5 7 5.5 15 5.5 2 5.5 12 5.5 6 5.5 7 5.5 12 5.5 10 5.5 9 5.5 8 5.5 15 5.5 5 5.5 7 5.5 6 5.5 11 5.5 10 5.5 11 5.5 2 5.5 3 5.5 8 5.5 1 5.5 7 5.5 0"/><path d="M330 -5l5.5 2 5.5 8 5.5 4 5.5 7 5.5 13 5.5 7 5.5 12 5.5 12 5.5 5 5.5 17 5.5 18 5.5 9 5.5 17 5.5 9 5.5 15 5.5 11 5.5 15 5.5 8 5.5 16 5.5 13 5.5 16 5.5 12 5.5 0 5.5 0 5.5 0 5.5 0 5.5-1 5.5-2 5.5 3"/><path d="M330 11l5.5 6 5.5 3 5.5 14 5.5-1 5.5 11 5.5 4 5.5 16 5.5 9 5.5 11 5.5 10 5.5 13 5.5 12 5.5 6 5.5 10 5.5 17 5.5 9 5.5 15 5.5 9 5.5 11 5.5 11 5.5 6 5.5 8 5.5 14 5.5 6 5.5 0 5.5 0 5.5 0 5.5 0 5.5-6"/><path d="M330 43l5.5 1 5.5 7 5.5 4 5.5 8 5.5 7 5.5 3 5.5 7 5.5 8 5.5 6 5.5 8 5.5 7 5.5 12 5.5 5 5.5 7 5.5 7 5.5 11 5.5 5 5.5 11 5.5 7 5.5 8 5.5 11 5.5 5 5.5 6 5.5 10 5.5 2 5.5-1 5.5 5 5.5 11 5.5 4"/><path d="M330 61l5.5 0 5.5 5 5.5 5 5.5 4 5.5 0 5.5 6 5.5 11 5.5 8 5.5 5 5.5 4 5.5 15 5.5 4 5.5 4 5.5 14 5.5 6 5.5 7 5.5 9 5.5 3 5.5 12 5.5 2 5.5 5 5.5 9 5.5 9 5.5 1 5.5 4 5.5 1 5.5 3 5.5 0 5.5 9"/><path d="M330 59l5.5 5 5.5 4 5.5 8 5.5 2 5.5 9 5.5 9 5.5 1 5.5 9 5.5 11 5.5 6 5.5 10 5.5 2 5.5 7 5.5 9 5.5 4 5.5 12 5.5 7 5.5 5 5.5 11 5.5 8 5.5 8 5.5 4 5.5 3 5.5 13 5.5 5 5.5-1 5.5 1 5.5 9 5.5 1"/><path d="M330 38l5.5-2 5.5 8 5.5 6 5.5-1 5.5 12 5.5 4 5.5 12 5.5 5 5.5 10 5.5 8 5.5 8 5.5 6 5.5 9 5.5 5 5.5 9 5.5 11 5.5 8 5.5 9 5.5 12 5.5 3 5.5 10 5.5 6 5.5 2 5.5 7 5.5 5 5.5 2 5.5 3 5.5 6 5.5 1"/><path d="M330 25l5.5-1 5.5 11 5.5 1 5.5 8 5.5 10 5.5 5 5.5 9 5.5 12 5.5 7 5.5 14 5.5 8 5.5 13 5.5 9 5.5 8 5.5 11 5.5 10 5.5 9 5.5 12 5.5 5 5.5 12 5.5 7 5.5 14 5.5 9 5.5 7 5.5 6 5.5 0 5.5 0 5.5 0 5.5-3"/><path d="M330 41l5.5 2 5.5 10 5.5 3 5.5 14 5.5 3 5.5 6 5.5 12 5.5 8 5.5 11 5.5 7 5.5 11 5.5 8 5.5 8 5.5 12 5.5 7 5.5 8 5.5 11 5.5 9 5.5 9 5.5 3 5.5 9 5.5 7 5.5 7 5.5 8 5.5 0 5.5 5 5.5 1 5.5 1 5.5 0"/><path d="M330 63l5.5-4 5.5 9 5.5 0 5.5 5 5.5 13 5.5-2 5.5 5 5.5 10 5.5 7 5.5 5 5.5 12 5.5 4 5.5 4 5.5 8 5.5 9 5.5 3 5.5 9 5.5 5 5.5 3 5.5 4 5.5 9 5.5 5 5.5 7 5.5 1 5.5 1 5.5 7 5.5-5 5.5 4 5.5 5"/><path d="M330 71l5.5-1 5.5 9 5.5-1 5.5 10 5.5 8 5.5 2 5.5 8 5.5 4 5.5 7 5.5 4 5.5 10 5.5 8 5.5 3 5.5 11 5.5 1 5.5 9 5.5 14 5.5 2 5.5 7 5.5 2 5.5 6 5.5 6 5.5 6 5.5 2 5.5 0 5.5 3 5.5 1 5.5 1 5.5 1"/><path d="M330 49l5.5 6 5.5 4 5.5 8 5.5 6 5.5 8 5.5 7 5.5 16 5.5 3 5.5 7 5.5 13 5.5 4 5.5 11 5.5 9 5.5 11 5.5 8 5.5 8 5.5 6 5.5 12 5.5 2 5.5 5 5.5 11 5.5 5 5.5 9 5.5 11 5.5 1 5.5 0 5.5 1 5.5 0 5.5 0"/><path d="M330 4l5.5 5 5.5 4 5.5 0 5.5 14 5.5 3 5.5 6 5.5 14 5.5 9 5.5 11 5.5 8 5.5 13 5.5 11 5.5 13 5.5 10 5.5 12 5.5 14 5.5 14 5.5 13 5.5 14 5.5 9 5.5 16 5.5 6 5.5 12 5.5 6 5.5 0 5.5 0 5.5 0 5.5-4 5.5 3"/><path d="M330 56l5.5 5 5.5 6 5.5 12 5.5 4 5.5 8 5.5 5 5.5 8 5.5 13 5.5 10 5.5 10 5.5 3 5.5 10 5.5 12 5.5 4 5.5 7 5.5 10 5.5 8 5.5 9 5.5 6 5.5 6 5.5 12 5.5 3 5.5 5 5.5 8 5.5-3 5.5 3 5.5 1 5.5-4 5.5 2"/><path d="M330 24l5.5 4 5.5 6 5.5 8 5.5 8 5.5 12 5.5 4 5.5 15 5.5 15 5.5 1 5.5 14 5.5 7 5.5 6 5.5 12 5.5 8 5.5 12 5.5 9 5.5 12 5.5 7 5.5 14 5.5 5 5.5 12 5.5 6 5.5 9 5.5 6 5.5 5 5.5-2 5.5 2 5.5 0 5.5-2"/><path d="M330 39l5.5 6 5.5 10 5.5 6 5.5 8 5.5 12 5.5 8 5.5 11 5.5 8 5.5 12 5.5 7 5.5 15 5.5 4 5.5 14 5.5 9 5.5 8 5.5 9 5.5 14 5.5 4 5.5 14 5.5 2 5.5 18 5.5-1 5.5 4 5.5 0 5.5 0 5.5 0 5.5 0 5.5 0 5.5 0"/><path d="M330 32l5.5-4 5.5 8 5.5 6 5.5 4 5.5 9 5.5 10 5.5 8 5.5 4 5.5 11 5.5 12 5.5 15 5.5 7 5.5 8 5.5 10 5.5 13 5.5 8 5.5 8 5.5 15 5.5 11 5.5 9 5.5 9 5.5 7 5.5 16 5.5 4 5.5 1 5.5 0 5.5 0 5.5 0 5.5 0"/><path d="M330 27l5.5 6 5.5 4 5.5 9 5.5 3 5.5 11 5.5 7 5.5 9 5.5 8 5.5 8 5.5 11 5.5 4 5.5 13 5.5 10 5.5 9 5.5 10 5.5 9 5.5 8 5.5 3 5.5 13 5.5 10 5.5 12 5.5 3 5.5 10 5.5 1 5.5-1 5.5 10 5.5 2 5.5 6 5.5 3"/><path d="M330 69l5.5 4 5.5 8 5.5 4 5.5 2 5.5 9 5.5 5 5.5 9 5.5 6 5.5 6 5.5 5 5.5 5 5.5 10 5.5 10 5.5 1 5.5 12 5.5 5 5.5 6 5.5 8 5.5 6 5.5 4 5.5 3 5.5 7 5.5 8 5.5-1 5.5 3 5.5 4 5.5-4 5.5 4 5.5-1"/><path d="M330 48l5.5 3 5.5 7 5.5 8 5.5 9 5.5 8 5.5 9 5.5 10 5.5 11 5.5 8 5.5 12 5.5 8 5.5 8 5.5 9 5.5 12 5.5 11 5.5 7 5.5 11 5.5 7 5.5 9 5.5 8 5.5 12 5.5 5 5.5 1 5.5 0 5.5 0 5.5 0 5.5 0 5.5 0 5.5-2"/><path d="M330 39l5.5 8 5.5 5 5.5 6 5.5 9 5.5 6 5.5 9 5.5 10 5.5 9 5.5 11 5.5 5 5.5 12 5.5 7 5.5 15 5.5 10 5.5 12 5.5 2 5.5 15 5.5 4 5.5 9 5.5 12 5.5 7 5.5 15 5.5 4 5.5 0 5.5 0 5.5 0 5.5-1 5.5-1 5.5 0"/><path d="M330 -5l5.5 1 5.5 6 5.5 12 5.5 5 5.5 6 5.5 6 5.5 12 5.5 14 5.5 11 5.5 11 5.5 13 5.5 11 5.5 13 5.5 13 5.5 15 5.5 13 5.5 10 5.5 14 5.5 11 5.5 15 5.5 13 5.5 12 5.5 9 5.5 0 5.5 0 5.5 0 5.5 0 5.5 0 5.5-2"/><path d="M330 26l5.5 5 5.5 12 5.5 3 5.5 9 5.5 14 5.5 2 5.5 14 5.5 14 5.5 11 5.5 11 5.5 8 5.5 13 5.5 7 5.5 11 5.5 19 5.5 1 5.5 16 5.5 8 5.5 11 5.5 9 5.5 9 5.5 6 5.5 2 5.5 0 5.5 0 5.5-1 5.5-2 5.5-2 5.5 2"/><path d="M330 30l5.5-2 5.5 11 5.5 1 5.5 10 5.5 12 5.5 3 5.5 10 5.5 9 5.5 11 5.5 12 5.5 12 5.5 11 5.5 13 5.5 5 5.5 17 5.5 1 5.5 13 5.5 13 5.5 6 5.5 16 5.5 8 5.5 7 5.5 10 5.5 2 5.5 0 5.5 0 5.5 0 5.5 0 5.5-4"/><path d="M330 67l5.5 1 5.5 5 5.5 5 5.5 6 5.5 4 5.5 5 5.5 9 5.5 4 5.5 7 5.5 10 5.5 7 5.5 7 5.5 10 5.5 3 5.5 13 5.5 6 5.5 7 5.5 7 5.5 4 5.5 11 5.5 7 5.5 3 5.5 11 5.5-2 5.5 9 5.5-1 5.5-2 5.5 8 5.5 1"/><path d="M330 31l5.5 0 5.5 0 5.5 7 5.5 5 5.5 5 5.5 1 5.5 11 5.5 9 5.5 3 5.5 12 5.5 10 5.5 14 5.5 11 5.5 10 5.5 7 5.5 12 5.5 9 5.5 9 5.5 8 5.5 6 5.5 16 5.5 7 5.5 7 5.5 9 5.5 4 5.5 3 5.5 3 5.5 6 5.5 6"/><path d="M330 38l5.5-3 5.5 9 5.5 6 5.5 12 5.5 2 5.5 6 5.5 10 5.5 12 5.5 7 5.5 13 5.5 9 5.5 11 5.5 13 5.5 7 5.5 13 5.5 11 5.5 8 5.5 13 5.5 13 5.5 1 5.5 12 5.5 8 5.5 6 5.5 4 5.5 0 5.5-1 5.5 1 5.5-3 5.5-2"/><path d="M330 38l5.5 5 5.5 3 5.5 7 5.5 5 5.5 8 5.5 13 5.5 7 5.5 8 5.5 12 5.5 6 5.5 13 5.5 7 5.5 10 5.5 8 5.5 14 5.5 6 5.5 9 5.5 14 5.5 5 5.5 10 5.5 7 5.5 14 5.5 7 5.5 5 5.5 0 5.5 0 5.5-1 5.5 0 5.5-4"/><path d="M330 40l5.5 5 5.5 11 5.5 1 5.5 11 5.5 11 5.5 4 5.5 11 5.5 11 5.5 8 5.5 6 5.5 7 5.5 10 5.5 9 5.5 11 5.5 7 5.5 12 5.5 5 5.5 7 5.5 12 5.5 8 5.5 9 5.5 10 5.5 10 5.5 1 5.5 4 5.5 0 5.5 0 5.5-1 5.5 1"/><path d="M330 45l5.5 0 5.5 1 5.5 10 5.5 4 5.5 8 5.5 5 5.5 11 5.5 9 5.5 11 5.5 9 5.5 4 5.5 11 5.5 8 5.5 10 5.5 6 5.5 14 5.5 10 5.5 4 5.5 6 5.5 11 5.5 12 5.5 3 5.5 9 5.5 1 5.5 3 5.5 4 5.5 0 5.5 0 5.5 9"/><path d="M330 26l5.5-3 5.5 10 5.5 8 5.5 4 5.5 13 5.5 5 5.5 11 5.5 13 5.5 12 5.5 12 5.5 11 5.5 12 5.5 11 5.5 9 5.5 18 5.5 10 5.5 13 5.5 8 5.5 11 5.5 9 5.5 5 5.5 8 5.5 5 5.5 0 5.5 0 5.5-1 5.5 0 5.5 0 5.5-3"/><path d="M330 32l5.5 5 5.5 2 5.5 11 5.5 4 5.5 8 5.5 6 5.5 11 5.5 7 5.5 8 5.5 8 5.5 9 5.5 8 5.5 3 5.5 8 5.5 5 5.5 9 5.5 11 5.5 6 5.5 12 5.5 6 5.5 6 5.5 12 5.5 10 5.5 2 5.5 8 5.5 4 5.5 1 5.5 10 5.5 4"/><path d="M330 45l5.5 5 5.5 9 5.5 3 5.5 7 5.5 12 5.5 6 5.5 12 5.5 6 5.5 9 5.5 12 5.5 10 5.5 14 5.5 4 5.5 10 5.5 14 5.5 7 5.5 13 5.5 5 5.5 9 5.5 17 5.5 7 5.5 5 5.5 0 5.5 0 5.5 0 5.5-1 5.5-1 5.5-1 5.5-1"/><path d="M330 51l5.5 9 5.5 3 5.5 7 5.5 3 5.5 11 5.5 3 5.5 11 5.5 11 5.5 0 5.5 12 5.5 6 5.5 17 5.5 2 5.5 8 5.5 9 5.5 8 5.5 10 5.5 5 5.5 7 5.5 6 5.5 4 5.5 9 5.5 10 5.5 6 5.5 4 5.5-3 5.5 4 5.5 1 5.5 3"/><path d="M330 57l5.5 1 5.5 5 5.5 8 5.5 0 5.5 8 5.5 9 5.5 8 5.5 5 5.5 9 5.5 12 5.5 12 5.5 6 5.5 6 5.5 13 5.5 11 5.5 2 5.5 9 5.5 9 5.5 6 5.5 7 5.5 9 5.5 0 5.5 8 5.5 3 5.5 0 5.5-3 5.5 9 5.5 1 5.5 1"/><path d="M330 11l5.5 10 5.5-1 5.5 2 5.5 5 5.5 10 5.5 4 5.5 10 5.5 4 5.5 15 5.5 8 5.5 12 5.5 8 5.5 14 5.5 10 5.5 14 5.5 10 5.5 14 5.5 11 5.5 9 5.5 15 5.5 9 5.5 13 5.5 13 5.5 11 5.5 0 5.5 0 5.5 0 5.5-2 5.5 1"/><path d="M330 80l5.5 4 5.5 3 5.5 6 5.5 4 5.5 4 5.5 4 5.5 7 5.5 2 5.5 4 5.5 7 5.5 7 5.5-1 5.5 7 5.5 7 5.5 9 5.5 4 5.5 7 5.5 8 5.5 2 5.5 6 5.5 8 5.5 3 5.5 8 5.5 4 5.5-1 5.5 5 5.5 0 5.5 3 5.5 3"/><path d="M330 -4l5.5 3 5.5 12 5.5 3 5.5 3 5.5 8 5.5 11 5.5 11 5.5 8 5.5 9 5.5 12 5.5 15 5.5 8 5.5 10 5.5 16 5.5 11 5.5 9 5.5 15 5.5 10 5.5 12 5.5 12 5.5 10 5.5 13 5.5 12 5.5 7 5.5 5 5.5 0 5.5-2 5.5-1 5.5 2"/><path d="M330 17l5.5 4 5.5 5 5.5 7 5.5 6 5.5 5 5.5 7 5.5 12 5.5 7 5.5 15 5.5 10 5.5 7 5.5 7 5.5 15 5.5 10 5.5 13 5.5 9 5.5 11 5.5 7 5.5 14 5.5 8 5.5 12 5.5 12 5.5 13 5.5 5 5.5 3 5.5 0 5.5-2 5.5-2 5.5 3"/><path d="M330 -38l5.5 1 5.5 2 5.5 6 5.5 8 5.5 7 5.5 3 5.5 5 5.5 2 5.5 3 5.5 12 5.5 19 5.5 12 5.5 15 5.5 10 5.5 15 5.5 11 5.5 9 5.5 10 5.5 12 5.5 10 5.5 9 5.5 15 5.5 16 5.5 6 5.5 9 5.5 6 5.5 5 5.5 1 5.5 1"/><path d="M330 53l5.5 6 5.5 5 5.5 5 5.5 7 5.5 11 5.5 2 5.5 15 5.5 4 5.5 7 5.5 9 5.5 9 5.5 7 5.5 7 5.5 9 5.5 8 5.5 5 5.5 11 5.5 8 5.5-3 5.5 7 5.5 12 5.5 4 5.5 9 5.5 2 5.5 3 5.5-3 5.5 0 5.5 7 5.5 1"/><path d="M330 32l5.5-1 5.5 7 5.5 7 5.5 0 5.5 7 5.5 5 5.5 7 5.5 8 5.5 14 5.5 8 5.5 8 5.5 8 5.5 6 5.5 11 5.5 7 5.5 12 5.5 7 5.5 7 5.5 11 5.5 6 5.5 11 5.5 2 5.5 9 5.5 5 5.5 4 5.5 4 5.5 1 5.5 0 5.5 10"/><path d="M330 31l5.5 5 5.5 12 5.5 11 5.5 6 5.5 11 5.5 8 5.5 15 5.5 4 5.5 9 5.5 14 5.5 9 5.5 8 5.5 11 5.5 7 5.5 18 5.5 5 5.5 8 5.5 9 5.5 12 5.5 7 5.5 8 5.5 9 5.5 4 5.5 0 5.5 0 5.5-1 5.5-2 5.5 3 5.5-3"/><path d="M330 64l5.5 3 5.5 8 5.5 3 5.5 7 5.5 7 5.5 8 5.5 6 5.5 6 5.5 8 5.5 5 5.5 4 5.5 6 5.5 8 5.5 6 5.5 8 5.5 9 5.5 3 5.5 3 5.5 8 5.5 4 5.5 3 5.5 7 5.5 7 5.5-1 5.5 3 5.5-6 5.5 4 5.5 2 5.5 6"/><path d="M330 56l5.5-6 5.5 7 5.5 6 5.5 4 5.5 7 5.5 5 5.5 7 5.5 7 5.5 9 5.5 9 5.5 3 5.5 14 5.5 5 5.5 9 5.5 7 5.5 7 5.5 13 5.5 1 5.5 18 5.5-2 5.5 9 5.5 7 5.5 7 5.5 4 5.5 6 5.5 3 5.5 1 5.5-2 5.5 6"/><path d="M330 57l5.5 5 5.5 3 5.5 3 5.5 3 5.5 4 5.5 5 5.5 10 5.5 7 5.5 6 5.5 3 5.5 8 5.5 9 5.5 6 5.5 6 5.5 10 5.5 6 5.5 4 5.5 15 5.5 6 5.5 1 5.5 16 5.5 6 5.5 5 5.5 3 5.5 6 5.5 2 5.5 2 5.5 6 5.5 6"/><path d="M330 55l5.5 5 5.5 10 5.5 0 5.5 6 5.5 6 5.5 0 5.5 9 5.5 8 5.5 5 5.5 8 5.5 6 5.5 5 5.5 5 5.5 4 5.5 7 5.5 12 5.5 8 5.5 2 5.5 6 5.5 7 5.5 6 5.5 6 5.5 8 5.5-2 5.5 9 5.5-4 5.5 6 5.5-3 5.5 0"/><path d="M330 55l5.5 3 5.5 3 5.5 13 5.5 5 5.5 10 5.5 2 5.5 15 5.5 11 5.5 4 5.5 5 5.5 15 5.5 7 5.5 9 5.5 5 5.5 12 5.5 8 5.5 9 5.5 4 5.5 10 5.5 5 5.5 14 5.5 3 5.5 10 5.5 4 5.5 0 5.5 0 5.5 0 5.5 0 5.5 0"/><path d="M330 49l5.5 4 5.5 7 5.5 3 5.5 3 5.5 7 5.5 3 5.5 6 5.5 10 5.5 8 5.5 3 5.5 8 5.5 4 5.5 13 5.5 6 5.5 11 5.5 7 5.5 11 5.5 3 5.5 12 5.5 12 5.5 3 5.5 10 5.5 8 5.5 5 5.5 8 5.5 0 5.5 2 5.5 3 5.5 8"/><path d="M330 41l5.5-2 5.5 9 5.5 3 5.5 4 5.5 7 5.5 0 5.5 12 5.5 7 5.5 9 5.5 7 5.5 3 5.5 10 5.5 7 5.5 7 5.5 11 5.5 6 5.5 14 5.5 2 5.5 7 5.5 8 5.5 12 5.5 4 5.5 2 5.5 12 5.5 3 5.5-1 5.5 3 5.5 10 5.5 0"/><path d="M330 37l5.5 4 5.5 6 5.5 6 5.5 5 5.5 12 5.5-3 5.5 16 5.5 10 5.5 9 5.5 11 5.5 7 5.5 9 5.5 2 5.5 14 5.5 15 5.5 6 5.5 12 5.5 10 5.5 7 5.5 6 5.5 11 5.5 10 5.5 11 5.5 5 5.5 3 5.5 0 5.5 0 5.5-1 5.5-3"/></g><g id="bRL"><path d="M165 41l5.5-5 5.5-4 5.5 0 5.5-1 5.5 2 5.5 4 5.5 6 5.5 5 5.5 12 5.5 3 5.5 11 5.5 6 5.5 11 5.5 6 5.5 5 5.5 7 5.5 7 5.5 10 5.5 6 5.5 11 5.5 7 5.5 9 5.5 9 5.5 10 5.5 8 5.5 2 5.5 12 5.5 8 5.5 2 5.5 9"/><path d="M165 40l5.5 1 5.5-6 5.5-1 5.5 3 5.5 2 5.5 2 5.5 12 5.5 1 5.5 10 5.5 4 5.5 8 5.5 9 5.5 10 5.5 5 5.5 7 5.5 8 5.5 8 5.5 5 5.5 9 5.5 4 5.5 12 5.5 10 5.5 6 5.5 7 5.5 4 5.5 5 5.5 5 5.5 6 5.5 8 5.5 0"/><path d="M165 43l5.5 3 5.5-6 5.5-4 5.5 7 5.5-3 5.5 8 5.5 5 5.5 7 5.5 3 5.5 10 5.5 6 5.5 13 5.5 10 5.5 8 5.5 3 5.5 11 5.5 11 5.5 11 5.5 4 5.5 10 5.5 5 5.5 9 5.5 9 5.5 8 5.5 7 5.5 9 5.5 6 5.5 10 5.5 6 5.5 8"/><path d="M165 39l5.5 0 5.5-2 5.5-4 5.5 1 5.5-1 5.5 3 5.5 6 5.5 8 5.5 3 5.5 10 5.5 10 5.5 10 5.5 9 5.5 6 5.5 6 5.5 12 5.5 7 5.5 10 5.5 8 5.5 6 5.5 12 5.5 3 5.5 12 5.5 7 5.5 7 5.5 10 5.5 5 5.5 5 5.5 3 5.5 9"/><path d="M165 30l5.5-3 5.5-1 5.5-6 5.5 2 5.5 0 5.5 9 5.5 5 5.5 4 5.5 12 5.5 4 5.5 8 5.5 17 5.5 9 5.5 7 5.5 9 5.5 8 5.5 12 5.5 10 5.5 8 5.5 8 5.5 18 5.5 4 5.5 12 5.5 9 5.5 10 5.5 9 5.5 13 5.5 4 5.5 5 5.5 5"/><path d="M165 33l5.5-4 5.5-1 5.5-1 5.5 3 5.5 2 5.5 5 5.5 5 5.5 8 5.5 15 5.5 2 5.5 10 5.5 9 5.5 5 5.5 12 5.5 12 5.5 7 5.5 9 5.5 10 5.5 9 5.5 11 5.5 8 5.5 9 5.5 6 5.5 9 5.5 11 5.5 13 5.5 8 5.5 10 5.5 2 5.5 4"/><path d="M165 35l5.5-3 5.5 0 5.5-5 5.5 4 5.5 4 5.5 2 5.5 7 5.5 13 5.5 4 5.5 4 5.5 15 5.5 0 5.5 13 5.5 15 5.5 4 5.5 5 5.5 11 5.5 8 5.5 10 5.5 8 5.5 6 5.5 12 5.5 10 5.5 8 5.5 8 5.5 10 5.5 9 5.5 4 5.5 0 5.5 9"/><path d="M165 45l5.5 0 5.5-3 5.5 1 5.5-2 5.5 1 5.5 0 5.5 13 5.5 7 5.5 7 5.5 15 5.5 7 5.5 8 5.5 10 5.5 8 5.5 4 5.5 11 5.5 10 5.5 3 5.5 12 5.5 7 5.5 4 5.5 9 5.5 12 5.5 4 5.5 6 5.5 9 5.5 4 5.5 11 5.5 4 5.5-2"/><path d="M165 30l5.5 3 5.5-6 5.5-4 5.5 3 5.5-3 5.5 12 5.5 0 5.5 12 5.5 7 5.5 6 5.5 9 5.5 11 5.5 12 5.5 7 5.5 15 5.5 5 5.5 6 5.5 9 5.5 14 5.5 6 5.5 11 5.5 8 5.5 15 5.5 7 5.5 13 5.5 5 5.5 10 5.5 8 5.5 2 5.5 8"/><path d="M165 41l5.5-9 5.5-1 5.5-5 5.5 4 5.5 0 5.5 9 5.5 6 5.5 10 5.5 6 5.5 8 5.5 8 5.5 8 5.5 10 5.5 9 5.5 8 5.5 9 5.5 8 5.5 8 5.5 5 5.5 8 5.5 13 5.5 10 5.5 7 5.5 11 5.5 8 5.5 7 5.5 12 5.5 5 5.5 4 5.5 5"/><path d="M165 33l5.5-4 5.5-2 5.5-8 5.5 7 5.5-3 5.5 9 5.5 5 5.5 7 5.5 9 5.5 6 5.5 8 5.5 10 5.5 16 5.5 7 5.5 13 5.5 8 5.5 12 5.5 10 5.5 13 5.5 11 5.5 8 5.5 15 5.5 9 5.5 7 5.5 13 5.5 9 5.5 3 5.5 8 5.5 2 5.5 0"/><path d="M165 51l5.5-3 5.5-2 5.5-7 5.5 2 5.5 7 5.5 3 5.5 3 5.5 5 5.5 13 5.5 3 5.5 9 5.5 7 5.5 10 5.5 8 5.5 7 5.5 11 5.5 5 5.5 7 5.5 11 5.5 3 5.5 4 5.5 12 5.5 7 5.5 12 5.5 2 5.5 15 5.5 6 5.5 6 5.5 4 5.5-2"/><path d="M165 37l5.5-1 5.5-4 5.5 1 5.5-5 5.5 9 5.5 2 5.5 7 5.5 7 5.5 9 5.5 12 5.5 6 5.5 6 5.5 12 5.5 6 5.5 14 5.5 6 5.5 14 5.5 7 5.5 11 5.5 4 5.5 19 5.5 4 5.5 14 5.5 8 5.5 13 5.5 7 5.5 12 5.5 2 5.5 2 5.5 0"/><path d="M165 51l5.5-2 5.5-8 5.5 1 5.5 3 5.5-4 5.5 2 5.5 10 5.5 4 5.5 1 5.5 9 5.5 5 5.5 11 5.5 4 5.5 9 5.5 10 5.5 8 5.5 7 5.5 3 5.5 8 5.5 9 5.5 6 5.5 7 5.5 11 5.5 9 5.5 7 5.5 6 5.5 6 5.5 6 5.5 10 5.5 8"/><path d="M165 49l5.5 5 5.5-2 5.5-5 5.5 6 5.5-2 5.5 6 5.5 9 5.5 3 5.5 10 5.5 0 5.5 10 5.5 12 5.5 9 5.5 2 5.5 6 5.5 11 5.5 2 5.5 11 5.5 8 5.5 5 5.5 13 5.5 8 5.5 4 5.5 9 5.5 12 5.5 6 5.5 3 5.5 5 5.5 6 5.5 1"/><path d="M165 40l5.5 3 5.5-2 5.5 0 5.5 2 5.5 6 5.5 0 5.5 11 5.5 9 5.5 6 5.5 3 5.5 6 5.5 16 5.5 9 5.5 7 5.5 6 5.5 9 5.5 10 5.5 3 5.5 8 5.5 10 5.5 7 5.5 9 5.5 4 5.5 13 5.5 2 5.5 7 5.5 5 5.5 10 5.5 2 5.5 5"/><path d="M165 30l5.5 4 5.5-6 5.5-2 5.5 3 5.5 6 5.5-2 5.5 10 5.5-1 5.5 11 5.5 7 5.5 6 5.5 13 5.5 9 5.5 7 5.5 7 5.5 4 5.5 12 5.5 5 5.5 4 5.5 9 5.5 16 5.5-1 5.5 14 5.5 5 5.5 11 5.5 8 5.5 3 5.5 9 5.5 5 5.5 4"/><path d="M165 40l5.5-1 5.5-4 5.5 0 5.5 4 5.5-5 5.5 8 5.5 8 5.5 1 5.5 8 5.5 10 5.5 4 5.5 12 5.5 5 5.5 9 5.5 4 5.5 15 5.5 5 5.5 9 5.5 11 5.5 8 5.5 16 5.5 5 5.5 12 5.5 13 5.5 8 5.5 7 5.5 6 5.5 14 5.5 5 5.5 4"/><path d="M165 40l5.5-3 5.5 1 5.5-4 5.5 5 5.5-1 5.5 10 5.5 3 5.5 11 5.5 5 5.5 10 5.5 9 5.5 13 5.5 13 5.5 4 5.5 7 5.5 6 5.5 10 5.5 6 5.5 10 5.5 9 5.5 15 5.5 5 5.5 10 5.5 8 5.5 10 5.5 4 5.5 15 5.5 7 5.5 1 5.5 2"/><path d="M165 33l5.5-3 5.5 1 5.5-5 5.5 2 5.5 3 5.5 2 5.5 8 5.5 9 5.5 10 5.5 6 5.5 14 5.5 5 5.5 12 5.5 11 5.5 3 5.5 11 5.5 16 5.5 2 5.5 9 5.5 10 5.5 9 5.5 11 5.5 11 5.5 5 5.5 10 5.5 5 5.5 5 5.5 8 5.5 5 5.5 5"/><path d="M165 46l5.5-10 5.5-4 5.5-3 5.5 0 5.5 0 5.5 3 5.5 8 5.5 10 5.5 6 5.5 12 5.5 5 5.5 6 5.5 4 5.5 9 5.5 11 5.5 1 5.5 12 5.5 6 5.5 5 5.5 8 5.5 16 5.5 6 5.5 15 5.5 3 5.5 12 5.5 8 5.5 7 5.5 10 5.5 10 5.5 10"/><path d="M165 22l5.5 2 5.5-5 5.5-6 5.5 2 5.5 0 5.5 6 5.5 5 5.5 7 5.5 4 5.5 9 5.5 10 5.5 3 5.5 14 5.5 8 5.5 9 5.5 13 5.5 11 5.5 9 5.5 11 5.5 10 5.5 12 5.5 11 5.5 11 5.5 17 5.5 11 5.5 11 5.5 3 5.5 13 5.5 7 5.5 1"/><path d="M165 46l5.5-3 5.5-1 5.5 3 5.5-3 5.5 7 5.5 0 5.5 8 5.5 10 5.5 6 5.5 7 5.5 3 5.5 7 5.5 13 5.5 7 5.5 5 5.5 8 5.5 6 5.5 6 5.5 10 5.5 12 5.5 3 5.5 17 5.5 3 5.5 12 5.5 5 5.5 6 5.5 10 5.5 2 5.5 3 5.5 3"/><path d="M165 42l5.5-6 5.5 0 5.5 1 5.5 1 5.5 6 5.5 4 5.5 8 5.5 9 5.5 8 5.5 8 5.5 7 5.5 7 5.5 9 5.5 4 5.5 6 5.5 13 5.5 6 5.5 11 5.5 5 5.5 10 5.5 16 5.5 4 5.5 10 5.5 9 5.5 7 5.5 9 5.5 6 5.5 10 5.5 4 5.5 3"/><path d="M165 15l5.5-1 5.5-8 5.5-3 5.5 5 5.5 2 5.5 0 5.5 7 5.5 9 5.5 5 5.5 11 5.5 8 5.5 14 5.5 7 5.5 14 5.5 14 5.5 13 5.5 8 5.5 15 5.5 5 5.5 17 5.5 12 5.5 13 5.5 10 5.5 20 5.5 7 5.5 15 5.5 7 5.5 0 5.5-1 5.5-1"/><path d="M165 37l5.5-5 5.5 3 5.5-4 5.5 2 5.5-2 5.5 3 5.5 6 5.5 8 5.5 8 5.5 9 5.5 9 5.5 12 5.5 7 5.5 9 5.5 5 5.5 10 5.5 4 5.5 4 5.5 11 5.5 6 5.5 11 5.5 7 5.5 6 5.5 11 5.5 10 5.5 5 5.5 6 5.5 9 5.5 3 5.5 5"/><path d="M165 48l5.5-3 5.5-4 5.5 3 5.5 1 5.5-2 5.5 4 5.5 8 5.5 5 5.5 4 5.5 12 5.5 4 5.5 6 5.5 8 5.5 7 5.5 1 5.5 16 5.5 6 5.5 3 5.5 12 5.5 5 5.5 11 5.5 10 5.5 6 5.5 7 5.5 10 5.5 5 5.5 10 5.5 7 5.5 4 5.5 9"/><path d="M165 40l5.5-1 5.5-5 5.5-1 5.5 2 5.5 5 5.5 1 5.5 6 5.5 8 5.5 7 5.5 10 5.5 2 5.5 10 5.5 3 5.5 9 5.5 5 5.5 7 5.5 8 5.5 5 5.5 11 5.5 5 5.5 10 5.5 5 5.5 8 5.5 8 5.5 9 5.5 6 5.5 11 5.5 5 5.5 3 5.5 11"/><path d="M165 24l5.5 0 5.5-7 5.5-1 5.5 2 5.5 2 5.5 7 5.5 8 5.5 7 5.5 3 5.5 10 5.5 14 5.5 9 5.5 12 5.5 11 5.5 3 5.5 12 5.5 13 5.5 7 5.5 16 5.5 9 5.5 11 5.5 12 5.5 11 5.5 9 5.5 8 5.5 18 5.5 9 5.5 2 5.5 0 5.5 0"/><path d="M165 37l5.5-4 5.5 0 5.5-8 5.5-1 5.5 4 5.5 4 5.5 14 5.5 1 5.5 8 5.5 4 5.5 12 5.5 7 5.5 11 5.5 6 5.5 14 5.5 6 5.5 10 5.5 10 5.5 8 5.5 8 5.5 10 5.5 10 5.5 10 5.5 14 5.5 7 5.5 8 5.5 13 5.5 5 5.5 7 5.5 6"/><path d="M165 38l5.5-4 5.5 1 5.5-3 5.5 1 5.5-2 5.5 8 5.5 8 5.5 9 5.5 4 5.5 7 5.5 6 5.5 11 5.5 7 5.5 8 5.5 6 5.5 3 5.5 9 5.5 7 5.5 8 5.5 6 5.5 10 5.5 6 5.5 15 5.5 7 5.5 9 5.5 3 5.5 10 5.5 8 5.5-1 5.5 11"/><path d="M165 42l5.5-3 5.5-5 5.5-3 5.5-1 5.5 5 5.5 4 5.5 10 5.5 1 5.5 11 5.5 7 5.5 9 5.5 8 5.5 6 5.5 8 5.5 8 5.5 6 5.5 13 5.5 4 5.5 7 5.5 8 5.5 13 5.5 4 5.5 9 5.5 11 5.5 7 5.5 5 5.5 12 5.5 4 5.5 8 5.5 1"/><path d="M165 51l5.5 1 5.5-5 5.5 0 5.5-3 5.5-2 5.5 6 5.5 10 5.5 8 5.5 2 5.5 5 5.5 8 5.5 6 5.5 12 5.5 2 5.5 11 5.5 5 5.5 7 5.5 9 5.5 3 5.5 12 5.5 5 5.5 10 5.5 7 5.5 11 5.5 14 5.5-1 5.5 4 5.5 11 5.5 2 5.5 2"/><path d="M165 25l5.5-1 5.5-3 5.5 0 5.5 1 5.5 4 5.5 8 5.5 3 5.5 7 5.5 12 5.5 3 5.5 16 5.5 6 5.5 11 5.5 10 5.5 4 5.5 8 5.5 9 5.5 9 5.5 12 5.5 7 5.5 9 5.5 11 5.5 8 5.5 8 5.5 12 5.5 6 5.5 7 5.5 1 5.5 10 5.5 7"/><path d="M165 46l5.5-2 5.5-6 5.5 1 5.5-2 5.5 4 5.5 3 5.5 2 5.5 9 5.5 10 5.5 3 5.5 7 5.5 5 5.5 18 5.5 1 5.5 8 5.5 6 5.5 10 5.5 5 5.5 13 5.5 6 5.5 10 5.5 6 5.5 8 5.5 9 5.5 10 5.5 12 5.5 2 5.5 7 5.5 7 5.5 5"/><path d="M165 50l5.5 4 5.5-4 5.5-4 5.5 2 5.5 2 5.5 3 5.5 11 5.5 3 5.5 3 5.5 8 5.5 6 5.5 8 5.5 13 5.5 2 5.5 11 5.5 5 5.5 6 5.5 1 5.5 14 5.5 5 5.5 8 5.5 10 5.5 10 5.5 2 5.5 12 5.5 10 5.5 7 5.5 7 5.5 2 5.5 3"/><path d="M165 26l5.5-2 5.5-4 5.5-11 5.5 7 5.5-1 5.5 12 5.5 1 5.5 6 5.5 7 5.5 9 5.5 10 5.5 10 5.5 9 5.5 15 5.5 3 5.5 10 5.5 16 5.5 2 5.5 11 5.5 10 5.5 12 5.5 7 5.5 17 5.5 0 5.5 18 5.5 5 5.5 9 5.5 6 5.5 11 5.5 5"/><path d="M165 40l5.5-8 5.5-1 5.5-5 5.5 2 5.5 4 5.5 2 5.5 10 5.5 4 5.5 6 5.5 10 5.5 8 5.5 4 5.5 12 5.5 6 5.5 5 5.5 11 5.5 9 5.5 2 5.5 13 5.5 4 5.5 9 5.5 7 5.5 9 5.5 7 5.5 8 5.5 9 5.5 7 5.5 1 5.5 2 5.5 5"/><path d="M165 44l5.5 3 5.5-4 5.5-8 5.5 4 5.5-3 5.5 8 5.5 5 5.5 7 5.5 6 5.5 6 5.5 7 5.5 5 5.5 13 5.5 4 5.5 7 5.5 14 5.5-1 5.5 14 5.5 5 5.5 8 5.5 13 5.5 6 5.5 11 5.5 5 5.5 11 5.5 5 5.5 14 5.5 3 5.5 3 5.5 5"/><path d="M165 37l5.5-1 5.5-3 5.5-5 5.5-1 5.5 8 5.5 5 5.5 5 5.5 11 5.5 1 5.5 16 5.5 5 5.5 5 5.5 7 5.5 12 5.5 8 5.5 6 5.5 12 5.5 5 5.5 13 5.5 10 5.5 12 5.5 3 5.5 15 5.5 11 5.5 7 5.5 5 5.5 13 5.5 6 5.5 8 5.5 5"/><path d="M165 22l5.5 0 5.5-6 5.5-5 5.5 5 5.5 2 5.5 2 5.5 5 5.5 9 5.5 8 5.5 9 5.5 13 5.5 7 5.5 11 5.5 12 5.5 5 5.5 12 5.5 11 5.5 7 5.5 11 5.5 8 5.5 10 5.5 11 5.5 13 5.5 4 5.5 10 5.5 8 5.5 8 5.5 4 5.5 11 5.5-2"/><path d="M165 38l5.5-3 5.5-5 5.5-2 5.5 2 5.5 3 5.5 0 5.5 3 5.5 10 5.5 7 5.5 9 5.5 7 5.5 11 5.5 6 5.5 12 5.5 5 5.5 8 5.5 6 5.5 11 5.5 8 5.5 7 5.5 19 5.5-2 5.5 16 5.5 6 5.5 8 5.5 14 5.5-1 5.5 13 5.5 2 5.5 7"/><path d="M165 31l5.5-6 5.5-3 5.5-6 5.5 0 5.5 6 5.5-1 5.5 5 5.5 6 5.5 3 5.5 7 5.5 10 5.5 7 5.5 11 5.5 6 5.5 9 5.5 9 5.5 13 5.5 10 5.5 6 5.5 10 5.5 14 5.5 9 5.5 14 5.5 10 5.5 6 5.5 17 5.5 8 5.5 9 5.5 7 5.5 4"/><path d="M165 58l5.5 1 5.5-3 5.5-4 5.5 5 5.5-2 5.5 8 5.5 9 5.5 3 5.5 8 5.5 1 5.5 11 5.5 1 5.5 11 5.5 9 5.5 4 5.5 6 5.5 4 5.5 8 5.5 7 5.5 7 5.5 9 5.5 8 5.5 8 5.5 5 5.5 6 5.5 10 5.5 4 5.5 8 5.5 2 5.5-1"/><path d="M165 46l5.5-8 5.5-2 5.5-4 5.5 3 5.5 3 5.5 2 5.5 3 5.5 9 5.5 10 5.5 11 5.5 9 5.5 13 5.5 5 5.5 12 5.5 6 5.5 6 5.5 8 5.5 6 5.5 8 5.5 10 5.5 11 5.5 5 5.5 12 5.5 7 5.5 10 5.5 8 5.5 6 5.5 9 5.5 5 5.5 5"/><path d="M165 42l5.5-1 5.5-3 5.5-1 5.5 4 5.5 1 5.5 1 5.5 10 5.5 5 5.5 1 5.5 14 5.5 8 5.5 12 5.5 4 5.5 9 5.5 8 5.5 8 5.5 7 5.5 8 5.5 6 5.5 9 5.5 7 5.5 6 5.5 8 5.5 9 5.5 13 5.5 0 5.5 6 5.5 10 5.5 6 5.5-1"/><path d="M165 33l5.5-2 5.5-6 5.5 2 5.5 2 5.5-2 5.5 5 5.5 10 5.5 11 5.5 7 5.5 8 5.5 10 5.5 8 5.5 8 5.5 8 5.5 17 5.5 2 5.5 9 5.5 10 5.5 8 5.5 10 5.5 6 5.5 7 5.5 16 5.5 7 5.5 0 5.5 13 5.5 6 5.5 6 5.5 3 5.5 3"/><path d="M165 23l5.5-3 5.5-9 5.5 3 5.5 1 5.5 2 5.5 0 5.5 12 5.5 9 5.5 7 5.5 5 5.5 12 5.5 10 5.5 14 5.5 2 5.5 15 5.5 11 5.5 10 5.5 7 5.5 12 5.5 13 5.5 12 5.5 10 5.5 9 5.5 7 5.5 16 5.5 8 5.5 11 5.5 12 5.5 0 5.5 0"/><path d="M165 48l5.5-3 5.5-6 5.5-5 5.5 5 5.5 0 5.5 4 5.5 12 5.5 7 5.5 7 5.5 16 5.5-1 5.5 9 5.5 12 5.5 10 5.5 6 5.5 7 5.5 10 5.5 4 5.5 10 5.5 10 5.5 8 5.5 5 5.5 11 5.5 7 5.5 9 5.5 5 5.5 10 5.5 3 5.5 3 5.5 4"/><path d="M165 35l5.5-2 5.5-4 5.5-4 5.5 4 5.5-2 5.5 8 5.5 4 5.5 12 5.5 0 5.5 8 5.5 10 5.5 9 5.5 10 5.5 7 5.5 7 5.5 4 5.5 12 5.5 4 5.5 13 5.5 5 5.5 8 5.5 10 5.5 15 5.5 4 5.5 4 5.5 13 5.5 9 5.5 7 5.5 2 5.5 10"/><path d="M165 46l5.5-4 5.5-3 5.5-3 5.5 5 5.5-2 5.5 6 5.5 12 5.5 3 5.5 10 5.5 6 5.5 4 5.5 7 5.5 18 5.5 10 5.5 5 5.5 7 5.5 7 5.5 9 5.5 8 5.5 7 5.5 11 5.5 11 5.5 10 5.5 5 5.5 11 5.5 10 5.5 5 5.5 9 5.5 6 5.5 5"/><path d="M165 30l5.5 2 5.5-2 5.5-2 5.5 0 5.5 3 5.5 4 5.5 8 5.5 8 5.5 7 5.5 7 5.5 9 5.5 10 5.5 6 5.5 7 5.5 9 5.5 9 5.5 3 5.5 15 5.5 4 5.5 13 5.5 9 5.5 9 5.5 12 5.5 3 5.5 14 5.5 7 5.5 11 5.5 3 5.5 11 5.5 5"/><path d="M165 49l5.5-3 5.5-2 5.5-8 5.5 3 5.5 5 5.5 2 5.5 4 5.5 9 5.5 5 5.5 11 5.5 8 5.5 9 5.5 9 5.5 3 5.5 6 5.5 9 5.5 6 5.5 7 5.5 3 5.5 10 5.5 13 5.5 4 5.5 6 5.5 9 5.5 5 5.5 9 5.5 1 5.5 9 5.5 1 5.5 2"/><path d="M165 45l5.5-3 5.5 1 5.5-7 5.5 3 5.5-7 5.5 11 5.5 3 5.5 6 5.5 7 5.5 8 5.5 7 5.5 4 5.5 7 5.5 11 5.5 8 5.5 8 5.5 5 5.5 8 5.5 6 5.5 10 5.5 11 5.5 8 5.5 8 5.5 12 5.5 6 5.5 6 5.5 12 5.5 5 5.5 4 5.5 8"/><path d="M165 29l5.5 4 5.5-5 5.5 0 5.5-5 5.5 2 5.5 6 5.5 2 5.5 9 5.5 8 5.5 6 5.5 8 5.5 11 5.5 5 5.5 15 5.5 6 5.5 10 5.5 10 5.5 5 5.5 7 5.5 10 5.5 17 5.5 5 5.5 13 5.5 10 5.5 12 5.5 7 5.5 9 5.5 11 5.5 8 5.5 3"/><path d="M165 29l5.5-4 5.5 2 5.5-5 5.5 5 5.5 2 5.5 4 5.5 4 5.5 12 5.5 8 5.5 7 5.5 11 5.5 9 5.5 9 5.5 8 5.5 10 5.5 10 5.5 10 5.5 7 5.5 12 5.5 9 5.5 12 5.5 5 5.5 14 5.5 5 5.5 13 5.5 6 5.5 9 5.5 7 5.5 6 5.5 4"/><path d="M165 55l5.5 0 5.5-10 5.5-4 5.5 5 5.5 3 5.5 2 5.5 15 5.5 3 5.5 3 5.5 1 5.5 10 5.5 7 5.5 7 5.5 10 5.5 5 5.5 5 5.5 6 5.5 9 5.5 6 5.5 8 5.5 12 5.5 4 5.5 13 5.5 3 5.5 9 5.5 12 5.5 3 5.5 6 5.5 6 5.5 1"/><path d="M165 41l5.5-2 5.5-5 5.5-7 5.5 3 5.5 2 5.5 8 5.5 8 5.5 7 5.5 16 5.5 4 5.5 12 5.5 6 5.5 13 5.5 8 5.5 7 5.5 8 5.5 9 5.5 5 5.5 8 5.5 17 5.5 9 5.5 6 5.5 10 5.5 5 5.5 13 5.5 4 5.5 14 5.5 8 5.5 1 5.5 3"/><path d="M165 52l5.5 0 5.5-2 5.5-2 5.5-1 5.5 6 5.5 2 5.5 9 5.5 6 5.5 9 5.5 12 5.5 0 5.5 9 5.5 9 5.5 7 5.5 3 5.5 11 5.5 1 5.5 8 5.5 6 5.5 10 5.5 5 5.5 9 5.5 6 5.5 11 5.5 5 5.5 7 5.5 5 5.5 9 5.5 7 5.5 1"/><path d="M165 40l5.5-8 5.5 1 5.5-1 5.5 0 5.5 1 5.5 5 5.5 3 5.5 11 5.5 12 5.5 9 5.5 5 5.5 7 5.5 12 5.5 7 5.5 8 5.5 13 5.5 9 5.5 7 5.5 6 5.5 10 5.5 13 5.5 6 5.5 13 5.5 4 5.5 13 5.5 13 5.5 4 5.5 6 5.5 4 5.5 8"/><path d="M165 50l5.5 0 5.5-6 5.5-3 5.5 1 5.5 1 5.5 3 5.5 10 5.5 5 5.5 4 5.5 9 5.5 4 5.5 10 5.5 7 5.5 7 5.5 9 5.5 9 5.5 7 5.5 6 5.5 3 5.5 9 5.5 9 5.5 5 5.5 15 5.5 2 5.5 15 5.5 5 5.5 7 5.5 7 5.5 7 5.5 4"/><path d="M165 28l5.5-3 5.5 3 5.5-6 5.5 0 5.5-2 5.5 6 5.5 14 5.5 2 5.5 13 5.5 7 5.5 9 5.5 14 5.5 7 5.5 15 5.5 3 5.5 14 5.5 5 5.5 14 5.5 8 5.5 7 5.5 12 5.5 7 5.5 9 5.5 14 5.5 16 5.5 6 5.5 2 5.5 11 5.5 1 5.5 5"/><path d="M165 32l5.5-3 5.5-6 5.5-4 5.5 1 5.5 5 5.5 1 5.5 6 5.5 8 5.5 7 5.5 5 5.5 9 5.5 11 5.5 8 5.5 12 5.5 2 5.5 9 5.5 8 5.5 12 5.5 7 5.5 5 5.5 12 5.5 6 5.5 14 5.5 4 5.5 14 5.5 9 5.5 6 5.5 12 5.5 6 5.5 5"/><path d="M165 26l5.5-2 5.5-4 5.5-1 5.5 2 5.5-2 5.5 6 5.5 4 5.5 13 5.5 7 5.5 14 5.5 5 5.5 11 5.5 9 5.5 14 5.5 9 5.5 5 5.5 7 5.5 15 5.5 6 5.5 12 5.5 11 5.5 9 5.5 11 5.5 11 5.5 15 5.5 16 5.5 9 5.5 3 5.5 0 5.5 0"/><path d="M165 43l5.5-3 5.5-10 5.5 6 5.5 0 5.5 8 5.5 3 5.5 13 5.5 5 5.5 7 5.5 8 5.5 8 5.5 7 5.5 12 5.5 8 5.5 2 5.5 15 5.5 6 5.5 12 5.5 10 5.5-2 5.5 13 5.5 6 5.5 8 5.5 11 5.5 5 5.5 4 5.5 7 5.5 6 5.5 0 5.5 7"/><path d="M165 29l5.5 2 5.5-4 5.5-2 5.5 6 5.5-5 5.5 7 5.5 10 5.5 5 5.5 13 5.5 4 5.5 7 5.5 10 5.5 10 5.5 9 5.5 9 5.5 3 5.5 13 5.5 7 5.5 6 5.5 14 5.5 11 5.5 4 5.5 13 5.5 6 5.5 8 5.5 10 5.5 9 5.5 5 5.5 4 5.5 7"/><path d="M165 47l5.5 1 5.5-7 5.5-1 5.5 1 5.5 1 5.5 1 5.5 13 5.5 5 5.5-1 5.5 15 5.5 8 5.5 5 5.5 10 5.5 11 5.5 6 5.5 11 5.5 10 5.5 6 5.5 6 5.5 7 5.5 7 5.5 6 5.5 10 5.5 12 5.5 10 5.5 1 5.5 12 5.5 5 5.5 2 5.5 5"/><path d="M165 44l5.5 1 5.5-5 5.5-2 5.5 0 5.5 0 5.5 12 5.5 7 5.5 9 5.5 10 5.5 6 5.5 8 5.5 11 5.5 11 5.5 8 5.5 7 5.5 14 5.5 9 5.5 3 5.5 10 5.5 11 5.5 6 5.5 8 5.5 4 5.5 12 5.5 3 5.5 5 5.5 10 5.5 10 5.5 3 5.5 2"/><path d="M165 34l5.5-5 5.5-1 5.5-4 5.5 5 5.5 2 5.5 5 5.5 4 5.5 11 5.5 7 5.5 8 5.5 4 5.5 14 5.5 8 5.5 12 5.5 7 5.5 7 5.5 10 5.5 7 5.5 11 5.5 4 5.5 11 5.5 12 5.5 9 5.5 11 5.5 7 5.5 7 5.5 8 5.5 6 5.5 3 5.5 2"/><path d="M165 39l5.5-3 5.5-5 5.5-2 5.5 2 5.5-1 5.5 6 5.5 8 5.5 5 5.5 7 5.5 3 5.5 11 5.5 11 5.5 4 5.5 11 5.5 10 5.5 10 5.5 6 5.5 8 5.5 8 5.5 13 5.5 5 5.5 11 5.5 2 5.5 11 5.5 5 5.5 9 5.5 6 5.5 8 5.5 8 5.5 5"/><path d="M165 21l5.5 0 5.5-7 5.5-4 5.5 1 5.5 3 5.5 6 5.5 11 5.5 7 5.5 11 5.5 1 5.5 12 5.5 13 5.5 14 5.5 9 5.5 8 5.5 18 5.5 7 5.5 10 5.5 8 5.5 12 5.5 16 5.5 11 5.5 10 5.5 11 5.5 9 5.5 17 5.5 4 5.5 2 5.5-2 5.5 1"/><path d="M165 33l5.5-1 5.5-1 5.5-3 5.5 2 5.5 4 5.5 9 5.5 7 5.5 3 5.5 10 5.5 12 5.5 11 5.5 10 5.5 12 5.5 7 5.5 12 5.5 7 5.5 15 5.5 2 5.5 22 5.5 0 5.5 7 5.5 17 5.5 8 5.5 10 5.5 5 5.5 12 5.5 2 5.5 4 5.5 3 5.5 0"/><path d="M165 14l5.5-2 5.5-5 5.5-3 5.5 9 5.5 1 5.5 5 5.5 6 5.5 8 5.5 8 5.5 16 5.5 7 5.5 10 5.5 15 5.5 13 5.5 8 5.5 9 5.5 12 5.5 9 5.5 8 5.5 12 5.5 8 5.5 9 5.5 14 5.5 10 5.5 13 5.5 2 5.5 12 5.5 6 5.5 4 5.5 3"/><path d="M165 37l5.5-3 5.5 3 5.5-5 5.5 4 5.5-4 5.5 6 5.5 7 5.5 5 5.5 4 5.5 15 5.5 7 5.5 8 5.5 7 5.5 11 5.5 7 5.5 13 5.5 4 5.5 9 5.5 8 5.5 10 5.5 15 5.5 4 5.5 14 5.5 7 5.5 7 5.5 10 5.5 14 5.5 2 5.5 12 5.5 3"/><path d="M165 54l5.5-3 5.5-1 5.5-6 5.5-1 5.5 2 5.5-2 5.5 9 5.5 5 5.5 2 5.5 10 5.5 4 5.5 11 5.5 10 5.5-1 5.5 5 5.5 6 5.5 6 5.5 8 5.5 5 5.5 6 5.5 11 5.5 2 5.5 9 5.5 7 5.5 15 5.5 7 5.5 10 5.5 4 5.5 6 5.5 6"/><path d="M165 56l5.5-5 5.5-1 5.5-2 5.5 0 5.5 1 5.5-1 5.5 12 5.5 1 5.5 5 5.5 4 5.5 8 5.5 3 5.5 4 5.5 7 5.5 8 5.5 1 5.5 10 5.5-1 5.5 10 5.5 2 5.5 10 5.5 8 5.5 10 5.5 5 5.5 8 5.5 14 5.5 7 5.5 9 5.5-2 5.5 9"/><path d="M165 46l5.5-6 5.5-1 5.5-7 5.5 3 5.5 1 5.5 0 5.5 9 5.5 7 5.5 8 5.5 8 5.5 7 5.5 5 5.5 11 5.5 10 5.5 2 5.5 12 5.5 10 5.5 7 5.5 7 5.5 12 5.5 10 5.5 1 5.5 17 5.5 7 5.5 7 5.5 6 5.5 8 5.5 7 5.5 7 5.5 0"/><path d="M165 37l5.5-2 5.5-4 5.5-2 5.5 0 5.5 0 5.5 3 5.5 12 5.5 5 5.5 8 5.5 7 5.5 5 5.5 15 5.5 7 5.5 9 5.5 10 5.5 9 5.5 13 5.5 8 5.5 9 5.5 7 5.5 9 5.5 12 5.5 17 5.5 8 5.5 7 5.5 10 5.5 6 5.5 12 5.5 3 5.5 1"/><path d="M165 54l5.5-3 5.5 0 5.5-6 5.5 4 5.5-1 5.5 3 5.5 12 5.5 1 5.5 8 5.5 8 5.5 10 5.5 2 5.5 14 5.5 5 5.5 9 5.5 8 5.5 9 5.5 4 5.5 10 5.5 6 5.5 8 5.5 11 5.5 8 5.5 6 5.5-1 5.5 16 5.5 1 5.5 9 5.5 1 5.5 6"/><path d="M165 28l5.5-7 5.5 3 5.5-4 5.5 2 5.5 2 5.5 9 5.5 7 5.5 6 5.5 12 5.5 6 5.5 13 5.5 9 5.5 13 5.5 8 5.5 14 5.5 8 5.5 11 5.5 13 5.5 2 5.5 16 5.5 8 5.5 3 5.5 12 5.5 3 5.5 11 5.5 13 5.5 5 5.5 6 5.5 6 5.5 3"/><path d="M165 45l5.5 1 5.5-6 5.5-3 5.5 3 5.5-2 5.5 10 5.5 6 5.5 11 5.5 4 5.5 11 5.5 1 5.5 12 5.5 6 5.5 7 5.5 6 5.5 9 5.5 7 5.5 5 5.5 8 5.5 9 5.5 4 5.5 7 5.5 8 5.5 8 5.5 5 5.5 7 5.5 5 5.5 10 5.5 0 5.5 4"/><path d="M165 27l5.5 3 5.5-8 5.5-5 5.5 5 5.5-2 5.5 9 5.5 8 5.5 7 5.5 7 5.5 8 5.5 7 5.5 14 5.5 6 5.5 12 5.5 12 5.5 3 5.5 12 5.5 10 5.5 12 5.5 8 5.5 11 5.5 9 5.5 13 5.5 11 5.5 12 5.5 6 5.5 10 5.5 6 5.5 7 5.5 1"/><path d="M165 37l5.5-6 5.5-3 5.5-1 5.5 5 5.5-1 5.5 6 5.5 10 5.5 8 5.5 12 5.5 7 5.5 2 5.5 14 5.5 9 5.5 8 5.5 8 5.5 9 5.5 1 5.5 14 5.5 4 5.5 9 5.5 7 5.5 11 5.5 5 5.5 11 5.5 4 5.5 6 5.5 9 5.5 6 5.5 1 5.5 6"/><path d="M165 48l5.5-1 5.5-4 5.5 0 5.5 0 5.5 1 5.5 2 5.5 7 5.5 7 5.5 7 5.5 9 5.5 5 5.5 8 5.5 7 5.5 8 5.5 9 5.5 13 5.5 4 5.5 8 5.5 9 5.5 7 5.5 6 5.5 8 5.5 8 5.5 4 5.5 14 5.5 9 5.5 4 5.5 5 5.5 2 5.5 6"/><path d="M165 55l5.5-4 5.5-1 5.5-6 5.5 3 5.5 2 5.5 0 5.5 13 5.5 4 5.5 6 5.5 9 5.5 9 5.5 10 5.5 8 5.5 4 5.5 6 5.5 13 5.5 11 5.5 0 5.5 11 5.5 10 5.5 10 5.5 9 5.5 5 5.5 13 5.5 6 5.5 10 5.5 2 5.5 6 5.5 5 5.5 7"/><path d="M165 51l5.5-1 5.5-3 5.5-10 5.5 7 5.5 0 5.5 3 5.5 6 5.5 5 5.5 6 5.5 7 5.5 5 5.5 2 5.5 13 5.5 5 5.5 6 5.5 7 5.5 7 5.5 7 5.5 10 5.5 4 5.5 10 5.5 6 5.5 6 5.5 9 5.5 9 5.5 11 5.5 3 5.5 6 5.5 4 5.5 3"/><path d="M165 50l5.5 0 5.5-4 5.5-6 5.5 2 5.5 8 5.5 0 5.5 6 5.5 6 5.5 8 5.5 2 5.5 8 5.5 10 5.5 2 5.5 10 5.5 11 5.5 5 5.5 6 5.5 12 5.5 4 5.5 12 5.5 7 5.5 14 5.5 8 5.5 5 5.5 12 5.5 9 5.5 9 5.5 11 5.5-1 5.5 9"/><path d="M165 41l5.5-3 5.5-6 5.5-4 5.5 1 5.5 3 5.5 0 5.5 14 5.5 4 5.5 5 5.5 8 5.5 9 5.5 9 5.5 10 5.5 10 5.5 8 5.5 15 5.5 9 5.5 3 5.5 10 5.5 9 5.5 10 5.5 7 5.5 10 5.5 13 5.5 9 5.5 8 5.5 13 5.5 3 5.5 9 5.5 4"/><path d="M165 19l5.5-7 5.5-4 5.5 0 5.5 0 5.5 0 5.5 5 5.5 5 5.5 10 5.5 11 5.5 9 5.5 9 5.5 7 5.5 11 5.5 7 5.5 12 5.5 16 5.5 11 5.5 9 5.5 6 5.5 16 5.5 15 5.5 13 5.5 10 5.5 6 5.5 11 5.5 12 5.5 13 5.5 8 5.5 1 5.5 0"/><path d="M165 43l5.5-3 5.5-6 5.5 0 5.5 1 5.5-3 5.5 4 5.5 9 5.5 2 5.5 10 5.5 5 5.5 10 5.5 10 5.5 7 5.5 9 5.5 6 5.5 5 5.5 9 5.5 10 5.5 13 5.5 6 5.5 15 5.5 9 5.5 5 5.5 14 5.5 8 5.5 8 5.5 16 5.5 6 5.5 5 5.5 8"/><path d="M165 48l5.5-7 5.5-4 5.5-3 5.5-3 5.5 8 5.5 0 5.5 3 5.5 14 5.5 10 5.5 3 5.5 7 5.5 14 5.5 6 5.5 9 5.5 9 5.5 11 5.5 8 5.5 5 5.5 6 5.5 12 5.5 11 5.5 7 5.5 12 5.5 6 5.5 5 5.5 10 5.5 4 5.5 14 5.5 2 5.5 7"/><path d="M165 19l5.5-6 5.5-7 5.5-2 5.5-1 5.5 3 5.5 5 5.5 8 5.5 7 5.5 6 5.5 9 5.5 6 5.5 14 5.5 15 5.5 5 5.5 12 5.5 11 5.5 14 5.5 10 5.5 8 5.5 16 5.5 8 5.5 15 5.5 9 5.5 14 5.5 11 5.5 5 5.5 14 5.5 11 5.5 1 5.5 1"/><path d="M165 33l5.5 5 5.5-10 5.5 2 5.5 2 5.5-1 5.5 5 5.5 12 5.5 6 5.5 6 5.5 9 5.5 8 5.5 13 5.5 10 5.5 5 5.5 13 5.5 0 5.5 18 5.5 9 5.5 8 5.5 7 5.5 11 5.5 8 5.5 6 5.5 14 5.5 7 5.5 2 5.5 9 5.5 7 5.5 7 5.5 5"/><path d="M165 34l5.5 7 5.5-7 5.5 0 5.5 6 5.5-2 5.5 9 5.5 8 5.5 8 5.5 11 5.5 12 5.5 1 5.5 8 5.5 12 5.5 7 5.5 13 5.5 8 5.5 6 5.5 8 5.5 10 5.5 8 5.5 9 5.5 11 5.5 5 5.5 9 5.5 12 5.5 9 5.5 5 5.5 7 5.5 4 5.5 1"/><path d="M165 56l5.5-1 5.5-4 5.5-5 5.5 3 5.5 2 5.5 1 5.5 11 5.5 8 5.5 1 5.5 4 5.5 6 5.5 7 5.5 12 5.5 3 5.5 8 5.5 9 5.5 7 5.5 7 5.5 9 5.5 4 5.5 9 5.5 5 5.5 8 5.5 9 5.5 6 5.5 10 5.5 0 5.5 5 5.5 8 5.5 3"/><path d="M165 43l5.5-1 5.5-4 5.5 0 5.5 2 5.5 4 5.5 1 5.5 8 5.5 6 5.5 6 5.5 7 5.5 6 5.5 9 5.5 10 5.5 4 5.5 9 5.5 10 5.5 6 5.5 6 5.5 11 5.5 3 5.5 12 5.5 5 5.5 12 5.5 7 5.5 12 5.5 10 5.5 3 5.5 16 5.5 3 5.5 10"/><path d="M165 37l5.5-7 5.5 2 5.5-3 5.5 5 5.5 0 5.5 5 5.5 3 5.5 5 5.5 10 5.5 5 5.5 7 5.5 9 5.5 10 5.5 10 5.5 9 5.5 9 5.5 8 5.5 8 5.5 7 5.5 11 5.5 10 5.5 11 5.5 9 5.5 9 5.5 12 5.5 9 5.5 7 5.5 15 5.5 6 5.5 3"/><path d="M165 52l5.5 0 5.5-1 5.5-5 5.5 1 5.5-1 5.5 6 5.5 5 5.5 4 5.5 8 5.5 11 5.5 6 5.5 13 5.5 6 5.5 8 5.5 9 5.5 4 5.5 6 5.5 12 5.5 8 5.5 5 5.5 10 5.5 8 5.5 8 5.5 6 5.5 11 5.5 17 5.5-2 5.5 11 5.5 8 5.5 0"/><path d="M165 51l5.5-1 5.5-4 5.5 4 5.5 6 5.5-4 5.5 5 5.5 9 5.5 8 5.5 10 5.5 6 5.5 8 5.5 11 5.5 7 5.5 10 5.5 9 5.5 6 5.5 6 5.5 6 5.5 11 5.5 6 5.5 2 5.5 7 5.5 15 5.5 6 5.5 1 5.5 11 5.5 7 5.5 13 5.5 1 5.5 4"/><path d="M165 33l5.5-1 5.5-4 5.5-1 5.5 0 5.5 9 5.5 5 5.5 11 5.5 4 5.5 13 5.5 10 5.5 7 5.5 12 5.5 9 5.5 16 5.5 8 5.5 15 5.5 11 5.5 6 5.5 16 5.5 9 5.5 9 5.5 14 5.5 8 5.5 11 5.5 9 5.5 2 5.5-1 5.5-1 5.5 0 5.5-1"/></g><g id="bRLR"><path d="M330 219l5.5 4 5.5 1 5.5 8 5.5-1 5.5 7 5.5 0 5.5-1 5.5-2 5.5-2 5.5-4 5.5-5 5.5 1 5.5-4 5.5-7 5.5 2 5.5-13 5.5-9 5.5-14 5.5-12 5.5-23 5.5-8 5.5-14 5.5-13 5.5-20 5.5-13 5.5-14 5.5-11 5.5-20 5.5-15"/><path d="M330 204l5.5 5 5.5 1 5.5 4 5.5-4 5.5 3 5.5 3 5.5 2 5.5-7 5.5-8 5.5-2 5.5-5 5.5-3 5.5 0 5.5-4 5.5-6 5.5-11 5.5-9 5.5-14 5.5-14 5.5-13 5.5-11 5.5-9 5.5-16 5.5-11 5.5-11 5.5-13 5.5-9 5.5-14 5.5-16"/><path d="M330 237l5.5 3 5.5 1 5.5 0 5.5 0 5.5-3 5.5-1 5.5-3 5.5-4 5.5-5 5.5-2 5.5-4 5.5-12 5.5 0 5.5-7 5.5-5 5.5-16 5.5-11 5.5-15 5.5-11 5.5-20 5.5-7 5.5-9 5.5-20 5.5-15 5.5-14 5.5-18 5.5-12 5.5-15 5.5-18"/><path d="M330 220l5.5-2 5.5 8 5.5 1 5.5-4 5.5 4 5.5 1 5.5-2 5.5-2 5.5-4 5.5-6 5.5-9 5.5 0 5.5-6 5.5-6 5.5-6 5.5-9 5.5-11 5.5-14 5.5-14 5.5-18 5.5-9 5.5-15 5.5-17 5.5-12 5.5-20 5.5-12 5.5-8 5.5-21 5.5-16"/><path d="M330 241l5.5 0 5.5-2 5.5 0 5.5-5 5.5-7 5.5 3 5.5-2 5.5-9 5.5-7 5.5-16 5.5-2 5.5-10 5.5-5 5.5-11 5.5-8 5.5-14 5.5-15 5.5-23 5.5-11 5.5-18 5.5-11 5.5-16 5.5-14 5.5-9 5.5-15 5.5-15 5.5-10 5.5-15 5.5-9"/><path d="M330 241l5.5-1 5.5-3 5.5 1 5.5-1 5.5-6 5.5 3 5.5-5 5.5-12 5.5-6 5.5-9 5.5-6 5.5-10 5.5-5 5.5-11 5.5-10 5.5-15 5.5-15 5.5-16 5.5-15 5.5-11 5.5-15 5.5-11 5.5-13 5.5-18 5.5-16 5.5-16 5.5-9 5.5-13 5.5-14"/><path d="M330 230l5.5 4 5.5 5 5.5 0 5.5 2 5.5 0 5.5-3 5.5 0 5.5-2 5.5-5 5.5-4 5.5-1 5.5-4 5.5-6 5.5-3 5.5-10 5.5-5 5.5-20 5.5-5 5.5-19 5.5-12 5.5-12 5.5-12 5.5-16 5.5-13 5.5-11 5.5-15 5.5-19 5.5-16 5.5-16"/><path d="M330 225l5.5 5 5.5 6 5.5 0 5.5 2 5.5-1 5.5 4 5.5-2 5.5-2 5.5 2 5.5-2 5.5-6 5.5 3 5.5-2 5.5-2 5.5-4 5.5-8 5.5-13 5.5-7 5.5-12 5.5-13 5.5-7 5.5-19 5.5-7 5.5-14 5.5-13 5.5-14 5.5-13 5.5-19 5.5-10"/><path d="M330 241l5.5 0 5.5-1 5.5 0 5.5-4 5.5-5 5.5-3 5.5-9 5.5-1 5.5-14 5.5-4 5.5-13 5.5-8 5.5-10 5.5-7 5.5-8 5.5-15 5.5-23 5.5-8 5.5-16 5.5-15 5.5-11 5.5-17 5.5-7 5.5-18 5.5-9 5.5-15 5.5-12 5.5-13 5.5-11"/><path d="M330 232l5.5 5 5.5 4 5.5-2 5.5-2 5.5 1 5.5-2 5.5 1 5.5-9 5.5-8 5.5-4 5.5 0 5.5-11 5.5-6 5.5-5 5.5-5 5.5-17 5.5-11 5.5-12 5.5-10 5.5-19 5.5-16 5.5-15 5.5-11 5.5-10 5.5-20 5.5-18 5.5-9 5.5-17 5.5-15"/><path d="M330 241l5.5 0 5.5-2 5.5-1 5.5-1 5.5-2 5.5-4 5.5-10 5.5-5 5.5-12 5.5-2 5.5-9 5.5-12 5.5-8 5.5-11 5.5-6 5.5-15 5.5-17 5.5-9 5.5-19 5.5-10 5.5-16 5.5-14 5.5-10 5.5-18 5.5-14 5.5-15 5.5-13 5.5-15 5.5-14"/><path d="M330 219l5.5 11 5.5 2 5.5 4 5.5-4 5.5 4 5.5 1 5.5-10 5.5 1 5.5 2 5.5-7 5.5-3 5.5-7 5.5-2 5.5-8 5.5-8 5.5-11 5.5-13 5.5-13 5.5-12 5.5-11 5.5-11 5.5-19 5.5-12 5.5-14 5.5-15 5.5-15 5.5-13 5.5-15 5.5-19"/><path d="M330 241l5.5-1 5.5-2 5.5-2 5.5 0 5.5-7 5.5-5 5.5-3 5.5-7 5.5-7 5.5-10 5.5-10 5.5-8 5.5-5 5.5-12 5.5-11 5.5-12 5.5-17 5.5-18 5.5-14 5.5-18 5.5-8 5.5-19 5.5-8 5.5-19 5.5-9 5.5-16 5.5-12 5.5-17 5.5-10"/><path d="M330 217l5.5-2 5.5 3 5.5 12 5.5-2 5.5 5 5.5 0 5.5 0 5.5 0 5.5-2 5.5 2 5.5-2 5.5-4 5.5-1 5.5-7 5.5 1 5.5-8 5.5-15 5.5-8 5.5-9 5.5-14 5.5-9 5.5-17 5.5-8 5.5-20 5.5-13 5.5-9 5.5-21 5.5-12 5.5-17"/><path d="M330 222l5.5 0 5.5 5 5.5-2 5.5 2 5.5-4 5.5 3 5.5-6 5.5-6 5.5 2 5.5-8 5.5-3 5.5-7 5.5-6 5.5-5 5.5-7 5.5-7 5.5-21 5.5-7 5.5-13 5.5-16 5.5-7 5.5-22 5.5-10 5.5-14 5.5-14 5.5-11 5.5-20 5.5-12 5.5-14"/><path d="M330 226l5.5 5 5.5 1 5.5 0 5.5-1 5.5 1 5.5 0 5.5 1 5.5-13 5.5-2 5.5 1 5.5-6 5.5-7 5.5 2 5.5-6 5.5-10 5.5-6 5.5-15 5.5-13 5.5-10 5.5-21 5.5-10 5.5-13 5.5-15 5.5-14 5.5-16 5.5-15 5.5-13 5.5-13 5.5-13"/><path d="M330 210l5.5-2 5.5 11 5.5 2 5.5 3 5.5 1 5.5 5 5.5-3 5.5 0 5.5-2 5.5 0 5.5-1 5.5-2 5.5-6 5.5 2 5.5-6 5.5-12 5.5-12 5.5-6 5.5-16 5.5-14 5.5-11 5.5-16 5.5-13 5.5-13 5.5-11 5.5-23 5.5-11 5.5-16 5.5-13"/><path d="M330 241l5.5-1 5.5-1 5.5-5 5.5 0 5.5-3 5.5-5 5.5-9 5.5 3 5.5-12 5.5-4 5.5-8 5.5-10 5.5-11 5.5-3 5.5-8 5.5-14 5.5-17 5.5-14 5.5-15 5.5-13 5.5-14 5.5-17 5.5-17 5.5-12 5.5-16 5.5-16 5.5-9 5.5-12 5.5-16"/><path d="M330 241l5.5 0 5.5-1 5.5-3 5.5-1 5.5-1 5.5-6 5.5-4 5.5-7 5.5-8 5.5-8 5.5-2 5.5-12 5.5-3 5.5-11 5.5-8 5.5-11 5.5-16 5.5-15 5.5-19 5.5-16 5.5-9 5.5-15 5.5-16 5.5-15 5.5-14 5.5-15 5.5-10 5.5-18 5.5-12"/><path d="M330 233l5.5 3 5.5 3 5.5 2 5.5 0 5.5 0 5.5-1 5.5-1 5.5-2 5.5-3 5.5-2 5.5-9 5.5-6 5.5 3 5.5-6 5.5-6 5.5-8 5.5-15 5.5-12 5.5-12 5.5-12 5.5-10 5.5-17 5.5-11 5.5-16 5.5-11 5.5-21 5.5-12 5.5-16 5.5-13"/><path d="M330 232l5.5 2 5.5 5 5.5 0 5.5 2 5.5 0 5.5 0 5.5-2 5.5-1 5.5-1 5.5-3 5.5-2 5.5-8 5.5-7 5.5-3 5.5-5 5.5-14 5.5-9 5.5-14 5.5-17 5.5-13 5.5-13 5.5-13 5.5-18 5.5-11 5.5-19 5.5-20 5.5-8 5.5-16 5.5-15"/><path d="M330 241l5.5 0 5.5 0 5.5-5 5.5 2 5.5-2 5.5-6 5.5-4 5.5-6 5.5-7 5.5-7 5.5-14 5.5-6 5.5-3 5.5-13 5.5-12 5.5-15 5.5-12 5.5-20 5.5-13 5.5-19 5.5-17 5.5-11 5.5-12 5.5-18 5.5-14 5.5-11 5.5-11 5.5-21 5.5-7"/><path d="M330 221l5.5 9 5.5 5 5.5-2 5.5 3 5.5-5 5.5 3 5.5 1 5.5-1 5.5-7 5.5 1 5.5-7 5.5-4 5.5-4 5.5-3 5.5-3 5.5-13 5.5-14 5.5-11 5.5-12 5.5-14 5.5-10 5.5-17 5.5-13 5.5-13 5.5-15 5.5-15 5.5-11 5.5-15 5.5-16"/><path d="M330 237l5.5 4 5.5 0 5.5 0 5.5-1 5.5-5 5.5 0 5.5-6 5.5-7 5.5-8 5.5-3 5.5-10 5.5-2 5.5-6 5.5-14 5.5-8 5.5-6 5.5-14 5.5-17 5.5-17 5.5-12 5.5-13 5.5-15 5.5-14 5.5-12 5.5-14 5.5-14 5.5-12 5.5-20 5.5-3"/><path d="M330 239l5.5-2 5.5-1 5.5 0 5.5-3 5.5-3 5.5-3 5.5-12 5.5-1 5.5-13 5.5-11 5.5-5 5.5-9 5.5-7 5.5-10 5.5-7 5.5-16 5.5-13 5.5-20 5.5-12 5.5-19 5.5-10 5.5-18 5.5-12 5.5-14 5.5-14 5.5-14 5.5-8 5.5-20 5.5-12"/><path d="M330 215l5.5 7 5.5-4 5.5 8 5.5 1 5.5 0 5.5-3 5.5 0 5.5-1 5.5-12 5.5-4 5.5 0 5.5-9 5.5-7 5.5-7 5.5-2 5.5-13 5.5-18 5.5-13 5.5-12 5.5-18 5.5-5 5.5-21 5.5-14 5.5-10 5.5-18 5.5-12 5.5-13 5.5-14 5.5-19"/><path d="M330 223l5.5-3 5.5 4 5.5 5 5.5-2 5.5 10 5.5 2 5.5-5 5.5-3 5.5-2 5.5-6 5.5 0 5.5-6 5.5-3 5.5-9 5.5-3 5.5-13 5.5-14 5.5-8 5.5-16 5.5-21 5.5-4 5.5-18 5.5-13 5.5-15 5.5-15 5.5-8 5.5-21 5.5-11 5.5-16"/><path d="M330 213l5.5 2 5.5 0 5.5 7 5.5-1 5.5 2 5.5 3 5.5-4 5.5-2 5.5-5 5.5-2 5.5-3 5.5-3 5.5-5 5.5-5 5.5-1 5.5-9 5.5-15 5.5-15 5.5-10 5.5-7 5.5-14 5.5-14 5.5-12 5.5-13 5.5-11 5.5-18 5.5-13 5.5-16 5.5-15"/><path d="M330 241l5.5 0 5.5-3 5.5-3 5.5-1 5.5-3 5.5-2 5.5-6 5.5-8 5.5-4 5.5-4 5.5-9 5.5-9 5.5-6 5.5-10 5.5-9 5.5-11 5.5-15 5.5-17 5.5-13 5.5-19 5.5-6 5.5-18 5.5-16 5.5-12 5.5-13 5.5-14 5.5-12 5.5-13 5.5-10"/><path d="M330 241l5.5 0 5.5-3 5.5 2 5.5-3 5.5-3 5.5 1 5.5-11 5.5 1 5.5-11 5.5-10 5.5-4 5.5-3 5.5-6 5.5-9 5.5-7 5.5-13 5.5-14 5.5-14 5.5-11 5.5-24 5.5-12 5.5-14 5.5-13 5.5-16 5.5-9 5.5-20 5.5-12 5.5-14 5.5-13"/><path d="M330 216l5.5-1 5.5 7 5.5 8 5.5-8 5.5 4 5.5 2 5.5 5 5.5-4 5.5-5 5.5-3 5.5 1 5.5-8 5.5-6 5.5 0 5.5-6 5.5-6 5.5-15 5.5-15 5.5-7 5.5-18 5.5-10 5.5-7 5.5-16 5.5-11 5.5-18 5.5-13 5.5-10 5.5-12 5.5-13"/><path d="M330 219l5.5 9 5.5 6 5.5-1 5.5 3 5.5 3 5.5 1 5.5-2 5.5-2 5.5 1 5.5-4 5.5-6 5.5-2 5.5-6 5.5-2 5.5-5 5.5-10 5.5-15 5.5-11 5.5-12 5.5-18 5.5-7 5.5-19 5.5-11 5.5-9 5.5-15 5.5-18 5.5-12 5.5-15 5.5-17"/><path d="M330 213l5.5 8 5.5 2 5.5-2 5.5-1 5.5 0 5.5 1 5.5-3 5.5-2 5.5-4 5.5-2 5.5-7 5.5-2 5.5 1 5.5-10 5.5-8 5.5-9 5.5-13 5.5-13 5.5-12 5.5-17 5.5-9 5.5-14 5.5-13 5.5-15 5.5-9 5.5-17 5.5-10 5.5-16 5.5-16"/><path d="M330 230l5.5 3 5.5 5 5.5 1 5.5 1 5.5 1 5.5-2 5.5-1 5.5 0 5.5-5 5.5-3 5.5-6 5.5-1 5.5 4 5.5-10 5.5-5 5.5-14 5.5-13 5.5-9 5.5-17 5.5-19 5.5-7 5.5-17 5.5-12 5.5-17 5.5-15 5.5-11 5.5-16 5.5-22 5.5-12"/><path d="M330 223l5.5 4 5.5 9 5.5-1 5.5 3 5.5 0 5.5 2 5.5-2 5.5 0 5.5 0 5.5-3 5.5-2 5.5 0 5.5-6 5.5 2 5.5-11 5.5-2 5.5-12 5.5-14 5.5-10 5.5-16 5.5-9 5.5-17 5.5-11 5.5-16 5.5-15 5.5-15 5.5-16 5.5-14 5.5-18"/><path d="M330 220l5.5 3 5.5 8 5.5-1 5.5 6 5.5-3 5.5 1 5.5-4 5.5 2 5.5-8 5.5-1 5.5-8 5.5-3 5.5-4 5.5-5 5.5-6 5.5-10 5.5-14 5.5-14 5.5-14 5.5-19 5.5-8 5.5-12 5.5-15 5.5-15 5.5-10 5.5-25 5.5-12 5.5-11 5.5-16"/><path d="M330 236l5.5 2 5.5 3 5.5 0 5.5-6 5.5 3 5.5-1 5.5-5 5.5-3 5.5-5 5.5-8 5.5 0 5.5-9 5.5-7 5.5-8 5.5-5 5.5-12 5.5-17 5.5-11 5.5-16 5.5-18 5.5-13 5.5-16 5.5-15 5.5-15 5.5-13 5.5-15 5.5-11 5.5-16 5.5-21"/><path d="M330 202l5.5 2 5.5 3 5.5 2 5.5-4 5.5 1 5.5-3 5.5-3 5.5-5 5.5-10 5.5-3 5.5-6 5.5-14 5.5-3 5.5-8 5.5-6 5.5-12 5.5-14 5.5-15 5.5-12 5.5-19 5.5-9 5.5-16 5.5-8 5.5-14 5.5-14 5.5-12 5.5-13 5.5-16 5.5-16"/><path d="M330 220l5.5 1 5.5 3 5.5 3 5.5-1 5.5 7 5.5-1 5.5 1 5.5-3 5.5-5 5.5-8 5.5 2 5.5-2 5.5-4 5.5-6 5.5-5 5.5-12 5.5-10 5.5-13 5.5-13 5.5-15 5.5-10 5.5-19 5.5-10 5.5-14 5.5-16 5.5-18 5.5-12 5.5-16 5.5-16"/><path d="M330 241l5.5-4 5.5 1 5.5 1 5.5-3 5.5-2 5.5-10 5.5-2 5.5 1 5.5-9 5.5-12 5.5-3 5.5-15 5.5-3 5.5-12 5.5-6 5.5-15 5.5-15 5.5-14 5.5-17 5.5-19 5.5-6 5.5-24 5.5-9 5.5-14 5.5-14 5.5-15 5.5-18 5.5-12 5.5-15"/><path d="M330 225l5.5 8 5.5 4 5.5-1 5.5 2 5.5 0 5.5 0 5.5 2 5.5-3 5.5-7 5.5-3 5.5-6 5.5-4 5.5-6 5.5-1 5.5-3 5.5-14 5.5-13 5.5-15 5.5-11 5.5-20 5.5-11 5.5-12 5.5-15 5.5-12 5.5-17 5.5-15 5.5-18 5.5-12 5.5-18"/><path d="M330 225l5.5 0 5.5 3 5.5 3 5.5-3 5.5 5 5.5-2 5.5-2 5.5-3 5.5-5 5.5-6 5.5-2 5.5-9 5.5-5 5.5-4 5.5-14 5.5-4 5.5-13 5.5-18 5.5-12 5.5-13 5.5-19 5.5-11 5.5-10 5.5-16 5.5-13 5.5-14 5.5-17 5.5-13 5.5-14"/><path d="M330 231l5.5 8 5.5 2 5.5 0 5.5-1 5.5-1 5.5-1 5.5-6 5.5-2 5.5-3 5.5-3 5.5-8 5.5-6 5.5-4 5.5-5 5.5-5 5.5-12 5.5-12 5.5-15 5.5-12 5.5-17 5.5-7 5.5-21 5.5-13 5.5-7 5.5-17 5.5-11 5.5-15 5.5-18 5.5-13"/><path d="M330 211l5.5 7 5.5-1 5.5 2 5.5-3 5.5 5 5.5-4 5.5-2 5.5-5 5.5-2 5.5 0 5.5-3 5.5-9 5.5-7 5.5-4 5.5-4 5.5-8 5.5-10 5.5-18 5.5-12 5.5-17 5.5-9 5.5-11 5.5-15 5.5-15 5.5-15 5.5-15 5.5-15 5.5-13 5.5-15"/><path d="M330 234l5.5 5 5.5 0 5.5 2 5.5-2 5.5-1 5.5 0 5.5-4 5.5-1 5.5-10 5.5 1 5.5-9 5.5-5 5.5-8 5.5-3 5.5-6 5.5-14 5.5-17 5.5-15 5.5-7 5.5-15 5.5-18 5.5-13 5.5-14 5.5-13 5.5-14 5.5-19 5.5-15 5.5-14 5.5-20"/><path d="M330 216l5.5 5 5.5 8 5.5 4 5.5 1 5.5 2 5.5 1 5.5 0 5.5-1 5.5-3 5.5 0 5.5-1 5.5-4 5.5-2 5.5-5 5.5-7 5.5-9 5.5-12 5.5-7 5.5-11 5.5-17 5.5-9 5.5-9 5.5-13 5.5-10 5.5-18 5.5-14 5.5-13 5.5-11 5.5-17"/><path d="M330 225l5.5 5 5.5 4 5.5 1 5.5 0 5.5 2 5.5 3 5.5-3 5.5-5 5.5 2 5.5-1 5.5-6 5.5-11 5.5 1 5.5-2 5.5-5 5.5-8 5.5-13 5.5-5 5.5-17 5.5-15 5.5-9 5.5-19 5.5-9 5.5-15 5.5-15 5.5-16 5.5-8 5.5-19 5.5-19"/><path d="M330 241l5.5-2 5.5-1 5.5 0 5.5-1 5.5-4 5.5-5 5.5-5 5.5-9 5.5-10 5.5-3 5.5-8 5.5-6 5.5-9 5.5-8 5.5-9 5.5-11 5.5-18 5.5-12 5.5-18 5.5-18 5.5-9 5.5-13 5.5-13 5.5-13 5.5-10 5.5-15 5.5-8 5.5-15 5.5-11"/><path d="M330 227l5.5 8 5.5 3 5.5 1 5.5 0 5.5 1 5.5-1 5.5-1 5.5 2 5.5-3 5.5 1 5.5-2 5.5-6 5.5 0 5.5-5 5.5-3 5.5-10 5.5-11 5.5-14 5.5-12 5.5-15 5.5-6 5.5-15 5.5-15 5.5-13 5.5-9 5.5-19 5.5-12 5.5-18 5.5-15"/><path d="M330 222l5.5 6 5.5 4 5.5 5 5.5 1 5.5 1 5.5 2 5.5 0 5.5 0 5.5-4 5.5 1 5.5-3 5.5-1 5.5-3 5.5 1 5.5-7 5.5-8 5.5-12 5.5-14 5.5-10 5.5-13 5.5-7 5.5-11 5.5-14 5.5-15 5.5-17 5.5-11 5.5-18 5.5-12 5.5-19"/><path d="M330 241l5.5 0 5.5-2 5.5 1 5.5-6 5.5 3 5.5-2 5.5-3 5.5 0 5.5-7 5.5-3 5.5-5 5.5-9 5.5-5 5.5-1 5.5-9 5.5-13 5.5-14 5.5-8 5.5-16 5.5-18 5.5-9 5.5-16 5.5-13 5.5-11 5.5-15 5.5-9 5.5-14 5.5-14 5.5-16"/><path d="M330 234l5.5 6 5.5 1 5.5 0 5.5-1 5.5-1 5.5-1 5.5 0 5.5-1 5.5-4 5.5-4 5.5-6 5.5-13 5.5-5 5.5 0 5.5-16 5.5-5 5.5-16 5.5-11 5.5-18 5.5-17 5.5-15 5.5-11 5.5-15 5.5-19 5.5-8 5.5-13 5.5-15 5.5-16 5.5-14"/><path d="M330 204l5.5 0 5.5 3 5.5 9 5.5-3 5.5 0 5.5-4 5.5-3 5.5-3 5.5-3 5.5 0 5.5-3 5.5-11 5.5 3 5.5-6 5.5-11 5.5 0 5.5-23 5.5-10 5.5-10 5.5-15 5.5-9 5.5-14 5.5-12 5.5-12 5.5-13 5.5-9 5.5-16 5.5-12 5.5-16"/><path d="M330 221l5.5 4 5.5 4 5.5 4 5.5 3 5.5 4 5.5 0 5.5 1 5.5-1 5.5-1 5.5-1 5.5 1 5.5 0 5.5-5 5.5-10 5.5 3 5.5-13 5.5-13 5.5-13 5.5-8 5.5-18 5.5-15 5.5-14 5.5-15 5.5-15 5.5-12 5.5-15 5.5-17 5.5-16 5.5-14"/><path d="M330 238l5.5 3 5.5-1 5.5 0 5.5-1 5.5-4 5.5-2 5.5-3 5.5-11 5.5 5 5.5-16 5.5-2 5.5-11 5.5 0 5.5-18 5.5-8 5.5-11 5.5-17 5.5-14 5.5-17 5.5-16 5.5-12 5.5-12 5.5-19 5.5-12 5.5-15 5.5-12 5.5-14 5.5-17 5.5-17"/><path d="M330 240l5.5 1 5.5 0 5.5-2 5.5-1 5.5-2 5.5-1 5.5-5 5.5-2 5.5-11 5.5-5 5.5 0 5.5-8 5.5-9 5.5 0 5.5-7 5.5-13 5.5-17 5.5-11 5.5-17 5.5-17 5.5-10 5.5-20 5.5-5 5.5-20 5.5-8 5.5-23 5.5-8 5.5-19 5.5-19"/><path d="M330 215l5.5 7 5.5 8 5.5-3 5.5-3 5.5 3 5.5 1 5.5-7 5.5-2 5.5 1 5.5-5 5.5-8 5.5-4 5.5-5 5.5-7 5.5-2 5.5-15 5.5-8 5.5-10 5.5-19 5.5-11 5.5-10 5.5-17 5.5-16 5.5-12 5.5-17 5.5-6 5.5-16 5.5-18 5.5-16"/><path d="M330 241l5.5-4 5.5 1 5.5-1 5.5-1 5.5-5 5.5-5 5.5-5 5.5-7 5.5-6 5.5-5 5.5-8 5.5-7 5.5-2 5.5-16 5.5-1 5.5-13 5.5-15 5.5-17 5.5-14 5.5-19 5.5-10 5.5-12 5.5-13 5.5-17 5.5-12 5.5-13 5.5-15 5.5-17 5.5-19"/><path d="M330 220l5.5 1 5.5 0 5.5 4 5.5 7 5.5-5 5.5 4 5.5-8 5.5 0 5.5-4 5.5-4 5.5-4 5.5-5 5.5-6 5.5-3 5.5-9 5.5-6 5.5-19 5.5-9 5.5-14 5.5-12 5.5-11 5.5-17 5.5-11 5.5-16 5.5-13 5.5-19 5.5-8 5.5-15 5.5-15"/><path d="M330 241l5.5 0 5.5-1 5.5-1 5.5-4 5.5 2 5.5-6 5.5-6 5.5-7 5.5-11 5.5-4 5.5-3 5.5-9 5.5-7 5.5-6 5.5-8 5.5-13 5.5-12 5.5-17 5.5-18 5.5-23 5.5 0 5.5-18 5.5-15 5.5-17 5.5-15 5.5-13 5.5-20 5.5-12 5.5-17"/><path d="M330 221l5.5 6 5.5 2 5.5 7 5.5-2 5.5 0 5.5 3 5.5-5 5.5 1 5.5 0 5.5-6 5.5-5 5.5-1 5.5-3 5.5-3 5.5-6 5.5-11 5.5-17 5.5-8 5.5-15 5.5-14 5.5-10 5.5-16 5.5-16 5.5-18 5.5-12 5.5-18 5.5-9 5.5-18 5.5-16"/><path d="M330 241l5.5 0 5.5 0 5.5 0 5.5-3 5.5-2 5.5-1 5.5-7 5.5-1 5.5-11 5.5 0 5.5-12 5.5-5 5.5-5 5.5-10 5.5-9 5.5-8 5.5-18 5.5-12 5.5-21 5.5-16 5.5-7 5.5-19 5.5-10 5.5-17 5.5-12 5.5-18 5.5-13 5.5-8 5.5-18"/><path d="M330 223l5.5 5 5.5 4 5.5 5 5.5 4 5.5-1 5.5 1 5.5-1 5.5-1 5.5 0 5.5-3 5.5-4 5.5 1 5.5-2 5.5-3 5.5-3 5.5-9 5.5-10 5.5-10 5.5-12 5.5-7 5.5-10 5.5-19 5.5-11 5.5-17 5.5-8 5.5-20 5.5-13 5.5-18 5.5-14"/><path d="M330 241l5.5-4 5.5 1 5.5 0 5.5-4 5.5-1 5.5-2 5.5-9 5.5-7 5.5-6 5.5-10 5.5 2 5.5-11 5.5-12 5.5-6 5.5-14 5.5-14 5.5-14 5.5-20 5.5-7 5.5-20 5.5-11 5.5-16 5.5-10 5.5-13 5.5-15 5.5-13 5.5-11 5.5-16 5.5-16"/><path d="M330 225l5.5-3 5.5 6 5.5 2 5.5-3 5.5 2 5.5-1 5.5-1 5.5-6 5.5-3 5.5-5 5.5 2 5.5-8 5.5-4 5.5-2 5.5-4 5.5-8 5.5-14 5.5-10 5.5-16 5.5-16 5.5-9 5.5-11 5.5-12 5.5-16 5.5-12 5.5-15 5.5-12 5.5-15 5.5-17"/><path d="M330 230l5.5 4 5.5 4 5.5 3 5.5-2 5.5 2 5.5-2 5.5 0 5.5-5 5.5-5 5.5 0 5.5 1 5.5-12 5.5 0 5.5-6 5.5-3 5.5-12 5.5-13 5.5-12 5.5-11 5.5-18 5.5-8 5.5-14 5.5-18 5.5-12 5.5-11 5.5-17 5.5-17 5.5-18 5.5-14"/><path d="M330 225l5.5 5 5.5 1 5.5 7 5.5-4 5.5 0 5.5 2 5.5-1 5.5 1 5.5-8 5.5-1 5.5-10 5.5-2 5.5-6 5.5-1 5.5-8 5.5-10 5.5-16 5.5-12 5.5-14 5.5-18 5.5-11 5.5-12 5.5-23 5.5-13 5.5-13 5.5-15 5.5-13 5.5-16 5.5-15"/><path d="M330 237l5.5 4 5.5 0 5.5-2 5.5-2 5.5 2 5.5-8 5.5-3 5.5-12 5.5-3 5.5-6 5.5-2 5.5-17 5.5-7 5.5-4 5.5-3 5.5-16 5.5-13 5.5-18 5.5-11 5.5-18 5.5-11 5.5-11 5.5-13 5.5-15 5.5-14 5.5-16 5.5-11 5.5-13 5.5-15"/><path d="M330 226l5.5 6 5.5 3 5.5 1 5.5 5 5.5 0 5.5 0 5.5-3 5.5 1 5.5-2 5.5-2 5.5-2 5.5-7 5.5 1 5.5-3 5.5-4 5.5-9 5.5-13 5.5-10 5.5-12 5.5-14 5.5-13 5.5-8 5.5-14 5.5-17 5.5-15 5.5-15 5.5-8 5.5-12 5.5-14"/><path d="M330 221l5.5 5 5.5 6 5.5 1 5.5 1 5.5 2 5.5 3 5.5 2 5.5-4 5.5 2 5.5-1 5.5 2 5.5-1 5.5-2 5.5 0 5.5-4 5.5-4 5.5-10 5.5-11 5.5-10 5.5-16 5.5 0 5.5-19 5.5-13 5.5-13 5.5-16 5.5-16 5.5-15 5.5-13 5.5-21"/><path d="M330 240l5.5-2 5.5 0 5.5-1 5.5-7 5.5-1 5.5-6 5.5-5 5.5-5 5.5-8 5.5-7 5.5-8 5.5-13 5.5 1 5.5-14 5.5-8 5.5-9 5.5-19 5.5-17 5.5-19 5.5-14 5.5-8 5.5-11 5.5-16 5.5-10 5.5-15 5.5-18 5.5-9 5.5-19 5.5-12"/><path d="M330 241l5.5 0 5.5-4 5.5 1 5.5-1 5.5-1 5.5 1 5.5-10 5.5-11 5.5-6 5.5-4 5.5-8 5.5-7 5.5-3 5.5-10 5.5-6 5.5-16 5.5-11 5.5-16 5.5-16 5.5-19 5.5-5 5.5-14 5.5-18 5.5-18 5.5-10 5.5-19 5.5-8 5.5-15 5.5-16"/><path d="M330 241l5.5-1 5.5-3 5.5-1 5.5 1 5.5-6 5.5-2 5.5-9 5.5-5 5.5-7 5.5-6 5.5-11 5.5-10 5.5-4 5.5-7 5.5-13 5.5-16 5.5-17 5.5-17 5.5-7 5.5-22 5.5-8 5.5-17 5.5-11 5.5-18 5.5-16 5.5-13 5.5-15 5.5-12 5.5-17"/><path d="M330 241l5.5 0 5.5-2 5.5 1 5.5-4 5.5-2 5.5-4 5.5-5 5.5-4 5.5-9 5.5-4 5.5-7 5.5-13 5.5 0 5.5-11 5.5-8 5.5-13 5.5-15 5.5-19 5.5-15 5.5-18 5.5-7 5.5-21 5.5-9 5.5-12 5.5-19 5.5-18 5.5-10 5.5-17 5.5-12"/><path d="M330 206l5.5 5 5.5 1 5.5 11 5.5 1 5.5 4 5.5-8 5.5 5 5.5-7 5.5 6 5.5-3 5.5-4 5.5-5 5.5-4 5.5-5 5.5-2 5.5-12 5.5-10 5.5-10 5.5-17 5.5-11 5.5-6 5.5-16 5.5-15 5.5-9 5.5-8 5.5-15 5.5-18 5.5-11 5.5-21"/><path d="M330 200l5.5 4 5.5 2 5.5 5 5.5-8 5.5 8 5.5 1 5.5 1 5.5-4 5.5-1 5.5-9 5.5-6 5.5-2 5.5-6 5.5-6 5.5-6 5.5-9 5.5-19 5.5-12 5.5-11 5.5-11 5.5-12 5.5-13 5.5-18 5.5-10 5.5-19 5.5-12 5.5-20 5.5-8 5.5-18"/><path d="M330 221l5.5 9 5.5 1 5.5 6 5.5-1 5.5 2 5.5 2 5.5-1 5.5 0 5.5-3 5.5 0 5.5-3 5.5 3 5.5-4 5.5-2 5.5-7 5.5-3 5.5-10 5.5-6 5.5-11 5.5-9 5.5-9 5.5-15 5.5-12 5.5-11 5.5-18 5.5-16 5.5-8 5.5-19 5.5-15"/><path d="M330 241l5.5-1 5.5 0 5.5 0 5.5-3 5.5-6 5.5-1 5.5-10 5.5-7 5.5-2 5.5-13 5.5-8 5.5-8 5.5-11 5.5-9 5.5-12 5.5-13 5.5-15 5.5-20 5.5-13 5.5-15 5.5-11 5.5-19 5.5-13 5.5-14 5.5-14 5.5-14 5.5-16 5.5-18 5.5-16"/><path d="M330 222l5.5-1 5.5 4 5.5-2 5.5 0 5.5-2 5.5 3 5.5-2 5.5-7 5.5-1 5.5-3 5.5-2 5.5-10 5.5-8 5.5-8 5.5-1 5.5-13 5.5-15 5.5-11 5.5-10 5.5-12 5.5-12 5.5-18 5.5-12 5.5-11 5.5-16 5.5-13 5.5-16 5.5-13 5.5-22"/><path d="M330 241l5.5 0 5.5 0 5.5 0 5.5-4 5.5 0 5.5-7 5.5-10 5.5-5 5.5-10 5.5-5 5.5-8 5.5-12 5.5-1 5.5-9 5.5-10 5.5-13 5.5-17 5.5-14 5.5-19 5.5-15 5.5-5 5.5-14 5.5-16 5.5-14 5.5-13 5.5-11 5.5-11 5.5-12 5.5-18"/><path d="M330 208l5.5 6 5.5 6 5.5-3 5.5 7 5.5-5 5.5 5 5.5-4 5.5-4 5.5-4 5.5-5 5.5-6 5.5-1 5.5-2 5.5-7 5.5-9 5.5-8 5.5-20 5.5-4 5.5-16 5.5-14 5.5-15 5.5-12 5.5-18 5.5-11 5.5-12 5.5-20 5.5-11 5.5-14 5.5-14"/><path d="M330 241l5.5 0 5.5-1 5.5-2 5.5-1 5.5-1 5.5-10 5.5-2 5.5-8 5.5-6 5.5-7 5.5-14 5.5-2 5.5-8 5.5-14 5.5-5 5.5-14 5.5-15 5.5-21 5.5-9 5.5-24 5.5-5 5.5-17 5.5-11 5.5-13 5.5-15 5.5-17 5.5-14 5.5-18 5.5-9"/><path d="M330 218l5.5 2 5.5 2 5.5 5 5.5-4 5.5 3 5.5-1 5.5 4 5.5-3 5.5-3 5.5-3 5.5-4 5.5-5 5.5-5 5.5-9 5.5-1 5.5-8 5.5-13 5.5-15 5.5-14 5.5-13 5.5-12 5.5-13 5.5-11 5.5-14 5.5-16 5.5-15 5.5-13 5.5-20 5.5-11"/><path d="M330 220l5.5 0 5.5 8 5.5 5 5.5-1 5.5 5 5.5-1 5.5-2 5.5 1 5.5-4 5.5-3 5.5-4 5.5-6 5.5 1 5.5-6 5.5-7 5.5-8 5.5-10 5.5-20 5.5-12 5.5-12 5.5-15 5.5-17 5.5-14 5.5-15 5.5-17 5.5-10 5.5-22 5.5-12 5.5-15"/><path d="M330 236l5.5 4 5.5 1 5.5 0 5.5 0 5.5 0 5.5-1 5.5-1 5.5-5 5.5-4 5.5-7 5.5-4 5.5-4 5.5-5 5.5-9 5.5-6 5.5-9 5.5-14 5.5-17 5.5-13 5.5-21 5.5-6 5.5-17 5.5-15 5.5-15 5.5-10 5.5-19 5.5-9 5.5-18 5.5-14"/><path d="M330 204l5.5 5 5.5 5 5.5-1 5.5 0 5.5-1 5.5 4 5.5-5 5.5 0 5.5-10 5.5 2 5.5-10 5.5-6 5.5-4 5.5-2 5.5-9 5.5-6 5.5-17 5.5-18 5.5-8 5.5-19 5.5-8 5.5-19 5.5-10 5.5-10 5.5-15 5.5-12 5.5-11 5.5-21 5.5-13"/><path d="M330 235l5.5 3 5.5 3 5.5-2 5.5-1 5.5 1 5.5-2 5.5-8 5.5-5 5.5-4 5.5-7 5.5-2 5.5-5 5.5-6 5.5-12 5.5-5 5.5-14 5.5-17 5.5-13 5.5-17 5.5-16 5.5-5 5.5-17 5.5-9 5.5-15 5.5-8 5.5-18 5.5-14 5.5-12 5.5-14"/><path d="M330 241l5.5 0 5.5 0 5.5-1 5.5-1 5.5-1 5.5-8 5.5 4 5.5-8 5.5-6 5.5-5 5.5-6 5.5-5 5.5-7 5.5-5 5.5-9 5.5-7 5.5-14 5.5-12 5.5-16 5.5-18 5.5-9 5.5-13 5.5-13 5.5-19 5.5-15 5.5-17 5.5-12 5.5-15 5.5-17"/><path d="M330 241l5.5-1 5.5 1 5.5-1 5.5-6 5.5-6 5.5-5 5.5-6 5.5-9 5.5 1 5.5-12 5.5-4 5.5-10 5.5 0 5.5-10 5.5-10 5.5-14 5.5-12 5.5-16 5.5-19 5.5-10 5.5-13 5.5-14 5.5-12 5.5-17 5.5-9 5.5-15 5.5-10 5.5-10 5.5-21"/><path d="M330 241l5.5 0 5.5 0 5.5-3 5.5-2 5.5-5 5.5 2 5.5-5 5.5-9 5.5-4 5.5-7 5.5-2 5.5-11 5.5-11 5.5-6 5.5-8 5.5-8 5.5-18 5.5-13 5.5-17 5.5-17 5.5-8 5.5-19 5.5-8 5.5-19 5.5-11 5.5-13 5.5-16 5.5-9 5.5-20"/><path d="M330 234l5.5 3 5.5 2 5.5-1 5.5 3 5.5 0 5.5-2 5.5-1 5.5-1 5.5-6 5.5-3 5.5-4 5.5-6 5.5-3 5.5-4 5.5-5 5.5-17 5.5-8 5.5-17 5.5-13 5.5-19 5.5-7 5.5-15 5.5-12 5.5-18 5.5-7 5.5-20 5.5-14 5.5-14 5.5-20"/><path d="M330 241l5.5-2 5.5 2 5.5-1 5.5-7 5.5-1 5.5-6 5.5-3 5.5-6 5.5-6 5.5-5 5.5-10 5.5-12 5.5-5 5.5-11 5.5-5 5.5-12 5.5-17 5.5-13 5.5-18 5.5-19 5.5-6 5.5-19 5.5-16 5.5-9 5.5-14 5.5-15 5.5-13 5.5-12 5.5-24"/><path d="M330 236l5.5 3 5.5 1 5.5 1 5.5-2 5.5 1 5.5-2 5.5-1 5.5-7 5.5-2 5.5-3 5.5-3 5.5-10 5.5-5 5.5-7 5.5-6 5.5-15 5.5-9 5.5-16 5.5-11 5.5-18 5.5-16 5.5-11 5.5-14 5.5-12 5.5-15 5.5-15 5.5-12 5.5-21 5.5-12"/><path d="M330 239l5.5 2 5.5 0 5.5 0 5.5-4 5.5-1 5.5-5 5.5-8 5.5-6 5.5-7 5.5-4 5.5-7 5.5-11 5.5-6 5.5-17 5.5-7 5.5-10 5.5-18 5.5-14 5.5-11 5.5-19 5.5-7 5.5-14 5.5-10 5.5-14 5.5-15 5.5-13 5.5-7 5.5-15 5.5-18"/><path d="M330 211l5.5 1 5.5 7 5.5-2 5.5 2 5.5 0 5.5-1 5.5-1 5.5-5 5.5-4 5.5-1 5.5-2 5.5-9 5.5-4 5.5-4 5.5-10 5.5-12 5.5-13 5.5-13 5.5-16 5.5-12 5.5-16 5.5-9 5.5-13 5.5-15 5.5-13 5.5-12 5.5-15 5.5-10 5.5-12"/><path d="M330 236l5.5 3 5.5 2 5.5-1 5.5-1 5.5 0 5.5-3 5.5-6 5.5 0 5.5-9 5.5-7 5.5-4 5.5-5 5.5-10 5.5-1 5.5-13 5.5-6 5.5-16 5.5-11 5.5-15 5.5-19 5.5-7 5.5-20 5.5-9 5.5-16 5.5-13 5.5-10 5.5-15 5.5-11 5.5-14"/><path d="M330 241l5.5 0 5.5 0 5.5-4 5.5-1 5.5-6 5.5-2 5.5-7 5.5-2 5.5-8 5.5-12 5.5-7 5.5-9 5.5-4 5.5-12 5.5-10 5.5-12 5.5-23 5.5-11 5.5-12 5.5-18 5.5-9 5.5-20 5.5-9 5.5-15 5.5-11 5.5-15 5.5-9 5.5-19 5.5-14"/><path d="M330 234l5.5 7 5.5 0 5.5 0 5.5 0 5.5-6 5.5 2 5.5-5 5.5-7 5.5-6 5.5-4 5.5-9 5.5-9 5.5-1 5.5-10 5.5-10 5.5-7 5.5-18 5.5-9 5.5-15 5.5-22 5.5-4 5.5-17 5.5-14 5.5-7 5.5-11 5.5-18 5.5-7 5.5-14 5.5-13"/><path d="M330 237l5.5 3 5.5 1 5.5 0 5.5-2 5.5-2 5.5 2 5.5-6 5.5-3 5.5-9 5.5-5 5.5-7 5.5-8 5.5-3 5.5-11 5.5-3 5.5-15 5.5-18 5.5-13 5.5-14 5.5-20 5.5-11 5.5-14 5.5-13 5.5-15 5.5-12 5.5-14 5.5-14 5.5-17 5.5-11"/><path d="M330 238l5.5-1 5.5 0 5.5-6 5.5-2 5.5-5 5.5-6 5.5-5 5.5-6 5.5-8 5.5-8 5.5-6 5.5-3 5.5-10 5.5-5 5.5-9 5.5-14 5.5-16 5.5-15 5.5-19 5.5-16 5.5-2 5.5-16 5.5-14 5.5-8 5.5-8 5.5-19 5.5-6 5.5-15 5.5-11"/></g><g id="bRLL"><path d="M330 219l5.5 2 5.5 6 5.5 3 5.5 2 5.5 2 5.5 2 5.5 0 5.5-2 5.5 0 5.5-2 5.5 0 5.5-1 5.5-1 5.5-1 5.5-1 5.5 0 5.5-2 5.5 0 5.5-1 5.5-1 5.5-1 5.5-1 5.5-1 5.5-1 5.5-3 5.5-6 5.5-1 5.5-4 5.5 0"/><path d="M330 204l5.5 2 5.5 0 5.5 10 5.5 0 5.5 8 5.5 5 5.5-6 5.5 4 5.5 4 5.5-1 5.5 2 5.5 0 5.5-2 5.5-1 5.5 0 5.5-1 5.5-1 5.5-1 5.5-1 5.5-1 5.5-1 5.5-1 5.5-1 5.5-1 5.5-1 5.5-2 5.5 0 5.5-2 5.5-1"/><path d="M330 237l5.5 3 5.5-1 5.5-3 5.5 2 5.5-1 5.5-3 5.5-3 5.5-1 5.5-4 5.5-2 5.5-2 5.5-2 5.5-3 5.5-7 5.5-4 5.5 1 5.5-7 5.5-5 5.5-5 5.5-2 5.5-7 5.5-2 5.5-10 5.5 1 5.5-10 5.5-5 5.5-7 5.5-1 5.5-5"/><path d="M330 220l5.5-4 5.5 5 5.5 6 5.5 3 5.5 1 5.5 5 5.5 0 5.5-1 5.5 0 5.5-2 5.5-1 5.5 0 5.5-1 5.5-1 5.5-1 5.5-1 5.5-1 5.5-1 5.5-2 5.5-1 5.5-8 5.5 3 5.5-4 5.5 2 5.5-4 5.5-4 5.5-2 5.5 2 5.5-1"/><path d="M330 241l5.5-2 5.5-3 5.5-4 5.5 2 5.5-1 5.5-3 5.5-5 5.5 1 5.5-4 5.5-2 5.5-4 5.5 0 5.5 0 5.5-8 5.5-2 5.5 0 5.5-7 5.5-7 5.5-3 5.5-4 5.5-7 5.5 3 5.5-7 5.5-5 5.5-7 5.5-5 5.5-4 5.5-1 5.5-6"/><path d="M330 241l5.5-2 5.5-5 5.5 4 5.5-3 5.5-2 5.5 2 5.5-8 5.5 0 5.5-2 5.5 0 5.5-4 5.5-2 5.5-5 5.5-2 5.5-1 5.5-2 5.5-1 5.5-5 5.5 2 5.5-6 5.5-5 5.5-2 5.5-9 5.5 3 5.5-9 5.5-4 5.5-2 5.5-1 5.5-4"/><path d="M330 230l5.5 0 5.5 6 5.5 2 5.5 0 5.5 0 5.5-4 5.5 2 5.5-1 5.5-3 5.5 1 5.5-1 5.5 0 5.5-2 5.5-7 5.5-3 5.5 0 5.5 0 5.5-3 5.5-6 5.5-2 5.5-4 5.5-7 5.5 1 5.5-4 5.5-3 5.5-8 5.5 0 5.5-1 5.5-8"/><path d="M330 225l5.5-1 5.5 4 5.5 8 5.5 1 5.5 0 5.5 0 5.5-2 5.5 0 5.5-2 5.5 0 5.5-2 5.5 0 5.5 0 5.5-1 5.5-1 5.5-1 5.5-1 5.5-1 5.5-4 5.5 2 5.5-7 5.5 3 5.5-5 5.5-4 5.5-2 5.5-3 5.5-5 5.5-4 5.5-4"/><path d="M330 241l5.5-2 5.5-3 5.5 0 5.5 0 5.5-3 5.5 1 5.5-4 5.5-3 5.5 0 5.5 6 5.5-2 5.5-11 5.5 2 5.5-4 5.5 1 5.5-2 5.5-1 5.5-3 5.5 1 5.5-4 5.5-1 5.5 0 5.5 0 5.5-6 5.5-1 5.5-2 5.5-3 5.5-3 5.5-4"/><path d="M330 232l5.5 7 5.5 0 5.5-1 5.5-5 5.5 4 5.5 0 5.5-2 5.5 1 5.5-4 5.5-3 5.5-1 5.5-5 5.5-2 5.5-1 5.5-5 5.5-2 5.5-5 5.5-7 5.5-2 5.5-7 5.5 0 5.5-5 5.5-4 5.5-3 5.5-6 5.5-3 5.5-3 5.5-3 5.5-6"/><path d="M330 241l5.5-5 5.5-2 5.5 2 5.5 1 5.5-4 5.5-1 5.5 0 5.5-1 5.5-10 5.5-3 5.5-2 5.5-4 5.5 5 5.5-5 5.5-5 5.5-5 5.5-2 5.5-9 5.5-3 5.5-2 5.5-3 5.5-4 5.5-5 5.5-4 5.5-7 5.5-11 5.5 3 5.5-7 5.5-2"/><path d="M330 219l5.5 10 5.5-3 5.5 6 5.5 6 5.5-1 5.5-1 5.5 0 5.5-1 5.5-1 5.5-1 5.5-1 5.5 0 5.5-1 5.5-2 5.5-1 5.5 0 5.5-1 5.5-2 5.5 0 5.5-1 5.5-1 5.5-1 5.5-1 5.5-2 5.5-1 5.5-1 5.5-1 5.5-1 5.5-4"/><path d="M330 241l5.5-2 5.5-5 5.5 3 5.5 1 5.5-4 5.5 0 5.5 1 5.5-1 5.5-7 5.5 6 5.5-6 5.5-3 5.5 3 5.5-6 5.5 0 5.5-4 5.5 1 5.5-6 5.5 3 5.5-3 5.5-6 5.5-2 5.5-6 5.5-1 5.5-3 5.5-7 5.5-3 5.5-4 5.5-4"/><path d="M330 217l5.5-4 5.5 7 5.5 3 5.5 6 5.5 4 5.5 3 5.5 0 5.5-1 5.5-2 5.5 0 5.5 0 5.5-1 5.5-2 5.5 0 5.5-1 5.5-1 5.5-1 5.5-1 5.5-1 5.5-1 5.5-2 5.5-1 5.5-1 5.5-1 5.5-2 5.5 1 5.5-1 5.5-3 5.5 0"/><path d="M330 222l5.5-2 5.5 3 5.5-1 5.5 7 5.5 1 5.5 0 5.5 6 5.5 0 5.5-1 5.5-2 5.5-1 5.5 0 5.5-1 5.5-1 5.5-2 5.5 0 5.5 0 5.5-2 5.5-1 5.5-1 5.5-2 5.5 0 5.5-2 5.5 0 5.5-1 5.5-1 5.5-2 5.5-1 5.5-1"/><path d="M330 226l5.5 2 5.5 1 5.5 2 5.5 4 5.5-2 5.5 4 5.5-1 5.5 0 5.5-2 5.5-1 5.5-1 5.5-1 5.5-1 5.5 0 5.5-1 5.5-1 5.5-2 5.5-1 5.5 0 5.5-1 5.5-1 5.5-1 5.5-2 5.5-1 5.5 0 5.5-1 5.5-1 5.5-2 5.5-1"/><path d="M330 210l5.5 4 5.5-3 5.5 9 5.5 9 5.5 1 5.5 2 5.5 2 5.5 1 5.5 0 5.5-2 5.5-1 5.5 0 5.5-1 5.5-1 5.5-2 5.5-1 5.5 0 5.5-1 5.5-2 5.5-3 5.5-1 5.5-2 5.5-3 5.5-8 5.5 0 5.5-5 5.5 5 5.5-10 5.5-2"/><path d="M330 241l5.5-1 5.5-3 5.5 1 5.5-3 5.5-1 5.5 2 5.5-4 5.5 2 5.5-3 5.5-2 5.5-5 5.5-2 5.5 5 5.5-7 5.5-3 5.5-6 5.5-5 5.5-3 5.5-2 5.5-8 5.5-2 5.5-4 5.5-6 5.5-3 5.5-7 5.5-3 5.5-8 5.5-3 5.5-4"/><path d="M330 241l5.5-1 5.5-1 5.5-5 5.5 0 5.5 2 5.5-1 5.5 0 5.5-2 5.5-5 5.5 1 5.5-2 5.5-6 5.5 5 5.5-2 5.5-7 5.5-1 5.5-4 5.5-9 5.5-2 5.5 1 5.5-10 5.5-1 5.5-3 5.5 0 5.5-8 5.5 1 5.5-2 5.5-10 5.5 0"/><path d="M330 233l5.5 0 5.5 6 5.5-1 5.5 0 5.5-1 5.5 0 5.5-2 5.5 0 5.5-1 5.5 0 5.5-2 5.5-1 5.5 0 5.5-2 5.5-1 5.5 0 5.5-1 5.5-1 5.5-1 5.5-2 5.5 0 5.5-1 5.5-2 5.5-1 5.5-1 5.5-2 5.5 0 5.5-1 5.5-1"/><path d="M330 232l5.5 2 5.5 3 5.5 1 5.5 0 5.5 0 5.5-1 5.5-2 5.5 0 5.5-1 5.5-4 5.5 0 5.5-5 5.5 2 5.5-5 5.5-6 5.5 2 5.5-4 5.5-9 5.5 3 5.5-4 5.5-8 5.5-2 5.5-7 5.5 1 5.5-5 5.5-6 5.5 3 5.5-7 5.5-7"/><path d="M330 241l5.5-1 5.5-2 5.5 0 5.5-2 5.5-1 5.5-3 5.5 0 5.5-1 5.5 3 5.5-8 5.5-6 5.5 3 5.5-1 5.5-5 5.5-4 5.5-1 5.5 4 5.5-7 5.5 1 5.5-10 5.5-4 5.5 6 5.5-13 5.5-3 5.5 2 5.5-8 5.5 2 5.5 1 5.5-5"/><path d="M330 221l5.5 5 5.5 5 5.5 7 5.5 0 5.5-1 5.5-1 5.5-1 5.5-1 5.5 1 5.5-1 5.5-4 5.5 2 5.5-2 5.5 0 5.5-2 5.5-6 5.5 1 5.5 1 5.5-6 5.5 1 5.5-6 5.5 5 5.5-8 5.5 2 5.5-10 5.5 1 5.5 0 5.5-3 5.5-3"/><path d="M330 237l5.5 1 5.5 1 5.5-2 5.5 1 5.5-4 5.5 3 5.5-2 5.5-5 5.5-1 5.5-4 5.5 1 5.5-7 5.5 2 5.5-1 5.5-7 5.5 0 5.5-4 5.5-3 5.5-1 5.5-11 5.5-2 5.5-4 5.5-5 5.5-8 5.5-1 5.5-10 5.5 2 5.5-10 5.5-9"/><path d="M330 239l5.5-2 5.5 1 5.5-5 5.5 0 5.5 4 5.5-3 5.5 2 5.5-2 5.5 0 5.5-1 5.5-3 5.5 2 5.5-2 5.5 0 5.5-6 5.5 4 5.5-1 5.5-6 5.5 1 5.5-3 5.5-1 5.5 1 5.5-9 5.5 2 5.5-5 5.5-4 5.5-7 5.5-6 5.5-2"/><path d="M330 215l5.5 0 5.5 0 5.5 5 5.5 9 5.5 5 5.5 2 5.5 0 5.5 0 5.5-2 5.5 0 5.5-2 5.5-1 5.5 0 5.5-1 5.5-1 5.5-1 5.5-1 5.5-1 5.5-1 5.5-2 5.5 0 5.5-1 5.5-1 5.5-1 5.5-1 5.5-1 5.5-2 5.5 0 5.5-2"/><path d="M330 223l5.5 1 5.5 4 5.5 1 5.5 8 5.5 0 5.5 0 5.5-1 5.5 0 5.5-1 5.5-8 5.5 3 5.5-1 5.5-3 5.5-8 5.5-2 5.5 1 5.5-5 5.5-7 5.5 1 5.5-4 5.5-4 5.5-1 5.5-7 5.5-4 5.5-5 5.5-2 5.5-3 5.5-5 5.5-3"/><path d="M330 213l5.5 1 5.5 6 5.5-1 5.5 6 5.5 5 5.5 3 5.5 2 5.5 1 5.5-2 5.5-1 5.5 0 5.5-1 5.5-1 5.5-1 5.5-1 5.5-1 5.5-1 5.5-2 5.5-1 5.5 0 5.5-2 5.5 0 5.5-2 5.5-1 5.5-1 5.5-2 5.5 0 5.5-1 5.5-1"/><path d="M330 241l5.5-1 5.5-3 5.5-3 5.5 3 5.5-1 5.5 1 5.5-1 5.5-4 5.5 2 5.5-1 5.5-5 5.5-1 5.5-2 5.5-2 5.5-3 5.5-3 5.5-3 5.5-2 5.5-8 5.5-3 5.5-2 5.5-6 5.5-2 5.5-4 5.5-3 5.5-4 5.5-5 5.5-6 5.5-1"/><path d="M330 241l5.5-1 5.5-1 5.5-1 5.5 0 5.5-1 5.5 0 5.5-2 5.5 1 5.5-2 5.5-2 5.5-3 5.5 0 5.5-3 5.5-3 5.5 5 5.5-4 5.5-1 5.5 0 5.5-3 5.5-4 5.5 0 5.5-7 5.5-3 5.5-5 5.5 3 5.5-9 5.5-1 5.5-5 5.5 4"/><path d="M330 216l5.5 0 5.5 6 5.5 1 5.5 5 5.5 8 5.5 1 5.5-1 5.5-1 5.5 0 5.5-2 5.5-1 5.5-1 5.5 0 5.5-1 5.5-2 5.5 0 5.5-1 5.5-2 5.5-1 5.5-3 5.5-3 5.5-6 5.5 1 5.5-3 5.5-6 5.5-1 5.5 0 5.5-4 5.5-5"/><path d="M330 219l5.5 6 5.5 3 5.5 6 5.5 3 5.5 0 5.5 0 5.5-2 5.5 0 5.5 0 5.5-2 5.5 0 5.5-2 5.5 0 5.5-1 5.5-1 5.5-2 5.5-1 5.5 0 5.5-1 5.5-1 5.5-4 5.5 0 5.5 1 5.5-1 5.5-5 5.5-2 5.5 4 5.5-8 5.5 0"/><path d="M330 213l5.5 4 5.5 6 5.5-3 5.5 6 5.5 1 5.5 5 5.5 4 5.5-1 5.5-1 5.5 0 5.5-1 5.5-1 5.5-2 5.5 0 5.5-2 5.5 0 5.5-2 5.5 0 5.5-1 5.5-1 5.5-1 5.5-1 5.5-2 5.5 0 5.5-1 5.5-6 5.5-2 5.5 2 5.5-7"/><path d="M330 230l5.5 1 5.5 3 5.5 4 5.5-4 5.5 3 5.5 0 5.5-1 5.5-4 5.5 1 5.5-1 5.5 1 5.5-5 5.5 1 5.5 0 5.5-5 5.5 2 5.5-6 5.5-2 5.5 1 5.5-4 5.5-7 5.5 3 5.5-10 5.5-3 5.5 0 5.5-9 5.5-4 5.5-3 5.5-7"/><path d="M330 223l5.5 0 5.5 2 5.5 5 5.5 9 5.5-1 5.5-1 5.5-1 5.5-1 5.5-1 5.5 0 5.5-1 5.5-1 5.5-1 5.5-2 5.5 0 5.5-1 5.5-2 5.5 0 5.5-1 5.5-1 5.5-1 5.5-1 5.5-1 5.5-2 5.5 0 5.5-1 5.5-2 5.5-1 5.5-2"/><path d="M330 220l5.5 2 5.5 1 5.5 4 5.5 6 5.5 5 5.5-2 5.5 0 5.5-1 5.5-1 5.5-1 5.5 0 5.5-1 5.5-1 5.5-2 5.5 0 5.5-1 5.5-1 5.5-1 5.5-1 5.5-1 5.5-1 5.5-2 5.5 0 5.5-2 5.5-1 5.5 0 5.5-1 5.5-6 5.5 2"/><path d="M330 236l5.5 4 5.5-1 5.5-1 5.5-4 5.5 2 5.5-1 5.5-3 5.5 1 5.5-4 5.5-4 5.5-1 5.5 0 5.5-6 5.5 1 5.5-2 5.5-3 5.5 3 5.5-9 5.5-4 5.5-3 5.5 0 5.5-6 5.5-6 5.5 1 5.5-7 5.5-5 5.5 2 5.5-7 5.5-9"/><path d="M330 202l5.5 5 5.5-5 5.5 0 5.5 10 5.5-4 5.5 6 5.5-1 5.5-2 5.5 5 5.5-2 5.5-2 5.5 2 5.5 6 5.5-2 5.5-2 5.5 1 5.5 2 5.5 0 5.5-2 5.5 0 5.5-5 5.5 0 5.5-1 5.5 3 5.5-4 5.5-2 5.5-2 5.5-8 5.5-2"/><path d="M330 220l5.5 1 5.5 2 5.5 5 5.5 8 5.5-1 5.5 2 5.5-1 5.5-2 5.5 0 5.5-1 5.5 0 5.5-1 5.5-1 5.5-1 5.5-2 5.5 0 5.5-1 5.5-1 5.5-1 5.5-1 5.5-1 5.5-1 5.5-1 5.5-1 5.5-1 5.5-2 5.5-1 5.5-1 5.5-1"/><path d="M330 241l5.5-2 5.5-1 5.5-1 5.5-3 5.5 3 5.5 0 5.5-5 5.5 1 5.5-3 5.5 1 5.5-5 5.5-1 5.5-6 5.5-2 5.5-1 5.5 2 5.5-5 5.5-8 5.5-1 5.5 0 5.5-7 5.5 2 5.5-3 5.5-10 5.5-5 5.5-1 5.5-4 5.5-8 5.5-6"/><path d="M330 225l5.5 6 5.5 3 5.5 4 5.5 0 5.5-1 5.5 0 5.5-1 5.5-1 5.5 0 5.5-1 5.5-3 5.5-1 5.5-4 5.5 2 5.5-2 5.5 0 5.5 0 5.5-9 5.5-3 5.5-4 5.5 2 5.5-7 5.5-2 5.5-2 5.5-3 5.5-3 5.5 4 5.5-9 5.5-4"/><path d="M330 225l5.5-5 5.5 1 5.5 4 5.5 9 5.5 2 5.5 1 5.5-2 5.5 1 5.5-1 5.5-2 5.5-1 5.5 0 5.5-1 5.5-1 5.5-2 5.5-1 5.5 0 5.5-1 5.5-1 5.5-2 5.5-1 5.5 0 5.5-1 5.5-2 5.5 0 5.5-2 5.5-2 5.5 0 5.5-1"/><path d="M330 231l5.5 8 5.5 0 5.5-1 5.5-1 5.5 0 5.5 0 5.5-2 5.5 0 5.5 0 5.5-2 5.5-2 5.5-1 5.5-2 5.5 2 5.5-3 5.5 1 5.5-1 5.5-1 5.5-1 5.5-1 5.5-6 5.5 4 5.5-3 5.5-1 5.5-5 5.5-2 5.5 2 5.5-7 5.5-3"/><path d="M330 211l5.5 4 5.5-2 5.5 1 5.5 2 5.5 1 5.5-5 5.5 4 5.5-1 5.5-1 5.5 4 5.5-1 5.5-1 5.5 1 5.5-5 5.5-1 5.5 0 5.5 0 5.5-3 5.5 4 5.5-7 5.5-4 5.5 6 5.5-3 5.5 0 5.5-7 5.5 1 5.5 0 5.5-1 5.5-1"/><path d="M330 234l5.5 0 5.5 5 5.5-1 5.5 0 5.5-1 5.5-1 5.5-1 5.5 1 5.5-2 5.5-1 5.5-1 5.5-1 5.5-1 5.5-3 5.5-1 5.5 2 5.5-7 5.5-1 5.5-4 5.5-1 5.5-4 5.5-3 5.5-6 5.5 0 5.5-2 5.5-4 5.5 3 5.5-8 5.5-6"/><path d="M330 216l5.5 7 5.5 3 5.5 7 5.5 3 5.5 2 5.5-1 5.5-1 5.5-1 5.5-1 5.5 0 5.5-2 5.5-1 5.5 0 5.5-1 5.5-2 5.5 0 5.5-1 5.5-1 5.5-1 5.5-1 5.5-1 5.5-1 5.5-1 5.5-2 5.5-1 5.5-1 5.5-1 5.5 0 5.5-2"/><path d="M330 225l5.5-1 5.5 8 5.5-2 5.5 8 5.5-1 5.5 0 5.5-2 5.5-2 5.5 2 5.5-1 5.5-3 5.5-3 5.5 0 5.5-3 5.5-2 5.5 0 5.5-2 5.5-7 5.5-1 5.5-8 5.5-4 5.5-2 5.5-2 5.5-7 5.5-4 5.5-6 5.5 2 5.5-8 5.5-6"/><path d="M330 241l5.5-1 5.5-1 5.5-1 5.5-1 5.5-1 5.5-2 5.5 2 5.5-3 5.5 0 5.5-3 5.5-3 5.5 1 5.5-4 5.5-9 5.5 1 5.5-4 5.5 2 5.5-10 5.5-2 5.5 0 5.5-8 5.5 8 5.5-12 5.5-3 5.5 0 5.5-6 5.5-4 5.5-7 5.5-1"/><path d="M330 227l5.5 4 5.5 2 5.5 5 5.5 0 5.5-1 5.5-1 5.5-2 5.5 0 5.5 0 5.5 0 5.5-1 5.5-3 5.5-3 5.5 1 5.5-5 5.5-2 5.5 2 5.5-1 5.5-4 5.5-3 5.5 2 5.5-5 5.5-5 5.5 0 5.5-2 5.5 1 5.5-6 5.5-2 5.5 3"/><path d="M330 222l5.5 7 5.5 0 5.5 9 5.5 1 5.5-2 5.5-1 5.5 0 5.5-1 5.5-3 5.5 2 5.5-2 5.5 0 5.5-1 5.5-2 5.5 0 5.5-1 5.5-1 5.5-1 5.5-1 5.5-1 5.5-2 5.5-1 5.5 0 5.5-2 5.5 0 5.5-2 5.5 0 5.5-2 5.5-1"/><path d="M330 241l5.5-1 5.5-1 5.5-2 5.5 1 5.5-3 5.5-1 5.5 1 5.5-2 5.5 0 5.5-2 5.5 1 5.5-8 5.5 1 5.5 1 5.5-1 5.5-1 5.5-1 5.5-8 5.5 4 5.5-4 5.5-2 5.5 0 5.5-3 5.5-5 5.5-6 5.5 0 5.5 0 5.5-5 5.5-5"/><path d="M330 234l5.5 4 5.5 1 5.5-2 5.5-2 5.5 3 5.5-2 5.5 0 5.5-3 5.5-2 5.5 2 5.5-6 5.5-6 5.5 1 5.5-3 5.5-4 5.5 0 5.5-2 5.5-9 5.5-4 5.5-6 5.5-9 5.5 4 5.5-13 5.5-8 5.5-6 5.5-7 5.5 1 5.5-7 5.5-5"/><path d="M330 204l5.5 4 5.5 7 5.5-4 5.5 7 5.5 5 5.5-2 5.5 6 5.5-3 5.5 4 5.5-1 5.5 3 5.5 2 5.5-2 5.5-1 5.5 0 5.5-1 5.5-2 5.5 0 5.5-1 5.5-1 5.5-2 5.5 0 5.5-1 5.5-1 5.5-1 5.5-1 5.5-2 5.5-1 5.5-1"/><path d="M330 221l5.5 4 5.5 4 5.5 3 5.5 6 5.5 0 5.5-1 5.5-1 5.5-1 5.5-1 5.5 0 5.5-1 5.5-2 5.5 0 5.5-1 5.5-1 5.5-2 5.5 1 5.5-2 5.5-1 5.5-3 5.5-1 5.5-1 5.5-7 5.5 0 5.5-3 5.5 0 5.5 0 5.5-4 5.5-3"/><path d="M330 238l5.5 0 5.5-1 5.5 0 5.5-4 5.5 2 5.5 0 5.5-4 5.5-3 5.5-4 5.5-1 5.5 1 5.5-7 5.5-2 5.5-4 5.5-8 5.5 2 5.5-6 5.5-3 5.5-4 5.5-6 5.5-4 5.5-5 5.5-5 5.5-2 5.5-7 5.5-4 5.5-3 5.5-6 5.5-2"/><path d="M330 240l5.5 0 5.5-1 5.5-1 5.5 0 5.5 0 5.5-1 5.5-3 5.5-2 5.5 2 5.5-9 5.5 3 5.5 1 5.5 2 5.5-5 5.5 1 5.5 1 5.5-2 5.5 0 5.5-1 5.5-1 5.5-1 5.5-4 5.5 0 5.5 1 5.5-4 5.5-7 5.5 6 5.5-3 5.5-1"/><path d="M330 215l5.5 5 5.5 4 5.5-3 5.5 9 5.5 7 5.5-1 5.5 0 5.5-1 5.5-1 5.5-1 5.5 0 5.5-1 5.5-2 5.5 0 5.5-1 5.5-1 5.5-2 5.5 1 5.5-2 5.5-1 5.5-1 5.5-1 5.5-1 5.5-2 5.5 0 5.5-3 5.5 0 5.5-1 5.5-7"/><path d="M330 241l5.5-2 5.5 0 5.5-3 5.5-1 5.5 1 5.5 1 5.5-4 5.5-8 5.5 5 5.5-5 5.5-1 5.5-3 5.5-2 5.5-5 5.5-2 5.5-4 5.5-1 5.5-11 5.5-2 5.5-6 5.5-6 5.5-1 5.5-8 5.5-1 5.5-9 5.5-6 5.5 0 5.5-7 5.5-9"/><path d="M330 220l5.5-1 5.5 1 5.5 6 5.5 2 5.5 0 5.5 1 5.5-2 5.5 2 5.5 1 5.5-5 5.5 0 5.5 0 5.5-2 5.5 0 5.5-2 5.5 1 5.5-2 5.5-4 5.5 1 5.5-4 5.5-2 5.5-4 5.5 1 5.5-1 5.5-2 5.5 0 5.5-7 5.5 4 5.5-5"/><path d="M330 241l5.5-1 5.5-1 5.5-1 5.5 0 5.5 0 5.5-2 5.5-2 5.5 1 5.5-1 5.5-1 5.5 0 5.5-7 5.5 0 5.5-8 5.5 5 5.5-6 5.5-6 5.5 0 5.5-6 5.5-4 5.5-9 5.5 2 5.5-5 5.5-7 5.5-8 5.5-3 5.5-5 5.5-4 5.5-7"/><path d="M330 221l5.5 5 5.5 1 5.5 2 5.5 8 5.5 0 5.5 0 5.5-1 5.5-1 5.5-1 5.5 0 5.5-2 5.5 0 5.5-1 5.5-1 5.5-1 5.5-1 5.5-1 5.5-1 5.5-1 5.5-1 5.5-1 5.5-1 5.5-1 5.5-1 5.5-1 5.5-1 5.5-1 5.5-2 5.5-1"/><path d="M330 241l5.5-1 5.5-2 5.5 0 5.5-1 5.5 1 5.5-2 5.5 0 5.5-1 5.5-2 5.5 1 5.5-1 5.5-2 5.5-1 5.5-1 5.5 0 5.5-1 5.5 0 5.5-5 5.5 2 5.5-2 5.5-4 5.5-1 5.5-3 5.5-1 5.5 0 5.5-4 5.5-1 5.5 0 5.5-9"/><path d="M330 223l5.5 5 5.5 0 5.5 10 5.5 0 5.5-1 5.5 0 5.5-1 5.5-2 5.5-1 5.5 1 5.5-1 5.5-1 5.5-2 5.5 0 5.5-3 5.5-1 5.5 1 5.5 0 5.5-3 5.5-1 5.5-3 5.5 1 5.5-5 5.5 3 5.5-1 5.5-3 5.5 0 5.5-5 5.5 3"/><path d="M330 241l5.5-1 5.5-2 5.5-5 5.5 4 5.5-4 5.5 4 5.5-3 5.5 1 5.5-2 5.5 0 5.5-1 5.5-1 5.5 0 5.5-1 5.5-1 5.5-1 5.5-2 5.5 0 5.5-2 5.5 0 5.5-1 5.5-1 5.5-3 5.5 0 5.5-1 5.5-2 5.5 0 5.5-1 5.5-1"/><path d="M330 225l5.5-7 5.5 7 5.5 2 5.5-2 5.5 6 5.5 0 5.5-2 5.5 7 5.5-3 5.5 1 5.5-2 5.5 0 5.5-1 5.5-1 5.5-1 5.5 0 5.5-3 5.5 0 5.5-1 5.5-1 5.5-1 5.5-3 5.5 1 5.5-1 5.5-1 5.5-1 5.5-1 5.5-2 5.5-1"/><path d="M330 230l5.5 0 5.5 8 5.5 0 5.5 0 5.5-1 5.5 0 5.5-2 5.5-1 5.5-1 5.5 0 5.5-1 5.5 0 5.5-1 5.5-4 5.5 0 5.5 1 5.5-1 5.5-4 5.5-4 5.5-1 5.5-7 5.5-5 5.5-4 5.5-3 5.5-2 5.5-6 5.5-5 5.5-4 5.5-5"/><path d="M330 225l5.5 1 5.5 3 5.5 8 5.5 1 5.5-1 5.5-2 5.5 1 5.5-2 5.5 1 5.5-2 5.5-1 5.5-3 5.5 0 5.5 0 5.5-2 5.5-1 5.5-1 5.5-5 5.5 5 5.5-8 5.5-6 5.5 3 5.5 2 5.5-6 5.5-2 5.5-1 5.5 2 5.5-7 5.5 3"/><path d="M330 237l5.5 2 5.5-3 5.5 1 5.5-2 5.5 3 5.5-2 5.5 0 5.5-1 5.5-1 5.5-1 5.5-1 5.5-2 5.5-3 5.5 2 5.5-2 5.5-2 5.5-6 5.5-1 5.5 0 5.5-10 5.5-2 5.5-2 5.5-2 5.5-4 5.5-2 5.5-6 5.5 1 5.5-7 5.5-5"/><path d="M330 226l5.5 8 5.5 4 5.5 0 5.5 0 5.5-2 5.5 1 5.5-1 5.5-2 5.5 0 5.5-1 5.5 0 5.5-2 5.5 0 5.5-1 5.5-2 5.5 0 5.5-1 5.5-2 5.5-1 5.5 0 5.5-3 5.5 1 5.5-4 5.5-2 5.5 0 5.5 0 5.5-2 5.5 0 5.5 0"/><path d="M330 221l5.5 1 5.5 3 5.5 6 5.5 7 5.5 0 5.5-1 5.5-1 5.5 0 5.5-3 5.5 0 5.5-2 5.5 1 5.5-1 5.5-1 5.5-3 5.5 1 5.5-1 5.5-4 5.5-3 5.5 0 5.5-3 5.5 0 5.5-6 5.5 3 5.5-4 5.5-7 5.5 1 5.5 0 5.5 1"/><path d="M330 240l5.5-1 5.5-4 5.5 0 5.5-1 5.5-5 5.5-1 5.5-4 5.5 1 5.5-8 5.5 5 5.5-6 5.5-6 5.5 2 5.5 1 5.5-4 5.5-1 5.5-1 5.5-8 5.5-1 5.5 1 5.5-10 5.5 1 5.5 0 5.5-4 5.5-5 5.5-2 5.5-2 5.5-4 5.5-4"/><path d="M330 241l5.5-1 5.5-6 5.5 1 5.5 3 5.5-1 5.5-2 5.5-6 5.5 4 5.5-6 5.5-3 5.5-2 5.5-6 5.5 5 5.5-7 5.5-1 5.5-7 5.5 1 5.5-2 5.5-5 5.5-3 5.5-7 5.5-2 5.5-4 5.5-6 5.5-2 5.5-9 5.5 1 5.5-10 5.5 0"/><path d="M330 241l5.5-1 5.5-1 5.5-1 5.5 0 5.5-1 5.5-6 5.5 0 5.5-1 5.5 1 5.5-3 5.5 3 5.5-5 5.5 2 5.5-3 5.5-2 5.5-3 5.5-1 5.5-4 5.5-5 5.5-2 5.5-6 5.5 0 5.5-4 5.5 2 5.5-7 5.5-8 5.5 0 5.5-6 5.5-4"/><path d="M330 241l5.5-2 5.5 0 5.5-3 5.5 1 5.5-1 5.5-3 5.5-4 5.5-1 5.5-1 5.5-4 5.5-3 5.5-7 5.5 1 5.5-7 5.5 0 5.5-5 5.5-4 5.5-8 5.5-1 5.5-2 5.5-11 5.5-5 5.5-3 5.5-6 5.5-5 5.5-6 5.5 2 5.5-7 5.5-5"/><path d="M330 206l5.5 4 5.5 5 5.5 8 5.5 4 5.5 2 5.5 3 5.5 4 5.5-3 5.5 1 5.5-1 5.5 0 5.5-1 5.5-1 5.5-1 5.5-4 5.5 2 5.5-3 5.5 0 5.5 0 5.5-1 5.5-4 5.5 1 5.5-1 5.5-1 5.5-1 5.5-2 5.5 0 5.5-7 5.5 2"/><path d="M330 200l5.5-1 5.5 7 5.5 0 5.5 6 5.5 6 5.5 6 5.5 5 5.5-1 5.5 0 5.5-1 5.5 3 5.5 2 5.5-1 5.5-1 5.5-1 5.5-1 5.5-1 5.5-1 5.5-1 5.5-1 5.5-1 5.5-1 5.5-1 5.5-1 5.5-1 5.5-2 5.5-1 5.5-1 5.5-1"/><path d="M330 221l5.5 6 5.5 6 5.5-1 5.5 5 5.5 0 5.5-1 5.5 0 5.5-4 5.5 2 5.5-1 5.5-3 5.5 2 5.5-1 5.5-2 5.5-1 5.5-1 5.5-3 5.5 2 5.5-3 5.5-4 5.5 1 5.5-2 5.5-7 5.5 1 5.5-3 5.5-1 5.5 2 5.5-4 5.5 2"/><path d="M330 241l5.5-1 5.5-1 5.5-1 5.5-1 5.5 0 5.5-1 5.5-1 5.5 0 5.5-1 5.5-3 5.5 2 5.5-1 5.5-1 5.5-2 5.5 0 5.5-4 5.5 1 5.5-5 5.5-5 5.5 3 5.5-4 5.5-4 5.5-2 5.5-7 5.5-2 5.5-5 5.5-2 5.5-4 5.5-5"/><path d="M330 222l5.5-5 5.5 4 5.5 2 5.5 4 5.5 5 5.5 0 5.5-2 5.5 2 5.5-4 5.5-1 5.5 6 5.5-1 5.5-1 5.5-1 5.5-1 5.5-1 5.5-1 5.5-1 5.5-1 5.5-1 5.5-1 5.5-1 5.5-1 5.5-1 5.5-1 5.5-3 5.5 0 5.5-2 5.5 0"/><path d="M330 241l5.5-5 5.5 3 5.5-1 5.5-1 5.5 0 5.5 0 5.5-1 5.5 0 5.5-3 5.5 0 5.5-1 5.5-6 5.5 5 5.5-3 5.5-2 5.5-2 5.5-1 5.5-4 5.5-4 5.5-3 5.5-6 5.5-2 5.5-4 5.5-4 5.5-3 5.5-5 5.5 0 5.5-6 5.5-5"/><path d="M330 208l5.5 0 5.5 2 5.5 6 5.5 4 5.5 1 5.5 6 5.5-2 5.5 0 5.5-1 5.5 3 5.5-1 5.5 5 5.5 0 5.5-1 5.5-2 5.5 0 5.5-1 5.5-1 5.5-1 5.5-2 5.5 0 5.5-1 5.5-1 5.5-2 5.5 0 5.5-2 5.5-1 5.5-1 5.5-1"/><path d="M330 241l5.5-1 5.5-1 5.5-2 5.5-1 5.5 1 5.5-3 5.5-4 5.5 4 5.5-10 5.5-1 5.5-3 5.5-2 5.5-2 5.5-6 5.5 0 5.5-5 5.5-7 5.5 1 5.5 1 5.5-6 5.5-5 5.5 1 5.5-12 5.5 3 5.5-7 5.5-3 5.5-5 5.5-1 5.5-5"/><path d="M330 218l5.5 1 5.5 4 5.5 6 5.5 0 5.5 6 5.5 2 5.5-1 5.5-1 5.5 0 5.5-4 5.5 1 5.5-7 5.5-1 5.5-3 5.5 1 5.5-2 5.5-1 5.5-6 5.5-4 5.5 0 5.5-6 5.5-6 5.5-3 5.5-4 5.5 0 5.5-4 5.5-6 5.5-6 5.5-3"/><path d="M330 220l5.5 6 5.5 6 5.5-1 5.5 5 5.5 0 5.5 0 5.5 0 5.5-1 5.5 0 5.5-2 5.5 0 5.5-1 5.5-1 5.5-1 5.5 0 5.5-1 5.5-2 5.5-1 5.5-1 5.5-1 5.5-2 5.5-1 5.5 0 5.5-1 5.5-2 5.5-2 5.5 0 5.5 0 5.5-2"/><path d="M330 236l5.5 0 5.5 3 5.5-1 5.5 0 5.5 0 5.5-2 5.5 0 5.5-1 5.5-2 5.5 0 5.5 0 5.5-2 5.5-1 5.5-1 5.5 0 5.5-1 5.5-1 5.5-2 5.5-4 5.5 0 5.5-3 5.5 0 5.5-3 5.5 0 5.5 0 5.5-6 5.5 3 5.5-4 5.5-4"/><path d="M330 204l5.5-5 5.5 9 5.5-1 5.5 7 5.5 1 5.5 1 5.5 5 5.5 0 5.5 0 5.5 5 5.5-2 5.5-5 5.5 8 5.5 0 5.5 2 5.5-5 5.5 3 5.5-1 5.5-2 5.5 0 5.5-1 5.5-2 5.5-1 5.5 0 5.5-2 5.5 0 5.5-1 5.5-3 5.5 0"/><path d="M330 235l5.5 5 5.5-1 5.5-1 5.5 0 5.5-1 5.5-2 5.5 1 5.5-3 5.5 1 5.5-3 5.5-1 5.5 2 5.5-2 5.5-4 5.5-1 5.5-2 5.5-1 5.5-1 5.5-5 5.5 0 5.5-8 5.5 4 5.5-4 5.5-5 5.5 1 5.5-9 5.5 2 5.5-7 5.5-1"/><path d="M330 241l5.5-1 5.5-1 5.5-3 5.5 2 5.5 0 5.5-7 5.5 5 5.5-2 5.5-1 5.5-4 5.5 0 5.5-3 5.5-2 5.5-5 5.5 2 5.5-1 5.5-11 5.5-3 5.5 0 5.5-6 5.5-5 5.5-1 5.5-11 5.5-5 5.5-3 5.5-7 5.5-2 5.5-6 5.5-7"/><path d="M330 241l5.5-1 5.5-4 5.5-2 5.5-3 5.5 1 5.5-8 5.5-4 5.5 0 5.5 1 5.5-5 5.5 1 5.5-9 5.5-5 5.5 2 5.5-7 5.5 2 5.5-9 5.5-9 5.5-5 5.5-7 5.5-6 5.5-4 5.5-9 5.5-5 5.5-6 5.5-7 5.5 0 5.5-12 5.5-4"/><path d="M330 241l5.5-1 5.5-1 5.5-1 5.5 0 5.5 0 5.5-3 5.5 1 5.5 0 5.5-4 5.5-2 5.5 2 5.5-1 5.5-1 5.5 0 5.5-1 5.5-2 5.5 0 5.5-1 5.5-1 5.5-1 5.5-1 5.5-1 5.5-1 5.5-1 5.5-2 5.5-1 5.5 0 5.5-2 5.5-1"/><path d="M330 234l5.5-1 5.5 6 5.5-8 5.5 7 5.5-2 5.5-1 5.5 0 5.5-1 5.5-7 5.5-1 5.5 0 5.5-7 5.5 0 5.5-4 5.5-9 5.5-3 5.5-4 5.5 4 5.5-8 5.5-7 5.5-7 5.5-1 5.5-11 5.5-4 5.5-7 5.5-3 5.5 0 5.5-7 5.5-1"/><path d="M330 241l5.5-1 5.5-1 5.5-3 5.5 2 5.5-2 5.5-4 5.5 1 5.5 1 5.5-4 5.5-5 5.5-2 5.5 1 5.5-6 5.5 0 5.5-4 5.5-4 5.5 1 5.5-6 5.5-5 5.5 0 5.5-7 5.5-2 5.5-3 5.5-4 5.5-9 5.5-2 5.5-1 5.5-9 5.5-6"/><path d="M330 236l5.5 4 5.5-1 5.5-3 5.5-2 5.5 3 5.5-2 5.5 1 5.5-6 5.5 4 5.5-2 5.5-5 5.5 5 5.5-3 5.5-2 5.5 1 5.5-3 5.5-2 5.5-3 5.5 1 5.5-5 5.5 0 5.5 1 5.5 3 5.5-9 5.5 1 5.5-5 5.5 5 5.5 0 5.5-3"/><path d="M330 239l5.5 1 5.5-1 5.5-5 5.5 0 5.5 0 5.5-2 5.5 0 5.5-1 5.5-3 5.5 0 5.5 1 5.5-3 5.5-3 5.5-6 5.5 1 5.5-3 5.5-3 5.5-6 5.5-3 5.5-4 5.5-5 5.5-4 5.5-8 5.5-3 5.5-7 5.5-1 5.5-3 5.5 3 5.5-10"/><path d="M330 211l5.5-1 5.5 6 5.5 1 5.5 3 5.5 7 5.5-2 5.5 5 5.5 4 5.5 1 5.5-3 5.5 0 5.5 0 5.5-1 5.5-2 5.5-1 5.5 0 5.5-2 5.5 0 5.5-1 5.5-1 5.5-1 5.5-1 5.5-1 5.5-1 5.5-1 5.5-1 5.5-2 5.5 0 5.5-2"/><path d="M330 236l5.5 3 5.5 0 5.5-1 5.5 0 5.5-1 5.5 0 5.5-1 5.5-1 5.5 0 5.5-1 5.5-1 5.5-2 5.5 0 5.5-2 5.5-1 5.5 1 5.5-2 5.5-1 5.5-1 5.5-5 5.5-3 5.5-2 5.5-3 5.5-3 5.5-4 5.5-3 5.5 1 5.5-1 5.5-5"/><path d="M330 241l5.5-1 5.5-1 5.5-3 5.5 1 5.5-1 5.5-5 5.5-1 5.5-6 5.5 1 5.5 1 5.5-4 5.5-3 5.5-2 5.5-6 5.5-5 5.5-4 5.5-6 5.5-7 5.5 2 5.5-8 5.5-8 5.5-2 5.5-7 5.5 2 5.5-11 5.5-3 5.5-1 5.5-5 5.5-3"/><path d="M330 234l5.5 6 5.5-1 5.5-1 5.5 0 5.5-1 5.5-1 5.5-3 5.5-2 5.5-4 5.5 2 5.5 2 5.5-6 5.5-3 5.5-5 5.5-2 5.5 0 5.5-4 5.5-8 5.5 3 5.5-5 5.5-10 5.5 4 5.5-11 5.5-1 5.5-7 5.5-4 5.5-2 5.5-11 5.5 0"/><path d="M330 237l5.5 1 5.5 1 5.5-2 5.5 1 5.5-2 5.5 1 5.5-2 5.5 0 5.5-3 5.5 0 5.5-4 5.5 3 5.5-3 5.5-3 5.5-4 5.5 2 5.5-1 5.5-3 5.5 1 5.5-7 5.5 4 5.5-4 5.5-6 5.5 3 5.5-3 5.5-9 5.5 3 5.5-10 5.5 5"/><path d="M330 238l5.5-2 5.5 1 5.5-2 5.5-5 5.5-3 5.5 2 5.5-6 5.5-5 5.5 5 5.5-8 5.5 0 5.5-7 5.5-5 5.5-2 5.5-7 5.5 0 5.5-3 5.5-5 5.5-1 5.5-6 5.5-4 5.5 2 5.5-10 5.5-2 5.5-6 5.5-1 5.5-1 5.5-3 5.5-12"/></g></defs>
<g fill="none"><use href="#rL" transform="translate(97.486,130.800) scale(0.706287)" class="r"/><use href="#rLR" transform="translate(97.486,130.800) scale(0.706287)" class="r"/><use href="#rLRR" transform="translate(97.486,130.800) scale(0.706287)" class="r"/><use href="#rL" transform="translate(733.886,130.800) scale(0.706287)" class="r"/><use href="#rLR" transform="translate(733.886,130.800) scale(0.706287)" class="r"/><use href="#rLRL" transform="translate(733.886,130.800) scale(0.706287)" class="r"/><use href="#rL" transform="translate(97.486,552.000) scale(0.706287)" class="r"/><use href="#rLL" transform="translate(97.486,552.000) scale(0.706287)" class="r"/><use href="#rLLR" transform="translate(97.486,552.000) scale(0.706287)" class="r"/><use href="#rL" transform="translate(733.886,552.000) scale(0.706287)" class="r"/><use href="#rLL" transform="translate(733.886,552.000) scale(0.706287)" class="r"/><use href="#rLLL" transform="translate(733.886,552.000) scale(0.706287)" class="r"/><use href="#bR" transform="translate(97.486,973.200) scale(0.706287)" class="b"/><use href="#bRR" transform="translate(97.486,973.200) scale(0.706287)" class="b"/><use href="#bRRR" transform="translate(97.486,973.200) scale(0.706287)" class="b"/><use href="#bR" transform="translate(733.886,973.200) scale(0.706287)" class="b"/><use href="#bRR" transform="translate(733.886,973.200) scale(0.706287)" class="b"/><use href="#bRRL" transform="translate(733.886,973.200) scale(0.706287)" class="b"/><use href="#bR" transform="translate(97.486,1394.200) scale(0.706287)" class="b"/><use href="#bRL" transform="translate(97.486,1394.200) scale(0.706287)" class="b"/><use href="#bRLR" transform="translate(97.486,1394.200) scale(0.706287)" class="b"/><use href="#bR" transform="translate(733.886,1394.200) scale(0.706287)" class="b"/><use href="#bRL" transform="translate(733.886,1394.200) scale(0.706287)" class="b"/><use href="#bRLL" transform="translate(733.886,1394.200) scale(0.706287)" class="b"/></g>
<g fill="none" stroke="#262626" stroke-width="1.1"><rect x="80.2" y="24.6" width="380.3" height="283.2"/><path d="M80.2 24.60h-3.6M80.2 60.00h-3.6M80.2 95.40h-3.6M80.2 130.80h-3.6M80.2 166.20h-3.6M80.2 201.60h-3.6M80.2 237.00h-3.6M80.2 272.40h-3.6M80.2 307.80h-3.6M97.49 307.8v3.6M175.18 307.8v3.6M252.87 307.8v3.6M330.56 307.8v3.6M408.25 307.8v3.6"/><rect x="716.6" y="24.6" width="380.3" height="283.2"/><path d="M716.6 24.60h-3.6M716.6 60.00h-3.6M716.6 95.40h-3.6M716.6 130.80h-3.6M716.6 166.20h-3.6M716.6 201.60h-3.6M716.6 237.00h-3.6M716.6 272.40h-3.6M716.6 307.80h-3.6M733.89 307.8v3.6M811.58 307.8v3.6M889.27 307.8v3.6M966.96 307.8v3.6M1044.65 307.8v3.6"/><rect x="80.2" y="445.8" width="380.3" height="283.2"/><path d="M80.2 445.80h-3.6M80.2 481.20h-3.6M80.2 516.60h-3.6M80.2 552.00h-3.6M80.2 587.40h-3.6M80.2 622.80h-3.6M80.2 658.20h-3.6M80.2 693.60h-3.6M80.2 729.00h-3.6M97.49 729.0v3.6M175.18 729.0v3.6M252.87 729.0v3.6M330.56 729.0v3.6M408.25 729.0v3.6"/><rect x="716.6" y="445.8" width="380.3" height="283.2"/><path d="M716.6 445.80h-3.6M716.6 481.20h-3.6M716.6 516.60h-3.6M716.6 552.00h-3.6M716.6 587.40h-3.6M716.6 622.80h-3.6M716.6 658.20h-3.6M716.6 693.60h-3.6M716.6 729.00h-3.6M733.89 729.0v3.6M811.58 729.0v3.6M889.27 729.0v3.6M966.96 729.0v3.6M1044.65 729.0v3.6"/><rect x="80.2" y="867.0" width="380.3" height="283.2"/><path d="M80.2 867.00h-3.6M80.2 902.40h-3.6M80.2 937.80h-3.6M80.2 973.20h-3.6M80.2 1008.60h-3.6M80.2 1044.00h-3.6M80.2 1079.40h-3.6M80.2 1114.80h-3.6M80.2 1150.20h-3.6M97.49 1150.2v3.6M175.18 1150.2v3.6M252.87 1150.2v3.6M330.56 1150.2v3.6M408.25 1150.2v3.6"/><rect x="716.6" y="867.0" width="380.3" height="283.2"/><path d="M716.6 867.00h-3.6M716.6 902.40h-3.6M716.6 937.80h-3.6M716.6 973.20h-3.6M716.6 1008.60h-3.6M716.6 1044.00h-3.6M716.6 1079.40h-3.6M716.6 1114.80h-3.6M716.6 1150.20h-3.6M733.89 1150.2v3.6M811.58 1150.2v3.6M889.27 1150.2v3.6M966.96 1150.2v3.6M1044.65 1150.2v3.6"/><rect x="80.2" y="1288.0" width="380.3" height="283.2"/><path d="M80.2 1288.00h-3.6M80.2 1323.40h-3.6M80.2 1358.80h-3.6M80.2 1394.20h-3.6M80.2 1429.60h-3.6M80.2 1465.00h-3.6M80.2 1500.40h-3.6M80.2 1535.80h-3.6M80.2 1571.20h-3.6M97.49 1571.2v3.6M175.18 1571.2v3.6M252.87 1571.2v3.6M330.56 1571.2v3.6M408.25 1571.2v3.6"/><rect x="716.6" y="1288.0" width="380.3" height="283.2"/><path d="M716.6 1288.00h-3.6M716.6 1323.40h-3.6M716.6 1358.80h-3.6M716.6 1394.20h-3.6M716.6 1429.60h-3.6M716.6 1465.00h-3.6M716.6 1500.40h-3.6M716.6 1535.80h-3.6M716.6 1571.20h-3.6M733.89 1571.2v3.6M811.58 1571.2v3.6M889.27 1571.2v3.6M966.96 1571.2v3.6M1044.65 1571.2v3.6"/></g>
<g fill="#000"><text x="269.70" y="17.70" font-size="20.3" text-anchor="middle" textLength="269.89" lengthAdjust="spacingAndGlyphs">KL: 10.55, H: -1.83, G: -7.70</text><text x="72.00" y="30.00" font-size="15.8" text-anchor="end" textLength="32.54" lengthAdjust="spacingAndGlyphs">0.75</text><text x="72.00" y="65.40" font-size="15.8" text-anchor="end" textLength="32.87" lengthAdjust="spacingAndGlyphs">0.50</text><text x="72.00" y="100.80" font-size="15.8" text-anchor="end" textLength="32.54" lengthAdjust="spacingAndGlyphs">0.25</text><text x="72.00" y="136.20" font-size="15.8" text-anchor="end" textLength="32.87" lengthAdjust="spacingAndGlyphs">0.00</text><text x="72.00" y="171.60" font-size="15.8" text-anchor="end" textLength="45.06" lengthAdjust="spacingAndGlyphs">−0.25</text><text x="72.00" y="207.00" font-size="15.8" text-anchor="end" textLength="45.39" lengthAdjust="spacingAndGlyphs">−0.50</text><text x="72.00" y="242.40" font-size="15.8" text-anchor="end" textLength="45.06" lengthAdjust="spacingAndGlyphs">−0.75</text><text x="72.00" y="277.80" font-size="15.8" text-anchor="end" textLength="45.39" lengthAdjust="spacingAndGlyphs">−1.00</text><text x="72.00" y="313.20" font-size="15.8" text-anchor="end" textLength="45.06" lengthAdjust="spacingAndGlyphs">−1.25</text><text x="97.49" y="326.40" font-size="15.8" text-anchor="middle" textLength="7.47" lengthAdjust="spacingAndGlyphs">0</text><text x="175.18" y="326.40" font-size="15.8" text-anchor="middle" textLength="16.77" lengthAdjust="spacingAndGlyphs">20</text><text x="252.87" y="326.40" font-size="15.8" text-anchor="middle" textLength="17.14" lengthAdjust="spacingAndGlyphs">40</text><text x="330.56" y="326.40" font-size="15.8" text-anchor="middle" textLength="16.83" lengthAdjust="spacingAndGlyphs">60</text><text x="408.25" y="326.40" font-size="15.8" text-anchor="middle" textLength="16.86" lengthAdjust="spacingAndGlyphs">80</text><text x="270.00" y="346.90" font-size="18.2" text-anchor="middle" textLength="40.75" lengthAdjust="spacingAndGlyphs">time</text><text transform="translate(19.10,165.50) rotate(-90)" x="0" y="0" font-size="18.2" text-anchor="middle" textLength="67.92" lengthAdjust="spacingAndGlyphs">position</text><text x="259.40" y="402.60" font-size="28.7" text-anchor="middle" class="cap" textLength="187.00" lengthAdjust="spacingAndGlyphs">left-right-right</text><text transform="translate(0.60,33.00) scale(1.08,1)" font-size="34.7" class="let">A</text><text x="906.10" y="17.70" font-size="20.3" text-anchor="middle" textLength="269.97" lengthAdjust="spacingAndGlyphs">KL: 10.44, H: -1.14, G: -0.96</text><text x="708.40" y="30.00" font-size="15.8" text-anchor="end" textLength="32.54" lengthAdjust="spacingAndGlyphs">0.75</text><text x="708.40" y="65.40" font-size="15.8" text-anchor="end" textLength="32.87" lengthAdjust="spacingAndGlyphs">0.50</text><text x="708.40" y="100.80" font-size="15.8" text-anchor="end" textLength="32.54" lengthAdjust="spacingAndGlyphs">0.25</text><text x="708.40" y="136.20" font-size="15.8" text-anchor="end" textLength="32.87" lengthAdjust="spacingAndGlyphs">0.00</text><text x="708.40" y="171.60" font-size="15.8" text-anchor="end" textLength="45.06" lengthAdjust="spacingAndGlyphs">−0.25</text><text x="708.40" y="207.00" font-size="15.8" text-anchor="end" textLength="45.39" lengthAdjust="spacingAndGlyphs">−0.50</text><text x="708.40" y="242.40" font-size="15.8" text-anchor="end" textLength="45.06" lengthAdjust="spacingAndGlyphs">−0.75</text><text x="708.40" y="277.80" font-size="15.8" text-anchor="end" textLength="45.39" lengthAdjust="spacingAndGlyphs">−1.00</text><text x="708.40" y="313.20" font-size="15.8" text-anchor="end" textLength="45.06" lengthAdjust="spacingAndGlyphs">−1.25</text><text x="733.89" y="326.40" font-size="15.8" text-anchor="middle" textLength="7.47" lengthAdjust="spacingAndGlyphs">0</text><text x="811.58" y="326.40" font-size="15.8" text-anchor="middle" textLength="16.77" lengthAdjust="spacingAndGlyphs">20</text><text x="889.27" y="326.40" font-size="15.8" text-anchor="middle" textLength="17.14" lengthAdjust="spacingAndGlyphs">40</text><text x="966.96" y="326.40" font-size="15.8" text-anchor="middle" textLength="16.83" lengthAdjust="spacingAndGlyphs">60</text><text x="1044.65" y="326.40" font-size="15.8" text-anchor="middle" textLength="16.86" lengthAdjust="spacingAndGlyphs">80</text><text x="906.40" y="346.90" font-size="18.2" text-anchor="middle" textLength="40.75" lengthAdjust="spacingAndGlyphs">time</text><text transform="translate(655.50,165.50) rotate(-90)" x="0" y="0" font-size="18.2" text-anchor="middle" textLength="67.92" lengthAdjust="spacingAndGlyphs">position</text><text x="895.80" y="402.60" font-size="28.7" text-anchor="middle" class="cap" textLength="168.99" lengthAdjust="spacingAndGlyphs">left-right-left</text><text transform="translate(630.00,33.00) scale(1.0,1)" font-size="34.7" class="let">B</text><text x="269.70" y="438.90" font-size="20.3" text-anchor="middle" textLength="269.81" lengthAdjust="spacingAndGlyphs">KL: 10.26, H: -1.25, G: -2.19</text><text x="72.00" y="451.20" font-size="15.8" text-anchor="end" textLength="32.54" lengthAdjust="spacingAndGlyphs">0.75</text><text x="72.00" y="486.60" font-size="15.8" text-anchor="end" textLength="32.87" lengthAdjust="spacingAndGlyphs">0.50</text><text x="72.00" y="522.00" font-size="15.8" text-anchor="end" textLength="32.54" lengthAdjust="spacingAndGlyphs">0.25</text><text x="72.00" y="557.40" font-size="15.8" text-anchor="end" textLength="32.87" lengthAdjust="spacingAndGlyphs">0.00</text><text x="72.00" y="592.80" font-size="15.8" text-anchor="end" textLength="45.06" lengthAdjust="spacingAndGlyphs">−0.25</text><text x="72.00" y="628.20" font-size="15.8" text-anchor="end" textLength="45.39" lengthAdjust="spacingAndGlyphs">−0.50</text><text x="72.00" y="663.60" font-size="15.8" text-anchor="end" textLength="45.06" lengthAdjust="spacingAndGlyphs">−0.75</text><text x="72.00" y="699.00" font-size="15.8" text-anchor="end" textLength="45.39" lengthAdjust="spacingAndGlyphs">−1.00</text><text x="72.00" y="734.40" font-size="15.8" text-anchor="end" textLength="45.06" lengthAdjust="spacingAndGlyphs">−1.25</text><text x="97.49" y="747.60" font-size="15.8" text-anchor="middle" textLength="7.47" lengthAdjust="spacingAndGlyphs">0</text><text x="175.18" y="747.60" font-size="15.8" text-anchor="middle" textLength="16.77" lengthAdjust="spacingAndGlyphs">20</text><text x="252.87" y="747.60" font-size="15.8" text-anchor="middle" textLength="17.14" lengthAdjust="spacingAndGlyphs">40</text><text x="330.56" y="747.60" font-size="15.8" text-anchor="middle" textLength="16.83" lengthAdjust="spacingAndGlyphs">60</text><text x="408.25" y="747.60" font-size="15.8" text-anchor="middle" textLength="16.86" lengthAdjust="spacingAndGlyphs">80</text><text x="270.00" y="768.10" font-size="18.2" text-anchor="middle" textLength="40.75" lengthAdjust="spacingAndGlyphs">time</text><text transform="translate(19.10,586.70) rotate(-90)" x="0" y="0" font-size="18.2" text-anchor="middle" textLength="67.92" lengthAdjust="spacingAndGlyphs">position</text><text x="259.40" y="823.80" font-size="28.7" text-anchor="middle" class="cap" textLength="168.99" lengthAdjust="spacingAndGlyphs">left-left-right</text><text transform="translate(0.70,418.60) scale(1.07,1)" font-size="34.7" class="let">C</text><text x="906.10" y="438.90" font-size="20.3" text-anchor="middle" textLength="269.52" lengthAdjust="spacingAndGlyphs">KL: 10.42, H: -1.31, G: -2.67</text><text x="708.40" y="451.20" font-size="15.8" text-anchor="end" textLength="32.54" lengthAdjust="spacingAndGlyphs">0.75</text><text x="708.40" y="486.60" font-size="15.8" text-anchor="end" textLength="32.87" lengthAdjust="spacingAndGlyphs">0.50</text><text x="708.40" y="522.00" font-size="15.8" text-anchor="end" textLength="32.54" lengthAdjust="spacingAndGlyphs">0.25</text><text x="708.40" y="557.40" font-size="15.8" text-anchor="end" textLength="32.87" lengthAdjust="spacingAndGlyphs">0.00</text><text x="708.40" y="592.80" font-size="15.8" text-anchor="end" textLength="45.06" lengthAdjust="spacingAndGlyphs">−0.25</text><text x="708.40" y="628.20" font-size="15.8" text-anchor="end" textLength="45.39" lengthAdjust="spacingAndGlyphs">−0.50</text><text x="708.40" y="663.60" font-size="15.8" text-anchor="end" textLength="45.06" lengthAdjust="spacingAndGlyphs">−0.75</text><text x="708.40" y="699.00" font-size="15.8" text-anchor="end" textLength="45.39" lengthAdjust="spacingAndGlyphs">−1.00</text><text x="708.40" y="734.40" font-size="15.8" text-anchor="end" textLength="45.06" lengthAdjust="spacingAndGlyphs">−1.25</text><text x="733.89" y="747.60" font-size="15.8" text-anchor="middle" textLength="7.47" lengthAdjust="spacingAndGlyphs">0</text><text x="811.58" y="747.60" font-size="15.8" text-anchor="middle" textLength="16.77" lengthAdjust="spacingAndGlyphs">20</text><text x="889.27" y="747.60" font-size="15.8" text-anchor="middle" textLength="17.14" lengthAdjust="spacingAndGlyphs">40</text><text x="966.96" y="747.60" font-size="15.8" text-anchor="middle" textLength="16.83" lengthAdjust="spacingAndGlyphs">60</text><text x="1044.65" y="747.60" font-size="15.8" text-anchor="middle" textLength="16.86" lengthAdjust="spacingAndGlyphs">80</text><text x="906.40" y="768.10" font-size="18.2" text-anchor="middle" textLength="40.75" lengthAdjust="spacingAndGlyphs">time</text><text transform="translate(655.50,586.70) rotate(-90)" x="0" y="0" font-size="18.2" text-anchor="middle" textLength="67.92" lengthAdjust="spacingAndGlyphs">position</text><text x="895.80" y="823.80" font-size="28.7" text-anchor="middle" class="cap" textLength="150.99" lengthAdjust="spacingAndGlyphs">left-left-left</text><text transform="translate(629.40,418.60) scale(1.06,1)" font-size="34.7" class="let">D</text><text x="269.70" y="860.10" font-size="20.3" text-anchor="middle" textLength="257.57" lengthAdjust="spacingAndGlyphs">KL: 9.14, H: -1.33, G: -4.16</text><text x="72.00" y="872.40" font-size="15.8" text-anchor="end" textLength="32.54" lengthAdjust="spacingAndGlyphs">0.75</text><text x="72.00" y="907.80" font-size="15.8" text-anchor="end" textLength="32.87" lengthAdjust="spacingAndGlyphs">0.50</text><text x="72.00" y="943.20" font-size="15.8" text-anchor="end" textLength="32.54" lengthAdjust="spacingAndGlyphs">0.25</text><text x="72.00" y="978.60" font-size="15.8" text-anchor="end" textLength="32.87" lengthAdjust="spacingAndGlyphs">0.00</text><text x="72.00" y="1014.00" font-size="15.8" text-anchor="end" textLength="45.06" lengthAdjust="spacingAndGlyphs">−0.25</text><text x="72.00" y="1049.40" font-size="15.8" text-anchor="end" textLength="45.39" lengthAdjust="spacingAndGlyphs">−0.50</text><text x="72.00" y="1084.80" font-size="15.8" text-anchor="end" textLength="45.06" lengthAdjust="spacingAndGlyphs">−0.75</text><text x="72.00" y="1120.20" font-size="15.8" text-anchor="end" textLength="45.39" lengthAdjust="spacingAndGlyphs">−1.00</text><text x="72.00" y="1155.60" font-size="15.8" text-anchor="end" textLength="45.06" lengthAdjust="spacingAndGlyphs">−1.25</text><text x="97.49" y="1168.80" font-size="15.8" text-anchor="middle" textLength="7.47" lengthAdjust="spacingAndGlyphs">0</text><text x="175.18" y="1168.80" font-size="15.8" text-anchor="middle" textLength="16.77" lengthAdjust="spacingAndGlyphs">20</text><text x="252.87" y="1168.80" font-size="15.8" text-anchor="middle" textLength="17.14" lengthAdjust="spacingAndGlyphs">40</text><text x="330.56" y="1168.80" font-size="15.8" text-anchor="middle" textLength="16.83" lengthAdjust="spacingAndGlyphs">60</text><text x="408.25" y="1168.80" font-size="15.8" text-anchor="middle" textLength="16.86" lengthAdjust="spacingAndGlyphs">80</text><text x="270.00" y="1189.30" font-size="18.2" text-anchor="middle" textLength="40.75" lengthAdjust="spacingAndGlyphs">time</text><text transform="translate(19.10,1007.90) rotate(-90)" x="0" y="0" font-size="18.2" text-anchor="middle" textLength="67.92" lengthAdjust="spacingAndGlyphs">position</text><text x="259.40" y="1245.00" font-size="28.7" text-anchor="middle" class="cap" textLength="205.01" lengthAdjust="spacingAndGlyphs">right-right-right</text><text transform="translate(2.40,836.60) scale(1.0,1)" font-size="34.7" class="let">E</text><text x="906.10" y="860.10" font-size="20.3" text-anchor="middle" textLength="257.57" lengthAdjust="spacingAndGlyphs">KL: 9.88, H: -1.40, G: -4.16</text><text x="708.40" y="872.40" font-size="15.8" text-anchor="end" textLength="32.54" lengthAdjust="spacingAndGlyphs">0.75</text><text x="708.40" y="907.80" font-size="15.8" text-anchor="end" textLength="32.87" lengthAdjust="spacingAndGlyphs">0.50</text><text x="708.40" y="943.20" font-size="15.8" text-anchor="end" textLength="32.54" lengthAdjust="spacingAndGlyphs">0.25</text><text x="708.40" y="978.60" font-size="15.8" text-anchor="end" textLength="32.87" lengthAdjust="spacingAndGlyphs">0.00</text><text x="708.40" y="1014.00" font-size="15.8" text-anchor="end" textLength="45.06" lengthAdjust="spacingAndGlyphs">−0.25</text><text x="708.40" y="1049.40" font-size="15.8" text-anchor="end" textLength="45.39" lengthAdjust="spacingAndGlyphs">−0.50</text><text x="708.40" y="1084.80" font-size="15.8" text-anchor="end" textLength="45.06" lengthAdjust="spacingAndGlyphs">−0.75</text><text x="708.40" y="1120.20" font-size="15.8" text-anchor="end" textLength="45.39" lengthAdjust="spacingAndGlyphs">−1.00</text><text x="708.40" y="1155.60" font-size="15.8" text-anchor="end" textLength="45.06" lengthAdjust="spacingAndGlyphs">−1.25</text><text x="733.89" y="1168.80" font-size="15.8" text-anchor="middle" textLength="7.47" lengthAdjust="spacingAndGlyphs">0</text><text x="811.58" y="1168.80" font-size="15.8" text-anchor="middle" textLength="16.77" lengthAdjust="spacingAndGlyphs">20</text><text x="889.27" y="1168.80" font-size="15.8" text-anchor="middle" textLength="17.14" lengthAdjust="spacingAndGlyphs">40</text><text x="966.96" y="1168.80" font-size="15.8" text-anchor="middle" textLength="16.83" lengthAdjust="spacingAndGlyphs">60</text><text x="1044.65" y="1168.80" font-size="15.8" text-anchor="middle" textLength="16.86" lengthAdjust="spacingAndGlyphs">80</text><text x="906.40" y="1189.30" font-size="18.2" text-anchor="middle" textLength="40.75" lengthAdjust="spacingAndGlyphs">time</text><text transform="translate(655.50,1007.90) rotate(-90)" x="0" y="0" font-size="18.2" text-anchor="middle" textLength="67.92" lengthAdjust="spacingAndGlyphs">position</text><text x="895.80" y="1245.00" font-size="28.7" text-anchor="middle" class="cap" textLength="187.00" lengthAdjust="spacingAndGlyphs">right-right-left</text><text transform="translate(630.00,836.60) scale(1.0,1)" font-size="34.7" class="let">F</text><text x="269.70" y="1281.10" font-size="20.3" text-anchor="middle" textLength="269.52" lengthAdjust="spacingAndGlyphs">KL: 11.03, H: -1.49, G: -3.87</text><text x="72.00" y="1293.40" font-size="15.8" text-anchor="end" textLength="32.54" lengthAdjust="spacingAndGlyphs">0.75</text><text x="72.00" y="1328.80" font-size="15.8" text-anchor="end" textLength="32.87" lengthAdjust="spacingAndGlyphs">0.50</text><text x="72.00" y="1364.20" font-size="15.8" text-anchor="end" textLength="32.54" lengthAdjust="spacingAndGlyphs">0.25</text><text x="72.00" y="1399.60" font-size="15.8" text-anchor="end" textLength="32.87" lengthAdjust="spacingAndGlyphs">0.00</text><text x="72.00" y="1435.00" font-size="15.8" text-anchor="end" textLength="45.06" lengthAdjust="spacingAndGlyphs">−0.25</text><text x="72.00" y="1470.40" font-size="15.8" text-anchor="end" textLength="45.39" lengthAdjust="spacingAndGlyphs">−0.50</text><text x="72.00" y="1505.80" font-size="15.8" text-anchor="end" textLength="45.06" lengthAdjust="spacingAndGlyphs">−0.75</text><text x="72.00" y="1541.20" font-size="15.8" text-anchor="end" textLength="45.39" lengthAdjust="spacingAndGlyphs">−1.00</text><text x="72.00" y="1576.60" font-size="15.8" text-anchor="end" textLength="45.06" lengthAdjust="spacingAndGlyphs">−1.25</text><text x="97.49" y="1589.80" font-size="15.8" text-anchor="middle" textLength="7.47" lengthAdjust="spacingAndGlyphs">0</text><text x="175.18" y="1589.80" font-size="15.8" text-anchor="middle" textLength="16.77" lengthAdjust="spacingAndGlyphs">20</text><text x="252.87" y="1589.80" font-size="15.8" text-anchor="middle" textLength="17.14" lengthAdjust="spacingAndGlyphs">40</text><text x="330.56" y="1589.80" font-size="15.8" text-anchor="middle" textLength="16.83" lengthAdjust="spacingAndGlyphs">60</text><text x="408.25" y="1589.80" font-size="15.8" text-anchor="middle" textLength="16.86" lengthAdjust="spacingAndGlyphs">80</text><text x="270.00" y="1610.30" font-size="18.2" text-anchor="middle" textLength="40.75" lengthAdjust="spacingAndGlyphs">time</text><text transform="translate(19.10,1428.90) rotate(-90)" x="0" y="0" font-size="18.2" text-anchor="middle" textLength="67.92" lengthAdjust="spacingAndGlyphs">position</text><text x="259.40" y="1666.00" font-size="28.7" text-anchor="middle" class="cap" textLength="187.00" lengthAdjust="spacingAndGlyphs">right-left-right</text><text transform="translate(0.80,1252.80) scale(1.0,1)" font-size="34.7" class="let">G</text><text x="906.10" y="1281.10" font-size="20.3" text-anchor="middle" textLength="269.38" lengthAdjust="spacingAndGlyphs">KL: 11.11, H: -1.70, G: -5.91</text><text x="708.40" y="1293.40" font-size="15.8" text-anchor="end" textLength="32.54" lengthAdjust="spacingAndGlyphs">0.75</text><text x="708.40" y="1328.80" font-size="15.8" text-anchor="end" textLength="32.87" lengthAdjust="spacingAndGlyphs">0.50</text><text x="708.40" y="1364.20" font-size="15.8" text-anchor="end" textLength="32.54" lengthAdjust="spacingAndGlyphs">0.25</text><text x="708.40" y="1399.60" font-size="15.8" text-anchor="end" textLength="32.87" lengthAdjust="spacingAndGlyphs">0.00</text><text x="708.40" y="1435.00" font-size="15.8" text-anchor="end" textLength="45.06" lengthAdjust="spacingAndGlyphs">−0.25</text><text x="708.40" y="1470.40" font-size="15.8" text-anchor="end" textLength="45.39" lengthAdjust="spacingAndGlyphs">−0.50</text><text x="708.40" y="1505.80" font-size="15.8" text-anchor="end" textLength="45.06" lengthAdjust="spacingAndGlyphs">−0.75</text><text x="708.40" y="1541.20" font-size="15.8" text-anchor="end" textLength="45.39" lengthAdjust="spacingAndGlyphs">−1.00</text><text x="708.40" y="1576.60" font-size="15.8" text-anchor="end" textLength="45.06" lengthAdjust="spacingAndGlyphs">−1.25</text><text x="733.89" y="1589.80" font-size="15.8" text-anchor="middle" textLength="7.47" lengthAdjust="spacingAndGlyphs">0</text><text x="811.58" y="1589.80" font-size="15.8" text-anchor="middle" textLength="16.77" lengthAdjust="spacingAndGlyphs">20</text><text x="889.27" y="1589.80" font-size="15.8" text-anchor="middle" textLength="17.14" lengthAdjust="spacingAndGlyphs">40</text><text x="966.96" y="1589.80" font-size="15.8" text-anchor="middle" textLength="16.83" lengthAdjust="spacingAndGlyphs">60</text><text x="1044.65" y="1589.80" font-size="15.8" text-anchor="middle" textLength="16.86" lengthAdjust="spacingAndGlyphs">80</text><text x="906.40" y="1610.30" font-size="18.2" text-anchor="middle" textLength="40.75" lengthAdjust="spacingAndGlyphs">time</text><text transform="translate(655.50,1428.90) rotate(-90)" x="0" y="0" font-size="18.2" text-anchor="middle" textLength="67.92" lengthAdjust="spacingAndGlyphs">position</text><text x="895.80" y="1666.00" font-size="28.7" text-anchor="middle" class="cap" textLength="168.99" lengthAdjust="spacingAndGlyphs">right-left-left</text><text transform="translate(630.00,1252.80) scale(1.0,1)" font-size="34.7" class="let">H</text></g>
</svg>
</body></html>
